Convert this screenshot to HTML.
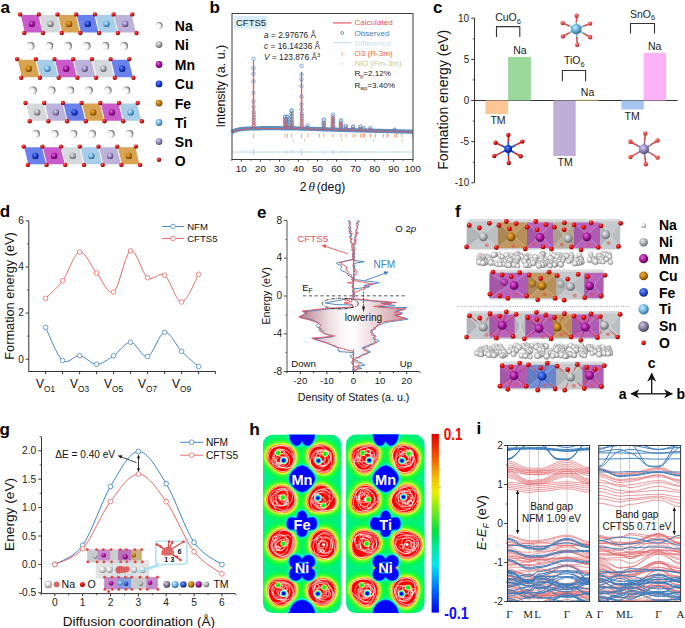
<!DOCTYPE html>
<html><head><meta charset="utf-8"><title>Figure</title>
<style>html,body{margin:0;padding:0;background:#fff;width:685px;height:628px;overflow:hidden}svg{display:block}</style>
</head><body>
<svg width="685" height="628" viewBox="0 0 685 628" font-family='"Liberation Sans", sans-serif'>
<defs>
<radialGradient id="gMn" cx="0.4" cy="0.38" r="0.62" fx="0.38" fy="0.33"><stop offset="0" stop-color="#e070e0"/><stop offset="0.55" stop-color="#a8109e"/><stop offset="1" stop-color="#5a0058"/></radialGradient>
<radialGradient id="gNi" cx="0.4" cy="0.38" r="0.62" fx="0.38" fy="0.33"><stop offset="0" stop-color="#f0f0f0"/><stop offset="0.55" stop-color="#a6a8aa"/><stop offset="1" stop-color="#606264"/></radialGradient>
<radialGradient id="gFe" cx="0.4" cy="0.38" r="0.62" fx="0.38" fy="0.33"><stop offset="0" stop-color="#f0b050"/><stop offset="0.55" stop-color="#c07a08"/><stop offset="1" stop-color="#6a3e00"/></radialGradient>
<radialGradient id="gCu" cx="0.4" cy="0.38" r="0.62" fx="0.38" fy="0.33"><stop offset="0" stop-color="#6a8af8"/><stop offset="0.55" stop-color="#1f3fd0"/><stop offset="1" stop-color="#0a1a70"/></radialGradient>
<radialGradient id="gTi" cx="0.4" cy="0.38" r="0.62" fx="0.38" fy="0.33"><stop offset="0" stop-color="#c8ecff"/><stop offset="0.55" stop-color="#6cb2e0"/><stop offset="1" stop-color="#30688e"/></radialGradient>
<radialGradient id="gSn" cx="0.4" cy="0.38" r="0.62" fx="0.38" fy="0.33"><stop offset="0" stop-color="#d8d0f0"/><stop offset="0.55" stop-color="#9688c0"/><stop offset="1" stop-color="#54486e"/></radialGradient>
<radialGradient id="gO" cx="0.4" cy="0.38" r="0.62" fx="0.38" fy="0.33"><stop offset="0" stop-color="#ff7070"/><stop offset="0.55" stop-color="#d81010"/><stop offset="1" stop-color="#800000"/></radialGradient>
<radialGradient id="gNa" cx="0.4" cy="0.38" r="0.62" fx="0.38" fy="0.33"><stop offset="0" stop-color="#ffffff"/><stop offset="0.55" stop-color="#f2f2f2"/><stop offset="1" stop-color="#8a8a8a"/></radialGradient>
<radialGradient id="gNa2" cx="0.36" cy="0.6" r="0.78" fx="0.34" fy="0.62"><stop offset="0" stop-color="#ffffff"/><stop offset="0.38" stop-color="#f8f8f8"/><stop offset="0.58" stop-color="#d0d0d0"/><stop offset="0.8" stop-color="#6a6a6a"/><stop offset="1" stop-color="#303030"/></radialGradient>
<radialGradient id="gOc" cx="0.42" cy="0.4" r="0.62" fx="0.36" fy="0.33"><stop offset="0" stop-color="#ff9a9a"/><stop offset="0.55" stop-color="#e44a46"/><stop offset="1" stop-color="#a82020"/></radialGradient>
<linearGradient id="dosL" gradientUnits="userSpaceOnUse" x1="298" y1="0" x2="354" y2="0"><stop offset="0" stop-color="#b27a8a"/><stop offset="0.25" stop-color="#cca6b1"/><stop offset="0.55" stop-color="#ecdde1"/><stop offset="0.78" stop-color="#faf5f6"/><stop offset="1" stop-color="#ffffff"/></linearGradient>
<linearGradient id="dosR" gradientUnits="userSpaceOnUse" x1="353" y1="0" x2="407" y2="0"><stop offset="0" stop-color="#ffffff"/><stop offset="0.4" stop-color="#ead5da"/><stop offset="0.78" stop-color="#d6a8b3"/><stop offset="1" stop-color="#c48e9b"/></linearGradient>
<radialGradient id="fNi" cx="0.42" cy="0.4" r="0.62" fx="0.36" fy="0.32"><stop offset="0" stop-color="#eceeef"/><stop offset="0.55" stop-color="#a9aeb2"/><stop offset="1" stop-color="#5f6366"/></radialGradient>
<radialGradient id="fMn" cx="0.42" cy="0.4" r="0.62" fx="0.36" fy="0.32"><stop offset="0" stop-color="#e468e0"/><stop offset="0.55" stop-color="#a8189e"/><stop offset="1" stop-color="#4e0048"/></radialGradient>
<radialGradient id="fCu" cx="0.42" cy="0.4" r="0.62" fx="0.36" fy="0.32"><stop offset="0" stop-color="#f0b040"/><stop offset="0.55" stop-color="#bd7d12"/><stop offset="1" stop-color="#5e3a00"/></radialGradient>
<radialGradient id="fFe" cx="0.42" cy="0.4" r="0.62" fx="0.36" fy="0.32"><stop offset="0" stop-color="#7090ff"/><stop offset="0.55" stop-color="#2d55d2"/><stop offset="1" stop-color="#0c1e70"/></radialGradient>
<radialGradient id="fTi" cx="0.42" cy="0.4" r="0.62" fx="0.36" fy="0.32"><stop offset="0" stop-color="#d0f0ff"/><stop offset="0.55" stop-color="#70b8e8"/><stop offset="1" stop-color="#2d6890"/></radialGradient>
<radialGradient id="fSn" cx="0.42" cy="0.4" r="0.62" fx="0.36" fy="0.32"><stop offset="0" stop-color="#d6d0e6"/><stop offset="0.55" stop-color="#8a80a2"/><stop offset="1" stop-color="#403850"/></radialGradient>
<radialGradient id="fO" cx="0.42" cy="0.4" r="0.62" fx="0.36" fy="0.3"><stop offset="0" stop-color="#ff7070"/><stop offset="0.5" stop-color="#e60a0a"/><stop offset="1" stop-color="#8a0000"/></radialGradient>
<radialGradient id="fNa" cx="0.42" cy="0.4" r="0.62" fx="0.36" fy="0.3"><stop offset="0" stop-color="#ffffff"/><stop offset="0.45" stop-color="#e6e6e6"/><stop offset="0.8" stop-color="#acacac"/><stop offset="1" stop-color="#707070"/></radialGradient>
<marker id="fah" viewBox="0 0 10 10" refX="9" refY="5" markerWidth="7" markerHeight="7" orient="auto-start-reverse"><path d="M0,0 L10,5 L0,10 L3,5 z" fill="#111"/></marker>
<filter id="hb0" x="-40%" y="-40%" width="180%" height="180%"><feGaussianBlur stdDeviation="2.0"/></filter>
<filter id="hb1" x="-30%" y="-30%" width="160%" height="160%"><feGaussianBlur stdDeviation="1.6"/></filter>
<filter id="hb2" x="-30%" y="-30%" width="160%" height="160%"><feGaussianBlur stdDeviation="0.8"/></filter>
<filter id="hb3" x="-30%" y="-30%" width="160%" height="160%"><feGaussianBlur stdDeviation="0.35"/></filter>
<clipPath id="hcL"><rect x="263" y="434.8" width="77.9" height="178.2" rx="9.5"/></clipPath>
<clipPath id="hcR"><rect x="346.1" y="434.6" width="78.4" height="178.4" rx="9.5"/></clipPath>
<linearGradient id="hcb" x1="0" y1="0" x2="0" y2="1"><stop offset="0" stop-color="#e00000"/><stop offset="0.12" stop-color="#f05000"/><stop offset="0.25" stop-color="#f6c000"/><stop offset="0.33" stop-color="#e8f000"/><stop offset="0.45" stop-color="#60e820"/><stop offset="0.55" stop-color="#00e040"/><stop offset="0.62" stop-color="#00e890"/><stop offset="0.73" stop-color="#00e8f0"/><stop offset="0.85" stop-color="#0080ff"/><stop offset="1" stop-color="#0000e8"/></linearGradient>
<path id="rb1" d="M13.5,0 C13.4,1.8 12.9,3.7 12.3,5.3 C11.7,7 10.8,8.7 9.6,10 C8.4,11.4 6.9,12.7 5.3,13.3 C3.7,14 1.7,14.2 0,14 C-1.7,13.8 -3.4,12.9 -4.8,12.1 C-6.2,11.3 -7.5,10.2 -8.6,9 C-9.8,7.9 -11,6.7 -12,5.2 C-12.9,3.7 -13.9,1.8 -14.1,0 C-14.4,-1.8 -14.2,-4.1 -13.5,-5.8 C-12.8,-7.6 -11.3,-9.2 -9.8,-10.3 C-8.4,-11.4 -6.5,-11.9 -4.9,-12.3 C-3.2,-12.7 -1.6,-12.8 0,-12.8 C1.6,-12.8 3.3,-12.8 4.9,-12.3 C6.5,-11.8 8.2,-11.1 9.5,-10 C10.8,-8.8 12,-7.2 12.7,-5.5 C13.3,-3.8 13.5,-1.8 13.5,0Z"/>
<path id="rb2" d="M13,0 C13,1.7 12.7,3.6 12.2,5.3 C11.6,7 10.8,8.7 9.7,10.2 C8.6,11.6 7,12.9 5.4,13.7 C3.8,14.4 1.7,14.7 0,14.5 C-1.7,14.3 -3.5,13.5 -5,12.6 C-6.4,11.7 -7.6,10.3 -8.7,9.1 C-9.8,7.8 -10.7,6.5 -11.4,5 C-12.2,3.4 -13,1.8 -13.2,0 C-13.5,-1.8 -13.5,-3.9 -13,-5.6 C-12.4,-7.4 -11.3,-9.2 -10,-10.5 C-8.7,-11.7 -6.9,-12.6 -5.2,-13.1 C-3.5,-13.7 -1.7,-13.8 0,-13.7 C1.7,-13.5 3.4,-13.2 5,-12.5 C6.5,-11.8 8,-10.9 9.2,-9.6 C10.4,-8.4 11.4,-6.8 12.1,-5.2 C12.7,-3.6 13,-1.7 13,0Z"/>
<path id="rb3" d="M14.1,0 C14.2,1.8 13.9,4 13.1,5.6 C12.4,7.3 11.1,9 9.8,10.1 C8.4,11.3 6.6,12 5,12.5 C3.4,13 1.6,13.1 0,13 C-1.6,13 -3.3,12.7 -4.9,12.2 C-6.5,11.7 -8.2,11 -9.6,10 C-11,8.9 -12.4,7.3 -13.2,5.7 C-13.9,4 -14.4,1.9 -14.3,0 C-14.2,-1.9 -13.6,-3.9 -12.7,-5.5 C-11.9,-7.1 -10.7,-8.6 -9.4,-9.7 C-8.1,-10.9 -6.6,-11.9 -5,-12.5 C-3.4,-13.2 -1.7,-13.6 0,-13.6 C1.7,-13.6 3.5,-13.3 5.1,-12.6 C6.6,-12 8.2,-11 9.4,-9.8 C10.7,-8.6 11.8,-7 12.6,-5.4 C13.4,-3.8 14,-1.8 14.1,0Z"/>
<path id="rb4" d="M14.4,0 C14.7,1.9 14.6,4.2 13.9,6 C13.1,7.7 11.5,9.3 10,10.3 C8.4,11.3 6.4,11.6 4.8,11.9 C3.1,12.3 1.6,12.2 0,12.3 C-1.6,12.3 -3.2,12.6 -4.9,12.3 C-6.6,12 -8.7,11.6 -10.1,10.5 C-11.6,9.4 -13,7.6 -13.6,5.9 C-14.3,4.1 -14.2,1.8 -13.9,0 C-13.7,-1.8 -12.8,-3.6 -12,-5.2 C-11.2,-6.8 -10.3,-8.2 -9.2,-9.6 C-8.1,-10.9 -6.8,-12.3 -5.2,-13.1 C-3.7,-13.9 -1.7,-14.4 0,-14.3 C1.7,-14.3 3.5,-13.4 5,-12.6 C6.5,-11.7 7.7,-10.4 8.9,-9.2 C10.1,-8 11.2,-6.7 12.1,-5.2 C13,-3.7 14.1,-1.9 14.4,0Z"/>
<path id="rb5" d="M13.2,0 C13.1,1.7 12.7,3.5 12,5.1 C11.4,6.7 10.6,8.3 9.5,9.6 C8.3,10.9 6.9,12.2 5.3,13.1 C3.8,13.9 1.8,14.4 0,14.5 C-1.8,14.6 -3.8,14.2 -5.5,13.5 C-7.2,12.7 -8.8,11.5 -10,10.2 C-11.2,8.8 -12.2,7.1 -12.8,5.4 C-13.4,3.7 -13.6,1.7 -13.5,0 C-13.4,-1.7 -12.9,-3.5 -12.2,-5.1 C-11.5,-6.7 -10.5,-8.2 -9.4,-9.5 C-8.2,-10.8 -6.8,-12 -5.2,-12.8 C-3.7,-13.6 -1.8,-14.3 0,-14.5 C1.8,-14.6 3.9,-14.4 5.6,-13.7 C7.3,-13 9,-11.7 10.2,-10.3 C11.4,-8.9 12.2,-7.1 12.7,-5.3 C13.2,-3.6 13.3,-1.7 13.2,0Z"/>
<path id="rb6" d="M13,0 C13.1,1.7 13.1,3.6 12.6,5.3 C12.1,7 11.2,8.8 10,10.2 C8.9,11.5 7.2,12.8 5.5,13.5 C3.8,14.2 1.8,14.6 0,14.5 C-1.8,14.4 -3.7,13.9 -5.4,13.1 C-7,12.3 -8.5,11.1 -9.7,9.8 C-10.8,8.5 -11.8,6.8 -12.4,5.2 C-13,3.6 -13.2,1.7 -13.2,0 C-13.2,-1.7 -12.9,-3.5 -12.3,-5.2 C-11.7,-6.8 -10.9,-8.5 -9.7,-9.9 C-8.6,-11.3 -7.1,-12.6 -5.5,-13.5 C-3.9,-14.3 -1.8,-14.9 0,-14.9 C1.8,-14.8 3.9,-14.3 5.5,-13.4 C7.1,-12.5 8.5,-11.1 9.6,-9.7 C10.7,-8.3 11.4,-6.7 12,-5 C12.6,-3.4 12.9,-1.7 13,0Z"/>
<path id="rb7" d="M14.2,0 C14,1.8 13,3.7 12.1,5.2 C11.2,6.8 10,8 8.8,9.1 C7.5,10.3 6.3,11.4 4.8,12.2 C3.4,12.9 1.7,13.7 0,13.9 C-1.7,14 -3.6,13.8 -5.2,13.1 C-6.8,12.5 -8.3,11.2 -9.5,9.9 C-10.7,8.6 -11.6,7 -12.3,5.3 C-13,3.7 -13.5,1.8 -13.6,0 C-13.7,-1.8 -13.5,-3.9 -12.9,-5.6 C-12.2,-7.2 -11,-8.9 -9.6,-10.1 C-8.3,-11.2 -6.5,-11.9 -4.9,-12.3 C-3.3,-12.7 -1.6,-12.7 0,-12.7 C1.6,-12.7 3.2,-12.6 4.8,-12.1 C6.4,-11.7 8.3,-11.2 9.7,-10.2 C11.2,-9.1 12.7,-7.5 13.5,-5.8 C14.2,-4.1 14.4,-1.8 14.2,0Z"/>
<path id="rb8" d="M13.9,0 C13.8,1.8 13.2,3.7 12.4,5.4 C11.6,7 10.5,8.5 9.3,9.7 C8.1,11 6.6,12 5,12.7 C3.5,13.3 1.7,13.7 0,13.6 C-1.7,13.6 -3.4,13.1 -4.9,12.4 C-6.4,11.7 -7.8,10.7 -9.1,9.5 C-10.3,8.3 -11.5,6.9 -12.3,5.3 C-13.2,3.8 -13.9,1.8 -14.1,0 C-14.2,-1.8 -13.9,-4 -13.2,-5.7 C-12.4,-7.4 -11,-9 -9.6,-10.1 C-8.2,-11.2 -6.4,-11.8 -4.8,-12.2 C-3.2,-12.7 -1.6,-12.8 0,-12.8 C1.6,-12.8 3.3,-12.7 4.9,-12.3 C6.5,-11.8 8.2,-11.1 9.6,-10 C10.9,-8.9 12.3,-7.3 13,-5.6 C13.7,-3.9 14,-1.8 13.9,0Z"/>
<path id="rb61" d="M13.2,0 C12.7,1.8 11.6,3.2 10.8,4.7 C10,6.1 9.4,7.4 8.4,8.8 C7.5,10.2 6.5,11.9 5.1,12.9 C3.7,14 1.8,15 0,15.1 C-1.8,15.2 -3.8,14.5 -5.4,13.6 C-6.9,12.7 -8.2,11 -9.2,9.6 C-10.3,8.2 -11.1,6.7 -11.8,5.1 C-12.5,3.5 -13.3,1.8 -13.5,0 C-13.7,-1.8 -13.6,-3.9 -12.9,-5.6 C-12.3,-7.2 -10.8,-8.8 -9.5,-9.9 C-8.1,-10.9 -6.3,-11.4 -4.7,-11.8 C-3.1,-12.3 -1.6,-12.5 0,-12.6 C1.6,-12.8 3.4,-13.2 5.1,-13 C6.9,-12.7 9.1,-12.2 10.5,-11 C12,-9.8 13.2,-7.8 13.7,-5.9 C14.1,-4.1 13.7,-1.8 13.2,0Z"/>
<path id="rb62" d="M13.4,0 C13.3,1.8 12.8,3.6 12.1,5.2 C11.4,6.9 10.5,8.4 9.3,9.8 C8.2,11.1 6.9,12.5 5.3,13.4 C3.7,14.2 1.8,14.9 0,14.8 C-1.8,14.8 -3.7,14.1 -5.2,13.2 C-6.7,12.2 -7.9,10.6 -8.9,9.3 C-9.8,7.9 -10.4,6.3 -11.1,4.8 C-11.7,3.2 -12.4,1.7 -12.7,0 C-13,-1.7 -13.3,-3.8 -12.9,-5.6 C-12.5,-7.4 -11.6,-9.4 -10.3,-10.8 C-9.1,-12.1 -7.1,-13.1 -5.4,-13.5 C-3.6,-14 -1.7,-13.8 0,-13.6 C1.7,-13.3 3.3,-12.8 4.8,-12.1 C6.3,-11.4 7.9,-10.6 9.1,-9.5 C10.4,-8.4 11.6,-6.9 12.4,-5.3 C13.1,-3.8 13.4,-1.8 13.4,0Z"/>
<path id="rb63" d="M14.1,0 C14.1,1.8 13.6,3.9 12.8,5.5 C12,7.1 10.5,8.5 9.2,9.5 C7.8,10.6 6.2,11.2 4.7,11.8 C3.2,12.4 1.7,12.9 0,13.2 C-1.7,13.4 -3.6,13.7 -5.3,13.3 C-7.1,13 -9.1,12.1 -10.5,10.9 C-11.8,9.6 -12.9,7.6 -13.4,5.7 C-13.9,3.9 -13.6,1.8 -13.3,0 C-13,-1.8 -12.3,-3.4 -11.6,-5 C-10.9,-6.5 -10.1,-8 -9,-9.3 C-7.9,-10.7 -6.7,-12.1 -5.2,-12.9 C-3.7,-13.7 -1.7,-14.3 0,-14.3 C1.7,-14.4 3.6,-13.8 5.2,-13.1 C6.8,-12.3 8.3,-11.1 9.5,-9.9 C10.8,-8.6 11.9,-7.1 12.7,-5.5 C13.5,-3.8 14.1,-1.8 14.1,0Z"/>
<path id="rb64" d="M13.3,0 C13.3,1.8 13,3.7 12.3,5.3 C11.7,6.9 10.6,8.6 9.4,9.8 C8.2,11 6.6,11.9 5,12.5 C3.4,13.1 1.7,13.4 0,13.5 C-1.7,13.5 -3.5,13.4 -5.2,12.9 C-6.8,12.4 -8.7,11.6 -10.1,10.4 C-11.4,9.3 -12.8,7.5 -13.4,5.8 C-14.1,4 -14.2,1.8 -13.9,0 C-13.6,-1.8 -12.7,-3.6 -11.9,-5.1 C-11,-6.6 -9.9,-7.9 -8.7,-9.1 C-7.6,-10.2 -6.4,-11.4 -4.9,-12.3 C-3.5,-13.2 -1.7,-14.1 0,-14.3 C1.7,-14.5 3.8,-14.4 5.5,-13.7 C7.1,-13.1 8.8,-11.7 10,-10.3 C11.1,-8.9 12,-7.1 12.5,-5.4 C13.1,-3.7 13.3,-1.8 13.3,0Z"/>
<path id="rb65" d="M14.8,0 C14.7,1.9 13.7,3.8 12.8,5.4 C11.8,6.9 10.3,8 9,9.1 C7.6,10.1 6.3,11 4.8,11.8 C3.3,12.5 1.7,13.4 0,13.7 C-1.7,14.1 -3.9,14.2 -5.6,13.7 C-7.3,13.2 -9.2,12 -10.5,10.6 C-11.7,9.2 -12.5,7.3 -13,5.5 C-13.5,3.7 -13.6,1.8 -13.5,0 C-13.4,-1.8 -13.1,-3.6 -12.4,-5.2 C-11.8,-6.9 -10.9,-8.6 -9.7,-9.9 C-8.5,-11.1 -6.9,-12.2 -5.3,-12.9 C-3.6,-13.5 -1.7,-13.6 0,-13.5 C1.7,-13.5 3.4,-13.1 5.1,-12.5 C6.7,-11.9 8.5,-11.1 9.9,-10 C11.3,-8.9 12.9,-7.4 13.7,-5.8 C14.5,-4.1 15,-1.9 14.8,0Z"/>
<path id="rb66" d="M14.5,0 C14.6,1.8 14,3.9 13.2,5.5 C12.4,7.2 11.1,8.7 9.8,9.9 C8.5,11.2 6.9,12.2 5.3,12.9 C3.6,13.6 1.8,14.1 0,14.1 C-1.8,14.1 -3.7,13.6 -5.2,12.8 C-6.8,12.1 -8.2,10.8 -9.3,9.5 C-10.5,8.2 -11.3,6.6 -12.1,5.1 C-12.8,3.5 -13.4,1.8 -13.7,0 C-13.9,-1.8 -14,-3.9 -13.5,-5.7 C-13,-7.5 -12,-9.5 -10.6,-10.8 C-9.3,-12 -7.2,-13 -5.5,-13.4 C-3.7,-13.8 -1.7,-13.6 0,-13.3 C1.7,-13 3.3,-12.5 4.8,-11.8 C6.4,-11.2 7.9,-10.5 9.3,-9.4 C10.7,-8.4 12.1,-7 13,-5.5 C13.9,-3.9 14.5,-1.8 14.5,0Z"/>
<path id="rb67" d="M13.2,0 C13.1,1.8 12.7,3.6 12.1,5.2 C11.5,6.9 10.8,8.7 9.6,10.1 C8.5,11.5 7,13 5.4,13.7 C3.8,14.4 1.7,14.6 0,14.4 C-1.7,14.1 -3.4,13.1 -4.8,12.2 C-6.2,11.2 -7.3,10 -8.4,8.8 C-9.5,7.6 -10.7,6.5 -11.6,5 C-12.5,3.6 -13.7,1.8 -14,0 C-14.3,-1.8 -14.3,-4.2 -13.7,-5.9 C-13,-7.7 -11.5,-9.4 -10,-10.5 C-8.5,-11.5 -6.6,-12 -4.9,-12.4 C-3.2,-12.8 -1.6,-12.8 0,-12.8 C1.6,-12.8 3.3,-12.8 4.9,-12.3 C6.5,-11.8 8.3,-11.1 9.6,-10 C10.9,-8.9 12,-7.1 12.6,-5.5 C13.2,-3.8 13.3,-1.8 13.2,0Z"/>
<path id="rb68" d="M12.5,0 C12.4,1.7 12,3.3 11.4,4.9 C10.9,6.6 10.2,8.2 9.2,9.7 C8.2,11.1 6.9,12.7 5.4,13.6 C3.8,14.5 1.8,15.1 0,15 C-1.8,15 -3.8,14.3 -5.3,13.3 C-6.8,12.4 -8.1,10.9 -9.1,9.6 C-10.2,8.2 -11,6.6 -11.6,5 C-12.2,3.4 -12.7,1.7 -12.8,0 C-12.9,-1.7 -12.8,-3.6 -12.2,-5.3 C-11.7,-7 -10.7,-8.7 -9.5,-9.9 C-8.3,-11.2 -6.7,-12.3 -5.1,-13 C-3.6,-13.7 -1.7,-14.1 0,-14.1 C1.7,-14.2 3.6,-14 5.3,-13.3 C6.9,-12.6 8.6,-11.5 9.7,-10.2 C10.9,-8.8 11.7,-7 12.2,-5.3 C12.7,-3.6 12.6,-1.7 12.5,0Z"/>
<linearGradient id="hbg" x1="0" y1="0" x2="1" y2="0"><stop offset="0" stop-color="#00f090"/><stop offset="0.1" stop-color="#00f080"/><stop offset="0.5" stop-color="#00f078"/><stop offset="0.9" stop-color="#00f080"/><stop offset="1" stop-color="#00f090"/></linearGradient>
<clipPath id="icL"><rect x="507.5" y="445.5" width="82" height="156"/></clipPath>
<clipPath id="icR"><rect x="598.7" y="445.5" width="81.9" height="156"/></clipPath>
</defs>
<rect width="685" height="628" fill="#fff"/>
<text x="0.5" y="12.9" font-size="17" font-weight="bold" fill="#000">a</text>
<polygon points="20.7,15 38.2,15 42.5,32.4 24.9,32.4" fill="#c95bcb" stroke="none" stroke-width="1"/>
<polygon points="39.3,15 57,15 61.2,32.4 43.5,32.4" fill="#d5d9dc" stroke="none" stroke-width="1"/>
<polygon points="58,15 75.7,15 79.9,32.4 62.2,32.4" fill="#d9a354" stroke="none" stroke-width="1"/>
<polygon points="76.7,15 94.3,15 98.5,32.4 80.9,32.4" fill="#6a80ea" stroke="none" stroke-width="1"/>
<polygon points="95.5,15 113.1,15 117.3,32.4 99.7,32.4" fill="#a8cde8" stroke="none" stroke-width="1"/>
<polygon points="114.1,15 131.7,15 135.9,32.4 118.3,32.4" fill="#bdb3da" stroke="none" stroke-width="1"/>
<circle cx="31.8" cy="23.9" r="3.2" fill="url(#gMn)"/>
<circle cx="50.5" cy="23.9" r="3.2" fill="url(#gNi)"/>
<circle cx="69.1" cy="23.9" r="3.2" fill="url(#gFe)"/>
<circle cx="87.8" cy="23.9" r="3.2" fill="url(#gCu)"/>
<circle cx="106.5" cy="23.9" r="3.2" fill="url(#gTi)"/>
<circle cx="125.2" cy="23.9" r="3.2" fill="url(#gSn)"/>
<circle cx="20.1" cy="14.4" r="2.2" fill="url(#gO)"/>
<circle cx="24.3" cy="33" r="2.2" fill="url(#gO)"/>
<circle cx="38.8" cy="14.4" r="2.2" fill="url(#gO)"/>
<circle cx="43" cy="33" r="2.2" fill="url(#gO)"/>
<circle cx="57.5" cy="14.4" r="2.2" fill="url(#gO)"/>
<circle cx="61.7" cy="33" r="2.2" fill="url(#gO)"/>
<circle cx="76.2" cy="14.4" r="2.2" fill="url(#gO)"/>
<circle cx="80.4" cy="33" r="2.2" fill="url(#gO)"/>
<circle cx="94.9" cy="14.4" r="2.2" fill="url(#gO)"/>
<circle cx="99.1" cy="33" r="2.2" fill="url(#gO)"/>
<circle cx="113.6" cy="14.4" r="2.2" fill="url(#gO)"/>
<circle cx="117.8" cy="33" r="2.2" fill="url(#gO)"/>
<circle cx="132.3" cy="14.4" r="2.2" fill="url(#gO)"/>
<circle cx="136.5" cy="33" r="2.2" fill="url(#gO)"/>
<polygon points="17.7,59.7 35.2,59.7 39.5,77.2 21.9,77.2" fill="#d9a354" stroke="none" stroke-width="1"/>
<polygon points="36.3,59.7 54,59.7 58.2,77.2 40.5,77.2" fill="#a8cde8" stroke="none" stroke-width="1"/>
<polygon points="55,59.7 72.7,59.7 76.9,77.2 59.2,77.2" fill="#c95bcb" stroke="none" stroke-width="1"/>
<polygon points="73.7,59.7 91.3,59.7 95.5,77.2 77.9,77.2" fill="#bdb3da" stroke="none" stroke-width="1"/>
<polygon points="92.5,59.7 110.1,59.7 114.3,77.2 96.7,77.2" fill="#d5d9dc" stroke="none" stroke-width="1"/>
<polygon points="111.1,59.7 128.7,59.7 132.9,77.2 115.3,77.2" fill="#6a80ea" stroke="none" stroke-width="1"/>
<circle cx="28.8" cy="68.7" r="3.2" fill="url(#gFe)"/>
<circle cx="47.5" cy="68.7" r="3.2" fill="url(#gTi)"/>
<circle cx="66.2" cy="68.7" r="3.2" fill="url(#gMn)"/>
<circle cx="84.8" cy="68.7" r="3.2" fill="url(#gSn)"/>
<circle cx="103.5" cy="68.7" r="3.2" fill="url(#gNi)"/>
<circle cx="122.2" cy="68.7" r="3.2" fill="url(#gCu)"/>
<circle cx="17.1" cy="59.1" r="2.2" fill="url(#gO)"/>
<circle cx="21.3" cy="77.8" r="2.2" fill="url(#gO)"/>
<circle cx="35.8" cy="59.1" r="2.2" fill="url(#gO)"/>
<circle cx="40" cy="77.8" r="2.2" fill="url(#gO)"/>
<circle cx="54.5" cy="59.1" r="2.2" fill="url(#gO)"/>
<circle cx="58.7" cy="77.8" r="2.2" fill="url(#gO)"/>
<circle cx="73.2" cy="59.1" r="2.2" fill="url(#gO)"/>
<circle cx="77.4" cy="77.8" r="2.2" fill="url(#gO)"/>
<circle cx="91.9" cy="59.1" r="2.2" fill="url(#gO)"/>
<circle cx="96.1" cy="77.8" r="2.2" fill="url(#gO)"/>
<circle cx="110.6" cy="59.1" r="2.2" fill="url(#gO)"/>
<circle cx="114.8" cy="77.8" r="2.2" fill="url(#gO)"/>
<circle cx="129.3" cy="59.1" r="2.2" fill="url(#gO)"/>
<circle cx="133.5" cy="77.8" r="2.2" fill="url(#gO)"/>
<polygon points="26.1,103.6 43.7,103.6 47.9,120.7 30.2,120.7" fill="#d5d9dc" stroke="none" stroke-width="1"/>
<polygon points="44.8,103.6 62.4,103.6 66.6,120.7 49,120.7" fill="#bdb3da" stroke="none" stroke-width="1"/>
<polygon points="63.4,103.6 81,103.6 85.2,120.7 67.6,120.7" fill="#6a80ea" stroke="none" stroke-width="1"/>
<polygon points="82.1,103.6 99.8,103.6 104,120.7 86.3,120.7" fill="#d9a354" stroke="none" stroke-width="1"/>
<polygon points="100.8,103.6 118.5,103.6 122.7,120.7 105,120.7" fill="#c95bcb" stroke="none" stroke-width="1"/>
<polygon points="119.5,103.6 137.1,103.6 141.3,120.7 123.8,120.7" fill="#a8cde8" stroke="none" stroke-width="1"/>
<circle cx="37.2" cy="112.4" r="3.2" fill="url(#gNi)"/>
<circle cx="55.9" cy="112.4" r="3.2" fill="url(#gSn)"/>
<circle cx="74.5" cy="112.4" r="3.2" fill="url(#gCu)"/>
<circle cx="93.2" cy="112.4" r="3.2" fill="url(#gFe)"/>
<circle cx="111.9" cy="112.4" r="3.2" fill="url(#gMn)"/>
<circle cx="130.6" cy="112.4" r="3.2" fill="url(#gTi)"/>
<circle cx="25.5" cy="103" r="2.2" fill="url(#gO)"/>
<circle cx="29.7" cy="121.3" r="2.2" fill="url(#gO)"/>
<circle cx="44.2" cy="103" r="2.2" fill="url(#gO)"/>
<circle cx="48.4" cy="121.3" r="2.2" fill="url(#gO)"/>
<circle cx="62.9" cy="103" r="2.2" fill="url(#gO)"/>
<circle cx="67.1" cy="121.3" r="2.2" fill="url(#gO)"/>
<circle cx="81.6" cy="103" r="2.2" fill="url(#gO)"/>
<circle cx="85.8" cy="121.3" r="2.2" fill="url(#gO)"/>
<circle cx="100.3" cy="103" r="2.2" fill="url(#gO)"/>
<circle cx="104.5" cy="121.3" r="2.2" fill="url(#gO)"/>
<circle cx="119" cy="103" r="2.2" fill="url(#gO)"/>
<circle cx="123.2" cy="121.3" r="2.2" fill="url(#gO)"/>
<circle cx="137.7" cy="103" r="2.2" fill="url(#gO)"/>
<circle cx="141.9" cy="121.3" r="2.2" fill="url(#gO)"/>
<polygon points="24.2,147.2 41.9,147.2 46.1,164.3 28.4,164.3" fill="#6a80ea" stroke="none" stroke-width="1"/>
<polygon points="42.9,147.2 60.5,147.2 64.8,164.3 47.1,164.3" fill="#c95bcb" stroke="none" stroke-width="1"/>
<polygon points="61.6,147.2 79.2,147.2 83.5,164.3 65.8,164.3" fill="#d5d9dc" stroke="none" stroke-width="1"/>
<polygon points="80.3,147.2 98,147.2 102.2,164.3 84.5,164.3" fill="#a8cde8" stroke="none" stroke-width="1"/>
<polygon points="99,147.2 116.7,147.2 120.9,164.3 103.2,164.3" fill="#bdb3da" stroke="none" stroke-width="1"/>
<polygon points="117.8,147.2 135.3,147.2 139.5,164.3 122,164.3" fill="#d9a354" stroke="none" stroke-width="1"/>
<circle cx="35.4" cy="155.9" r="3.2" fill="url(#gCu)"/>
<circle cx="54.1" cy="155.9" r="3.2" fill="url(#gMn)"/>
<circle cx="72.7" cy="155.9" r="3.2" fill="url(#gNi)"/>
<circle cx="91.4" cy="155.9" r="3.2" fill="url(#gTi)"/>
<circle cx="110.1" cy="155.9" r="3.2" fill="url(#gSn)"/>
<circle cx="128.8" cy="155.9" r="3.2" fill="url(#gFe)"/>
<circle cx="23.7" cy="146.6" r="2.2" fill="url(#gO)"/>
<circle cx="27.9" cy="164.9" r="2.2" fill="url(#gO)"/>
<circle cx="42.4" cy="146.6" r="2.2" fill="url(#gO)"/>
<circle cx="46.6" cy="164.9" r="2.2" fill="url(#gO)"/>
<circle cx="61.1" cy="146.6" r="2.2" fill="url(#gO)"/>
<circle cx="65.3" cy="164.9" r="2.2" fill="url(#gO)"/>
<circle cx="79.8" cy="146.6" r="2.2" fill="url(#gO)"/>
<circle cx="84" cy="164.9" r="2.2" fill="url(#gO)"/>
<circle cx="98.5" cy="146.6" r="2.2" fill="url(#gO)"/>
<circle cx="102.7" cy="164.9" r="2.2" fill="url(#gO)"/>
<circle cx="117.2" cy="146.6" r="2.2" fill="url(#gO)"/>
<circle cx="121.4" cy="164.9" r="2.2" fill="url(#gO)"/>
<circle cx="135.9" cy="146.6" r="2.2" fill="url(#gO)"/>
<circle cx="140.1" cy="164.9" r="2.2" fill="url(#gO)"/>
<circle cx="30.6" cy="45.9" r="3.9" fill="url(#gNa2)"/>
<circle cx="49.3" cy="45.9" r="3.9" fill="url(#gNa2)"/>
<circle cx="68" cy="45.9" r="3.9" fill="url(#gNa2)"/>
<circle cx="86.7" cy="45.9" r="3.9" fill="url(#gNa2)"/>
<circle cx="105.4" cy="45.9" r="3.9" fill="url(#gNa2)"/>
<circle cx="124.1" cy="45.9" r="3.9" fill="url(#gNa2)"/>
<circle cx="32.9" cy="90.3" r="3.9" fill="url(#gNa2)"/>
<circle cx="51.6" cy="90.3" r="3.9" fill="url(#gNa2)"/>
<circle cx="70.3" cy="90.3" r="3.9" fill="url(#gNa2)"/>
<circle cx="89" cy="90.3" r="3.9" fill="url(#gNa2)"/>
<circle cx="107.7" cy="90.3" r="3.9" fill="url(#gNa2)"/>
<circle cx="126.4" cy="90.3" r="3.9" fill="url(#gNa2)"/>
<circle cx="36" cy="133.8" r="3.9" fill="url(#gNa2)"/>
<circle cx="54.7" cy="133.8" r="3.9" fill="url(#gNa2)"/>
<circle cx="73.4" cy="133.8" r="3.9" fill="url(#gNa2)"/>
<circle cx="92.1" cy="133.8" r="3.9" fill="url(#gNa2)"/>
<circle cx="110.8" cy="133.8" r="3.9" fill="url(#gNa2)"/>
<circle cx="129.5" cy="133.8" r="3.9" fill="url(#gNa2)"/>
<circle cx="159" cy="25.5" r="3.6" fill="url(#gNa2)"/>
<text x="174.8" y="30.6" font-size="14" font-weight="bold" fill="#000">Na</text>
<circle cx="159" cy="44.6" r="3.4" fill="url(#gNi)"/>
<text x="174.8" y="50.2" font-size="14" font-weight="bold" fill="#000">Ni</text>
<circle cx="159" cy="64.5" r="3.4" fill="url(#gMn)"/>
<text x="174.8" y="69.7" font-size="14" font-weight="bold" fill="#000">Mn</text>
<circle cx="159" cy="83.9" r="3.4" fill="url(#gCu)"/>
<text x="174.8" y="89" font-size="14" font-weight="bold" fill="#000">Cu</text>
<circle cx="159" cy="103.1" r="3.4" fill="url(#gFe)"/>
<text x="174.8" y="108.6" font-size="14" font-weight="bold" fill="#000">Fe</text>
<circle cx="159" cy="122.5" r="3.4" fill="url(#gTi)"/>
<text x="174.8" y="128" font-size="14" font-weight="bold" fill="#000">Ti</text>
<circle cx="159" cy="141.6" r="3.4" fill="url(#gSn)"/>
<text x="174.8" y="147.3" font-size="14" font-weight="bold" fill="#000">Sn</text>
<circle cx="159" cy="159.8" r="2.2" fill="url(#gO)"/>
<text x="174.8" y="166" font-size="14" font-weight="bold" fill="#000">O</text>
<text x="209.6" y="12.8" font-size="17" font-weight="bold" fill="#000">b</text>
<text transform="translate(224.8,86.1) rotate(-90)" font-size="12.5" text-anchor="middle" fill="#111">Intensity (a. u.)</text>
<rect x="234.2" y="16" width="32.8" height="12.8" fill="#d9edf7"/>
<text x="236" y="25.8" font-size="9.5" fill="#1a1a1a">CFTS5</text>
<text x="264.1" y="38.4" font-size="8.3" fill="#222"><tspan font-style="italic">a</tspan> = 2.97676 Å</text>
<text x="264.1" y="48.6" font-size="8.3" fill="#222"><tspan font-style="italic">c</tspan> = 16.14236 Å</text>
<text x="264.1" y="59.9" font-size="8.3" fill="#222"><tspan font-style="italic">V</tspan> = 123.876 Å<tspan dy="-3" font-size="5.5">3</tspan></text>
<line x1="333" y1="22.9" x2="351.4" y2="22.9" stroke="#e8555d" stroke-width="1.2"/>
<text x="354.4" y="25.3" font-size="8.1" fill="#e8555d">Calculated</text>
<circle cx="342.2" cy="33" r="1.5" fill="none" stroke="#4d80b0" stroke-width="0.8"/>
<text x="354.4" y="35.5" font-size="8.1" fill="#4d80b0">Observed</text>
<line x1="333" y1="42.6" x2="351.4" y2="42.6" stroke="#c8dff0" stroke-width="1.2"/>
<text x="354.4" y="45.6" font-size="8.1" fill="#c8dff0">Difference</text>
<line x1="342.2" y1="52.2" x2="342.2" y2="55.2" stroke="#f07040" stroke-width="0.8"/>
<text x="354.4" y="55.8" font-size="8.1" fill="#ea6a30">O3 (R-3m)</text>
<line x1="342.2" y1="62" x2="342.2" y2="65" stroke="#cdd0a0" stroke-width="0.8"/>
<text x="354.4" y="65.6" font-size="8.1" fill="#c8c894">NiO (Fm-3m)</text>
<text x="354.4" y="76.1" font-size="8.1" fill="#222">R<tspan dy="2" font-size="5.5">p</tspan><tspan dy="-2">=2.12%</tspan></text>
<text x="354.4" y="87.5" font-size="8.1" fill="#222">R<tspan dy="2" font-size="5.5">wp</tspan><tspan dy="-2">=3.40%</tspan></text>
<path d="M231.8,152 L232.4,152 L232.9,152 L233.5,152 L234.1,152 L234.7,151.9 L235.2,151.9 L235.8,152.1 L236.4,152 L236.9,152 L237.5,152.1 L238.1,152 L238.7,152.1 L239.2,152 L239.8,152 L240.4,151.9 L240.9,152 L241.5,152.1 L242.1,152 L242.7,152 L243.2,152 L243.8,151.9 L244.4,152 L244.9,152 L245.5,152 L246.1,151.9 L246.7,152.1 L247.2,152 L247.8,152 L248.4,152.1 L248.9,152 L249.5,152.1 L250.1,152 L250.7,152 L251.2,152 L251.8,152.1 L252.4,152.1 L252.9,152.8 L253.1,152.3 L253.2,150.6 L253.3,148.9 L253.4,149.2 L253.5,152 L253.6,154.8 L253.7,155.2 L253.9,153.4 L254,151.6 L254.1,151.2 L254.2,151.5 L254.3,152 L254.4,152 L254.5,152.1 L255.1,152.1 L255.7,152.1 L256.3,152 L256.8,151.9 L257.4,152.1 L258,152.1 L258.5,152.1 L259.1,152 L259.7,152 L260.3,152 L260.8,152.1 L261.4,152 L262,152 L262.5,151.9 L263.1,152.1 L263.7,152.1 L264.3,151.9 L264.8,152 L265.4,152 L266,151.9 L266.5,152 L267.1,152 L267.7,152.1 L268.3,151.9 L268.8,152 L269.4,151.9 L270,152 L270.5,152 L271.1,152.1 L271.7,152.1 L272.3,152 L272.8,152.1 L273.4,152 L274,151.9 L274.5,152 L275.1,151.9 L275.7,152 L276.3,152 L276.8,152 L277.4,151.9 L278,151.9 L278.5,152.1 L279.1,152 L279.7,152.1 L280.3,152.1 L280.8,152 L281.4,152 L282,152 L282.5,152 L283.1,152 L283.7,152 L284.3,152 L284.4,152.1 L284.5,152.1 L284.6,152.1 L284.7,152 L284.8,151.5 L284.9,151.3 L285.1,151.7 L285.2,152.2 L285.3,152.7 L285.4,152.5 L285.5,152.1 L285.6,151.9 L285.7,151.8 L285.9,152 L286,152 L286.1,151.9 L286.7,152.1 L286.8,152.1 L286.9,152.2 L287,152 L287.1,151.6 L287.2,151.4 L287.3,151.5 L287.5,152.1 L287.6,152.7 L287.7,152.6 L287.8,152.1 L287.9,151.9 L288,151.9 L288.1,151.9 L288.3,152 L288.4,152 L289,152 L289.5,152 L290.1,152 L290.7,152 L290.8,152.1 L290.9,152.1 L291,152.3 L291.1,152.3 L291.2,151.7 L291.4,150.9 L291.5,150.7 L291.6,151.5 L291.7,152.8 L291.8,153.3 L291.9,152.9 L292,152 L292.2,151.7 L292.3,151.7 L292.4,152 L292.5,152 L292.6,152.1 L293.2,151.9 L293.8,152 L294.3,152 L294.9,152.1 L295.5,152 L296,152 L296.6,151.9 L297.2,152 L297.8,152 L298.3,152 L298.9,152.1 L299.5,151.9 L300,152 L300.6,152 L300.7,152.1 L300.8,152.5 L301,152.8 L301.1,152.3 L301.2,150.6 L301.3,148.9 L301.4,149.2 L301.5,152 L301.6,154.8 L301.8,155.1 L301.9,153.4 L302,151.7 L302.1,151.1 L302.2,151.4 L302.3,152 L302.4,152.1 L302.6,152.1 L303.1,152 L303.7,152.1 L304.3,152.1 L304.8,152 L305.4,152 L306,152.1 L306.6,152 L307.1,152 L307.2,152 L307.4,152 L307.5,152 L307.6,151.9 L307.7,152 L307.8,152 L307.9,152 L308,151.9 L308.2,152.1 L308.3,152 L308.4,152.1 L308.5,152.1 L308.6,152.1 L309.2,152 L309.8,151.9 L310.3,152 L310.9,151.9 L311.5,152 L312,152 L312.6,152 L313.2,152 L313.8,152.1 L314.3,152 L314.9,152 L315.5,152 L316,152.1 L316.6,152 L317.2,152 L317.8,152 L318.3,152 L318.9,152 L319.5,152.1 L320,151.9 L320.6,152 L321.2,152.1 L321.8,152 L322.3,152.1 L322.9,151.9 L323,152 L323.1,152.2 L323.2,152.1 L323.4,152 L323.5,151.7 L323.6,151.4 L323.7,151.4 L323.8,152 L323.9,152.6 L324,152.6 L324.2,152.2 L324.3,151.9 L324.4,151.8 L324.5,151.8 L324.6,152.1 L324.7,152.1 L324.8,151.9 L325.4,152 L326,152 L326.6,152 L327.1,152 L327.7,152 L328.3,152 L328.8,152 L329.4,152 L330,152 L330.6,151.9 L331.1,152 L331.7,152 L332.3,152.2 L332.4,152.3 L332.5,152.1 L332.6,151.4 L332.7,150.8 L332.8,150.9 L333,152 L333.1,153.2 L333.2,153.3 L333.3,152.5 L333.4,151.8 L333.5,151.7 L333.6,151.8 L333.8,151.9 L333.9,152 L334,152 L334.6,152 L335.1,152 L335.7,152 L336.3,151.9 L336.8,152 L337.4,152 L338,152.1 L338.6,152.1 L339.1,152 L339.7,152.1 L340.3,152.1 L340.4,152.1 L340.5,152.1 L340.6,151.7 L340.7,151.4 L340.8,151.5 L341,152.1 L341.1,152.6 L341.2,152.7 L341.3,152.3 L341.4,151.9 L341.5,151.8 L341.6,151.9 L341.8,151.9 L341.9,151.9 L342,152 L342.6,151.9 L343.1,151.9 L343.7,151.9 L344.3,152.1 L344.8,151.9 L345.4,151.9 L345.5,152.1 L345.6,151.9 L345.8,152.1 L345.9,152 L346,152.1 L346.1,152.1 L346.2,152 L346.3,152 L346.4,151.9 L346.6,152 L346.7,152 L346.8,152 L346.9,151.9 L347.5,152 L348,152.1 L348.6,151.9 L349.2,152 L349.8,152 L350.3,152.1 L350.9,152 L351.5,151.9 L352,152 L352.6,152 L352.7,152 L352.8,152 L353,152 L353.1,152 L353.2,152 L353.3,152 L353.4,151.9 L353.5,152 L353.6,152.1 L353.8,152 L353.9,152 L354,151.9 L354.1,152 L354.7,152 L355.2,152 L355.8,152 L356.4,152 L357,152 L357.5,152.1 L358.1,151.9 L358.7,151.9 L359.2,152 L359.8,152.1 L359.9,152 L360,152 L360.2,152 L360.3,151.9 L360.4,152 L360.5,152 L360.6,152 L360.7,152 L360.8,152 L361,152 L361.1,152.1 L361.2,152 L361.3,152 L361.4,152 L362,152.1 L362.6,152 L363.1,152 L363.2,152 L363.4,151.9 L363.5,152 L363.6,152 L363.7,151.9 L363.8,152 L363.9,152 L364,152 L364.2,151.9 L364.3,152.1 L364.4,152 L364.5,152 L364.6,152 L364.7,152.1 L364.8,152.1 L365.4,152 L366,152 L366.6,152 L367.1,152.1 L367.7,152 L368.3,152 L368.8,152.1 L369.4,152 L370,152 L370.1,152 L370.2,152 L370.3,152 L370.4,152.1 L370.6,152.1 L370.7,152 L370.8,152 L370.9,152 L371,151.9 L371.1,152 L371.2,152.1 L371.4,152.1 L371.5,152 L372,152.1 L372.6,152 L373.2,152 L373.8,152 L374.3,151.9 L374.9,151.9 L375.5,152.1 L376,152 L376.6,152 L377.2,152 L377.8,152 L378.3,151.9 L378.9,152 L379.5,152 L380,152 L380.6,152 L381.2,152 L381.8,152.1 L382.3,152 L382.9,152 L383.5,151.9 L383.6,152 L383.7,152 L383.8,151.9 L383.9,152.1 L384,152.1 L384.2,151.9 L384.3,152.1 L384.4,152 L384.5,152 L384.6,152 L384.7,152 L384.8,152 L385,152 L385.1,152 L385.2,152 L385.8,152 L386.3,152.1 L386.9,152 L387.5,152 L388,151.9 L388.6,152 L389.2,152 L389.8,152 L390.3,152 L390.9,152 L391.5,151.9 L392,152 L392.6,152 L393.2,151.9 L393.8,152.1 L393.9,152 L394,151.9 L394.1,152.1 L394.2,151.9 L394.3,152 L394.4,152 L394.6,152 L394.7,152 L394.8,152 L394.9,152 L395,152 L395.1,151.9 L395.2,151.9 L395.4,152 L395.5,152 L395.6,152 L395.7,152 L396.3,152 L396.8,152 L397.4,152 L398,152.1 L398.6,151.9 L399.1,152 L399.7,152 L400.3,152 L400.8,152 L401.4,152 L401.5,152 L401.6,152 L401.8,152 L401.9,152 L402,152.1 L402.1,151.9 L402.2,152 L402.3,151.9 L402.4,151.9 L402.6,152 L402.7,152 L402.8,151.9 L402.9,152 L403,152 L403.1,152 L403.3,152.1 L403.8,152 L404.4,152 L405,151.9 L405.5,152 L406.1,152 L406.7,152 L407.3,152 L407.8,152 L408.4,152 L409,152 L409.5,151.9 L410.1,152 L410.7,152.1 L411.3,152.1 L411.8,152 L412.4,152" fill="none" stroke="#c4dcef" stroke-width="1.2"/>
<line x1="253.5" y1="133.6" x2="253.5" y2="137.6" stroke="#f38a5c" stroke-width="0.8"/>
<line x1="285.1" y1="133.6" x2="285.1" y2="137.6" stroke="#f38a5c" stroke-width="0.8"/>
<line x1="287.4" y1="133.6" x2="287.4" y2="137.6" stroke="#f38a5c" stroke-width="0.8"/>
<line x1="291.6" y1="133.6" x2="291.6" y2="137.6" stroke="#f38a5c" stroke-width="0.8"/>
<line x1="301.5" y1="133.6" x2="301.5" y2="137.6" stroke="#f38a5c" stroke-width="0.8"/>
<line x1="308.2" y1="133.6" x2="308.2" y2="137.6" stroke="#f38a5c" stroke-width="0.8"/>
<line x1="319.6" y1="133.6" x2="319.6" y2="137.6" stroke="#f38a5c" stroke-width="0.8"/>
<line x1="323.8" y1="133.6" x2="323.8" y2="137.6" stroke="#f38a5c" stroke-width="0.8"/>
<line x1="333" y1="133.6" x2="333" y2="137.6" stroke="#f38a5c" stroke-width="0.8"/>
<line x1="341.1" y1="133.6" x2="341.1" y2="137.6" stroke="#f38a5c" stroke-width="0.8"/>
<line x1="345.9" y1="133.6" x2="345.9" y2="137.6" stroke="#f38a5c" stroke-width="0.8"/>
<line x1="353.1" y1="133.6" x2="353.1" y2="137.6" stroke="#f38a5c" stroke-width="0.8"/>
<line x1="355.2" y1="133.6" x2="355.2" y2="137.6" stroke="#f38a5c" stroke-width="0.8"/>
<line x1="360.4" y1="133.6" x2="360.4" y2="137.6" stroke="#f38a5c" stroke-width="0.8"/>
<line x1="362.1" y1="133.6" x2="362.1" y2="137.6" stroke="#f38a5c" stroke-width="0.8"/>
<line x1="363.8" y1="133.6" x2="363.8" y2="137.6" stroke="#f38a5c" stroke-width="0.8"/>
<line x1="364.6" y1="133.6" x2="364.6" y2="137.6" stroke="#f38a5c" stroke-width="0.8"/>
<line x1="370.5" y1="133.6" x2="370.5" y2="137.6" stroke="#f38a5c" stroke-width="0.8"/>
<line x1="375.4" y1="133.6" x2="375.4" y2="137.6" stroke="#f38a5c" stroke-width="0.8"/>
<line x1="383.4" y1="133.6" x2="383.4" y2="137.6" stroke="#f38a5c" stroke-width="0.8"/>
<line x1="387.1" y1="133.6" x2="387.1" y2="137.6" stroke="#f38a5c" stroke-width="0.8"/>
<line x1="387.8" y1="133.6" x2="387.8" y2="137.6" stroke="#f38a5c" stroke-width="0.8"/>
<line x1="394.3" y1="133.6" x2="394.3" y2="137.6" stroke="#f38a5c" stroke-width="0.8"/>
<line x1="396.4" y1="133.6" x2="396.4" y2="137.6" stroke="#f38a5c" stroke-width="0.8"/>
<line x1="401.9" y1="133.6" x2="401.9" y2="137.6" stroke="#f38a5c" stroke-width="0.8"/>
<line x1="412.4" y1="133.6" x2="412.4" y2="137.6" stroke="#f38a5c" stroke-width="0.8"/>
<line x1="293.3" y1="138.6" x2="293.3" y2="141.9" stroke="#cfd1a0" stroke-width="0.9"/>
<line x1="304.8" y1="138.6" x2="304.8" y2="141.9" stroke="#cfd1a0" stroke-width="0.9"/>
<line x1="341.9" y1="138.6" x2="341.9" y2="141.9" stroke="#cfd1a0" stroke-width="0.9"/>
<line x1="365.9" y1="138.6" x2="365.9" y2="141.9" stroke="#cfd1a0" stroke-width="0.9"/>
<line x1="373.7" y1="138.6" x2="373.7" y2="141.9" stroke="#cfd1a0" stroke-width="0.9"/>
<line x1="402.3" y1="138.6" x2="402.3" y2="141.9" stroke="#cfd1a0" stroke-width="0.9"/>
<path d="M231.8,132.1 L232.3,131.8 L232.8,131.5 L233.2,131.3 L233.7,131.1 L234.2,130.9 L234.7,130.7 L235.1,130.5 L235.6,130.4 L236.1,130.2 L236.6,130.1 L237,129.9 L237.5,129.8 L238,129.7 L238.5,129.6 L238.9,129.5 L239.4,129.4 L239.9,129.4 L240.4,129.3 L240.8,129.2 L241.3,129.1 L241.8,129.1 L242.3,129 L242.8,129 L243.2,128.9 L243.7,128.9 L244.2,128.8 L244.7,128.8 L245.1,128.8 L245.6,128.7 L246.1,128.7 L246.6,128.7 L247,128.6 L247.5,128.6 L248,128.6 L248.5,128.6 L248.9,128.5 L249.4,128.5 L249.9,128.5 L250.4,128.5 L250.9,128.5 L251.3,128.5 L251.8,128.4 L252.3,128.4 L252.8,128.4 L253.2,128.4 L253.7,128.4 L254.2,128.4 L254.7,128.4 L255.1,128.3 L255.6,128.3 L256.1,128.3 L256.6,128.3 L257,128.3 L257.5,128.3 L258,128.3 L258.5,128.3 L258.9,128.3 L259.4,128.3 L259.9,128.3 L260.4,128.3 L260.9,128.3 L261.3,128.3 L261.8,128.2 L262.3,128.2 L262.8,128.2 L263.2,128.2 L263.7,128.2 L264.2,128.2 L264.7,128.2 L265.1,128.2 L265.6,128.2 L266.1,128.2 L266.6,128.2 L267,128.2 L267.5,128.2 L268,128.2 L268.5,128.2 L268.9,128.2 L269.4,128.2 L269.9,128.2 L270.4,128.2 L270.9,128.2 L271.3,128.2 L271.8,128.2 L272.3,128.2 L272.8,128.2 L273.2,128.2 L273.7,128.2 L274.2,128.2 L274.7,128.2 L275.1,128.2 L275.6,128.2 L276.1,128.2 L276.6,128.2 L277,128.2 L277.5,128.2 L278,128.2 L278.5,128.2 L278.9,128.2 L279.4,128.2 L279.9,128.2 L280.4,128.2 L280.9,128.3 L281.3,128.3 L281.8,128.3 L282.3,128.3 L282.8,128.3 L283.2,128.3 L283.7,128.3 L284.2,128.3 L284.7,128.3 L285.1,128.3 L285.6,128.3 L286.1,128.3 L286.6,128.3 L287,128.3 L287.5,128.3 L288,128.3 L288.5,128.3 L288.9,128.3 L289.4,128.4 L289.9,128.4 L290.4,128.4 L290.9,128.4 L291.3,128.4 L291.8,128.4 L292.3,128.4 L292.8,128.4 L293.2,128.4 L293.7,128.4 L294.2,128.4 L294.7,128.4 L295.1,128.4 L295.6,128.5 L296.1,128.5 L296.6,128.5 L297,128.5 L297.5,128.5 L298,128.5 L298.5,128.5 L299,128.5 L299.4,128.5 L299.9,128.5 L300.4,128.5 L300.9,128.5 L301.3,128.6 L301.8,128.6 L302.3,128.6 L302.8,128.6 L303.2,128.6 L303.7,128.6 L304.2,128.6 L304.7,128.6 L305.1,128.6 L305.6,128.6 L306.1,128.6 L306.6,128.6 L307,128.7 L307.5,128.7 L308,128.7 L308.5,128.7 L309,128.7 L309.4,128.7 L309.9,128.8 L310.4,128.8 L310.9,128.8 L311.3,128.8 L311.8,128.8 L312.3,128.8 L312.8,128.9 L313.2,128.9 L313.7,128.9 L314.2,128.9 L314.7,128.9 L315.1,129 L315.6,129 L316.1,129 L316.6,129 L317,129 L317.5,129.1 L318,129.1 L318.5,129.1 L319,129.1 L319.4,129.1 L319.9,129.1 L320.4,129.2 L320.9,129.2 L321.3,129.2 L321.8,129.2 L322.3,129.2 L322.8,129.3 L323.2,129.3 L323.7,129.3 L324.2,129.3 L324.7,129.3 L325.1,129.3 L325.6,129.4 L326.1,129.4 L326.6,129.4 L327.1,129.4 L327.5,129.4 L328,129.4 L328.5,129.5 L329,129.5 L329.4,129.5 L329.9,129.5 L330.4,129.5 L330.9,129.5 L331.3,129.6 L331.8,129.6 L332.3,129.6 L332.8,129.6 L333.2,129.6 L333.7,129.6 L334.2,129.7 L334.7,129.7 L335.1,129.7 L335.6,129.7 L336.1,129.7 L336.6,129.7 L337.1,129.7 L337.5,129.8 L338,129.8 L338.5,129.8 L339,129.8 L339.4,129.8 L339.9,129.8 L340.4,129.9 L340.9,129.9 L341.3,129.9 L341.8,129.9 L342.3,129.9 L342.8,129.9 L343.2,129.9 L343.7,130 L344.2,130 L344.7,130 L345.1,130 L345.6,130 L346.1,130 L346.6,130 L347.1,130.1 L347.5,130.1 L348,130.1 L348.5,130.1 L349,130.1 L349.4,130.1 L349.9,130.1 L350.4,130.1 L350.9,130.2 L351.3,130.2 L351.8,130.2 L352.3,130.2 L352.8,130.2 L353.2,130.2 L353.7,130.2 L354.2,130.2 L354.7,130.3 L355.1,130.3 L355.6,130.3 L356.1,130.3 L356.6,130.3 L357.1,130.3 L357.5,130.3 L358,130.3 L358.5,130.4 L359,130.4 L359.4,130.4 L359.9,130.4 L360.4,130.4 L360.9,130.4 L361.3,130.4 L361.8,130.4 L362.3,130.5 L362.8,130.5 L363.2,130.5 L363.7,130.5 L364.2,130.5 L364.7,130.5 L365.1,130.5 L365.6,130.5 L366.1,130.6 L366.6,130.6 L367.1,130.6 L367.5,130.6 L368,130.6 L368.5,130.6 L369,130.6 L369.4,130.6 L369.9,130.7 L370.4,130.7 L370.9,130.7 L371.3,130.7 L371.8,130.7 L372.3,130.7 L372.8,130.7 L373.2,130.7 L373.7,130.7 L374.2,130.8 L374.7,130.8 L375.2,130.8 L375.6,130.8 L376.1,130.8 L376.6,130.8 L377.1,130.8 L377.5,130.8 L378,130.8 L378.5,130.9 L379,130.9 L379.4,130.9 L379.9,130.9 L380.4,130.9 L380.9,130.9 L381.3,130.9 L381.8,130.9 L382.3,131 L382.8,131 L383.2,131 L383.7,131 L384.2,131 L384.7,131 L385.2,131 L385.6,131 L386.1,131 L386.6,131.1 L387.1,131.1 L387.5,131.1 L388,131.1 L388.5,131.1 L389,131.1 L389.4,131.1 L389.9,131.1 L390.4,131.1 L390.9,131.2 L391.3,131.2 L391.8,131.2 L392.3,131.2 L392.8,131.2 L393.2,131.2 L393.7,131.2 L394.2,131.2 L394.7,131.2 L395.2,131.3 L395.6,131.3 L396.1,131.3 L396.6,131.3 L397.1,131.3 L397.5,131.3 L398,131.3 L398.5,131.3 L399,131.3 L399.4,131.4 L399.9,131.4 L400.4,131.4 L400.9,131.4 L401.3,131.4 L401.8,131.4 L402.3,131.4 L402.8,131.4 L403.2,131.4 L403.7,131.5 L404.2,131.5 L404.7,131.5 L405.2,131.5 L405.6,131.5 L406.1,131.5 L406.6,131.5 L407.1,131.5 L407.5,131.6 L408,131.6 L408.5,131.6 L409,131.6 L409.4,131.6 L409.9,131.6 L410.4,131.6 L410.9,131.6 L411.3,131.6 L411.8,131.7 L412.3,131.7 L412.8,131.7" fill="none" stroke="#5b8dbd" stroke-width="4.2" stroke-linejoin="round"/>
<g fill="none" stroke="#5b8dbd" stroke-width="0.7">
<circle cx="253.8" cy="125.4" r="1.75"/>
<circle cx="253.8" cy="122.9" r="1.75"/>
<circle cx="253.8" cy="120.1" r="1.75"/>
<circle cx="253.8" cy="117.5" r="1.75"/>
<circle cx="253.8" cy="114.7" r="1.75"/>
<circle cx="253.8" cy="112" r="1.75"/>
<circle cx="253.5" cy="107" r="1.75"/>
<circle cx="253.5" cy="101.5" r="1.75"/>
<circle cx="253.5" cy="92.8" r="1.75"/>
<circle cx="253.5" cy="81.3" r="1.75"/>
<circle cx="253.5" cy="73.7" r="1.75"/>
<circle cx="253.5" cy="68.3" r="1.75"/>
<circle cx="253.5" cy="58.8" r="1.75"/>
<circle cx="284.7" cy="127.1" r="1.75"/>
<circle cx="284.9" cy="124.5" r="1.75"/>
<circle cx="285" cy="121.8" r="1.75"/>
<circle cx="285" cy="119.5" r="1.75"/>
<circle cx="285.1" cy="117.1" r="1.75"/>
<circle cx="285.3" cy="119.5" r="1.75"/>
<circle cx="285.3" cy="121.8" r="1.75"/>
<circle cx="285.4" cy="124.5" r="1.75"/>
<circle cx="285.5" cy="126.8" r="1.75"/>
<circle cx="285.1" cy="116.7" r="1.75"/>
<circle cx="287" cy="127.1" r="1.75"/>
<circle cx="287.2" cy="124.5" r="1.75"/>
<circle cx="287.3" cy="121.8" r="1.75"/>
<circle cx="287.3" cy="119.5" r="1.75"/>
<circle cx="287.4" cy="117.1" r="1.75"/>
<circle cx="287.5" cy="119.5" r="1.75"/>
<circle cx="287.6" cy="121.9" r="1.75"/>
<circle cx="287.7" cy="124.5" r="1.75"/>
<circle cx="287.8" cy="126.8" r="1.75"/>
<circle cx="287.4" cy="116.7" r="1.75"/>
<circle cx="291" cy="127.2" r="1.75"/>
<circle cx="291.3" cy="124.7" r="1.75"/>
<circle cx="291.3" cy="122.4" r="1.75"/>
<circle cx="291.4" cy="119.8" r="1.75"/>
<circle cx="291.4" cy="116.8" r="1.75"/>
<circle cx="291.5" cy="113.7" r="1.75"/>
<circle cx="291.6" cy="111.3" r="1.75"/>
<circle cx="291.7" cy="113.7" r="1.75"/>
<circle cx="291.8" cy="116.8" r="1.75"/>
<circle cx="291.8" cy="119.8" r="1.75"/>
<circle cx="291.9" cy="122.4" r="1.75"/>
<circle cx="292" cy="124.7" r="1.75"/>
<circle cx="292.2" cy="126.9" r="1.75"/>
<circle cx="291.6" cy="110.3" r="1.75"/>
<circle cx="301.8" cy="125.9" r="1.75"/>
<circle cx="301.8" cy="123.6" r="1.75"/>
<circle cx="301.8" cy="121.1" r="1.75"/>
<circle cx="301.8" cy="118.7" r="1.75"/>
<circle cx="301.8" cy="116.2" r="1.75"/>
<circle cx="301.8" cy="113.8" r="1.75"/>
<circle cx="301.5" cy="109.3" r="1.75"/>
<circle cx="301.5" cy="104.4" r="1.75"/>
<circle cx="301.5" cy="96.6" r="1.75"/>
<circle cx="301.5" cy="86.2" r="1.75"/>
<circle cx="301.5" cy="79.4" r="1.75"/>
<circle cx="301.5" cy="74.5" r="1.75"/>
<circle cx="301.5" cy="66" r="1.75"/>
<circle cx="307.3" cy="127.4" r="1.75"/>
<circle cx="307.6" cy="125.4" r="1.75"/>
<circle cx="323.4" cy="128" r="1.75"/>
<circle cx="323.5" cy="125.6" r="1.75"/>
<circle cx="323.6" cy="123" r="1.75"/>
<circle cx="323.7" cy="120.3" r="1.75"/>
<circle cx="324" cy="123" r="1.75"/>
<circle cx="324.1" cy="125.6" r="1.75"/>
<circle cx="324.2" cy="127.9" r="1.75"/>
<circle cx="323.8" cy="119.5" r="1.75"/>
<circle cx="332.4" cy="128.3" r="1.75"/>
<circle cx="332.6" cy="126" r="1.75"/>
<circle cx="332.7" cy="123.3" r="1.75"/>
<circle cx="332.7" cy="121.1" r="1.75"/>
<circle cx="332.8" cy="118.6" r="1.75"/>
<circle cx="332.9" cy="116.4" r="1.75"/>
<circle cx="333.1" cy="118.6" r="1.75"/>
<circle cx="333.2" cy="121.1" r="1.75"/>
<circle cx="333.2" cy="123.3" r="1.75"/>
<circle cx="333.3" cy="125.6" r="1.75"/>
<circle cx="333.5" cy="127.9" r="1.75"/>
<circle cx="333" cy="114.6" r="1.75"/>
<circle cx="340.5" cy="128.6" r="1.75"/>
<circle cx="340.7" cy="126.3" r="1.75"/>
<circle cx="340.8" cy="123.9" r="1.75"/>
<circle cx="340.9" cy="121.5" r="1.75"/>
<circle cx="341.1" cy="123.9" r="1.75"/>
<circle cx="341.2" cy="126.3" r="1.75"/>
<circle cx="341.4" cy="128.6" r="1.75"/>
<circle cx="341" cy="120.3" r="1.75"/>
<circle cx="345.5" cy="128.7" r="1.75"/>
<circle cx="345.8" cy="126.5" r="1.75"/>
<circle cx="346.3" cy="128.7" r="1.75"/>
<circle cx="345.9" cy="126" r="1.75"/>
<circle cx="352.7" cy="128.9" r="1.75"/>
<circle cx="353.1" cy="126.7" r="1.75"/>
<circle cx="353.6" cy="129" r="1.75"/>
<circle cx="353.1" cy="126.7" r="1.75"/>
<circle cx="359.9" cy="129.1" r="1.75"/>
<circle cx="360.4" cy="126.9" r="1.75"/>
<circle cx="360.8" cy="129.1" r="1.75"/>
<circle cx="360.4" cy="126.9" r="1.75"/>
<circle cx="363.5" cy="129.2" r="1.75"/>
<circle cx="363.8" cy="128" r="1.75"/>
<circle cx="370.1" cy="129.4" r="1.75"/>
<circle cx="370.5" cy="127.9" r="1.75"/>
<circle cx="394.5" cy="130" r="1.75"/>
<circle cx="394.7" cy="129.7" r="1.75"/>
</g>
<path d="M231.8,132.4 L232.4,132 L232.9,131.7 L233.5,131.5 L234.1,131.2 L234.7,131 L235.2,130.8 L235.8,130.6 L236.4,130.4 L236.9,130.3 L237.5,130.1 L238.1,130 L238.7,129.9 L239.2,129.8 L239.8,129.7 L240.4,129.6 L240.9,129.5 L241.5,129.4 L242.1,129.3 L242.7,129.3 L243.2,129.2 L243.8,129.2 L244.4,129.1 L244.9,129 L245.5,129 L246.1,129 L246.7,128.9 L247.2,128.9 L247.8,128.8 L248.4,128.8 L248.9,128.7 L249.5,128.7 L250.1,128.6 L250.7,128.5 L251.2,128.3 L251.3,128.3 L251.4,128.3 L251.5,128.2 L251.5,128.2 L251.6,128.1 L251.7,128.1 L251.8,128 L251.8,128 L251.9,127.9 L252,127.8 L252.1,127.7 L252.1,127.6 L252.2,127.5 L252.3,127.3 L252.4,127.1 L252.5,126.9 L252.5,126.6 L252.6,126.3 L252.7,125.9 L252.8,125.3 L252.8,124.6 L252.9,123.6 L253,122 L253.1,119.3 L253.1,114.3 L253.2,105.8 L253.3,93.3 L253.4,78.4 L253.4,65.5 L253.5,60.2 L253.6,65.5 L253.7,78.4 L253.7,93.3 L253.8,105.8 L253.9,114.2 L254,119.2 L254.1,122 L254.1,123.6 L254.2,124.6 L254.3,125.3 L254.4,125.8 L254.4,126.2 L254.5,126.6 L254.6,126.8 L254.7,127 L254.7,127.2 L254.8,127.4 L254.9,127.5 L255,127.6 L255,127.7 L255.1,127.8 L255.2,127.9 L255.3,127.9 L255.3,128 L255.4,128 L255.5,128.1 L255.6,128.1 L255.7,128.2 L255.7,128.2 L255.8,128.2 L255.9,128.2 L256.5,128.4 L257,128.4 L257.6,128.5 L258.2,128.5 L258.7,128.5 L259.3,128.5 L259.9,128.5 L260.5,128.5 L261,128.5 L261.6,128.5 L262.2,128.5 L262.7,128.5 L263.3,128.5 L263.9,128.5 L264.5,128.5 L265,128.5 L265.6,128.5 L266.2,128.5 L266.7,128.5 L267.3,128.5 L267.9,128.5 L268.5,128.5 L269,128.5 L269.6,128.5 L270.2,128.5 L270.7,128.5 L271.3,128.5 L271.9,128.5 L272.5,128.5 L273,128.5 L273.6,128.5 L274.2,128.5 L274.7,128.5 L275.3,128.5 L275.9,128.5 L276.5,128.5 L277,128.5 L277.6,128.5 L278.2,128.5 L278.7,128.5 L279.3,128.5 L279.9,128.5 L280.5,128.5 L281,128.5 L281.6,128.5 L282.2,128.5 L282.7,128.5 L283.3,128.5 L283.4,128.5 L283.5,128.5 L283.5,128.5 L283.6,128.5 L283.7,128.4 L283.8,128.4 L283.8,128.4 L283.9,128.4 L284,128.4 L284.1,128.4 L284.1,128.3 L284.2,128.3 L284.3,128.3 L284.4,128.2 L284.5,128.1 L284.5,128 L284.6,127.9 L284.7,127.7 L284.8,127.2 L284.8,126.3 L284.9,124.6 L285,122 L285.1,119.3 L285.1,118 L285.2,119.3 L285.3,122 L285.4,124.6 L285.4,126.3 L285.5,127.2 L285.6,127.6 L285.7,127.9 L285.7,128 L285.8,128.1 L285.9,128.1 L286,128.2 L286.1,128.2 L286.1,128.2 L286.2,128.3 L286.3,128.3 L286.4,128.3 L286.4,128.2 L286.5,128.2 L286.6,128.2 L286.7,128.1 L286.7,128.1 L286.8,128 L286.9,127.9 L287,127.6 L287,127.2 L287.1,126.3 L287.2,124.6 L287.3,122 L287.3,119.3 L287.4,118 L287.5,119.3 L287.6,122 L287.7,124.6 L287.7,126.3 L287.8,127.2 L287.9,127.7 L288,127.9 L288,128 L288.1,128.1 L288.2,128.2 L288.3,128.3 L288.3,128.3 L288.4,128.3 L288.5,128.4 L288.6,128.4 L288.6,128.4 L288.7,128.4 L288.8,128.4 L288.9,128.5 L288.9,128.5 L289,128.5 L289.1,128.5 L289.2,128.5 L289.3,128.5 L289.3,128.5 L289.4,128.5 L289.5,128.5 L289.6,128.5 L289.6,128.5 L289.7,128.5 L289.8,128.5 L289.9,128.4 L289.9,128.4 L290,128.4 L290.1,128.4 L290.2,128.4 L290.2,128.4 L290.3,128.3 L290.4,128.3 L290.5,128.3 L290.6,128.2 L290.6,128.2 L290.7,128.1 L290.8,128 L290.9,127.9 L290.9,127.7 L291,127.5 L291.1,127.2 L291.2,126.6 L291.2,125.6 L291.3,123.7 L291.4,120.6 L291.5,116.7 L291.5,113.1 L291.6,111.6 L291.7,113.1 L291.8,116.7 L291.8,120.6 L291.9,123.7 L292,125.6 L292.1,126.7 L292.2,127.2 L292.2,127.6 L292.3,127.8 L292.4,127.9 L292.5,128 L292.5,128.1 L292.6,128.2 L292.7,128.3 L292.8,128.3 L292.8,128.4 L292.9,128.4 L293,128.4 L293.1,128.4 L293.1,128.5 L293.2,128.5 L293.3,128.5 L293.4,128.5 L293.4,128.5 L293.5,128.5 L293.6,128.6 L293.7,128.6 L293.8,128.6 L293.8,128.6 L293.9,128.6 L294,128.6 L294.6,128.6 L295.1,128.7 L295.7,128.7 L296.3,128.7 L296.8,128.7 L297.4,128.7 L298,128.6 L298.6,128.6 L299.1,128.5 L299.7,128.3 L299.8,128.2 L299.8,128.2 L299.9,128.1 L300,128 L300.1,128 L300.2,127.9 L300.2,127.8 L300.3,127.6 L300.4,127.5 L300.5,127.3 L300.5,127.1 L300.6,126.8 L300.7,126.5 L300.8,126 L300.8,125.4 L300.9,124.6 L301,123.3 L301.1,121 L301.1,116.8 L301.2,109.8 L301.3,99.4 L301.4,87 L301.4,76.2 L301.5,71.8 L301.6,76.2 L301.7,87 L301.8,99.4 L301.8,109.8 L301.9,116.8 L302,121 L302.1,123.3 L302.1,124.6 L302.2,125.5 L302.3,126 L302.4,126.5 L302.4,126.8 L302.5,127.1 L302.6,127.3 L302.7,127.5 L302.7,127.7 L302.8,127.8 L302.9,127.9 L303,128 L303,128.1 L303.1,128.2 L303.2,128.2 L303.3,128.3 L303.4,128.3 L303.4,128.4 L303.5,128.4 L303.6,128.4 L303.7,128.5 L303.7,128.5 L303.8,128.5 L303.9,128.6 L304.5,128.7 L305,128.7 L305.6,128.8 L305.7,128.8 L305.8,128.8 L305.8,128.8 L305.9,128.8 L306,128.8 L306.1,128.8 L306.1,128.8 L306.2,128.8 L306.3,128.8 L306.4,128.8 L306.4,128.8 L306.5,128.8 L306.6,128.8 L306.7,128.8 L306.7,128.7 L306.8,128.7 L306.9,128.7 L307,128.6 L307,128.6 L307.1,128.4 L307.2,128.2 L307.3,127.9 L307.4,127.5 L307.4,127 L307.5,126.5 L307.6,126.2 L307.7,126.3 L307.7,126.5 L307.8,127 L307.9,127.5 L308,128 L308,128.3 L308.1,128.5 L308.2,128.6 L308.3,128.7 L308.3,128.7 L308.4,128.8 L308.5,128.8 L308.6,128.8 L308.6,128.9 L308.7,128.9 L308.8,128.9 L308.9,128.9 L309,128.9 L309,128.9 L309.1,128.9 L309.2,128.9 L309.3,128.9 L309.3,129 L309.4,129 L309.5,129 L309.6,129 L309.6,129 L309.7,129 L309.8,129 L309.9,129 L309.9,129 L310.5,129 L311.1,129.1 L311.7,129.1 L312.2,129.1 L312.8,129.1 L313.4,129.2 L313.9,129.2 L314.5,129.2 L315.1,129.2 L315.7,129.3 L316.2,129.3 L316.8,129.3 L317.4,129.3 L317.9,129.4 L318.5,129.4 L319.1,129.4 L319.7,129.4 L320.2,129.4 L320.8,129.4 L321.4,129.5 L321.9,129.4 L322,129.4 L322.1,129.4 L322.2,129.4 L322.2,129.4 L322.3,129.4 L322.4,129.4 L322.5,129.4 L322.6,129.4 L322.6,129.4 L322.7,129.3 L322.8,129.3 L322.9,129.3 L322.9,129.3 L323,129.2 L323.1,129.1 L323.2,129 L323.2,128.9 L323.3,128.7 L323.4,128.3 L323.5,127.6 L323.5,126.3 L323.6,124.4 L323.7,122.4 L323.8,121 L323.8,121 L323.9,122.4 L324,124.4 L324.1,126.3 L324.2,127.6 L324.2,128.3 L324.3,128.7 L324.4,129 L324.5,129.1 L324.5,129.2 L324.6,129.3 L324.7,129.3 L324.8,129.4 L324.8,129.4 L324.9,129.4 L325,129.5 L325.1,129.5 L325.1,129.5 L325.2,129.5 L325.3,129.5 L325.4,129.5 L325.4,129.5 L325.5,129.6 L325.6,129.6 L325.7,129.6 L325.8,129.6 L325.8,129.6 L325.9,129.6 L326,129.6 L326.1,129.6 L326.1,129.6 L326.7,129.7 L327.3,129.7 L327.9,129.7 L328.4,129.7 L329,129.7 L329.6,129.7 L330.1,129.8 L330.7,129.7 L330.8,129.7 L330.9,129.7 L330.9,129.7 L331,129.7 L331.1,129.7 L331.2,129.7 L331.2,129.7 L331.3,129.7 L331.4,129.7 L331.5,129.7 L331.5,129.6 L331.6,129.6 L331.7,129.6 L331.8,129.6 L331.9,129.5 L331.9,129.5 L332,129.4 L332.1,129.3 L332.2,129.2 L332.2,129.1 L332.3,129 L332.4,128.7 L332.5,128.3 L332.5,127.5 L332.6,126.2 L332.7,124 L332.8,121.2 L332.8,118.2 L332.9,116.2 L333,116.2 L333.1,118.2 L333.1,121.2 L333.2,124.1 L333.3,126.2 L333.4,127.5 L333.5,128.3 L333.5,128.7 L333.6,129 L333.7,129.2 L333.8,129.3 L333.8,129.4 L333.9,129.5 L334,129.5 L334.1,129.6 L334.1,129.6 L334.2,129.7 L334.3,129.7 L334.4,129.7 L334.4,129.8 L334.5,129.8 L334.6,129.8 L334.7,129.8 L334.7,129.8 L334.8,129.8 L334.9,129.8 L335,129.9 L335.1,129.9 L335.1,129.9 L335.2,129.9 L335.3,129.9 L335.9,129.9 L336.4,130 L337,130 L337.6,130 L338.1,130 L338.7,130 L338.8,130 L338.9,130 L338.9,130 L339,130 L339.1,130 L339.2,130 L339.2,130 L339.3,130 L339.4,130 L339.5,130 L339.5,130 L339.6,130 L339.7,129.9 L339.8,129.9 L339.9,129.9 L339.9,129.9 L340,129.8 L340.1,129.8 L340.2,129.7 L340.2,129.7 L340.3,129.6 L340.4,129.4 L340.5,129.2 L340.5,128.7 L340.6,127.9 L340.7,126.6 L340.8,124.8 L340.8,123 L340.9,121.8 L341,121.8 L341.1,123 L341.1,124.9 L341.2,126.6 L341.3,127.9 L341.4,128.7 L341.5,129.2 L341.5,129.4 L341.6,129.6 L341.7,129.7 L341.8,129.8 L341.8,129.8 L341.9,129.9 L342,129.9 L342.1,130 L342.1,130 L342.2,130 L342.3,130 L342.4,130.1 L342.4,130.1 L342.5,130.1 L342.6,130.1 L342.7,130.1 L342.7,130.1 L342.8,130.1 L342.9,130.1 L343,130.1 L343.1,130.1 L343.1,130.1 L343.2,130.1 L343.3,130.2 L343.9,130.2 L343.9,130.2 L344,130.2 L344.1,130.2 L344.2,130.2 L344.2,130.2 L344.3,130.2 L344.4,130.2 L344.5,130.2 L344.5,130.1 L344.6,130.1 L344.7,130.1 L344.8,130.1 L344.8,130.1 L344.9,130.1 L345,130.1 L345.1,130 L345.1,130 L345.2,129.9 L345.3,129.8 L345.4,129.6 L345.5,129.4 L345.5,129 L345.6,128.5 L345.7,127.9 L345.8,127.4 L345.8,126.9 L345.9,126.8 L346,127 L346.1,127.4 L346.1,127.9 L346.2,128.5 L346.3,129 L346.4,129.4 L346.4,129.7 L346.5,129.8 L346.6,129.9 L346.7,130 L346.7,130.1 L346.8,130.1 L346.9,130.1 L347,130.2 L347.1,130.2 L347.1,130.2 L347.2,130.2 L347.3,130.2 L347.4,130.2 L347.4,130.3 L347.5,130.3 L347.6,130.3 L347.7,130.3 L347.7,130.3 L347.8,130.3 L347.9,130.3 L348,130.3 L348,130.3 L348.1,130.3 L348.2,130.3 L348.3,130.3 L348.8,130.4 L349.4,130.4 L350,130.4 L350.6,130.4 L351.1,130.4 L351.2,130.4 L351.3,130.4 L351.4,130.4 L351.4,130.4 L351.5,130.4 L351.6,130.4 L351.7,130.4 L351.7,130.4 L351.8,130.4 L351.9,130.3 L352,130.3 L352,130.3 L352.1,130.3 L352.2,130.3 L352.3,130.2 L352.3,130.2 L352.4,130.1 L352.5,130 L352.6,129.9 L352.7,129.6 L352.7,129.3 L352.8,128.9 L352.9,128.5 L353,128.1 L353,127.7 L353.1,127.5 L353.2,127.5 L353.3,127.7 L353.3,128.1 L353.4,128.5 L353.5,129 L353.6,129.3 L353.6,129.7 L353.7,129.9 L353.8,130 L353.9,130.2 L353.9,130.2 L354,130.3 L354.1,130.3 L354.2,130.4 L354.3,130.4 L354.3,130.4 L354.4,130.4 L354.5,130.4 L354.6,130.4 L354.6,130.5 L354.7,130.5 L354.8,130.5 L354.9,130.5 L354.9,130.5 L355,130.5 L355.1,130.5 L355.2,130.5 L355.2,130.5 L355.3,130.5 L355.4,130.5 L355.5,130.5 L356,130.6 L356.6,130.6 L357.2,130.6 L357.8,130.6 L358.3,130.6 L358.4,130.6 L358.5,130.6 L358.6,130.6 L358.6,130.6 L358.7,130.6 L358.8,130.6 L358.9,130.6 L358.9,130.6 L359,130.5 L359.1,130.5 L359.2,130.5 L359.2,130.5 L359.3,130.5 L359.4,130.5 L359.5,130.4 L359.5,130.4 L359.6,130.3 L359.7,130.3 L359.8,130.1 L359.9,129.9 L359.9,129.7 L360,129.3 L360.1,128.9 L360.2,128.5 L360.2,128.1 L360.3,127.8 L360.4,127.7 L360.5,127.8 L360.5,128.1 L360.6,128.5 L360.7,128.9 L360.8,129.3 L360.8,129.7 L360.9,130 L361,130.2 L361.1,130.3 L361.1,130.4 L361.2,130.4 L361.3,130.5 L361.4,130.5 L361.5,130.5 L361.5,130.6 L361.6,130.6 L361.7,130.6 L361.8,130.6 L361.8,130.6 L361.9,130.6 L362,130.6 L362.1,130.6 L362.1,130.6 L362.2,130.6 L362.3,130.6 L362.4,130.6 L362.4,130.6 L362.5,130.6 L362.6,130.6 L362.7,130.6 L362.7,130.6 L362.8,130.6 L362.9,130.6 L363,130.6 L363.1,130.5 L363.1,130.5 L363.2,130.4 L363.3,130.3 L363.4,130.1 L363.4,129.9 L363.5,129.6 L363.6,129.3 L363.7,129 L363.7,128.8 L363.8,128.8 L363.9,128.8 L364,129 L364,129.3 L364.1,129.6 L364.2,129.9 L364.3,130.1 L364.3,130.3 L364.4,130.4 L364.5,130.5 L364.6,130.6 L364.7,130.6 L364.7,130.7 L364.8,130.7 L364.9,130.7 L365,130.7 L365,130.7 L365.1,130.7 L365.2,130.7 L365.3,130.8 L365.3,130.8 L365.4,130.8 L365.5,130.8 L365.6,130.8 L365.6,130.8 L365.7,130.8 L365.8,130.8 L365.9,130.8 L366,130.8 L366,130.8 L366.1,130.8 L366.7,130.8 L367.2,130.8 L367.8,130.9 L368.4,130.9 L368.5,130.9 L368.5,130.9 L368.6,130.9 L368.7,130.9 L368.8,130.9 L368.8,130.9 L368.9,130.8 L369,130.8 L369.1,130.8 L369.2,130.8 L369.2,130.8 L369.3,130.8 L369.4,130.8 L369.5,130.8 L369.5,130.8 L369.6,130.7 L369.7,130.7 L369.8,130.6 L369.8,130.6 L369.9,130.4 L370,130.3 L370.1,130 L370.1,129.7 L370.2,129.4 L370.3,129 L370.4,128.7 L370.4,128.6 L370.5,128.6 L370.6,128.7 L370.7,129 L370.8,129.4 L370.8,129.7 L370.9,130 L371,130.3 L371.1,130.5 L371.1,130.6 L371.2,130.7 L371.3,130.7 L371.4,130.8 L371.4,130.8 L371.5,130.8 L371.6,130.9 L371.7,130.9 L371.7,130.9 L371.8,130.9 L371.9,130.9 L372,130.9 L372,130.9 L372.1,130.9 L372.2,130.9 L372.3,130.9 L372.4,131 L372.4,131 L372.5,131 L372.6,131 L372.7,131 L372.7,131 L372.8,131 L373.4,131 L374,131 L374.5,131 L375.1,131.1 L375.7,131.1 L376.2,131.1 L376.8,131.1 L377.4,131.1 L378,131.1 L378.5,131.2 L379.1,131.2 L379.7,131.2 L380.2,131.2 L380.8,131.2 L381.4,131.2 L382,131.2 L382,131.2 L382.1,131.2 L382.2,131.2 L382.3,131.2 L382.3,131.2 L382.4,131.2 L382.5,131.2 L382.6,131.2 L382.6,131.2 L382.7,131.2 L382.8,131.2 L382.9,131.2 L382.9,131.2 L383,131.2 L383.1,131.2 L383.2,131.2 L383.2,131.2 L383.3,131.2 L383.4,131.2 L383.5,131.1 L383.6,131.1 L383.6,131 L383.7,130.9 L383.8,130.8 L383.9,130.7 L383.9,130.6 L384,130.5 L384.1,130.4 L384.2,130.3 L384.2,130.3 L384.3,130.4 L384.4,130.5 L384.5,130.6 L384.5,130.7 L384.6,130.8 L384.7,131 L384.8,131 L384.8,131.1 L384.9,131.2 L385,131.2 L385.1,131.2 L385.2,131.2 L385.2,131.2 L385.3,131.3 L385.4,131.3 L385.5,131.3 L385.5,131.3 L385.6,131.3 L385.7,131.3 L385.8,131.3 L385.8,131.3 L385.9,131.3 L386,131.3 L386.1,131.3 L386.1,131.3 L386.2,131.3 L386.3,131.3 L386.4,131.3 L386.4,131.3 L386.5,131.3 L387.1,131.4 L387.7,131.4 L388.2,131.4 L388.8,131.4 L389.4,131.4 L390,131.4 L390.5,131.4 L391.1,131.4 L391.7,131.5 L392.2,131.5 L392.8,131.5 L392.9,131.5 L393,131.5 L393,131.5 L393.1,131.5 L393.2,131.5 L393.3,131.5 L393.3,131.5 L393.4,131.5 L393.5,131.4 L393.6,131.4 L393.6,131.4 L393.7,131.4 L393.8,131.4 L393.9,131.4 L394,131.3 L394,131.3 L394.1,131.2 L394.2,131.1 L394.3,131 L394.3,130.8 L394.4,130.7 L394.5,130.5 L394.6,130.4 L394.6,130.4 L394.7,130.4 L394.8,130.4 L394.9,130.5 L394.9,130.7 L395,130.9 L395.1,131 L395.2,131.1 L395.2,131.2 L395.3,131.3 L395.4,131.4 L395.5,131.4 L395.6,131.4 L395.6,131.5 L395.7,131.5 L395.8,131.5 L395.9,131.5 L395.9,131.5 L396,131.5 L396.1,131.5 L396.2,131.5 L396.2,131.5 L396.3,131.5 L396.4,131.5 L396.5,131.6 L396.5,131.6 L396.6,131.6 L396.7,131.6 L396.8,131.6 L396.8,131.6 L396.9,131.6 L397,131.6 L397.6,131.6 L398.1,131.6 L398.7,131.6 L399.3,131.6 L399.9,131.6 L400.4,131.7 L400.5,131.7 L400.6,131.7 L400.7,131.7 L400.7,131.7 L400.8,131.7 L400.9,131.6 L401,131.6 L401,131.6 L401.1,131.6 L401.2,131.6 L401.3,131.6 L401.3,131.6 L401.4,131.6 L401.5,131.6 L401.6,131.6 L401.6,131.5 L401.7,131.4 L401.8,131.4 L401.9,131.3 L402,131.1 L402,131 L402.1,130.9 L402.2,130.8 L402.3,130.7 L402.3,130.7 L402.4,130.8 L402.5,130.9 L402.6,131 L402.6,131.2 L402.7,131.3 L402.8,131.4 L402.9,131.5 L402.9,131.5 L403,131.6 L403.1,131.6 L403.2,131.6 L403.3,131.7 L403.3,131.7 L403.4,131.7 L403.5,131.7 L403.6,131.7 L403.6,131.7 L403.7,131.7 L403.8,131.7 L403.9,131.7 L403.9,131.7 L404,131.7 L404.1,131.7 L404.2,131.7 L404.2,131.7 L404.3,131.8 L404.4,131.8 L404.5,131.8 L404.5,131.8 L404.6,131.8 L405.2,131.8 L405.8,131.8 L406.3,131.8 L406.9,131.8 L407.5,131.8 L408.1,131.9 L408.6,131.9 L409.2,131.9 L409.8,131.9 L410.3,131.9 L410.9,131.9 L411.5,131.9 L412.1,132 L412.6,132" fill="none" stroke="#e8555d" stroke-width="1" stroke-linejoin="round"/>
<rect x="232" y="13.5" width="181" height="146" fill="none" stroke="#3a3a3a" stroke-width="1"/>
<line x1="231.8" y1="159.5" x2="231.8" y2="160.8" stroke="#3a3a3a" stroke-width="0.9"/>
<line x1="241.3" y1="159.5" x2="241.3" y2="161.8" stroke="#3a3a3a" stroke-width="0.9"/>
<line x1="250.9" y1="159.5" x2="250.9" y2="160.8" stroke="#3a3a3a" stroke-width="0.9"/>
<line x1="260.4" y1="159.5" x2="260.4" y2="161.8" stroke="#3a3a3a" stroke-width="0.9"/>
<line x1="269.9" y1="159.5" x2="269.9" y2="160.8" stroke="#3a3a3a" stroke-width="0.9"/>
<line x1="279.4" y1="159.5" x2="279.4" y2="161.8" stroke="#3a3a3a" stroke-width="0.9"/>
<line x1="288.9" y1="159.5" x2="288.9" y2="160.8" stroke="#3a3a3a" stroke-width="0.9"/>
<line x1="298.5" y1="159.5" x2="298.5" y2="161.8" stroke="#3a3a3a" stroke-width="0.9"/>
<line x1="308" y1="159.5" x2="308" y2="160.8" stroke="#3a3a3a" stroke-width="0.9"/>
<line x1="317.5" y1="159.5" x2="317.5" y2="161.8" stroke="#3a3a3a" stroke-width="0.9"/>
<line x1="327.1" y1="159.5" x2="327.1" y2="160.8" stroke="#3a3a3a" stroke-width="0.9"/>
<line x1="336.6" y1="159.5" x2="336.6" y2="161.8" stroke="#3a3a3a" stroke-width="0.9"/>
<line x1="346.1" y1="159.5" x2="346.1" y2="160.8" stroke="#3a3a3a" stroke-width="0.9"/>
<line x1="355.6" y1="159.5" x2="355.6" y2="161.8" stroke="#3a3a3a" stroke-width="0.9"/>
<line x1="365.1" y1="159.5" x2="365.1" y2="160.8" stroke="#3a3a3a" stroke-width="0.9"/>
<line x1="374.7" y1="159.5" x2="374.7" y2="161.8" stroke="#3a3a3a" stroke-width="0.9"/>
<line x1="384.2" y1="159.5" x2="384.2" y2="160.8" stroke="#3a3a3a" stroke-width="0.9"/>
<line x1="393.7" y1="159.5" x2="393.7" y2="161.8" stroke="#3a3a3a" stroke-width="0.9"/>
<line x1="403.2" y1="159.5" x2="403.2" y2="160.8" stroke="#3a3a3a" stroke-width="0.9"/>
<line x1="412.8" y1="159.5" x2="412.8" y2="161.8" stroke="#3a3a3a" stroke-width="0.9"/>
<text x="241.3" y="171.5" font-size="9.8" text-anchor="middle" fill="#222">10</text>
<text x="260.4" y="171.5" font-size="9.8" text-anchor="middle" fill="#222">20</text>
<text x="279.4" y="171.5" font-size="9.8" text-anchor="middle" fill="#222">30</text>
<text x="298.5" y="171.5" font-size="9.8" text-anchor="middle" fill="#222">40</text>
<text x="317.5" y="171.5" font-size="9.8" text-anchor="middle" fill="#222">50</text>
<text x="336.6" y="171.5" font-size="9.8" text-anchor="middle" fill="#222">60</text>
<text x="355.6" y="171.5" font-size="9.8" text-anchor="middle" fill="#222">70</text>
<text x="374.7" y="171.5" font-size="9.8" text-anchor="middle" fill="#222">80</text>
<text x="393.7" y="171.5" font-size="9.8" text-anchor="middle" fill="#222">90</text>
<text x="412.8" y="171.5" font-size="9.8" text-anchor="middle" fill="#222">100</text>
<text x="299.8" y="191" font-size="12.2" fill="#111">2<tspan dx="2" font-family="Liberation Serif" font-style="italic" font-size="13">θ</tspan><tspan dx="1.8">(deg)</tspan></text>
<text x="433" y="12.7" font-size="17" font-weight="bold" fill="#000">c</text>
<text transform="translate(448.2,99.8) rotate(-90)" font-size="14" text-anchor="middle" fill="#111">Formation energy (eV)</text>
<line x1="474.5" y1="100.5" x2="677.5" y2="100.5" stroke="#333" stroke-width="1"/>
<rect x="485.4" y="100.5" width="22.7" height="13.6" fill="#fcc795"/>
<rect x="508.1" y="56.9" width="22.8" height="43.6" fill="#9bd89c"/>
<rect x="553.3" y="100.5" width="22.4" height="55.5" fill="#bfaed6"/>
<rect x="575.7" y="99.5" width="22.6" height="1" fill="#ece48a"/>
<rect x="621.3" y="100.5" width="22.4" height="9" fill="#a8c5f2"/>
<rect x="643.7" y="52.8" width="22.4" height="47.7" fill="#fdb2f5"/>
<line x1="474.5" y1="18.2" x2="474.5" y2="182.8" stroke="#333" stroke-width="1"/>
<line x1="471.3" y1="18.2" x2="474.5" y2="18.2" stroke="#333" stroke-width="1"/>
<text x="469.2" y="21.8" font-size="10" text-anchor="end" fill="#222">10</text>
<line x1="471.3" y1="59.4" x2="474.5" y2="59.4" stroke="#333" stroke-width="1"/>
<text x="469.2" y="62.9" font-size="10" text-anchor="end" fill="#222">5</text>
<line x1="471.3" y1="100.5" x2="474.5" y2="100.5" stroke="#333" stroke-width="1"/>
<text x="469.2" y="104" font-size="10" text-anchor="end" fill="#222">0</text>
<line x1="471.3" y1="141.6" x2="474.5" y2="141.6" stroke="#333" stroke-width="1"/>
<text x="469.2" y="145.1" font-size="10" text-anchor="end" fill="#222">-5</text>
<line x1="471.3" y1="182.8" x2="474.5" y2="182.8" stroke="#333" stroke-width="1"/>
<text x="469.2" y="186.2" font-size="10" text-anchor="end" fill="#222">-10</text>
<line x1="472.7" y1="38.8" x2="474.5" y2="38.8" stroke="#333" stroke-width="0.8"/>
<line x1="472.7" y1="79.9" x2="474.5" y2="79.9" stroke="#333" stroke-width="0.8"/>
<line x1="472.7" y1="121.1" x2="474.5" y2="121.1" stroke="#333" stroke-width="0.8"/>
<line x1="472.7" y1="162.2" x2="474.5" y2="162.2" stroke="#333" stroke-width="0.8"/>
<text x="495.2" y="20.9" font-size="10.5" fill="#222">CuO<tspan dy="2.6" font-size="7.4">6</tspan></text>
<text x="564" y="64.1" font-size="10.5" fill="#222">TiO<tspan dy="2.6" font-size="7.4">6</tspan></text>
<text x="630" y="17.6" font-size="10.5" fill="#222">SnO<tspan dy="2.6" font-size="7.4">6</tspan></text>
<text x="513.2" y="53.8" font-size="10.5" fill="#222">Na</text>
<text x="580.8" y="96.2" font-size="10.5" fill="#222">Na</text>
<text x="647.9" y="49.7" font-size="10.5" fill="#222">Na</text>
<text x="490.4" y="123.7" font-size="10.5" fill="#222">TM</text>
<text x="557.5" y="166.2" font-size="10.5" fill="#222">TM</text>
<text x="624.6" y="120" font-size="10.5" fill="#222">TM</text>
<polyline points="496.5,36.9 496.5,26.6 519.8,26.6 519.8,36.9" fill="none" stroke="#333" stroke-width="1.1"/>
<polyline points="562.4,81.3 562.4,70.5 585.6,70.5 585.6,81.3" fill="none" stroke="#333" stroke-width="1.1"/>
<polyline points="630.5,33.6 630.5,23.5 654.5,23.5 654.5,33.6" fill="none" stroke="#333" stroke-width="1.1"/>
<line x1="576.2" y1="29" x2="576.4" y2="22.4" stroke="#6ab4e0" stroke-width="1.6"/>
<line x1="576.4" y1="22.4" x2="576.6" y2="15.8" stroke="#e04a4a" stroke-width="1.6"/>
<line x1="576.2" y1="29" x2="569.4" y2="26.1" stroke="#6ab4e0" stroke-width="1.6"/>
<line x1="569.4" y1="26.1" x2="562.6" y2="23.1" stroke="#e04a4a" stroke-width="1.6"/>
<line x1="576.2" y1="29" x2="583.2" y2="26.3" stroke="#6ab4e0" stroke-width="1.6"/>
<line x1="583.2" y1="26.3" x2="590.2" y2="23.6" stroke="#e04a4a" stroke-width="1.6"/>
<line x1="576.2" y1="29" x2="569.5" y2="32.7" stroke="#6ab4e0" stroke-width="1.6"/>
<line x1="569.5" y1="32.7" x2="562.9" y2="36.4" stroke="#e04a4a" stroke-width="1.6"/>
<line x1="576.2" y1="29" x2="583.2" y2="33.1" stroke="#6ab4e0" stroke-width="1.6"/>
<line x1="583.2" y1="33.1" x2="590.2" y2="37.3" stroke="#e04a4a" stroke-width="1.6"/>
<line x1="576.2" y1="29" x2="576.8" y2="37" stroke="#6ab4e0" stroke-width="1.6"/>
<line x1="576.8" y1="37" x2="577.3" y2="44.9" stroke="#e04a4a" stroke-width="1.6"/>
<circle cx="576.6" cy="15.8" r="2.2" fill="url(#gOc)"/>
<circle cx="562.6" cy="23.1" r="2.2" fill="url(#gOc)"/>
<circle cx="590.2" cy="23.6" r="2.2" fill="url(#gOc)"/>
<circle cx="562.9" cy="36.4" r="2.2" fill="url(#gOc)"/>
<circle cx="590.2" cy="37.3" r="2.2" fill="url(#gOc)"/>
<circle cx="577.3" cy="44.9" r="2.2" fill="url(#gOc)"/>
<circle cx="576.2" cy="29" r="5.3" fill="url(#gTi)"/>
<line x1="508.2" y1="149" x2="508.3" y2="141.9" stroke="#2040d0" stroke-width="1.6"/>
<line x1="508.3" y1="141.9" x2="508.4" y2="134.9" stroke="#d82424" stroke-width="1.6"/>
<line x1="508.2" y1="149" x2="501.9" y2="145.8" stroke="#2040d0" stroke-width="1.6"/>
<line x1="501.9" y1="145.8" x2="495.6" y2="142.7" stroke="#d82424" stroke-width="1.6"/>
<line x1="508.2" y1="149" x2="515.3" y2="145.3" stroke="#2040d0" stroke-width="1.6"/>
<line x1="515.3" y1="145.3" x2="522.4" y2="141.6" stroke="#d82424" stroke-width="1.6"/>
<line x1="508.2" y1="149" x2="501.2" y2="152.6" stroke="#2040d0" stroke-width="1.6"/>
<line x1="501.2" y1="152.6" x2="494.3" y2="156.1" stroke="#d82424" stroke-width="1.6"/>
<line x1="508.2" y1="149" x2="514.5" y2="152.7" stroke="#2040d0" stroke-width="1.6"/>
<line x1="514.5" y1="152.7" x2="520.7" y2="156.3" stroke="#d82424" stroke-width="1.6"/>
<line x1="508.2" y1="149" x2="508.5" y2="156" stroke="#2040d0" stroke-width="1.6"/>
<line x1="508.5" y1="156" x2="508.8" y2="163" stroke="#d82424" stroke-width="1.6"/>
<circle cx="508.4" cy="134.9" r="2.2" fill="url(#gO)"/>
<circle cx="495.6" cy="142.7" r="2.2" fill="url(#gO)"/>
<circle cx="522.4" cy="141.6" r="2.2" fill="url(#gO)"/>
<circle cx="494.3" cy="156.1" r="2.2" fill="url(#gO)"/>
<circle cx="520.7" cy="156.3" r="2.2" fill="url(#gO)"/>
<circle cx="508.8" cy="163" r="2.2" fill="url(#gO)"/>
<circle cx="508.2" cy="149" r="3.9" fill="url(#gCu)"/>
<line x1="644" y1="149.2" x2="644.6" y2="141.3" stroke="#7a70a0" stroke-width="1.6"/>
<line x1="644.6" y1="141.3" x2="645.3" y2="133.4" stroke="#e04a4a" stroke-width="1.6"/>
<line x1="644" y1="149.2" x2="637.2" y2="145.5" stroke="#7a70a0" stroke-width="1.6"/>
<line x1="637.2" y1="145.5" x2="630.5" y2="141.8" stroke="#e04a4a" stroke-width="1.6"/>
<line x1="644" y1="149.2" x2="650.8" y2="144.8" stroke="#7a70a0" stroke-width="1.6"/>
<line x1="650.8" y1="144.8" x2="657.6" y2="140.5" stroke="#e04a4a" stroke-width="1.6"/>
<line x1="644" y1="149.2" x2="637.2" y2="153.1" stroke="#7a70a0" stroke-width="1.6"/>
<line x1="637.2" y1="153.1" x2="630.5" y2="157.1" stroke="#e04a4a" stroke-width="1.6"/>
<line x1="644" y1="149.2" x2="650.8" y2="153.4" stroke="#7a70a0" stroke-width="1.6"/>
<line x1="650.8" y1="153.4" x2="657.6" y2="157.6" stroke="#e04a4a" stroke-width="1.6"/>
<line x1="644" y1="149.2" x2="644.9" y2="156.7" stroke="#7a70a0" stroke-width="1.6"/>
<line x1="644.9" y1="156.7" x2="645.8" y2="164.2" stroke="#e04a4a" stroke-width="1.6"/>
<circle cx="645.3" cy="133.4" r="2.2" fill="url(#gOc)"/>
<circle cx="630.5" cy="141.8" r="2.2" fill="url(#gOc)"/>
<circle cx="657.6" cy="140.5" r="2.2" fill="url(#gOc)"/>
<circle cx="630.5" cy="157.1" r="2.2" fill="url(#gOc)"/>
<circle cx="657.6" cy="157.6" r="2.2" fill="url(#gOc)"/>
<circle cx="645.8" cy="164.2" r="2.2" fill="url(#gOc)"/>
<circle cx="644" cy="149.2" r="5" fill="url(#gSn)"/>
<text x="-0.3" y="217.2" font-size="17" font-weight="bold" fill="#000">d</text>
<text transform="translate(14.2,295.9) rotate(-90)" font-size="12.75" text-anchor="middle" fill="#111">Formation energy (eV)</text>
<line x1="28.8" y1="220.7" x2="28.8" y2="371.5" stroke="#333" stroke-width="1"/>
<line x1="28.3" y1="371.5" x2="215.6" y2="371.5" stroke="#333" stroke-width="1"/>
<line x1="25.8" y1="220.9" x2="28.8" y2="220.9" stroke="#333" stroke-width="1"/>
<text x="23.9" y="224.2" font-size="10.1" text-anchor="end" fill="#222">6</text>
<line x1="25.8" y1="267" x2="28.8" y2="267" stroke="#333" stroke-width="1"/>
<text x="23.9" y="270.3" font-size="10.1" text-anchor="end" fill="#222">4</text>
<line x1="25.8" y1="313.1" x2="28.8" y2="313.1" stroke="#333" stroke-width="1"/>
<text x="23.9" y="316.4" font-size="10.1" text-anchor="end" fill="#222">2</text>
<line x1="25.8" y1="359.2" x2="28.8" y2="359.2" stroke="#333" stroke-width="1"/>
<text x="23.9" y="362.5" font-size="10.1" text-anchor="end" fill="#222">0</text>
<line x1="27" y1="243.9" x2="28.8" y2="243.9" stroke="#333" stroke-width="0.8"/>
<line x1="27" y1="290" x2="28.8" y2="290" stroke="#333" stroke-width="0.8"/>
<line x1="27" y1="336.1" x2="28.8" y2="336.1" stroke="#333" stroke-width="0.8"/>
<line x1="45.6" y1="371.5" x2="45.6" y2="374.2" stroke="#333" stroke-width="1"/>
<line x1="62.6" y1="371.5" x2="62.6" y2="374.2" stroke="#333" stroke-width="1"/>
<line x1="79.6" y1="371.5" x2="79.6" y2="374.2" stroke="#333" stroke-width="1"/>
<line x1="96.6" y1="371.5" x2="96.6" y2="374.2" stroke="#333" stroke-width="1"/>
<line x1="113.6" y1="371.5" x2="113.6" y2="374.2" stroke="#333" stroke-width="1"/>
<line x1="130.6" y1="371.5" x2="130.6" y2="374.2" stroke="#333" stroke-width="1"/>
<line x1="147.6" y1="371.5" x2="147.6" y2="374.2" stroke="#333" stroke-width="1"/>
<line x1="164.6" y1="371.5" x2="164.6" y2="374.2" stroke="#333" stroke-width="1"/>
<line x1="181.6" y1="371.5" x2="181.6" y2="374.2" stroke="#333" stroke-width="1"/>
<line x1="198.6" y1="371.5" x2="198.6" y2="374.2" stroke="#333" stroke-width="1"/>
<line x1="215.4" y1="371.5" x2="215.4" y2="374.2" stroke="#333" stroke-width="1"/>
<text x="45.6" y="388.0" font-size="12" text-anchor="middle" fill="#111">V<tspan dy="3.6" font-size="8.3">O1</tspan></text>
<text x="79.6" y="388.0" font-size="12" text-anchor="middle" fill="#111">V<tspan dy="3.6" font-size="8.3">O3</tspan></text>
<text x="113.6" y="388.0" font-size="12" text-anchor="middle" fill="#111">V<tspan dy="3.6" font-size="8.3">O5</tspan></text>
<text x="147.6" y="388.0" font-size="12" text-anchor="middle" fill="#111">V<tspan dy="3.6" font-size="8.3">O7</tspan></text>
<text x="181.6" y="388.0" font-size="12" text-anchor="middle" fill="#111">V<tspan dy="3.6" font-size="8.3">O9</tspan></text>
<path d="M45.6,327.4 C48.4,332.9 56.9,355.8 62.6,360.5 C68.3,365.2 73.9,355.1 79.6,355.7 C85.3,356.3 90.9,364.2 96.6,364.2 C102.3,364.2 107.9,359.5 113.6,355.8 C119.3,352.1 124.9,342.1 130.6,342.2 C136.3,342.3 141.9,358.1 147.6,356.5 C153.3,354.9 158.9,333.2 164.6,332.3 C170.3,331.4 175.9,345.6 181.6,351.3 C187.3,357 195.8,364.1 198.6,366.6" fill="none" stroke="#4a88c4" stroke-width="1"/>
<circle cx="45.6" cy="327.4" r="2.3" fill="#fff" stroke="#4a88c4" stroke-width="0.8"/>
<circle cx="62.6" cy="360.5" r="2.3" fill="#fff" stroke="#4a88c4" stroke-width="0.8"/>
<circle cx="79.6" cy="355.7" r="2.3" fill="#fff" stroke="#4a88c4" stroke-width="0.8"/>
<circle cx="96.6" cy="364.2" r="2.3" fill="#fff" stroke="#4a88c4" stroke-width="0.8"/>
<circle cx="113.6" cy="355.8" r="2.3" fill="#fff" stroke="#4a88c4" stroke-width="0.8"/>
<circle cx="130.6" cy="342.2" r="2.3" fill="#fff" stroke="#4a88c4" stroke-width="0.8"/>
<circle cx="147.6" cy="356.5" r="2.3" fill="#fff" stroke="#4a88c4" stroke-width="0.8"/>
<circle cx="164.6" cy="332.3" r="2.3" fill="#fff" stroke="#4a88c4" stroke-width="0.8"/>
<circle cx="181.6" cy="351.3" r="2.3" fill="#fff" stroke="#4a88c4" stroke-width="0.8"/>
<circle cx="198.6" cy="366.6" r="2.3" fill="#fff" stroke="#4a88c4" stroke-width="0.8"/>
<path d="M45.6,298.3 C48.4,295.4 56.9,288.5 62.6,280.8 C68.3,273.1 73.9,253.3 79.6,252 C85.3,250.7 90.9,266.4 96.6,273 C102.3,279.6 107.9,295.6 113.6,291.9 C119.3,288.2 124.9,253.2 130.6,250.8 C136.3,248.4 141.9,273.6 147.6,277.7 C153.3,281.8 158.9,271.1 164.6,275.1 C170.3,279.2 175.9,302.1 181.6,302 C187.3,301.9 195.8,278.9 198.6,274.3" fill="none" stroke="#e66a6a" stroke-width="1"/>
<circle cx="45.6" cy="298.3" r="2.3" fill="#fff" stroke="#e66a6a" stroke-width="0.8"/>
<circle cx="62.6" cy="280.8" r="2.3" fill="#fff" stroke="#e66a6a" stroke-width="0.8"/>
<circle cx="79.6" cy="252" r="2.3" fill="#fff" stroke="#e66a6a" stroke-width="0.8"/>
<circle cx="96.6" cy="273" r="2.3" fill="#fff" stroke="#e66a6a" stroke-width="0.8"/>
<circle cx="113.6" cy="291.9" r="2.3" fill="#fff" stroke="#e66a6a" stroke-width="0.8"/>
<circle cx="130.6" cy="250.8" r="2.3" fill="#fff" stroke="#e66a6a" stroke-width="0.8"/>
<circle cx="147.6" cy="277.7" r="2.3" fill="#fff" stroke="#e66a6a" stroke-width="0.8"/>
<circle cx="164.6" cy="275.1" r="2.3" fill="#fff" stroke="#e66a6a" stroke-width="0.8"/>
<circle cx="181.6" cy="302" r="2.3" fill="#fff" stroke="#e66a6a" stroke-width="0.8"/>
<circle cx="198.6" cy="274.3" r="2.3" fill="#fff" stroke="#e66a6a" stroke-width="0.8"/>
<line x1="162" y1="226.5" x2="183.9" y2="226.5" stroke="#4a88c4" stroke-width="1"/>
<circle cx="173" cy="226.5" r="2.3" fill="#fff" stroke="#4a88c4" stroke-width="0.8"/>
<text x="187.2" y="229.9" font-size="9.6" fill="#111">NFM</text>
<line x1="162" y1="238.5" x2="183.9" y2="238.5" stroke="#e66a6a" stroke-width="1"/>
<circle cx="173" cy="238.5" r="2.3" fill="#fff" stroke="#e66a6a" stroke-width="0.8"/>
<text x="187.2" y="242" font-size="9.6" fill="#111">CFTS5</text>
<text x="257" y="217.5" font-size="17" font-weight="bold" fill="#000">e</text>
<text transform="translate(269.8,295.9) rotate(-90)" font-size="10.8" text-anchor="middle" fill="#111">Energy (eV)</text>
<polygon points="353.5,307 327.9,308.3 315,309.6 302.2,311 307.6,313 303.5,314.4 301.2,315.8 298.8,317.1 306.2,319.1 312.7,320.8 317.8,322.5 319.1,324.2 320.5,325.9 320,327.2 319.7,328.6 319.1,329.9 320.6,331.6 323.2,333.3 329,334.6 334.7,336 311.7,338.1 316,339.5 319.8,340.8 325,342.1 329.3,343.5 331.4,344.8 334.4,346.2 337.4,347.5 342.1,348.9 348.6,350.2 353.5,351.6" fill="url(#dosL)" stroke="none" stroke-width="1"/>
<polygon points="353.5,298.8 367.9,300 382.6,301.3 396.7,302.5 381.1,303.5 390.6,304.2 373.7,306.5 394.7,308.3 405.5,309 400.4,310.6 394.7,312.3 401.4,314.1 394,315 399.2,316.7 405.5,318.4 398.7,319.8 383.8,321.8 380.6,323 378.7,324.3 376.4,325.5 375,326.8 374.8,328.1 373.6,329.3 372.3,330.6 370.3,332.6 372,334 373.5,335.3 375,336.7 375.1,338.1 374,339.4 374.4,340.8 376.4,342.1 373.1,343.7 369.5,345.3 366.9,346.9 366.2,348.2 364.2,349.6 365.5,351.3 368.3,353 365.1,354.6 360.8,356.3 357.1,358 354.7,359.7 353.5,360.5" fill="url(#dosR)" stroke="none" stroke-width="1"/>
<line x1="303" y1="295.7" x2="407" y2="295.7" stroke="#8c8c8c" stroke-width="1.5" stroke-dasharray="3.2,2.6"/>
<path d="M349,220.4 L348.1,221.2 L350.1,221.9 L350,222.7 L348.6,223.5 L349.4,224.2 L349.3,225 L350,225.8 L350.4,226.5 L348.6,227.3 L348.5,228.1 L350.8,228.9 L349.8,229.6 L350.8,230.4 L348.7,231.2 L350,231.9 L350.9,232.7 L349.6,233.5 L351.7,234.2 L350.5,235 L351.8,235.8 L349.4,236.5 L349.6,237.3 L351.1,238.1 L352.4,238.8 L351,239.6 L350.6,240.4 L351.3,241.2 L350.4,241.9 L351,242.7 L351.8,243.5 L352.1,244.2 L352.2,245 L351.5,245.8 L351.6,246.6 L351.7,247.3 L352.4,248.1 L352.1,248.9 L351.4,249.7 L353.8,250.4 L353.1,251.2 L353,252 L353.4,252.8 L352.2,253.6 L354.4,254.3 L354.1,255.1 L352,255.9 L352.7,256.7 L353.8,257.4 L353.8,258.2 L353.2,259 L351.1,259.8 L346.3,260.6 L344.1,261.5 L340.3,262.3 L336.5,263.1 L337.1,263.9 L339.1,264.8 L341.1,265.6 L341.2,266.4 L342,267.2 L340.9,268.1 L341,268.9 L340.6,269.8 L341.6,270.9 L345.3,271.9 L345.4,272.7 L347.8,273.6 L347.6,274.4 L347.8,275.2 L349.7,276.1 L351,276.9 L351.7,277.8 L352.1,278.6 L352,279.5 L352.4,280.4 L352.8,281.2 L353.8,282.1 L353.2,283 L353.3,283.8 L352.9,284.6 L353.2,285.3 L351.9,286.1 L352,286.9 L353.8,287.7 L354.6,288.4 L353.5,289.2 L353.3,290 L353,290.8 L352.4,291.6 L353.3,292.4 L354.7,293.2 L354.1,294 L353.5,294.8 L354.4,295.6 L352.6,296.4 L353.4,297.2 L353.4,298" fill="none" stroke="#3d7fc0" stroke-width="0.9" stroke-linejoin="round"/>
<path d="M358.2,220.4 L359.4,221.2 L359.3,221.9 L356.7,222.7 L356.7,223.5 L358.7,224.2 L358.3,225 L358,225.8 L356.9,226.5 L357.7,227.3 L357.6,228.1 L357.4,228.9 L356.2,229.6 L356.8,230.4 L356.6,231.2 L357.5,231.9 L358.2,232.7 L357.9,233.5 L356.7,234.2 L356.5,235 L356.2,235.8 L355.6,236.5 L354.8,237.3 L354.6,238.1 L355.7,238.8 L355.1,239.6 L355.1,240.4 L356.4,241.2 L355.3,241.9 L355.2,242.7 L354.2,243.5 L353.4,244.2 L354.6,245 L354,245.8 L353.4,246.6 L354.4,247.3 L355.6,248.1 L354.6,248.9 L353.2,249.7 L355.1,250.4 L354.7,251.2 L353.8,252 L354.4,252.8 L354.9,253.5 L354.5,254.3 L354.5,255.1 L353.3,255.9 L355,256.6 L355,257.4 L352.7,258.2 L354.3,259 L354.2,259.7 L353.6,260.5 L364.3,261.7 L358.9,262.6 L353.8,263.5 L353.9,264.3 L353.9,265 L355.2,265.8 L354.1,266.6 L355,267.4 L353.8,268.1 L355.3,268.9 L355.4,269.7 L354.3,270.5 L354.6,271.2 L354.5,272 L355.6,272.8 L354.9,273.5 L354.2,274.2 L353.4,275 L353.6,275.8 L354.5,276.5 L352.9,277.2 L354.9,278 L353,278.8 L353.6,279.5 L361.2,280.3 L365.9,281.1 L374.1,281.9 L379.2,282.7 L374.8,283.6 L369.3,284.5 L364.3,285.4 L369.7,286.8 L362.4,287.8 L355,288.8 L355.1,289.6 L354.5,290.4 L353.4,291.2 L353.6,292 L352.8,292.8 L353.6,293.6 L354.8,294.4 L353.9,295.1 L352.4,295.9 L354.5,296.7 L353.6,297.5" fill="none" stroke="#3d7fc0" stroke-width="0.9" stroke-linejoin="round"/>
<path d="M353.4,298 L346,299.1 L340,300.2 L335.2,301.1 L329.8,302 L325.2,302.9 L330.9,303.8 L336,304.6 L352.3,305 L353.2,306 L353.4,307" fill="none" stroke="#3d7fc0" stroke-width="0.9" stroke-linejoin="round"/>
<path d="M353.4,307.3 L341,308.1 L330,308.8 L322.3,309.6 L316.5,310.3 L309.2,311.1 L303.5,311.8 L306.5,313.2 L303.3,314.3 L302.5,315.4 L301.2,316.5 L300.5,317.6 L305.5,318.4 L309,319.2 L312,320 L314.4,320.8 L314.6,321.6 L317.2,322.4 L318.8,323.2 L317.7,324 L316.9,324.9 L316.3,325.7 L316.9,326.5 L317.1,327.4 L320.1,328.2 L320.9,329.1 L321,330 L322.7,330.8 L323.4,331.5 L322.5,332.3 L323.7,333 L325,333.8 L327.2,334.6 L329.4,335.3 L331.6,336.1 L332.5,336.8 L324.1,337.8 L313.5,338.7 L315.2,339.6 L319.5,340.6 L322,341.5 L324.7,342.2 L326.5,343 L327.8,343.8 L331,344.5 L332.5,345.3 L333.1,346.1 L337,347 L337.4,347.8 L338.7,348.6 L338.1,349.3 L337.7,350.1 L339.7,350.8 L338.8,351.6 L353.6,352.5" fill="none" stroke="#3d7fc0" stroke-width="0.9" stroke-linejoin="round"/>
<path d="M353.4,299.3 L363.4,300.2 L373.4,301.1 L383.2,302.1 L392,303 L384,304 L390.7,304.8 L395,305.5 L378,306.8 L406.9,307.6 L404.8,308.5 L402.6,309.4 L397.4,310.3 L396,311.2 L398.2,312 L401.9,312.8 L403,313.6 L399.9,314.6 L396,315.5 L400.2,316.4 L401,317.3 L405.1,318.2 L408.2,319.1 L399.5,320.5 L391.8,321.5 L385.5,322.5 L383.7,323.4 L382,324.2 L378.5,325.1 L378,326 L376,326.8 L375,327.7 L375.7,328.5 L374.1,329.3 L371.2,330.2 L371,331 L372.7,331.8 L371.7,332.7 L373.8,333.5 L373.3,334.3 L373.8,335.2 L376,336 L376,336.8 L373.2,337.7 L373,338.5 L374.2,339.4 L378.4,340.3 L379.1,341.2 L378.1,342 L374.5,342.7 L374.3,343.5 L371.1,344.2 L369,345 L367.7,345.8 L364.7,346.5 L365,347.2 L362,348 L364.2,348.8 L366.7,349.6 L368.2,350.4 L368.2,351.2 L370.5,352 L368.3,352.8 L365.9,353.5 L364,354.2 L361.9,355 L360.8,355.8 L359.5,356.5 L358.4,357.2 L355.3,358 L355.7,358.8 L353.8,359.5" fill="none" stroke="#3d7fc0" stroke-width="0.9" stroke-linejoin="round"/>
<path d="M353.6,352.5 L354,353.2 L353.6,354 L352.3,354.8 L351.2,355.5 L350,356.2 L351,357 L352.1,357.8 L352.1,358.5 L353.5,359.2 L353.4,360 L352.6,360.8 L353.3,361.6 L351.4,362.3 L351.6,363.1 L353,364.1 L353.4,365 L353.4,366 L352.9,366.8 L353.1,367.5 L353.2,368.2 L352.5,369 L352.1,370 L353.4,371" fill="none" stroke="#3d7fc0" stroke-width="0.9" stroke-linejoin="round"/>
<path d="M353.8,359.5 L355.4,360.2 L358,361 L358.4,361.8 L361.2,362.6 L360.9,363.5 L363.6,364.3 L364.9,365.1 L357,366.5 L359.1,367.5 L362,368.5 L357.3,369.2 L355,370 L353.6,371" fill="none" stroke="#3d7fc0" stroke-width="0.9" stroke-linejoin="round"/>
<line x1="353.5" y1="250" x2="353.5" y2="299.5" stroke="#e5545c" stroke-width="0.9"/>
<line x1="353.5" y1="349" x2="353.5" y2="371" stroke="#e5545c" stroke-width="0.9"/>
<path d="M349.6,220.4 L349.5,221.2 L349.9,221.9 L351,222.7 L349.8,223.5 L350,224.2 L350.3,225 L349.2,225.8 L350.2,226.5 L350.6,227.3 L351.2,228.1 L349.3,228.9 L349.9,229.6 L349.4,230.4 L351.5,231.2 L351.2,231.9 L349.5,232.7 L352.2,233.5 L352.2,234.2 L351,235 L351.5,235.8 L351.5,236.5 L350.4,237.3 L350.1,238.1 L351.6,238.8 L350.4,239.6 L350.9,240.4 L351.1,241.2 L350.7,241.9 L352,242.7 L352,243.5 L353.3,244.2 L352.4,245 L352.5,245.8 L352.9,246.6 L352.6,247.3 L353.2,248.1 L352.7,248.9 L352.2,249.7 L354.3,250.4 L354.4,251.2 L353.1,252 L354.1,252.8 L353.7,253.5 L352.6,254.3 L352.4,255.1 L352.6,255.8 L352,256.6 L353.9,257.4 L352.9,258.2 L354.2,258.9 L353.2,259.7 L348.2,260.6 L345.1,261.5 L339.2,262.4 L341.7,263.2 L340.9,264.1 L343,264.9 L345.3,265.8 L346.7,266.6 L345.8,267.3 L347.5,268.1 L346.2,268.9 L345.5,269.7 L347.4,270.4 L347.3,271.2 L348.7,272 L347.9,272.7 L348,273.5 L349.4,274.2 L351.8,275 L351.8,275.7 L350.7,276.5 L351.7,277.2 L353,278 L351.9,278.8 L351.8,279.6 L354,280.4 L352.3,281.2 L353.2,282 L347.3,282.7 L353.3,283.5 L353.5,284.3 L353.2,285 L352.4,285.8 L354,286.6 L352.3,287.3 L353.7,288.1 L352.3,288.8 L353.1,289.6 L352.5,290.4 L352.7,291.1 L354.7,291.9 L354.2,292.7 L352.8,293.4 L354.5,294.2 L352.6,294.9 L353.1,295.7 L354.4,296.5 L353.8,297.2 L353.4,298" fill="none" stroke="#e5545c" stroke-width="0.9" stroke-linejoin="round"/>
<path d="M357.6,220.4 L357.4,221.2 L357.9,221.9 L357.8,222.7 L356.3,223.5 L355.8,224.2 L356.7,225 L356.4,225.8 L357.8,226.5 L357.4,227.3 L357,228.1 L356.8,228.9 L357,229.6 L355.5,230.4 L356.3,231.2 L355.4,231.9 L357.4,232.7 L354.9,233.5 L357,234.2 L356,235 L354.7,235.8 L356.3,236.5 L355.2,237.3 L355.2,238.1 L356.3,238.8 L353.9,239.6 L353.9,240.4 L356.1,241.2 L354.8,241.9 L353.5,242.7 L355.9,243.5 L355.7,244.2 L354.3,245 L353.1,245.8 L354,246.6 L353.1,247.3 L353.5,248.1 L354.3,248.9 L353,249.7 L354.4,250.4 L352.5,251.2 L353.7,252 L352.8,252.8 L354.6,253.5 L353.4,254.3 L353.5,255 L353.9,255.8 L353.6,256.6 L353.3,257.3 L352.3,258.1 L354.3,258.9 L355,259.6 L355,260.4 L354.1,261.1 L353.2,261.9 L353.3,262.7 L354.2,263.4 L354.1,264.2 L352.5,265 L352.9,265.7 L353.2,266.5 L353.6,267.2 L353.6,268 L355.1,268.9 L354.9,269.7 L354.2,270.6 L357.1,271.5 L356.7,272.3 L357.5,273.2 L356.3,274.1 L354.1,275.1 L353.6,276 L353.4,276.8 L353.3,277.5 L354.4,278.2 L352.5,279 L353.7,279.8 L353.6,280.5 L357.7,281.4 L364.2,282.2 L367.4,283.1 L373.7,284 L370.4,284.9 L367.9,285.7 L366,286.5 L362.9,287.4 L365.6,288.8 L360.5,289.9 L358,291 L355.7,292 L353.6,293 L352.8,293.8 L353,294.7 L353.5,295.5 L354.9,296.3 L353.5,297.2 L353.6,298" fill="none" stroke="#e5545c" stroke-width="0.9" stroke-linejoin="round"/>
<path d="M353.4,298 L347.4,298.8 L342.8,299.5 L347.9,300.5 L352,301.5 L348.5,302.2 L344,303 L349.1,303.8 L352.3,304.5 L351.8,305.3 L352.3,306.2 L353.4,307" fill="none" stroke="#e5545c" stroke-width="0.9" stroke-linejoin="round"/>
<path d="M353.4,307 L327.9,308.3 L318.2,309.2 L311.3,310.1 L302.2,311 L305.3,312 L307.6,313 L303.5,314.4 L303.2,315.3 L299.7,316.2 L298.8,317.1 L301.8,318.1 L306.2,319.1 L309.8,320 L312.4,320.8 L314.3,321.6 L317.8,322.5 L319,323.4 L318.9,324.2 L320.6,325 L320.5,325.9 L319.2,326.7 L319.2,327.5 L320.8,328.3 L319,329.1 L319.1,329.9 L319.5,330.8 L322,331.6 L322.5,332.4 L323.2,333.3 L326.1,334.2 L331,335.1 L334.7,336 L323.7,337.1 L311.7,338.1 L313.5,339 L317.5,339.9 L319.8,340.8 L321.9,341.7 L325.7,342.6 L329.3,343.5 L329.8,344.3 L331.7,345.1 L335.5,345.9 L335.5,346.7 L337.4,347.5 L342,348.3 L343.7,349.1 L347.4,350 L351.4,350.8 L353.6,351.6" fill="none" stroke="#e5545c" stroke-width="0.9" stroke-linejoin="round"/>
<path d="M353.4,298.8 L365.5,299.7 L373.7,300.6 L386.5,301.6 L396.7,302.5 L381.1,303.5 L390.6,304.2 L384,305 L380.7,305.7 L373.7,306.5 L382.8,307.4 L394.7,308.3 L405.5,309 L403.9,309.8 L400.6,310.6 L398.4,311.5 L394.7,312.3 L399.4,313.2 L401.4,314.1 L394,315 L396.1,315.9 L399.3,316.7 L403.2,317.5 L405.5,318.4 L398.7,319.8 L390.6,320.8 L383.8,321.8 L381.3,322.7 L379.3,323.6 L379.3,324.6 L376.4,325.5 L376.8,326.4 L375.9,327.2 L373.6,328.1 L374.9,328.9 L373,329.8 L372.3,330.6 L370.5,331.6 L370.3,332.6 L371.1,333.4 L372,334.2 L371.9,335.1 L374.2,335.9 L375,336.7 L374.5,337.5 L375,338.3 L375.8,339.2 L374.9,340 L374.4,340.8 L376.4,342.1 L374.6,342.9 L374.3,343.7 L373,344.5 L370,345.3 L369.7,346.1 L366.9,346.9 L364.7,347.8 L364.1,348.7 L364.2,349.6 L364.3,350.5 L367.5,351.3 L367.8,352.1 L368.3,353 L367,353.8 L364,354.6 L362.7,355.5 L360.8,356.3 L360.4,357.1 L356.6,358 L355.2,358.9 L354.7,359.7 L353.4,360.5" fill="none" stroke="#e5545c" stroke-width="0.9" stroke-linejoin="round"/>
<path d="M353.6,351.6 L353.2,352.4 L353.5,353.1 L353.3,353.9 L353.4,354.7 L353.3,355.4 L353.9,356.2 L352.8,356.9 L353.8,357.7 L352.1,358.5 L352.9,359.2 L353.4,360 L352.7,360.9 L351.9,361.8 L353.3,362.6 L352.4,363.5 L352.2,364.3 L353.9,365.2 L353.4,366 L354.7,366.8 L352.7,367.7 L354.5,368.5 L354.3,369.3 L353.9,370.2 L353.4,371" fill="none" stroke="#e5545c" stroke-width="0.9" stroke-linejoin="round"/>
<path d="M353.4,360.5 L355,361.5 L356.5,362.5 L359.1,363.5 L360,364.5 L358.8,365.5 L355,366.5 L356.2,367.5 L358.5,368.5 L357.6,369.3 L355.8,370.2 L353.6,371" fill="none" stroke="#e5545c" stroke-width="0.9" stroke-linejoin="round"/>
<ellipse cx="340.3" cy="303.6" rx="18.1" ry="5.3" fill="none" stroke="#222" stroke-width="0.9" stroke-dasharray="3,1.2,0.9,1.2"/>
<line x1="363.5" y1="291.5" x2="363.5" y2="308.5" stroke="#222" stroke-width="0.8" stroke-dasharray="2,1.2"/>
<polygon points="361.9,306.5 365.1,306.5 363.5,312" fill="#222" stroke="none" stroke-width="1"/>
<text x="344.8" y="320.9" font-size="10" fill="#111">lowering</text>
<text x="297.2" y="242.2" font-size="9.8" fill="#e5545c">CFTS5</text>
<line x1="348" y1="253.8" x2="325" y2="246.3" stroke="#e5545c" stroke-width="0.9"/>
<polygon points="321,245 326.6,244.6 325.4,248.3" fill="#e5545c" stroke="none" stroke-width="1"/>
<text x="373.5" y="268.1" font-size="10" fill="#3d7fc0">NFM</text>
<line x1="365" y1="280.5" x2="385" y2="273.3" stroke="#3d7fc0" stroke-width="0.9"/>
<polygon points="389,271.8 383.6,271.2 385.1,274.9" fill="#3d7fc0" stroke="none" stroke-width="1"/>
<text x="395.3" y="231.7" font-size="9.6" fill="#111">O 2<tspan font-style="italic">p</tspan></text>
<text x="302.2" y="290.7" font-size="9.6" fill="#111">E<tspan dy="2.5" font-size="6.8">F</tspan></text>
<text x="291.3" y="366.9" font-size="9.6" fill="#111">Down</text>
<text x="399.8" y="366.6" font-size="9.6" fill="#111">Up</text>
<line x1="287" y1="220.4" x2="287" y2="371.5" stroke="#555" stroke-width="1"/>
<line x1="283.9" y1="371.5" x2="419.3" y2="371.5" stroke="#333" stroke-width="1"/>
<line x1="283.8" y1="220.4" x2="287" y2="220.4" stroke="#555" stroke-width="1"/>
<text x="282.2" y="223.6" font-size="10.1" text-anchor="end" fill="#222">8</text>
<line x1="283.8" y1="258.2" x2="287" y2="258.2" stroke="#555" stroke-width="1"/>
<text x="282.2" y="261.4" font-size="10.1" text-anchor="end" fill="#222">4</text>
<line x1="283.8" y1="296" x2="287" y2="296" stroke="#555" stroke-width="1"/>
<text x="282.2" y="299.2" font-size="10.1" text-anchor="end" fill="#222">0</text>
<line x1="283.8" y1="333.8" x2="287" y2="333.8" stroke="#555" stroke-width="1"/>
<text x="282.2" y="337" font-size="10.1" text-anchor="end" fill="#222">-4</text>
<line x1="283.8" y1="371.6" x2="287" y2="371.6" stroke="#555" stroke-width="1"/>
<text x="282.2" y="374.8" font-size="10.1" text-anchor="end" fill="#222">-8</text>
<line x1="285.3" y1="239.3" x2="287" y2="239.3" stroke="#555" stroke-width="0.8"/>
<line x1="285.3" y1="277.1" x2="287" y2="277.1" stroke="#555" stroke-width="0.8"/>
<line x1="285.3" y1="314.9" x2="287" y2="314.9" stroke="#555" stroke-width="0.8"/>
<line x1="285.3" y1="352.7" x2="287" y2="352.7" stroke="#555" stroke-width="0.8"/>
<line x1="287" y1="371.5" x2="287" y2="373.1" stroke="#333" stroke-width="1"/>
<line x1="300.3" y1="371.5" x2="300.3" y2="374.1" stroke="#333" stroke-width="1"/>
<line x1="313.6" y1="371.5" x2="313.6" y2="373.1" stroke="#333" stroke-width="1"/>
<line x1="326.9" y1="371.5" x2="326.9" y2="374.1" stroke="#333" stroke-width="1"/>
<line x1="340.2" y1="371.5" x2="340.2" y2="373.1" stroke="#333" stroke-width="1"/>
<line x1="353.5" y1="371.5" x2="353.5" y2="374.1" stroke="#333" stroke-width="1"/>
<line x1="366.8" y1="371.5" x2="366.8" y2="373.1" stroke="#333" stroke-width="1"/>
<line x1="380.1" y1="371.5" x2="380.1" y2="374.1" stroke="#333" stroke-width="1"/>
<line x1="393.4" y1="371.5" x2="393.4" y2="373.1" stroke="#333" stroke-width="1"/>
<line x1="406.7" y1="371.5" x2="406.7" y2="374.1" stroke="#333" stroke-width="1"/>
<line x1="420" y1="371.5" x2="420" y2="373.1" stroke="#333" stroke-width="1"/>
<text x="300.3" y="383.9" font-size="9.6" text-anchor="middle" fill="#222">-20</text>
<text x="326.9" y="383.9" font-size="9.6" text-anchor="middle" fill="#222">-10</text>
<text x="353.5" y="383.9" font-size="9.6" text-anchor="middle" fill="#222">0</text>
<text x="380.1" y="383.9" font-size="9.6" text-anchor="middle" fill="#222">10</text>
<text x="406.7" y="383.9" font-size="9.6" text-anchor="middle" fill="#222">20</text>
<text x="353.6" y="400.5" font-size="10.7" text-anchor="middle" fill="#111">Density of States (a. u.)</text>
<text x="455" y="217" font-size="17" font-weight="bold" fill="#000">f</text>
<polygon points="469.6,219 620.7,219 620.2,222.5 466.6,222.5" fill="#d4d6d8" stroke="none" stroke-width="1" opacity="0.9"/>
<polygon points="467.6,221.5 620.2,221.5 619.2,249.5 466.6,249.5" fill="#c2c5c8" stroke="none" stroke-width="1" opacity="0.92"/>
<polygon points="466.6,222.5 498,222.5 498,248 466.6,248" fill="#c6c9cc" stroke="none" stroke-width="1" opacity="0.82"/>
<polygon points="466.6,222.5 482.3,235.2 466.6,248" fill="#000" stroke="none" stroke-width="1" opacity="0.10"/>
<polygon points="498,222.5 482.3,235.2 498,248" fill="#000" stroke="none" stroke-width="1" opacity="0.05"/>
<polyline points="466.6,222.5 482.3,235.2 498,222.5" fill="none" stroke="#ffffff" stroke-width="0.5" opacity="0.5"/>
<polyline points="466.6,248 482.3,235.2 498,248" fill="none" stroke="#ffffff" stroke-width="0.5" opacity="0.5"/>
<polygon points="498,222.5 527,222.5 527,248 498,248" fill="#c08c48" stroke="none" stroke-width="1" opacity="0.82"/>
<polygon points="498,222.5 512.5,235.2 498,248" fill="#000" stroke="none" stroke-width="1" opacity="0.10"/>
<polygon points="527,222.5 512.5,235.2 527,248" fill="#000" stroke="none" stroke-width="1" opacity="0.05"/>
<polyline points="498,222.5 512.5,235.2 527,222.5" fill="none" stroke="#ffffff" stroke-width="0.5" opacity="0.5"/>
<polyline points="498,248 512.5,235.2 527,248" fill="none" stroke="#ffffff" stroke-width="0.5" opacity="0.5"/>
<polygon points="527,222.5 553,222.5 553,248 527,248" fill="#b54cb8" stroke="none" stroke-width="1" opacity="0.82"/>
<polygon points="527,222.5 540,235.2 527,248" fill="#000" stroke="none" stroke-width="1" opacity="0.10"/>
<polygon points="553,222.5 540,235.2 553,248" fill="#000" stroke="none" stroke-width="1" opacity="0.05"/>
<polyline points="527,222.5 540,235.2 553,222.5" fill="none" stroke="#ffffff" stroke-width="0.5" opacity="0.5"/>
<polyline points="527,248 540,235.2 553,248" fill="none" stroke="#ffffff" stroke-width="0.5" opacity="0.5"/>
<polygon points="553,222.5 574,222.5 574,248 553,248" fill="#b8aa90" stroke="none" stroke-width="1" opacity="0.82"/>
<polygon points="553,222.5 563.5,235.2 553,248" fill="#000" stroke="none" stroke-width="1" opacity="0.10"/>
<polygon points="574,222.5 563.5,235.2 574,248" fill="#000" stroke="none" stroke-width="1" opacity="0.05"/>
<polyline points="553,222.5 563.5,235.2 574,222.5" fill="none" stroke="#ffffff" stroke-width="0.5" opacity="0.5"/>
<polyline points="553,248 563.5,235.2 574,248" fill="none" stroke="#ffffff" stroke-width="0.5" opacity="0.5"/>
<polygon points="574,222.5 600,222.5 600,248 574,248" fill="#b54cb8" stroke="none" stroke-width="1" opacity="0.82"/>
<polygon points="574,222.5 587,235.2 574,248" fill="#000" stroke="none" stroke-width="1" opacity="0.10"/>
<polygon points="600,222.5 587,235.2 600,248" fill="#000" stroke="none" stroke-width="1" opacity="0.05"/>
<polyline points="574,222.5 587,235.2 600,222.5" fill="none" stroke="#ffffff" stroke-width="0.5" opacity="0.5"/>
<polyline points="574,248 587,235.2 600,248" fill="none" stroke="#ffffff" stroke-width="0.5" opacity="0.5"/>
<polygon points="600,222.5 620.2,222.5 620.2,248 600,248" fill="#c6c9cc" stroke="none" stroke-width="1" opacity="0.82"/>
<polygon points="600,222.5 610.1,235.2 600,248" fill="#000" stroke="none" stroke-width="1" opacity="0.10"/>
<polygon points="620.2,222.5 610.1,235.2 620.2,248" fill="#000" stroke="none" stroke-width="1" opacity="0.05"/>
<polyline points="600,222.5 610.1,235.2 620.2,222.5" fill="none" stroke="#ffffff" stroke-width="0.5" opacity="0.5"/>
<polyline points="600,248 610.1,235.2 620.2,248" fill="none" stroke="#ffffff" stroke-width="0.5" opacity="0.5"/>
<circle cx="486.8" cy="245.2" r="2" fill="#e05050" opacity="0.55"/>
<circle cx="513.1" cy="245.9" r="2" fill="#e05050" opacity="0.55"/>
<circle cx="533.7" cy="243.8" r="2" fill="#e05050" opacity="0.55"/>
<circle cx="561.9" cy="244.7" r="2" fill="#e05050" opacity="0.55"/>
<circle cx="588.7" cy="244.7" r="2" fill="#e05050" opacity="0.55"/>
<circle cx="608.5" cy="242.9" r="2" fill="#e05050" opacity="0.55"/>
<circle cx="483.3" cy="236.8" r="4.4" fill="url(#fNi)"/>
<circle cx="511" cy="236.8" r="4.4" fill="url(#fCu)"/>
<circle cx="540" cy="237.5" r="4.4" fill="url(#fMn)"/>
<circle cx="568.2" cy="238.5" r="4.4" fill="url(#fNi)"/>
<circle cx="586.9" cy="236.8" r="4.4" fill="url(#fMn)"/>
<circle cx="605.7" cy="234.7" r="4.4" fill="url(#fNi)"/>
<circle cx="469.3" cy="225.4" r="2.4" fill="url(#fO)"/>
<circle cx="479.4" cy="228" r="2.4" fill="url(#fO)"/>
<circle cx="489.4" cy="223.3" r="2.4" fill="url(#fO)"/>
<circle cx="499" cy="225.4" r="2.4" fill="url(#fO)"/>
<circle cx="506.4" cy="221.5" r="2.4" fill="url(#fO)"/>
<circle cx="509.6" cy="228.9" r="2.4" fill="url(#fO)"/>
<circle cx="516.2" cy="223.6" r="2.4" fill="url(#fO)"/>
<circle cx="527.1" cy="227.2" r="2.4" fill="url(#fO)"/>
<circle cx="535.8" cy="221.5" r="2.4" fill="url(#fO)"/>
<circle cx="537.2" cy="229.8" r="2.4" fill="url(#fO)"/>
<circle cx="546" cy="224.7" r="2.4" fill="url(#fO)"/>
<circle cx="554.4" cy="227.2" r="2.4" fill="url(#fO)"/>
<circle cx="564.5" cy="222.8" r="2.4" fill="url(#fO)"/>
<circle cx="564.2" cy="229.8" r="2.4" fill="url(#fO)"/>
<circle cx="574.1" cy="224.9" r="2.4" fill="url(#fO)"/>
<circle cx="583.8" cy="227.2" r="2.4" fill="url(#fO)"/>
<circle cx="591.3" cy="222.8" r="2.4" fill="url(#fO)"/>
<circle cx="601" cy="225.9" r="2.4" fill="url(#fO)"/>
<circle cx="620.7" cy="223.3" r="2.4" fill="url(#fO)"/>
<circle cx="466.6" cy="246.9" r="2.4" fill="url(#fO)"/>
<circle cx="496.4" cy="247.6" r="2.4" fill="url(#fO)"/>
<circle cx="525.3" cy="249" r="2.4" fill="url(#fO)"/>
<circle cx="543.1" cy="246.9" r="2.4" fill="url(#fO)"/>
<circle cx="551.5" cy="249" r="2.4" fill="url(#fO)"/>
<circle cx="571.5" cy="247" r="2.4" fill="url(#fO)"/>
<circle cx="581.1" cy="249.9" r="2.4" fill="url(#fO)"/>
<circle cx="598.3" cy="247.3" r="2.4" fill="url(#fO)"/>
<circle cx="618.5" cy="246.4" r="2.4" fill="url(#fO)"/>
<polygon points="492.4,269.5 604.1,269.5 603.6,273 489.4,273" fill="#d4d6d8" stroke="none" stroke-width="1" opacity="0.9"/>
<polygon points="490.4,272 603.6,272 602.6,299.5 489.4,299.5" fill="#c2c5c8" stroke="none" stroke-width="1" opacity="0.92"/>
<polygon points="489.4,273 528,273 528,298 489.4,298" fill="#b54cb8" stroke="none" stroke-width="1" opacity="0.82"/>
<polygon points="489.4,273 508.7,285.5 489.4,298" fill="#000" stroke="none" stroke-width="1" opacity="0.10"/>
<polygon points="528,273 508.7,285.5 528,298" fill="#000" stroke="none" stroke-width="1" opacity="0.05"/>
<polyline points="489.4,273 508.7,285.5 528,273" fill="none" stroke="#ffffff" stroke-width="0.5" opacity="0.5"/>
<polyline points="489.4,298 508.7,285.5 528,298" fill="none" stroke="#ffffff" stroke-width="0.5" opacity="0.5"/>
<polygon points="528,273 556.5,273 556.5,298 528,298" fill="#c08c48" stroke="none" stroke-width="1" opacity="0.82"/>
<polygon points="528,273 542.2,285.5 528,298" fill="#000" stroke="none" stroke-width="1" opacity="0.10"/>
<polygon points="556.5,273 542.2,285.5 556.5,298" fill="#000" stroke="none" stroke-width="1" opacity="0.05"/>
<polyline points="528,273 542.2,285.5 556.5,273" fill="none" stroke="#ffffff" stroke-width="0.5" opacity="0.5"/>
<polyline points="528,298 542.2,285.5 556.5,298" fill="none" stroke="#ffffff" stroke-width="0.5" opacity="0.5"/>
<polygon points="556.5,273 584.3,273 584.3,298 556.5,298" fill="#c6c9cc" stroke="none" stroke-width="1" opacity="0.82"/>
<polygon points="556.5,273 570.4,285.5 556.5,298" fill="#000" stroke="none" stroke-width="1" opacity="0.10"/>
<polygon points="584.3,273 570.4,285.5 584.3,298" fill="#000" stroke="none" stroke-width="1" opacity="0.05"/>
<polyline points="556.5,273 570.4,285.5 584.3,273" fill="none" stroke="#ffffff" stroke-width="0.5" opacity="0.5"/>
<polyline points="556.5,298 570.4,285.5 584.3,298" fill="none" stroke="#ffffff" stroke-width="0.5" opacity="0.5"/>
<polygon points="584.3,273 603.6,273 603.6,298 584.3,298" fill="#b54cb8" stroke="none" stroke-width="1" opacity="0.82"/>
<polygon points="584.3,273 594,285.5 584.3,298" fill="#000" stroke="none" stroke-width="1" opacity="0.10"/>
<polygon points="603.6,273 594,285.5 603.6,298" fill="#000" stroke="none" stroke-width="1" opacity="0.05"/>
<polyline points="584.3,273 594,285.5 603.6,273" fill="none" stroke="#ffffff" stroke-width="0.5" opacity="0.5"/>
<polyline points="584.3,298 594,285.5 603.6,298" fill="none" stroke="#ffffff" stroke-width="0.5" opacity="0.5"/>
<circle cx="516.2" cy="294.6" r="2" fill="#e05050" opacity="0.55"/>
<circle cx="544.6" cy="294.6" r="2" fill="#e05050" opacity="0.55"/>
<circle cx="574.7" cy="295.5" r="2" fill="#e05050" opacity="0.55"/>
<circle cx="592.2" cy="294.6" r="2" fill="#e05050" opacity="0.55"/>
<circle cx="504.3" cy="282.3" r="3.8" fill="url(#fMn)" opacity="0.6"/>
<circle cx="532.3" cy="283.7" r="3.8" fill="url(#fCu)" opacity="0.6"/>
<circle cx="560.7" cy="284.1" r="3.8" fill="url(#fNi)" opacity="0.6"/>
<circle cx="514" cy="285.5" r="4.4" fill="url(#fMn)"/>
<circle cx="542" cy="285.8" r="4.4" fill="url(#fCu)"/>
<circle cx="570.6" cy="286.7" r="4.4" fill="url(#fNi)"/>
<circle cx="589.6" cy="285.8" r="4.4" fill="url(#fMn)"/>
<circle cx="492.9" cy="272.2" r="2.4" fill="url(#fO)"/>
<circle cx="502.2" cy="275" r="2.4" fill="url(#fO)"/>
<circle cx="511.3" cy="276.7" r="2.4" fill="url(#fO)"/>
<circle cx="519.7" cy="272.7" r="2.4" fill="url(#fO)"/>
<circle cx="529.2" cy="275" r="2.4" fill="url(#fO)"/>
<circle cx="540.8" cy="278.5" r="2.4" fill="url(#fO)"/>
<circle cx="549" cy="272.2" r="2.4" fill="url(#fO)"/>
<circle cx="557.2" cy="275.7" r="2.4" fill="url(#fO)"/>
<circle cx="567.7" cy="279.2" r="2.4" fill="url(#fO)"/>
<circle cx="578.2" cy="274.4" r="2.4" fill="url(#fO)"/>
<circle cx="587.5" cy="276.7" r="2.4" fill="url(#fO)"/>
<circle cx="605" cy="275.3" r="2.4" fill="url(#fO)"/>
<circle cx="489.9" cy="294.2" r="2.4" fill="url(#fO)"/>
<circle cx="499.9" cy="296" r="2.4" fill="url(#fO)"/>
<circle cx="507.8" cy="298.4" r="2.4" fill="url(#fO)"/>
<circle cx="526.7" cy="296" r="2.4" fill="url(#fO)"/>
<circle cx="537.7" cy="299.8" r="2.4" fill="url(#fO)"/>
<circle cx="555.2" cy="298.4" r="2.4" fill="url(#fO)"/>
<circle cx="564.2" cy="300.2" r="2.4" fill="url(#fO)"/>
<circle cx="584.7" cy="297.7" r="2.4" fill="url(#fO)"/>
<circle cx="601" cy="296" r="2.4" fill="url(#fO)"/>
<polygon points="469.6,311 620.7,311 620.2,314.5 466.6,314.5" fill="#d4d6d8" stroke="none" stroke-width="1" opacity="0.9"/>
<polygon points="467.6,313.5 620.2,313.5 619.2,339 466.6,339" fill="#c2c5c8" stroke="none" stroke-width="1" opacity="0.92"/>
<polygon points="466.6,314.5 489.4,314.5 489.4,337.5 466.6,337.5" fill="#c6c9cc" stroke="none" stroke-width="1" opacity="0.82"/>
<polygon points="466.6,314.5 478,326 466.6,337.5" fill="#000" stroke="none" stroke-width="1" opacity="0.10"/>
<polygon points="489.4,314.5 478,326 489.4,337.5" fill="#000" stroke="none" stroke-width="1" opacity="0.05"/>
<polyline points="466.6,314.5 478,326 489.4,314.5" fill="none" stroke="#ffffff" stroke-width="0.5" opacity="0.5"/>
<polyline points="466.6,337.5 478,326 489.4,337.5" fill="none" stroke="#ffffff" stroke-width="0.5" opacity="0.5"/>
<polygon points="489.4,314.5 514.8,314.5 514.8,337.5 489.4,337.5" fill="#b54cb8" stroke="none" stroke-width="1" opacity="0.82"/>
<polygon points="489.4,314.5 502.1,326 489.4,337.5" fill="#000" stroke="none" stroke-width="1" opacity="0.10"/>
<polygon points="514.8,314.5 502.1,326 514.8,337.5" fill="#000" stroke="none" stroke-width="1" opacity="0.05"/>
<polyline points="489.4,314.5 502.1,326 514.8,314.5" fill="none" stroke="#ffffff" stroke-width="0.5" opacity="0.5"/>
<polyline points="489.4,337.5 502.1,326 514.8,337.5" fill="none" stroke="#ffffff" stroke-width="0.5" opacity="0.5"/>
<polygon points="514.8,314.5 525.3,314.5 525.3,337.5 514.8,337.5" fill="#c6c9cc" stroke="none" stroke-width="1" opacity="0.82"/>
<polygon points="514.8,314.5 520,326 514.8,337.5" fill="#000" stroke="none" stroke-width="1" opacity="0.10"/>
<polygon points="525.3,314.5 520,326 525.3,337.5" fill="#000" stroke="none" stroke-width="1" opacity="0.05"/>
<polyline points="514.8,314.5 520,326 525.3,314.5" fill="none" stroke="#ffffff" stroke-width="0.5" opacity="0.5"/>
<polyline points="514.8,337.5 520,326 525.3,337.5" fill="none" stroke="#ffffff" stroke-width="0.5" opacity="0.5"/>
<polygon points="525.3,314.5 553,314.5 553,337.5 525.3,337.5" fill="#b54cb8" stroke="none" stroke-width="1" opacity="0.82"/>
<polygon points="525.3,314.5 539.1,326 525.3,337.5" fill="#000" stroke="none" stroke-width="1" opacity="0.10"/>
<polygon points="553,314.5 539.1,326 553,337.5" fill="#000" stroke="none" stroke-width="1" opacity="0.05"/>
<polyline points="525.3,314.5 539.1,326 553,314.5" fill="none" stroke="#ffffff" stroke-width="0.5" opacity="0.5"/>
<polyline points="525.3,337.5 539.1,326 553,337.5" fill="none" stroke="#ffffff" stroke-width="0.5" opacity="0.5"/>
<polygon points="553,314.5 572,314.5 572,337.5 553,337.5" fill="#c08c48" stroke="none" stroke-width="1" opacity="0.82"/>
<polygon points="553,314.5 562.5,326 553,337.5" fill="#000" stroke="none" stroke-width="1" opacity="0.10"/>
<polygon points="572,314.5 562.5,326 572,337.5" fill="#000" stroke="none" stroke-width="1" opacity="0.05"/>
<polyline points="553,314.5 562.5,326 572,314.5" fill="none" stroke="#ffffff" stroke-width="0.5" opacity="0.5"/>
<polyline points="553,337.5 562.5,326 572,337.5" fill="none" stroke="#ffffff" stroke-width="0.5" opacity="0.5"/>
<polygon points="572,314.5 599.2,314.5 599.2,337.5 572,337.5" fill="#b54cb8" stroke="none" stroke-width="1" opacity="0.82"/>
<polygon points="572,314.5 585.6,326 572,337.5" fill="#000" stroke="none" stroke-width="1" opacity="0.10"/>
<polygon points="599.2,314.5 585.6,326 599.2,337.5" fill="#000" stroke="none" stroke-width="1" opacity="0.05"/>
<polyline points="572,314.5 585.6,326 599.2,314.5" fill="none" stroke="#ffffff" stroke-width="0.5" opacity="0.5"/>
<polyline points="572,337.5 585.6,326 599.2,337.5" fill="none" stroke="#ffffff" stroke-width="0.5" opacity="0.5"/>
<polygon points="599.2,314.5 620.2,314.5 620.2,337.5 599.2,337.5" fill="#c6c9cc" stroke="none" stroke-width="1" opacity="0.82"/>
<polygon points="599.2,314.5 609.7,326 599.2,337.5" fill="#000" stroke="none" stroke-width="1" opacity="0.10"/>
<polygon points="620.2,314.5 609.7,326 620.2,337.5" fill="#000" stroke="none" stroke-width="1" opacity="0.05"/>
<polyline points="599.2,314.5 609.7,326 620.2,314.5" fill="none" stroke="#ffffff" stroke-width="0.5" opacity="0.5"/>
<polyline points="599.2,337.5 609.7,326 620.2,337.5" fill="none" stroke="#ffffff" stroke-width="0.5" opacity="0.5"/>
<circle cx="486.4" cy="335" r="2" fill="#e05050" opacity="0.55"/>
<circle cx="542.8" cy="336.8" r="2" fill="#e05050" opacity="0.55"/>
<circle cx="561.5" cy="334.7" r="2" fill="#e05050" opacity="0.55"/>
<circle cx="607.9" cy="334.2" r="2" fill="#e05050" opacity="0.55"/>
<line x1="483.3" y1="327.2" x2="476.5" y2="321.5" stroke="#a9aeb2" stroke-width="1.1" opacity="0.75"/>
<line x1="476.5" y1="321.5" x2="469.6" y2="315.8" stroke="#e03a3a" stroke-width="1.1" opacity="0.75"/>
<line x1="483.3" y1="327.2" x2="481.6" y2="322.6" stroke="#a9aeb2" stroke-width="1.1" opacity="0.75"/>
<line x1="481.6" y1="322.6" x2="479.8" y2="318" stroke="#e03a3a" stroke-width="1.1" opacity="0.75"/>
<line x1="483.3" y1="327.2" x2="486.6" y2="320.4" stroke="#a9aeb2" stroke-width="1.1" opacity="0.75"/>
<line x1="486.6" y1="320.4" x2="490" y2="313.7" stroke="#e03a3a" stroke-width="1.1" opacity="0.75"/>
<line x1="483.3" y1="327.2" x2="489.9" y2="332.7" stroke="#a9aeb2" stroke-width="1.1" opacity="0.75"/>
<line x1="489.9" y1="332.7" x2="496.4" y2="338.2" stroke="#e03a3a" stroke-width="1.1" opacity="0.75"/>
<line x1="502.2" y1="325.4" x2="496.1" y2="319.5" stroke="#a8189e" stroke-width="1.1" opacity="0.75"/>
<line x1="496.1" y1="319.5" x2="490" y2="313.7" stroke="#e03a3a" stroke-width="1.1" opacity="0.75"/>
<line x1="502.2" y1="325.4" x2="500.9" y2="320.8" stroke="#a8189e" stroke-width="1.1" opacity="0.75"/>
<line x1="500.9" y1="320.8" x2="499.6" y2="316.1" stroke="#e03a3a" stroke-width="1.1" opacity="0.75"/>
<line x1="502.2" y1="325.4" x2="504.3" y2="318.6" stroke="#a8189e" stroke-width="1.1" opacity="0.75"/>
<line x1="504.3" y1="318.6" x2="506.4" y2="311.9" stroke="#e03a3a" stroke-width="1.1" opacity="0.75"/>
<line x1="502.2" y1="325.4" x2="509.2" y2="319.9" stroke="#a8189e" stroke-width="1.1" opacity="0.75"/>
<line x1="509.2" y1="319.9" x2="516.2" y2="314.4" stroke="#e03a3a" stroke-width="1.1" opacity="0.75"/>
<line x1="502.2" y1="325.4" x2="499.3" y2="331.8" stroke="#a8189e" stroke-width="1.1" opacity="0.75"/>
<line x1="499.3" y1="331.8" x2="496.4" y2="338.2" stroke="#e03a3a" stroke-width="1.1" opacity="0.75"/>
<line x1="502.2" y1="325.4" x2="507.6" y2="330.9" stroke="#a8189e" stroke-width="1.1" opacity="0.75"/>
<line x1="507.6" y1="330.9" x2="513.1" y2="336.4" stroke="#e03a3a" stroke-width="1.1" opacity="0.75"/>
<line x1="539" y1="328.5" x2="533.5" y2="323" stroke="#a8189e" stroke-width="1.1" opacity="0.75"/>
<line x1="533.5" y1="323" x2="527.9" y2="317.5" stroke="#e03a3a" stroke-width="1.1" opacity="0.75"/>
<line x1="539" y1="328.5" x2="538" y2="324.1" stroke="#a8189e" stroke-width="1.1" opacity="0.75"/>
<line x1="538" y1="324.1" x2="537.1" y2="319.6" stroke="#e03a3a" stroke-width="1.1" opacity="0.75"/>
<line x1="539" y1="328.5" x2="542.4" y2="321.7" stroke="#a8189e" stroke-width="1.1" opacity="0.75"/>
<line x1="542.4" y1="321.7" x2="545.8" y2="314.9" stroke="#e03a3a" stroke-width="1.1" opacity="0.75"/>
<line x1="539" y1="328.5" x2="531.7" y2="333.7" stroke="#a8189e" stroke-width="1.1" opacity="0.75"/>
<line x1="531.7" y1="333.7" x2="524.4" y2="338.9" stroke="#e03a3a" stroke-width="1.1" opacity="0.75"/>
<line x1="539" y1="328.5" x2="545" y2="333.7" stroke="#a8189e" stroke-width="1.1" opacity="0.75"/>
<line x1="545" y1="333.7" x2="551.1" y2="338.9" stroke="#e03a3a" stroke-width="1.1" opacity="0.75"/>
<line x1="557.2" y1="327.2" x2="551.5" y2="321" stroke="#bd7d12" stroke-width="1.1" opacity="0.75"/>
<line x1="551.5" y1="321" x2="545.8" y2="314.9" stroke="#e03a3a" stroke-width="1.1" opacity="0.75"/>
<line x1="557.2" y1="327.2" x2="555.9" y2="322.4" stroke="#bd7d12" stroke-width="1.1" opacity="0.75"/>
<line x1="555.9" y1="322.4" x2="554.6" y2="317.5" stroke="#e03a3a" stroke-width="1.1" opacity="0.75"/>
<line x1="557.2" y1="327.2" x2="560.9" y2="320.4" stroke="#bd7d12" stroke-width="1.1" opacity="0.75"/>
<line x1="560.9" y1="320.4" x2="564.5" y2="313.7" stroke="#e03a3a" stroke-width="1.1" opacity="0.75"/>
<line x1="557.2" y1="327.2" x2="554.2" y2="333" stroke="#bd7d12" stroke-width="1.1" opacity="0.75"/>
<line x1="554.2" y1="333" x2="551.1" y2="338.9" stroke="#e03a3a" stroke-width="1.1" opacity="0.75"/>
<line x1="557.2" y1="327.2" x2="564.2" y2="332.1" stroke="#bd7d12" stroke-width="1.1" opacity="0.75"/>
<line x1="564.2" y1="332.1" x2="571.2" y2="337.1" stroke="#e03a3a" stroke-width="1.1" opacity="0.75"/>
<line x1="585.2" y1="327.2" x2="579.7" y2="321.6" stroke="#a8189e" stroke-width="1.1" opacity="0.75"/>
<line x1="579.7" y1="321.6" x2="574.1" y2="316.1" stroke="#e03a3a" stroke-width="1.1" opacity="0.75"/>
<line x1="585.2" y1="327.2" x2="584.5" y2="322.4" stroke="#a8189e" stroke-width="1.1" opacity="0.75"/>
<line x1="584.5" y1="322.4" x2="583.8" y2="317.5" stroke="#e03a3a" stroke-width="1.1" opacity="0.75"/>
<line x1="585.2" y1="327.2" x2="588.1" y2="320.6" stroke="#a8189e" stroke-width="1.1" opacity="0.75"/>
<line x1="588.1" y1="320.6" x2="591" y2="314" stroke="#e03a3a" stroke-width="1.1" opacity="0.75"/>
<line x1="585.2" y1="327.2" x2="578.2" y2="332.1" stroke="#a8189e" stroke-width="1.1" opacity="0.75"/>
<line x1="578.2" y1="332.1" x2="571.2" y2="337.1" stroke="#e03a3a" stroke-width="1.1" opacity="0.75"/>
<line x1="585.2" y1="327.2" x2="583" y2="333.8" stroke="#a8189e" stroke-width="1.1" opacity="0.75"/>
<line x1="583" y1="333.8" x2="580.8" y2="340.3" stroke="#e03a3a" stroke-width="1.1" opacity="0.75"/>
<line x1="585.2" y1="327.2" x2="591.3" y2="332.4" stroke="#a8189e" stroke-width="1.1" opacity="0.75"/>
<line x1="591.3" y1="332.4" x2="597.4" y2="337.7" stroke="#e03a3a" stroke-width="1.1" opacity="0.75"/>
<line x1="604.4" y1="325.4" x2="597.7" y2="319.7" stroke="#a9aeb2" stroke-width="1.1" opacity="0.75"/>
<line x1="597.7" y1="319.7" x2="591" y2="314" stroke="#e03a3a" stroke-width="1.1" opacity="0.75"/>
<line x1="604.4" y1="325.4" x2="602.4" y2="321" stroke="#a9aeb2" stroke-width="1.1" opacity="0.75"/>
<line x1="602.4" y1="321" x2="600.4" y2="316.6" stroke="#e03a3a" stroke-width="1.1" opacity="0.75"/>
<line x1="604.4" y1="325.4" x2="600.9" y2="331.5" stroke="#a9aeb2" stroke-width="1.1" opacity="0.75"/>
<line x1="600.9" y1="331.5" x2="597.4" y2="337.7" stroke="#e03a3a" stroke-width="1.1" opacity="0.75"/>
<line x1="604.4" y1="325.4" x2="611" y2="331.2" stroke="#a9aeb2" stroke-width="1.1" opacity="0.75"/>
<line x1="611" y1="331.2" x2="617.6" y2="337.1" stroke="#e03a3a" stroke-width="1.1" opacity="0.75"/>
<circle cx="483.3" cy="327.2" r="4.4" fill="url(#fNi)"/>
<circle cx="502.2" cy="325.4" r="4.4" fill="url(#fMn)"/>
<circle cx="539" cy="328.5" r="4.4" fill="url(#fMn)"/>
<circle cx="557.2" cy="327.2" r="4.4" fill="url(#fCu)"/>
<circle cx="585.2" cy="327.2" r="4.4" fill="url(#fMn)"/>
<circle cx="604.4" cy="325.4" r="4.4" fill="url(#fNi)"/>
<circle cx="469.6" cy="315.8" r="2.4" fill="url(#fO)"/>
<circle cx="479.8" cy="318" r="2.4" fill="url(#fO)"/>
<circle cx="490" cy="313.7" r="2.4" fill="url(#fO)"/>
<circle cx="499.6" cy="316.1" r="2.4" fill="url(#fO)"/>
<circle cx="506.4" cy="311.9" r="2.4" fill="url(#fO)"/>
<circle cx="516.2" cy="314.4" r="2.4" fill="url(#fO)"/>
<circle cx="527.9" cy="317.5" r="2.4" fill="url(#fO)"/>
<circle cx="536.5" cy="312.4" r="2.4" fill="url(#fO)"/>
<circle cx="537.1" cy="319.6" r="2.4" fill="url(#fO)"/>
<circle cx="545.8" cy="314.9" r="2.4" fill="url(#fO)"/>
<circle cx="554.6" cy="317.5" r="2.4" fill="url(#fO)"/>
<circle cx="564.5" cy="313.7" r="2.4" fill="url(#fO)"/>
<circle cx="574.1" cy="316.1" r="2.4" fill="url(#fO)"/>
<circle cx="583.8" cy="317.5" r="2.4" fill="url(#fO)"/>
<circle cx="591" cy="314" r="2.4" fill="url(#fO)"/>
<circle cx="600.4" cy="316.6" r="2.4" fill="url(#fO)"/>
<circle cx="620.2" cy="314.4" r="2.4" fill="url(#fO)"/>
<circle cx="466.6" cy="337.1" r="2.4" fill="url(#fO)"/>
<circle cx="496.4" cy="338.2" r="2.4" fill="url(#fO)"/>
<circle cx="513.1" cy="336.4" r="2.4" fill="url(#fO)"/>
<circle cx="524.4" cy="338.9" r="2.4" fill="url(#fO)"/>
<circle cx="551.1" cy="338.9" r="2.4" fill="url(#fO)"/>
<circle cx="571.2" cy="337.1" r="2.4" fill="url(#fO)"/>
<circle cx="580.8" cy="340.3" r="2.4" fill="url(#fO)"/>
<circle cx="597.4" cy="337.7" r="2.4" fill="url(#fO)"/>
<circle cx="617.6" cy="337.1" r="2.4" fill="url(#fO)"/>
<polygon points="502.9,361.5 604.1,361.5 603.6,365 499.9,365" fill="#d4d6d8" stroke="none" stroke-width="1" opacity="0.9"/>
<polygon points="500.9,364 603.6,364 602.6,389.5 499.9,389.5" fill="#c2c5c8" stroke="none" stroke-width="1" opacity="0.92"/>
<polygon points="499.9,365 527,365 527,388 499.9,388" fill="#b54cb8" stroke="none" stroke-width="1" opacity="0.82"/>
<polygon points="499.9,365 513.5,376.5 499.9,388" fill="#000" stroke="none" stroke-width="1" opacity="0.10"/>
<polygon points="527,365 513.5,376.5 527,388" fill="#000" stroke="none" stroke-width="1" opacity="0.05"/>
<polyline points="499.9,365 513.5,376.5 527,365" fill="none" stroke="#ffffff" stroke-width="0.5" opacity="0.5"/>
<polyline points="499.9,388 513.5,376.5 527,388" fill="none" stroke="#ffffff" stroke-width="0.5" opacity="0.5"/>
<polygon points="527,365 556.3,365 556.3,388 527,388" fill="#5d7fd9" stroke="none" stroke-width="1" opacity="0.82"/>
<polygon points="527,365 541.6,376.5 527,388" fill="#000" stroke="none" stroke-width="1" opacity="0.10"/>
<polygon points="556.3,365 541.6,376.5 556.3,388" fill="#000" stroke="none" stroke-width="1" opacity="0.05"/>
<polyline points="527,365 541.6,376.5 556.3,365" fill="none" stroke="#ffffff" stroke-width="0.5" opacity="0.5"/>
<polyline points="527,388 541.6,376.5 556.3,388" fill="none" stroke="#ffffff" stroke-width="0.5" opacity="0.5"/>
<polygon points="556.3,365 582.5,365 582.5,388 556.3,388" fill="#c6c9cc" stroke="none" stroke-width="1" opacity="0.82"/>
<polygon points="556.3,365 569.4,376.5 556.3,388" fill="#000" stroke="none" stroke-width="1" opacity="0.10"/>
<polygon points="582.5,365 569.4,376.5 582.5,388" fill="#000" stroke="none" stroke-width="1" opacity="0.05"/>
<polyline points="556.3,365 569.4,376.5 582.5,365" fill="none" stroke="#ffffff" stroke-width="0.5" opacity="0.5"/>
<polyline points="556.3,388 569.4,376.5 582.5,388" fill="none" stroke="#ffffff" stroke-width="0.5" opacity="0.5"/>
<polygon points="582.5,365 603.6,365 603.6,388 582.5,388" fill="#b54cb8" stroke="none" stroke-width="1" opacity="0.82"/>
<polygon points="582.5,365 593,376.5 582.5,388" fill="#000" stroke="none" stroke-width="1" opacity="0.10"/>
<polygon points="603.6,365 593,376.5 603.6,388" fill="#000" stroke="none" stroke-width="1" opacity="0.05"/>
<polyline points="582.5,365 593,376.5 603.6,365" fill="none" stroke="#ffffff" stroke-width="0.5" opacity="0.5"/>
<polyline points="582.5,388 593,376.5 603.6,388" fill="none" stroke="#ffffff" stroke-width="0.5" opacity="0.5"/>
<circle cx="516.2" cy="384.4" r="2" fill="#e05050" opacity="0.55"/>
<circle cx="545" cy="385.5" r="2" fill="#e05050" opacity="0.55"/>
<circle cx="573.8" cy="385.8" r="2" fill="#e05050" opacity="0.55"/>
<circle cx="592.2" cy="385.5" r="2" fill="#e05050" opacity="0.55"/>
<line x1="514" y1="375.7" x2="508.1" y2="370.7" stroke="#a8189e" stroke-width="1.1" opacity="0.75"/>
<line x1="508.1" y1="370.7" x2="502.2" y2="365.7" stroke="#e03a3a" stroke-width="1.1" opacity="0.75"/>
<line x1="514" y1="375.7" x2="512.5" y2="371.3" stroke="#a8189e" stroke-width="1.1" opacity="0.75"/>
<line x1="512.5" y1="371.3" x2="511" y2="366.9" stroke="#e03a3a" stroke-width="1.1" opacity="0.75"/>
<line x1="514" y1="375.7" x2="516.9" y2="369.4" stroke="#a8189e" stroke-width="1.1" opacity="0.75"/>
<line x1="516.9" y1="369.4" x2="519.7" y2="363.1" stroke="#e03a3a" stroke-width="1.1" opacity="0.75"/>
<line x1="514" y1="375.7" x2="521.2" y2="370.2" stroke="#a8189e" stroke-width="1.1" opacity="0.75"/>
<line x1="521.2" y1="370.2" x2="528.5" y2="364.8" stroke="#e03a3a" stroke-width="1.1" opacity="0.75"/>
<line x1="514" y1="375.7" x2="506.9" y2="380.9" stroke="#a8189e" stroke-width="1.1" opacity="0.75"/>
<line x1="506.9" y1="380.9" x2="499.9" y2="386.2" stroke="#e03a3a" stroke-width="1.1" opacity="0.75"/>
<line x1="514" y1="375.7" x2="510.9" y2="382.5" stroke="#a8189e" stroke-width="1.1" opacity="0.75"/>
<line x1="510.9" y1="382.5" x2="507.8" y2="389.3" stroke="#e03a3a" stroke-width="1.1" opacity="0.75"/>
<line x1="514" y1="375.7" x2="520.1" y2="380.9" stroke="#a8189e" stroke-width="1.1" opacity="0.75"/>
<line x1="520.1" y1="380.9" x2="526.2" y2="386.2" stroke="#e03a3a" stroke-width="1.1" opacity="0.75"/>
<line x1="542" y1="376.2" x2="535.2" y2="370.5" stroke="#2d55d2" stroke-width="1.1" opacity="0.75"/>
<line x1="535.2" y1="370.5" x2="528.5" y2="364.8" stroke="#e03a3a" stroke-width="1.1" opacity="0.75"/>
<line x1="542" y1="376.2" x2="541.4" y2="372.2" stroke="#2d55d2" stroke-width="1.1" opacity="0.75"/>
<line x1="541.4" y1="372.2" x2="540.8" y2="368.2" stroke="#e03a3a" stroke-width="1.1" opacity="0.75"/>
<line x1="542" y1="376.2" x2="544.6" y2="369.7" stroke="#2d55d2" stroke-width="1.1" opacity="0.75"/>
<line x1="544.6" y1="369.7" x2="547.3" y2="363.2" stroke="#e03a3a" stroke-width="1.1" opacity="0.75"/>
<line x1="542" y1="376.2" x2="539.9" y2="383.2" stroke="#2d55d2" stroke-width="1.1" opacity="0.75"/>
<line x1="539.9" y1="383.2" x2="537.7" y2="390.2" stroke="#e03a3a" stroke-width="1.1" opacity="0.75"/>
<line x1="542" y1="376.2" x2="548.6" y2="382.6" stroke="#2d55d2" stroke-width="1.1" opacity="0.75"/>
<line x1="548.6" y1="382.6" x2="555.2" y2="389" stroke="#e03a3a" stroke-width="1.1" opacity="0.75"/>
<line x1="570.6" y1="377.1" x2="563.8" y2="371.6" stroke="#a9aeb2" stroke-width="1.1" opacity="0.75"/>
<line x1="563.8" y1="371.6" x2="557" y2="366.2" stroke="#e03a3a" stroke-width="1.1" opacity="0.75"/>
<line x1="570.6" y1="377.1" x2="569.2" y2="373.4" stroke="#a9aeb2" stroke-width="1.1" opacity="0.75"/>
<line x1="569.2" y1="373.4" x2="567.7" y2="369.7" stroke="#e03a3a" stroke-width="1.1" opacity="0.75"/>
<line x1="570.6" y1="377.1" x2="574" y2="370.8" stroke="#a9aeb2" stroke-width="1.1" opacity="0.75"/>
<line x1="574" y1="370.8" x2="577.3" y2="364.5" stroke="#e03a3a" stroke-width="1.1" opacity="0.75"/>
<line x1="570.6" y1="377.1" x2="567.7" y2="383.6" stroke="#a9aeb2" stroke-width="1.1" opacity="0.75"/>
<line x1="567.7" y1="383.6" x2="564.7" y2="390.2" stroke="#e03a3a" stroke-width="1.1" opacity="0.75"/>
<line x1="570.6" y1="377.1" x2="577.5" y2="382.8" stroke="#a9aeb2" stroke-width="1.1" opacity="0.75"/>
<line x1="577.5" y1="382.8" x2="584.3" y2="388.5" stroke="#e03a3a" stroke-width="1.1" opacity="0.75"/>
<line x1="589.6" y1="375.3" x2="583.5" y2="369.9" stroke="#a8189e" stroke-width="1.1" opacity="0.75"/>
<line x1="583.5" y1="369.9" x2="577.3" y2="364.5" stroke="#e03a3a" stroke-width="1.1" opacity="0.75"/>
<line x1="589.6" y1="375.3" x2="588.2" y2="371.4" stroke="#a8189e" stroke-width="1.1" opacity="0.75"/>
<line x1="588.2" y1="371.4" x2="586.9" y2="367.4" stroke="#e03a3a" stroke-width="1.1" opacity="0.75"/>
<line x1="589.6" y1="375.3" x2="592.4" y2="372.2" stroke="#a8189e" stroke-width="1.1" opacity="0.75"/>
<line x1="592.4" y1="372.2" x2="595.2" y2="369.2" stroke="#e03a3a" stroke-width="1.1" opacity="0.75"/>
<line x1="589.6" y1="375.3" x2="597" y2="370.5" stroke="#a8189e" stroke-width="1.1" opacity="0.75"/>
<line x1="597" y1="370.5" x2="604.4" y2="365.7" stroke="#e03a3a" stroke-width="1.1" opacity="0.75"/>
<line x1="589.6" y1="375.3" x2="587" y2="381.9" stroke="#a8189e" stroke-width="1.1" opacity="0.75"/>
<line x1="587" y1="381.9" x2="584.3" y2="388.5" stroke="#e03a3a" stroke-width="1.1" opacity="0.75"/>
<line x1="589.6" y1="375.3" x2="595.5" y2="381" stroke="#a8189e" stroke-width="1.1" opacity="0.75"/>
<line x1="595.5" y1="381" x2="601.5" y2="386.7" stroke="#e03a3a" stroke-width="1.1" opacity="0.75"/>
<circle cx="514" cy="375.7" r="4.4" fill="url(#fMn)"/>
<circle cx="542" cy="376.2" r="4.4" fill="url(#fFe)"/>
<circle cx="570.6" cy="377.1" r="4.4" fill="url(#fNi)"/>
<circle cx="589.6" cy="375.3" r="4.4" fill="url(#fMn)"/>
<circle cx="502.2" cy="365.7" r="2.4" fill="url(#fO)"/>
<circle cx="511" cy="366.9" r="2.4" fill="url(#fO)"/>
<circle cx="519.7" cy="363.1" r="2.4" fill="url(#fO)"/>
<circle cx="528.5" cy="364.8" r="2.4" fill="url(#fO)"/>
<circle cx="540.8" cy="368.2" r="2.4" fill="url(#fO)"/>
<circle cx="547.3" cy="363.2" r="2.4" fill="url(#fO)"/>
<circle cx="557" cy="366.2" r="2.4" fill="url(#fO)"/>
<circle cx="567.7" cy="369.7" r="2.4" fill="url(#fO)"/>
<circle cx="577.3" cy="364.5" r="2.4" fill="url(#fO)"/>
<circle cx="586.9" cy="367.4" r="2.4" fill="url(#fO)"/>
<circle cx="595.2" cy="369.2" r="2.4" fill="url(#fO)"/>
<circle cx="604.4" cy="365.7" r="2.4" fill="url(#fO)"/>
<circle cx="499.9" cy="386.2" r="2.4" fill="url(#fO)"/>
<circle cx="507.8" cy="389.3" r="2.4" fill="url(#fO)"/>
<circle cx="526.2" cy="386.2" r="2.4" fill="url(#fO)"/>
<circle cx="537.7" cy="390.2" r="2.4" fill="url(#fO)"/>
<circle cx="555.2" cy="389" r="2.4" fill="url(#fO)"/>
<circle cx="564.7" cy="390.2" r="2.4" fill="url(#fO)"/>
<circle cx="584.3" cy="388.5" r="2.4" fill="url(#fO)"/>
<circle cx="601.5" cy="386.7" r="2.4" fill="url(#fO)"/>
<circle cx="517.5" cy="253.4" r="2.6" fill="url(#fNa)" stroke="#909090" stroke-width="0.3"/>
<circle cx="544" cy="253.5" r="2.3" fill="url(#fNa)" stroke="#909090" stroke-width="0.3"/>
<circle cx="551.6" cy="253.9" r="2.4" fill="url(#fNa)" stroke="#909090" stroke-width="0.3"/>
<circle cx="602.7" cy="254" r="2.5" fill="url(#fNa)" stroke="#909090" stroke-width="0.3"/>
<circle cx="604.4" cy="254" r="2.8" fill="url(#fNa)" stroke="#909090" stroke-width="0.3"/>
<circle cx="590.6" cy="254.1" r="2.3" fill="url(#fNa)" stroke="#909090" stroke-width="0.3"/>
<circle cx="542.2" cy="254.1" r="2.8" fill="url(#fNa)" stroke="#909090" stroke-width="0.3"/>
<circle cx="606.9" cy="254.2" r="2.7" fill="url(#fNa)" stroke="#909090" stroke-width="0.3"/>
<circle cx="498.9" cy="254.3" r="2.3" fill="url(#fNa)" stroke="#909090" stroke-width="0.3"/>
<circle cx="542.6" cy="254.5" r="2.7" fill="url(#fNa)" stroke="#909090" stroke-width="0.3"/>
<circle cx="571" cy="254.6" r="2.3" fill="url(#fNa)" stroke="#909090" stroke-width="0.3"/>
<circle cx="495.6" cy="254.6" r="2.3" fill="url(#fNa)" stroke="#909090" stroke-width="0.3"/>
<circle cx="542.4" cy="254.7" r="2.7" fill="url(#fNa)" stroke="#909090" stroke-width="0.3"/>
<circle cx="520.6" cy="254.8" r="2.4" fill="url(#fNa)" stroke="#909090" stroke-width="0.3"/>
<circle cx="517.1" cy="254.8" r="2.9" fill="url(#fNa)" stroke="#909090" stroke-width="0.3"/>
<circle cx="608.3" cy="254.8" r="2.6" fill="url(#fNa)" stroke="#909090" stroke-width="0.3"/>
<circle cx="604.7" cy="254.8" r="2.5" fill="url(#fNa)" stroke="#909090" stroke-width="0.3"/>
<circle cx="609" cy="254.9" r="2.8" fill="url(#fNa)" stroke="#909090" stroke-width="0.3"/>
<circle cx="555.6" cy="254.9" r="2.2" fill="url(#fNa)" stroke="#909090" stroke-width="0.3"/>
<circle cx="494" cy="254.9" r="2.8" fill="url(#fNa)" stroke="#909090" stroke-width="0.3"/>
<circle cx="598.1" cy="255" r="2.2" fill="url(#fNa)" stroke="#909090" stroke-width="0.3"/>
<circle cx="516.2" cy="255.1" r="2.3" fill="url(#fNa)" stroke="#909090" stroke-width="0.3"/>
<circle cx="506.6" cy="255.3" r="3" fill="url(#fNa)" stroke="#909090" stroke-width="0.3"/>
<circle cx="561.1" cy="255.4" r="2.7" fill="url(#fNa)" stroke="#909090" stroke-width="0.3"/>
<circle cx="511.6" cy="255.4" r="2.4" fill="url(#fNa)" stroke="#909090" stroke-width="0.3"/>
<circle cx="511.7" cy="255.4" r="2.3" fill="url(#fNa)" stroke="#909090" stroke-width="0.3"/>
<circle cx="557.9" cy="255.5" r="3" fill="url(#fNa)" stroke="#909090" stroke-width="0.3"/>
<circle cx="554.2" cy="255.5" r="2.7" fill="url(#fNa)" stroke="#909090" stroke-width="0.3"/>
<circle cx="565.4" cy="255.5" r="2.9" fill="url(#fNa)" stroke="#909090" stroke-width="0.3"/>
<circle cx="607.5" cy="255.5" r="2.3" fill="url(#fNa)" stroke="#909090" stroke-width="0.3"/>
<circle cx="579.4" cy="255.6" r="2.7" fill="url(#fNa)" stroke="#909090" stroke-width="0.3"/>
<circle cx="571.8" cy="255.8" r="2.5" fill="url(#fNa)" stroke="#909090" stroke-width="0.3"/>
<circle cx="527.6" cy="255.8" r="2.4" fill="url(#fNa)" stroke="#909090" stroke-width="0.3"/>
<circle cx="520.8" cy="256" r="2.5" fill="url(#fNa)" stroke="#909090" stroke-width="0.3"/>
<circle cx="479.9" cy="256" r="2.7" fill="url(#fNa)" stroke="#909090" stroke-width="0.3"/>
<circle cx="527.3" cy="256.1" r="2.5" fill="url(#fNa)" stroke="#909090" stroke-width="0.3"/>
<circle cx="500.6" cy="256.2" r="2.5" fill="url(#fNa)" stroke="#909090" stroke-width="0.3"/>
<circle cx="487.1" cy="256.3" r="2.3" fill="url(#fNa)" stroke="#909090" stroke-width="0.3"/>
<circle cx="540.4" cy="256.3" r="2.9" fill="url(#fNa)" stroke="#909090" stroke-width="0.3"/>
<circle cx="566.7" cy="256.3" r="2.7" fill="url(#fNa)" stroke="#909090" stroke-width="0.3"/>
<circle cx="484.6" cy="256.3" r="2.8" fill="url(#fNa)" stroke="#909090" stroke-width="0.3"/>
<circle cx="598.5" cy="256.4" r="2.5" fill="url(#fNa)" stroke="#909090" stroke-width="0.3"/>
<circle cx="599.9" cy="256.5" r="2.9" fill="url(#fNa)" stroke="#909090" stroke-width="0.3"/>
<circle cx="559.5" cy="256.5" r="2.6" fill="url(#fNa)" stroke="#909090" stroke-width="0.3"/>
<circle cx="528.3" cy="256.7" r="2.7" fill="url(#fNa)" stroke="#909090" stroke-width="0.3"/>
<circle cx="524.7" cy="256.7" r="2.7" fill="url(#fNa)" stroke="#909090" stroke-width="0.3"/>
<circle cx="481.8" cy="256.7" r="2.8" fill="url(#fNa)" stroke="#909090" stroke-width="0.3"/>
<circle cx="609.6" cy="256.9" r="2.5" fill="url(#fNa)" stroke="#909090" stroke-width="0.3"/>
<circle cx="591.4" cy="256.9" r="2.3" fill="url(#fNa)" stroke="#909090" stroke-width="0.3"/>
<circle cx="535.1" cy="257" r="2.2" fill="url(#fNa)" stroke="#909090" stroke-width="0.3"/>
<circle cx="513.8" cy="257" r="2.4" fill="url(#fNa)" stroke="#909090" stroke-width="0.3"/>
<circle cx="502.3" cy="257" r="2.2" fill="url(#fNa)" stroke="#909090" stroke-width="0.3"/>
<circle cx="521.8" cy="257.1" r="2.9" fill="url(#fNa)" stroke="#909090" stroke-width="0.3"/>
<circle cx="557.3" cy="257.1" r="2.6" fill="url(#fNa)" stroke="#909090" stroke-width="0.3"/>
<circle cx="534" cy="257.3" r="2.8" fill="url(#fNa)" stroke="#909090" stroke-width="0.3"/>
<circle cx="480.4" cy="257.3" r="2.2" fill="url(#fNa)" stroke="#909090" stroke-width="0.3"/>
<circle cx="530.4" cy="257.3" r="2.6" fill="url(#fNa)" stroke="#909090" stroke-width="0.3"/>
<circle cx="535.2" cy="257.3" r="2.9" fill="url(#fNa)" stroke="#909090" stroke-width="0.3"/>
<circle cx="488.2" cy="257.3" r="2.7" fill="url(#fNa)" stroke="#909090" stroke-width="0.3"/>
<circle cx="482.8" cy="257.4" r="2.5" fill="url(#fNa)" stroke="#909090" stroke-width="0.3"/>
<circle cx="541.7" cy="257.5" r="2.6" fill="url(#fNa)" stroke="#909090" stroke-width="0.3"/>
<circle cx="571.1" cy="257.5" r="2.3" fill="url(#fNa)" stroke="#909090" stroke-width="0.3"/>
<circle cx="514.5" cy="257.6" r="2.3" fill="url(#fNa)" stroke="#909090" stroke-width="0.3"/>
<circle cx="526.8" cy="257.6" r="2.3" fill="url(#fNa)" stroke="#909090" stroke-width="0.3"/>
<circle cx="526.9" cy="257.9" r="2.5" fill="url(#fNa)" stroke="#909090" stroke-width="0.3"/>
<circle cx="580.8" cy="257.9" r="2.5" fill="url(#fNa)" stroke="#909090" stroke-width="0.3"/>
<circle cx="602.2" cy="257.9" r="2.9" fill="url(#fNa)" stroke="#909090" stroke-width="0.3"/>
<circle cx="488.4" cy="258" r="2.3" fill="url(#fNa)" stroke="#909090" stroke-width="0.3"/>
<circle cx="518.7" cy="258.1" r="2.4" fill="url(#fNa)" stroke="#909090" stroke-width="0.3"/>
<circle cx="507.7" cy="258.4" r="2.4" fill="url(#fNa)" stroke="#909090" stroke-width="0.3"/>
<circle cx="599.5" cy="258.4" r="2.3" fill="url(#fNa)" stroke="#909090" stroke-width="0.3"/>
<circle cx="525.9" cy="258.4" r="2.4" fill="url(#fNa)" stroke="#909090" stroke-width="0.3"/>
<circle cx="594.8" cy="258.5" r="2.4" fill="url(#fNa)" stroke="#909090" stroke-width="0.3"/>
<circle cx="547.6" cy="258.5" r="2.6" fill="url(#fNa)" stroke="#909090" stroke-width="0.3"/>
<circle cx="579.2" cy="258.5" r="2.2" fill="url(#fNa)" stroke="#909090" stroke-width="0.3"/>
<circle cx="517.7" cy="258.6" r="2.9" fill="url(#fNa)" stroke="#909090" stroke-width="0.3"/>
<circle cx="563.3" cy="258.6" r="2.5" fill="url(#fNa)" stroke="#909090" stroke-width="0.3"/>
<circle cx="550.5" cy="258.6" r="3" fill="url(#fNa)" stroke="#909090" stroke-width="0.3"/>
<circle cx="592.4" cy="258.8" r="2.8" fill="url(#fNa)" stroke="#909090" stroke-width="0.3"/>
<circle cx="479.1" cy="258.8" r="2.7" fill="url(#fNa)" stroke="#909090" stroke-width="0.3"/>
<circle cx="490" cy="258.9" r="2.6" fill="url(#fNa)" stroke="#909090" stroke-width="0.3"/>
<circle cx="509.4" cy="258.9" r="3" fill="url(#fNa)" stroke="#909090" stroke-width="0.3"/>
<circle cx="592.3" cy="259" r="2.3" fill="url(#fNa)" stroke="#909090" stroke-width="0.3"/>
<circle cx="601.2" cy="259.1" r="2.7" fill="url(#fNa)" stroke="#909090" stroke-width="0.3"/>
<circle cx="579.5" cy="259.1" r="2.4" fill="url(#fNa)" stroke="#909090" stroke-width="0.3"/>
<circle cx="592.3" cy="259.2" r="2.7" fill="url(#fNa)" stroke="#909090" stroke-width="0.3"/>
<circle cx="541.6" cy="259.2" r="2.8" fill="url(#fNa)" stroke="#909090" stroke-width="0.3"/>
<circle cx="508.5" cy="259.2" r="2.3" fill="url(#fNa)" stroke="#909090" stroke-width="0.3"/>
<circle cx="482" cy="259.2" r="2.4" fill="url(#fNa)" stroke="#909090" stroke-width="0.3"/>
<circle cx="511.5" cy="259.3" r="2.2" fill="url(#fNa)" stroke="#909090" stroke-width="0.3"/>
<circle cx="563.3" cy="259.3" r="2.4" fill="url(#fNa)" stroke="#909090" stroke-width="0.3"/>
<circle cx="575.6" cy="259.3" r="2.3" fill="url(#fNa)" stroke="#909090" stroke-width="0.3"/>
<circle cx="507.9" cy="259.3" r="2.5" fill="url(#fNa)" stroke="#909090" stroke-width="0.3"/>
<circle cx="580.4" cy="259.4" r="3" fill="url(#fNa)" stroke="#909090" stroke-width="0.3"/>
<circle cx="606.4" cy="259.4" r="2.5" fill="url(#fNa)" stroke="#909090" stroke-width="0.3"/>
<circle cx="482.4" cy="259.4" r="2.4" fill="url(#fNa)" stroke="#909090" stroke-width="0.3"/>
<circle cx="580" cy="259.5" r="2.6" fill="url(#fNa)" stroke="#909090" stroke-width="0.3"/>
<circle cx="590.2" cy="259.7" r="2.4" fill="url(#fNa)" stroke="#909090" stroke-width="0.3"/>
<circle cx="480.4" cy="259.8" r="2.8" fill="url(#fNa)" stroke="#909090" stroke-width="0.3"/>
<circle cx="580.6" cy="259.8" r="2.8" fill="url(#fNa)" stroke="#909090" stroke-width="0.3"/>
<circle cx="480.2" cy="259.9" r="2.3" fill="url(#fNa)" stroke="#909090" stroke-width="0.3"/>
<circle cx="509.6" cy="259.9" r="2.4" fill="url(#fNa)" stroke="#909090" stroke-width="0.3"/>
<circle cx="532.4" cy="259.9" r="2.7" fill="url(#fNa)" stroke="#909090" stroke-width="0.3"/>
<circle cx="570.5" cy="260" r="3" fill="url(#fNa)" stroke="#909090" stroke-width="0.3"/>
<circle cx="589.6" cy="260" r="2.7" fill="url(#fNa)" stroke="#909090" stroke-width="0.3"/>
<circle cx="601.7" cy="260.1" r="2.5" fill="url(#fNa)" stroke="#909090" stroke-width="0.3"/>
<circle cx="490.1" cy="260.1" r="3" fill="url(#fNa)" stroke="#909090" stroke-width="0.3"/>
<circle cx="594.6" cy="260.2" r="2.2" fill="url(#fNa)" stroke="#909090" stroke-width="0.3"/>
<circle cx="540.4" cy="260.4" r="2.2" fill="url(#fNa)" stroke="#909090" stroke-width="0.3"/>
<circle cx="559.4" cy="260.4" r="2.8" fill="url(#fNa)" stroke="#909090" stroke-width="0.3"/>
<circle cx="535" cy="260.5" r="2.5" fill="url(#fNa)" stroke="#909090" stroke-width="0.3"/>
<circle cx="523.1" cy="260.5" r="2.2" fill="url(#fNa)" stroke="#909090" stroke-width="0.3"/>
<circle cx="516.7" cy="260.5" r="2.6" fill="url(#fNa)" stroke="#909090" stroke-width="0.3"/>
<circle cx="545.9" cy="260.6" r="3" fill="url(#fNa)" stroke="#909090" stroke-width="0.3"/>
<circle cx="577.9" cy="260.6" r="2.6" fill="url(#fNa)" stroke="#909090" stroke-width="0.3"/>
<circle cx="555.7" cy="260.6" r="2.5" fill="url(#fNa)" stroke="#909090" stroke-width="0.3"/>
<circle cx="542" cy="260.7" r="2.3" fill="url(#fNa)" stroke="#909090" stroke-width="0.3"/>
<circle cx="491.6" cy="260.7" r="2.3" fill="url(#fNa)" stroke="#909090" stroke-width="0.3"/>
<circle cx="510" cy="260.8" r="2.9" fill="url(#fNa)" stroke="#909090" stroke-width="0.3"/>
<circle cx="576.2" cy="260.8" r="2.6" fill="url(#fNa)" stroke="#909090" stroke-width="0.3"/>
<circle cx="594.1" cy="260.8" r="2.9" fill="url(#fNa)" stroke="#909090" stroke-width="0.3"/>
<circle cx="479.3" cy="260.8" r="2.2" fill="url(#fNa)" stroke="#909090" stroke-width="0.3"/>
<circle cx="545.4" cy="260.9" r="2.4" fill="url(#fNa)" stroke="#909090" stroke-width="0.3"/>
<circle cx="562.7" cy="261.1" r="2.2" fill="url(#fNa)" stroke="#909090" stroke-width="0.3"/>
<circle cx="551.9" cy="261.2" r="2.5" fill="url(#fNa)" stroke="#909090" stroke-width="0.3"/>
<circle cx="514.8" cy="261.4" r="2.2" fill="url(#fNa)" stroke="#909090" stroke-width="0.3"/>
<circle cx="568.6" cy="261.4" r="2.4" fill="url(#fNa)" stroke="#909090" stroke-width="0.3"/>
<circle cx="524.4" cy="261.5" r="2.5" fill="url(#fNa)" stroke="#909090" stroke-width="0.3"/>
<circle cx="504.8" cy="261.6" r="2.4" fill="url(#fNa)" stroke="#909090" stroke-width="0.3"/>
<circle cx="600.1" cy="261.6" r="2.2" fill="url(#fNa)" stroke="#909090" stroke-width="0.3"/>
<circle cx="501.6" cy="261.7" r="2.2" fill="url(#fNa)" stroke="#909090" stroke-width="0.3"/>
<circle cx="595.4" cy="261.7" r="3" fill="url(#fNa)" stroke="#909090" stroke-width="0.3"/>
<circle cx="480.5" cy="261.7" r="2.3" fill="url(#fNa)" stroke="#909090" stroke-width="0.3"/>
<circle cx="558.3" cy="261.8" r="2.6" fill="url(#fNa)" stroke="#909090" stroke-width="0.3"/>
<circle cx="480.9" cy="261.8" r="2.5" fill="url(#fNa)" stroke="#909090" stroke-width="0.3"/>
<circle cx="558.8" cy="261.8" r="2.6" fill="url(#fNa)" stroke="#909090" stroke-width="0.3"/>
<circle cx="534.5" cy="261.9" r="2.3" fill="url(#fNa)" stroke="#909090" stroke-width="0.3"/>
<circle cx="490.1" cy="261.9" r="2.5" fill="url(#fNa)" stroke="#909090" stroke-width="0.3"/>
<circle cx="603.2" cy="262" r="2.3" fill="url(#fNa)" stroke="#909090" stroke-width="0.3"/>
<circle cx="581.9" cy="262.1" r="2.6" fill="url(#fNa)" stroke="#909090" stroke-width="0.3"/>
<circle cx="516.4" cy="262.2" r="2.9" fill="url(#fNa)" stroke="#909090" stroke-width="0.3"/>
<circle cx="550.2" cy="262.3" r="2.7" fill="url(#fNa)" stroke="#909090" stroke-width="0.3"/>
<circle cx="479.2" cy="262.3" r="2.9" fill="url(#fNa)" stroke="#909090" stroke-width="0.3"/>
<circle cx="610.5" cy="262.4" r="2.4" fill="url(#fNa)" stroke="#909090" stroke-width="0.3"/>
<circle cx="544.6" cy="262.4" r="2.2" fill="url(#fNa)" stroke="#909090" stroke-width="0.3"/>
<circle cx="499.2" cy="262.4" r="2.6" fill="url(#fNa)" stroke="#909090" stroke-width="0.3"/>
<circle cx="580.2" cy="262.4" r="2.6" fill="url(#fNa)" stroke="#909090" stroke-width="0.3"/>
<circle cx="485.8" cy="262.5" r="2.7" fill="url(#fNa)" stroke="#909090" stroke-width="0.3"/>
<circle cx="529.3" cy="262.6" r="2.5" fill="url(#fNa)" stroke="#909090" stroke-width="0.3"/>
<circle cx="543.2" cy="262.7" r="2.7" fill="url(#fNa)" stroke="#909090" stroke-width="0.3"/>
<circle cx="490.9" cy="262.8" r="2.8" fill="url(#fNa)" stroke="#909090" stroke-width="0.3"/>
<circle cx="547.4" cy="262.9" r="2.9" fill="url(#fNa)" stroke="#909090" stroke-width="0.3"/>
<circle cx="578" cy="263" r="2.4" fill="url(#fNa)" stroke="#909090" stroke-width="0.3"/>
<circle cx="508.5" cy="263" r="2.6" fill="url(#fNa)" stroke="#909090" stroke-width="0.3"/>
<circle cx="543.2" cy="263.1" r="2.9" fill="url(#fNa)" stroke="#909090" stroke-width="0.3"/>
<circle cx="484.7" cy="263.1" r="2.4" fill="url(#fNa)" stroke="#909090" stroke-width="0.3"/>
<circle cx="494.4" cy="263.2" r="2.3" fill="url(#fNa)" stroke="#909090" stroke-width="0.3"/>
<circle cx="496.1" cy="263.2" r="2.4" fill="url(#fNa)" stroke="#909090" stroke-width="0.3"/>
<circle cx="579.5" cy="263.2" r="2.3" fill="url(#fNa)" stroke="#909090" stroke-width="0.3"/>
<circle cx="482.8" cy="263.2" r="2.8" fill="url(#fNa)" stroke="#909090" stroke-width="0.3"/>
<circle cx="533" cy="263.2" r="2.9" fill="url(#fNa)" stroke="#909090" stroke-width="0.3"/>
<circle cx="516.2" cy="263.3" r="2.5" fill="url(#fNa)" stroke="#909090" stroke-width="0.3"/>
<circle cx="543.9" cy="263.3" r="2.3" fill="url(#fNa)" stroke="#909090" stroke-width="0.3"/>
<circle cx="559.5" cy="263.3" r="2.3" fill="url(#fNa)" stroke="#909090" stroke-width="0.3"/>
<circle cx="545.7" cy="263.4" r="2.4" fill="url(#fNa)" stroke="#909090" stroke-width="0.3"/>
<circle cx="577.6" cy="263.5" r="2.3" fill="url(#fNa)" stroke="#909090" stroke-width="0.3"/>
<circle cx="555" cy="263.5" r="2.5" fill="url(#fNa)" stroke="#909090" stroke-width="0.3"/>
<circle cx="574.8" cy="263.5" r="2.7" fill="url(#fNa)" stroke="#909090" stroke-width="0.3"/>
<circle cx="561.1" cy="263.6" r="2.4" fill="url(#fNa)" stroke="#909090" stroke-width="0.3"/>
<circle cx="509.5" cy="263.7" r="2.2" fill="url(#fNa)" stroke="#909090" stroke-width="0.3"/>
<circle cx="556.2" cy="263.7" r="2.8" fill="url(#fNa)" stroke="#909090" stroke-width="0.3"/>
<circle cx="559.5" cy="263.8" r="2.2" fill="url(#fNa)" stroke="#909090" stroke-width="0.3"/>
<circle cx="526.7" cy="263.8" r="2.4" fill="url(#fNa)" stroke="#909090" stroke-width="0.3"/>
<circle cx="540.2" cy="263.9" r="2.4" fill="url(#fNa)" stroke="#909090" stroke-width="0.3"/>
<circle cx="515.1" cy="264" r="2.5" fill="url(#fNa)" stroke="#909090" stroke-width="0.3"/>
<circle cx="503.5" cy="264.3" r="2.3" fill="url(#fNa)" stroke="#909090" stroke-width="0.3"/>
<circle cx="497.6" cy="264.6" r="2.5" fill="url(#fNa)" stroke="#909090" stroke-width="0.3"/>
<circle cx="500.1" cy="264.6" r="2.5" fill="url(#fNa)" stroke="#909090" stroke-width="0.3"/>
<circle cx="560.9" cy="264.6" r="2.8" fill="url(#fNa)" stroke="#909090" stroke-width="0.3"/>
<circle cx="555.2" cy="264.6" r="2.6" fill="url(#fNa)" stroke="#909090" stroke-width="0.3"/>
<circle cx="543.8" cy="264.7" r="2.9" fill="url(#fNa)" stroke="#909090" stroke-width="0.3"/>
<circle cx="507.8" cy="264.7" r="2.7" fill="url(#fNa)" stroke="#909090" stroke-width="0.3"/>
<circle cx="507.2" cy="264.9" r="2.8" fill="url(#fNa)" stroke="#909090" stroke-width="0.3"/>
<circle cx="514" cy="265" r="2.7" fill="url(#fNa)" stroke="#909090" stroke-width="0.3"/>
<circle cx="554.4" cy="265" r="2.6" fill="url(#fNa)" stroke="#909090" stroke-width="0.3"/>
<circle cx="541.9" cy="265.1" r="2.9" fill="url(#fNa)" stroke="#909090" stroke-width="0.3"/>
<circle cx="509.3" cy="265.1" r="2.7" fill="url(#fNa)" stroke="#909090" stroke-width="0.3"/>
<circle cx="528.6" cy="265.1" r="3" fill="url(#fNa)" stroke="#909090" stroke-width="0.3"/>
<circle cx="525.9" cy="265.1" r="2.8" fill="url(#fNa)" stroke="#909090" stroke-width="0.3"/>
<circle cx="508.8" cy="265.3" r="2.8" fill="url(#fNa)" stroke="#909090" stroke-width="0.3"/>
<circle cx="550.1" cy="265.4" r="2.4" fill="url(#fNa)" stroke="#909090" stroke-width="0.3"/>
<circle cx="538.8" cy="265.7" r="2.8" fill="url(#fNa)" stroke="#909090" stroke-width="0.3"/>
<circle cx="550" cy="265.8" r="2.5" fill="url(#fNa)" stroke="#909090" stroke-width="0.3"/>
<circle cx="517.8" cy="266" r="2.3" fill="url(#fNa)" stroke="#909090" stroke-width="0.3"/>
<circle cx="536.7" cy="345.2" r="3" fill="url(#fNa)" stroke="#909090" stroke-width="0.3"/>
<circle cx="525.6" cy="345.3" r="3" fill="url(#fNa)" stroke="#909090" stroke-width="0.3"/>
<circle cx="516" cy="345.5" r="2.7" fill="url(#fNa)" stroke="#909090" stroke-width="0.3"/>
<circle cx="570.6" cy="345.6" r="2.6" fill="url(#fNa)" stroke="#909090" stroke-width="0.3"/>
<circle cx="537.2" cy="345.7" r="2.3" fill="url(#fNa)" stroke="#909090" stroke-width="0.3"/>
<circle cx="538.1" cy="345.8" r="2.3" fill="url(#fNa)" stroke="#909090" stroke-width="0.3"/>
<circle cx="526.6" cy="345.8" r="2.8" fill="url(#fNa)" stroke="#909090" stroke-width="0.3"/>
<circle cx="528.5" cy="345.9" r="2.8" fill="url(#fNa)" stroke="#909090" stroke-width="0.3"/>
<circle cx="543.3" cy="345.9" r="3" fill="url(#fNa)" stroke="#909090" stroke-width="0.3"/>
<circle cx="581.3" cy="346" r="2.9" fill="url(#fNa)" stroke="#909090" stroke-width="0.3"/>
<circle cx="531.8" cy="346.1" r="2.6" fill="url(#fNa)" stroke="#909090" stroke-width="0.3"/>
<circle cx="555.9" cy="346.1" r="2.4" fill="url(#fNa)" stroke="#909090" stroke-width="0.3"/>
<circle cx="523" cy="346.2" r="2.6" fill="url(#fNa)" stroke="#909090" stroke-width="0.3"/>
<circle cx="561.2" cy="346.3" r="2.5" fill="url(#fNa)" stroke="#909090" stroke-width="0.3"/>
<circle cx="517.9" cy="346.3" r="2.6" fill="url(#fNa)" stroke="#909090" stroke-width="0.3"/>
<circle cx="544.7" cy="346.4" r="2.9" fill="url(#fNa)" stroke="#909090" stroke-width="0.3"/>
<circle cx="500.1" cy="346.4" r="2.6" fill="url(#fNa)" stroke="#909090" stroke-width="0.3"/>
<circle cx="545.8" cy="346.4" r="3" fill="url(#fNa)" stroke="#909090" stroke-width="0.3"/>
<circle cx="495.7" cy="346.5" r="2.8" fill="url(#fNa)" stroke="#909090" stroke-width="0.3"/>
<circle cx="528" cy="346.6" r="2.2" fill="url(#fNa)" stroke="#909090" stroke-width="0.3"/>
<circle cx="541.8" cy="346.7" r="2.8" fill="url(#fNa)" stroke="#909090" stroke-width="0.3"/>
<circle cx="588.6" cy="346.7" r="2.7" fill="url(#fNa)" stroke="#909090" stroke-width="0.3"/>
<circle cx="541.1" cy="346.7" r="2.7" fill="url(#fNa)" stroke="#909090" stroke-width="0.3"/>
<circle cx="566.1" cy="346.7" r="2.2" fill="url(#fNa)" stroke="#909090" stroke-width="0.3"/>
<circle cx="575" cy="346.8" r="2.9" fill="url(#fNa)" stroke="#909090" stroke-width="0.3"/>
<circle cx="558.3" cy="346.8" r="2.6" fill="url(#fNa)" stroke="#909090" stroke-width="0.3"/>
<circle cx="591.4" cy="346.9" r="2.6" fill="url(#fNa)" stroke="#909090" stroke-width="0.3"/>
<circle cx="588" cy="347" r="2.3" fill="url(#fNa)" stroke="#909090" stroke-width="0.3"/>
<circle cx="486.1" cy="347" r="2.2" fill="url(#fNa)" stroke="#909090" stroke-width="0.3"/>
<circle cx="524" cy="347.1" r="2.2" fill="url(#fNa)" stroke="#909090" stroke-width="0.3"/>
<circle cx="510.7" cy="347.1" r="2.4" fill="url(#fNa)" stroke="#909090" stroke-width="0.3"/>
<circle cx="600.6" cy="347.2" r="2.4" fill="url(#fNa)" stroke="#909090" stroke-width="0.3"/>
<circle cx="573.4" cy="347.2" r="2.3" fill="url(#fNa)" stroke="#909090" stroke-width="0.3"/>
<circle cx="589.3" cy="347.2" r="2.2" fill="url(#fNa)" stroke="#909090" stroke-width="0.3"/>
<circle cx="536.4" cy="347.4" r="2.8" fill="url(#fNa)" stroke="#909090" stroke-width="0.3"/>
<circle cx="493.1" cy="347.6" r="2.8" fill="url(#fNa)" stroke="#909090" stroke-width="0.3"/>
<circle cx="518.8" cy="347.6" r="2.9" fill="url(#fNa)" stroke="#909090" stroke-width="0.3"/>
<circle cx="601.2" cy="347.7" r="2.4" fill="url(#fNa)" stroke="#909090" stroke-width="0.3"/>
<circle cx="602.9" cy="347.7" r="2.8" fill="url(#fNa)" stroke="#909090" stroke-width="0.3"/>
<circle cx="529" cy="347.8" r="2.7" fill="url(#fNa)" stroke="#909090" stroke-width="0.3"/>
<circle cx="608.8" cy="347.9" r="2.3" fill="url(#fNa)" stroke="#909090" stroke-width="0.3"/>
<circle cx="500.5" cy="347.9" r="2.9" fill="url(#fNa)" stroke="#909090" stroke-width="0.3"/>
<circle cx="597.5" cy="348" r="2.5" fill="url(#fNa)" stroke="#909090" stroke-width="0.3"/>
<circle cx="485.9" cy="348.1" r="2.3" fill="url(#fNa)" stroke="#909090" stroke-width="0.3"/>
<circle cx="582.5" cy="348.1" r="2.3" fill="url(#fNa)" stroke="#909090" stroke-width="0.3"/>
<circle cx="556.4" cy="348.1" r="2.9" fill="url(#fNa)" stroke="#909090" stroke-width="0.3"/>
<circle cx="542" cy="348.1" r="2.4" fill="url(#fNa)" stroke="#909090" stroke-width="0.3"/>
<circle cx="525.4" cy="348.2" r="2.5" fill="url(#fNa)" stroke="#909090" stroke-width="0.3"/>
<circle cx="582.4" cy="348.2" r="2.6" fill="url(#fNa)" stroke="#909090" stroke-width="0.3"/>
<circle cx="541.4" cy="348.2" r="2.5" fill="url(#fNa)" stroke="#909090" stroke-width="0.3"/>
<circle cx="556.2" cy="348.3" r="2.7" fill="url(#fNa)" stroke="#909090" stroke-width="0.3"/>
<circle cx="489.6" cy="348.4" r="2.3" fill="url(#fNa)" stroke="#909090" stroke-width="0.3"/>
<circle cx="577" cy="348.5" r="2.5" fill="url(#fNa)" stroke="#909090" stroke-width="0.3"/>
<circle cx="564.2" cy="348.5" r="2.7" fill="url(#fNa)" stroke="#909090" stroke-width="0.3"/>
<circle cx="562.1" cy="348.6" r="2.7" fill="url(#fNa)" stroke="#909090" stroke-width="0.3"/>
<circle cx="481.4" cy="348.6" r="2.7" fill="url(#fNa)" stroke="#909090" stroke-width="0.3"/>
<circle cx="584.9" cy="348.7" r="2.4" fill="url(#fNa)" stroke="#909090" stroke-width="0.3"/>
<circle cx="557.6" cy="348.7" r="2.7" fill="url(#fNa)" stroke="#909090" stroke-width="0.3"/>
<circle cx="527.6" cy="348.7" r="3" fill="url(#fNa)" stroke="#909090" stroke-width="0.3"/>
<circle cx="560.1" cy="348.7" r="2.6" fill="url(#fNa)" stroke="#909090" stroke-width="0.3"/>
<circle cx="557.8" cy="348.9" r="2.7" fill="url(#fNa)" stroke="#909090" stroke-width="0.3"/>
<circle cx="497.1" cy="349" r="2.9" fill="url(#fNa)" stroke="#909090" stroke-width="0.3"/>
<circle cx="592" cy="349" r="2.4" fill="url(#fNa)" stroke="#909090" stroke-width="0.3"/>
<circle cx="599.2" cy="349.1" r="2.4" fill="url(#fNa)" stroke="#909090" stroke-width="0.3"/>
<circle cx="608.5" cy="349.2" r="3" fill="url(#fNa)" stroke="#909090" stroke-width="0.3"/>
<circle cx="584.8" cy="349.2" r="2.4" fill="url(#fNa)" stroke="#909090" stroke-width="0.3"/>
<circle cx="498.9" cy="349.2" r="2.5" fill="url(#fNa)" stroke="#909090" stroke-width="0.3"/>
<circle cx="502.2" cy="349.3" r="2.5" fill="url(#fNa)" stroke="#909090" stroke-width="0.3"/>
<circle cx="542.4" cy="349.4" r="3" fill="url(#fNa)" stroke="#909090" stroke-width="0.3"/>
<circle cx="590.1" cy="349.4" r="2.6" fill="url(#fNa)" stroke="#909090" stroke-width="0.3"/>
<circle cx="608.1" cy="349.5" r="2.9" fill="url(#fNa)" stroke="#909090" stroke-width="0.3"/>
<circle cx="591.6" cy="349.5" r="2.3" fill="url(#fNa)" stroke="#909090" stroke-width="0.3"/>
<circle cx="527.6" cy="349.7" r="2.4" fill="url(#fNa)" stroke="#909090" stroke-width="0.3"/>
<circle cx="584.9" cy="349.7" r="2.7" fill="url(#fNa)" stroke="#909090" stroke-width="0.3"/>
<circle cx="490.4" cy="349.8" r="2.5" fill="url(#fNa)" stroke="#909090" stroke-width="0.3"/>
<circle cx="539.8" cy="349.9" r="2.7" fill="url(#fNa)" stroke="#909090" stroke-width="0.3"/>
<circle cx="490.4" cy="349.9" r="2.6" fill="url(#fNa)" stroke="#909090" stroke-width="0.3"/>
<circle cx="577" cy="349.9" r="2.3" fill="url(#fNa)" stroke="#909090" stroke-width="0.3"/>
<circle cx="600.7" cy="350" r="2.3" fill="url(#fNa)" stroke="#909090" stroke-width="0.3"/>
<circle cx="480.8" cy="350" r="2.6" fill="url(#fNa)" stroke="#909090" stroke-width="0.3"/>
<circle cx="481.4" cy="350" r="2.6" fill="url(#fNa)" stroke="#909090" stroke-width="0.3"/>
<circle cx="511.1" cy="350" r="2.3" fill="url(#fNa)" stroke="#909090" stroke-width="0.3"/>
<circle cx="574.8" cy="350.1" r="2.4" fill="url(#fNa)" stroke="#909090" stroke-width="0.3"/>
<circle cx="559.2" cy="350.1" r="2.2" fill="url(#fNa)" stroke="#909090" stroke-width="0.3"/>
<circle cx="494.7" cy="350.3" r="2.4" fill="url(#fNa)" stroke="#909090" stroke-width="0.3"/>
<circle cx="528.1" cy="350.3" r="2.4" fill="url(#fNa)" stroke="#909090" stroke-width="0.3"/>
<circle cx="599" cy="350.3" r="2.5" fill="url(#fNa)" stroke="#909090" stroke-width="0.3"/>
<circle cx="484.2" cy="350.4" r="2.7" fill="url(#fNa)" stroke="#909090" stroke-width="0.3"/>
<circle cx="584.8" cy="350.5" r="2.9" fill="url(#fNa)" stroke="#909090" stroke-width="0.3"/>
<circle cx="581.3" cy="350.5" r="2.8" fill="url(#fNa)" stroke="#909090" stroke-width="0.3"/>
<circle cx="502.8" cy="350.5" r="2.8" fill="url(#fNa)" stroke="#909090" stroke-width="0.3"/>
<circle cx="606.5" cy="350.5" r="2.4" fill="url(#fNa)" stroke="#909090" stroke-width="0.3"/>
<circle cx="598.8" cy="350.5" r="2.6" fill="url(#fNa)" stroke="#909090" stroke-width="0.3"/>
<circle cx="604" cy="350.5" r="2.8" fill="url(#fNa)" stroke="#909090" stroke-width="0.3"/>
<circle cx="576" cy="350.5" r="2.9" fill="url(#fNa)" stroke="#909090" stroke-width="0.3"/>
<circle cx="550.3" cy="350.6" r="2.4" fill="url(#fNa)" stroke="#909090" stroke-width="0.3"/>
<circle cx="596.7" cy="350.6" r="2.2" fill="url(#fNa)" stroke="#909090" stroke-width="0.3"/>
<circle cx="542.9" cy="350.6" r="2.2" fill="url(#fNa)" stroke="#909090" stroke-width="0.3"/>
<circle cx="516.3" cy="350.7" r="2.6" fill="url(#fNa)" stroke="#909090" stroke-width="0.3"/>
<circle cx="556.4" cy="350.7" r="2.9" fill="url(#fNa)" stroke="#909090" stroke-width="0.3"/>
<circle cx="512.9" cy="350.7" r="2.3" fill="url(#fNa)" stroke="#909090" stroke-width="0.3"/>
<circle cx="530.4" cy="350.9" r="2.8" fill="url(#fNa)" stroke="#909090" stroke-width="0.3"/>
<circle cx="598.9" cy="351.1" r="2.7" fill="url(#fNa)" stroke="#909090" stroke-width="0.3"/>
<circle cx="486.9" cy="351.2" r="2.9" fill="url(#fNa)" stroke="#909090" stroke-width="0.3"/>
<circle cx="583.7" cy="351.2" r="2.9" fill="url(#fNa)" stroke="#909090" stroke-width="0.3"/>
<circle cx="481.1" cy="351.2" r="2.3" fill="url(#fNa)" stroke="#909090" stroke-width="0.3"/>
<circle cx="479.6" cy="351.2" r="2.8" fill="url(#fNa)" stroke="#909090" stroke-width="0.3"/>
<circle cx="594.9" cy="351.2" r="2.3" fill="url(#fNa)" stroke="#909090" stroke-width="0.3"/>
<circle cx="592.5" cy="351.3" r="2.3" fill="url(#fNa)" stroke="#909090" stroke-width="0.3"/>
<circle cx="481.3" cy="351.3" r="2.5" fill="url(#fNa)" stroke="#909090" stroke-width="0.3"/>
<circle cx="562.6" cy="351.4" r="2.6" fill="url(#fNa)" stroke="#909090" stroke-width="0.3"/>
<circle cx="502.9" cy="351.5" r="2.3" fill="url(#fNa)" stroke="#909090" stroke-width="0.3"/>
<circle cx="497.2" cy="351.6" r="2.4" fill="url(#fNa)" stroke="#909090" stroke-width="0.3"/>
<circle cx="506.7" cy="351.7" r="2.3" fill="url(#fNa)" stroke="#909090" stroke-width="0.3"/>
<circle cx="604.5" cy="351.7" r="2.3" fill="url(#fNa)" stroke="#909090" stroke-width="0.3"/>
<circle cx="582.4" cy="351.7" r="2.3" fill="url(#fNa)" stroke="#909090" stroke-width="0.3"/>
<circle cx="585.3" cy="351.8" r="2.2" fill="url(#fNa)" stroke="#909090" stroke-width="0.3"/>
<circle cx="509.2" cy="351.8" r="2.4" fill="url(#fNa)" stroke="#909090" stroke-width="0.3"/>
<circle cx="493.5" cy="351.8" r="2.5" fill="url(#fNa)" stroke="#909090" stroke-width="0.3"/>
<circle cx="489.6" cy="351.8" r="2.5" fill="url(#fNa)" stroke="#909090" stroke-width="0.3"/>
<circle cx="491.7" cy="351.9" r="2.8" fill="url(#fNa)" stroke="#909090" stroke-width="0.3"/>
<circle cx="607.1" cy="351.9" r="2.7" fill="url(#fNa)" stroke="#909090" stroke-width="0.3"/>
<circle cx="488.2" cy="352" r="2.6" fill="url(#fNa)" stroke="#909090" stroke-width="0.3"/>
<circle cx="491.8" cy="352" r="2.5" fill="url(#fNa)" stroke="#909090" stroke-width="0.3"/>
<circle cx="594.8" cy="352" r="2.7" fill="url(#fNa)" stroke="#909090" stroke-width="0.3"/>
<circle cx="477.1" cy="352.1" r="2.4" fill="url(#fNa)" stroke="#909090" stroke-width="0.3"/>
<circle cx="528.4" cy="352.1" r="2.3" fill="url(#fNa)" stroke="#909090" stroke-width="0.3"/>
<circle cx="496.4" cy="352.2" r="2.3" fill="url(#fNa)" stroke="#909090" stroke-width="0.3"/>
<circle cx="499" cy="352.2" r="2.7" fill="url(#fNa)" stroke="#909090" stroke-width="0.3"/>
<circle cx="491.1" cy="352.3" r="2.3" fill="url(#fNa)" stroke="#909090" stroke-width="0.3"/>
<circle cx="610.3" cy="352.4" r="2.4" fill="url(#fNa)" stroke="#909090" stroke-width="0.3"/>
<circle cx="492.7" cy="352.4" r="2.5" fill="url(#fNa)" stroke="#909090" stroke-width="0.3"/>
<circle cx="528.5" cy="352.5" r="2.7" fill="url(#fNa)" stroke="#909090" stroke-width="0.3"/>
<circle cx="552.5" cy="352.5" r="2.7" fill="url(#fNa)" stroke="#909090" stroke-width="0.3"/>
<circle cx="604.3" cy="352.5" r="2.7" fill="url(#fNa)" stroke="#909090" stroke-width="0.3"/>
<circle cx="499.6" cy="352.6" r="2.7" fill="url(#fNa)" stroke="#909090" stroke-width="0.3"/>
<circle cx="496.7" cy="352.6" r="2.4" fill="url(#fNa)" stroke="#909090" stroke-width="0.3"/>
<circle cx="503.9" cy="352.6" r="2.9" fill="url(#fNa)" stroke="#909090" stroke-width="0.3"/>
<circle cx="573" cy="352.6" r="2.8" fill="url(#fNa)" stroke="#909090" stroke-width="0.3"/>
<circle cx="610.1" cy="352.8" r="2.5" fill="url(#fNa)" stroke="#909090" stroke-width="0.3"/>
<circle cx="492.4" cy="352.9" r="2.5" fill="url(#fNa)" stroke="#909090" stroke-width="0.3"/>
<circle cx="584.7" cy="352.9" r="2.7" fill="url(#fNa)" stroke="#909090" stroke-width="0.3"/>
<circle cx="492" cy="352.9" r="2.3" fill="url(#fNa)" stroke="#909090" stroke-width="0.3"/>
<circle cx="482.3" cy="352.9" r="2.7" fill="url(#fNa)" stroke="#909090" stroke-width="0.3"/>
<circle cx="550.8" cy="352.9" r="2.9" fill="url(#fNa)" stroke="#909090" stroke-width="0.3"/>
<circle cx="481" cy="353" r="2.5" fill="url(#fNa)" stroke="#909090" stroke-width="0.3"/>
<circle cx="600.3" cy="353" r="2.6" fill="url(#fNa)" stroke="#909090" stroke-width="0.3"/>
<circle cx="549.1" cy="353.2" r="2.4" fill="url(#fNa)" stroke="#909090" stroke-width="0.3"/>
<circle cx="563.4" cy="353.3" r="2.9" fill="url(#fNa)" stroke="#909090" stroke-width="0.3"/>
<circle cx="610.3" cy="353.3" r="2.5" fill="url(#fNa)" stroke="#909090" stroke-width="0.3"/>
<circle cx="514" cy="353.3" r="2.5" fill="url(#fNa)" stroke="#909090" stroke-width="0.3"/>
<circle cx="561.3" cy="353.3" r="2.8" fill="url(#fNa)" stroke="#909090" stroke-width="0.3"/>
<circle cx="485.5" cy="353.4" r="2.5" fill="url(#fNa)" stroke="#909090" stroke-width="0.3"/>
<circle cx="604" cy="353.4" r="2.9" fill="url(#fNa)" stroke="#909090" stroke-width="0.3"/>
<circle cx="513.8" cy="353.4" r="2.5" fill="url(#fNa)" stroke="#909090" stroke-width="0.3"/>
<circle cx="540.1" cy="353.5" r="2.7" fill="url(#fNa)" stroke="#909090" stroke-width="0.3"/>
<circle cx="582.9" cy="353.5" r="2.4" fill="url(#fNa)" stroke="#909090" stroke-width="0.3"/>
<circle cx="489.5" cy="353.5" r="2.7" fill="url(#fNa)" stroke="#909090" stroke-width="0.3"/>
<circle cx="477.2" cy="353.5" r="2.6" fill="url(#fNa)" stroke="#909090" stroke-width="0.3"/>
<circle cx="592.1" cy="353.6" r="2.3" fill="url(#fNa)" stroke="#909090" stroke-width="0.3"/>
<circle cx="567.6" cy="353.6" r="2.9" fill="url(#fNa)" stroke="#909090" stroke-width="0.3"/>
<circle cx="488.5" cy="353.6" r="2.3" fill="url(#fNa)" stroke="#909090" stroke-width="0.3"/>
<circle cx="608.2" cy="353.8" r="2.7" fill="url(#fNa)" stroke="#909090" stroke-width="0.3"/>
<circle cx="553.6" cy="353.8" r="2.7" fill="url(#fNa)" stroke="#909090" stroke-width="0.3"/>
<circle cx="599" cy="353.8" r="2.6" fill="url(#fNa)" stroke="#909090" stroke-width="0.3"/>
<circle cx="490.7" cy="353.9" r="2.5" fill="url(#fNa)" stroke="#909090" stroke-width="0.3"/>
<circle cx="494" cy="354" r="2.6" fill="url(#fNa)" stroke="#909090" stroke-width="0.3"/>
<circle cx="480.8" cy="354" r="3" fill="url(#fNa)" stroke="#909090" stroke-width="0.3"/>
<circle cx="600.2" cy="354" r="2.2" fill="url(#fNa)" stroke="#909090" stroke-width="0.3"/>
<circle cx="540" cy="354.1" r="2.9" fill="url(#fNa)" stroke="#909090" stroke-width="0.3"/>
<circle cx="568.6" cy="354.1" r="2.7" fill="url(#fNa)" stroke="#909090" stroke-width="0.3"/>
<circle cx="560.4" cy="354.1" r="2.6" fill="url(#fNa)" stroke="#909090" stroke-width="0.3"/>
<circle cx="569.1" cy="354.1" r="2.7" fill="url(#fNa)" stroke="#909090" stroke-width="0.3"/>
<circle cx="527" cy="354.1" r="2.7" fill="url(#fNa)" stroke="#909090" stroke-width="0.3"/>
<circle cx="581.8" cy="354.2" r="2.9" fill="url(#fNa)" stroke="#909090" stroke-width="0.3"/>
<circle cx="570" cy="354.3" r="3" fill="url(#fNa)" stroke="#909090" stroke-width="0.3"/>
<circle cx="583.3" cy="354.3" r="2.6" fill="url(#fNa)" stroke="#909090" stroke-width="0.3"/>
<circle cx="513.5" cy="354.3" r="2.5" fill="url(#fNa)" stroke="#909090" stroke-width="0.3"/>
<circle cx="546.7" cy="354.3" r="2.5" fill="url(#fNa)" stroke="#909090" stroke-width="0.3"/>
<circle cx="599.1" cy="354.4" r="2.9" fill="url(#fNa)" stroke="#909090" stroke-width="0.3"/>
<circle cx="542.3" cy="354.4" r="2.6" fill="url(#fNa)" stroke="#909090" stroke-width="0.3"/>
<circle cx="564" cy="354.4" r="2.3" fill="url(#fNa)" stroke="#909090" stroke-width="0.3"/>
<circle cx="570" cy="354.5" r="2.7" fill="url(#fNa)" stroke="#909090" stroke-width="0.3"/>
<circle cx="495.3" cy="354.6" r="2.3" fill="url(#fNa)" stroke="#909090" stroke-width="0.3"/>
<circle cx="481" cy="354.6" r="2.5" fill="url(#fNa)" stroke="#909090" stroke-width="0.3"/>
<circle cx="538" cy="354.6" r="2.7" fill="url(#fNa)" stroke="#909090" stroke-width="0.3"/>
<circle cx="505.1" cy="354.7" r="2.7" fill="url(#fNa)" stroke="#909090" stroke-width="0.3"/>
<circle cx="527" cy="354.9" r="2.6" fill="url(#fNa)" stroke="#909090" stroke-width="0.3"/>
<circle cx="536.9" cy="355" r="2.9" fill="url(#fNa)" stroke="#909090" stroke-width="0.3"/>
<circle cx="492.7" cy="355" r="2.7" fill="url(#fNa)" stroke="#909090" stroke-width="0.3"/>
<circle cx="574" cy="355" r="3" fill="url(#fNa)" stroke="#909090" stroke-width="0.3"/>
<circle cx="488.6" cy="355" r="2.8" fill="url(#fNa)" stroke="#909090" stroke-width="0.3"/>
<circle cx="495.4" cy="355.1" r="2.4" fill="url(#fNa)" stroke="#909090" stroke-width="0.3"/>
<circle cx="540" cy="355.1" r="2.8" fill="url(#fNa)" stroke="#909090" stroke-width="0.3"/>
<circle cx="526.7" cy="355.1" r="2.5" fill="url(#fNa)" stroke="#909090" stroke-width="0.3"/>
<circle cx="561.3" cy="355.2" r="3" fill="url(#fNa)" stroke="#909090" stroke-width="0.3"/>
<circle cx="556.3" cy="355.3" r="2.7" fill="url(#fNa)" stroke="#909090" stroke-width="0.3"/>
<circle cx="583.3" cy="355.4" r="2.5" fill="url(#fNa)" stroke="#909090" stroke-width="0.3"/>
<circle cx="566.8" cy="355.4" r="2.3" fill="url(#fNa)" stroke="#909090" stroke-width="0.3"/>
<circle cx="502.8" cy="355.5" r="2.9" fill="url(#fNa)" stroke="#909090" stroke-width="0.3"/>
<circle cx="494" cy="355.5" r="2.5" fill="url(#fNa)" stroke="#909090" stroke-width="0.3"/>
<circle cx="574.5" cy="355.5" r="2.2" fill="url(#fNa)" stroke="#909090" stroke-width="0.3"/>
<circle cx="521.6" cy="355.6" r="2.8" fill="url(#fNa)" stroke="#909090" stroke-width="0.3"/>
<circle cx="501.4" cy="355.7" r="2.2" fill="url(#fNa)" stroke="#909090" stroke-width="0.3"/>
<circle cx="584.9" cy="355.8" r="2.2" fill="url(#fNa)" stroke="#909090" stroke-width="0.3"/>
<circle cx="539" cy="355.8" r="2.2" fill="url(#fNa)" stroke="#909090" stroke-width="0.3"/>
<circle cx="525.3" cy="356" r="2.7" fill="url(#fNa)" stroke="#909090" stroke-width="0.3"/>
<circle cx="552.8" cy="356" r="2.6" fill="url(#fNa)" stroke="#909090" stroke-width="0.3"/>
<circle cx="525.5" cy="356.1" r="2.6" fill="url(#fNa)" stroke="#909090" stroke-width="0.3"/>
<circle cx="537.5" cy="356.1" r="2.9" fill="url(#fNa)" stroke="#909090" stroke-width="0.3"/>
<circle cx="566.3" cy="356.4" r="2.6" fill="url(#fNa)" stroke="#909090" stroke-width="0.3"/>
<circle cx="565.3" cy="356.4" r="2.4" fill="url(#fNa)" stroke="#909090" stroke-width="0.3"/>
<circle cx="546.7" cy="356.4" r="3" fill="url(#fNa)" stroke="#909090" stroke-width="0.3"/>
<circle cx="530.3" cy="356.9" r="2.3" fill="url(#fNa)" stroke="#909090" stroke-width="0.3"/>
<line x1="457.3" y1="306.4" x2="629" y2="306.4" stroke="#8a8a8a" stroke-width="0.8" stroke-dasharray="1,1.3"/>
<circle cx="643.6" cy="225.5" r="2.5" fill="url(#fNa)"/>
<text x="658.9" y="230.3" font-size="14" font-weight="bold" fill="#000">Na</text>
<circle cx="643.6" cy="242.2" r="4.3" fill="url(#fNi)"/>
<text x="658.9" y="247.2" font-size="14" font-weight="bold" fill="#000">Ni</text>
<circle cx="643.6" cy="258.7" r="4.6" fill="url(#fMn)"/>
<text x="658.9" y="264.1" font-size="14" font-weight="bold" fill="#000">Mn</text>
<circle cx="643.6" cy="275.9" r="4.4" fill="url(#fCu)"/>
<text x="658.9" y="280.9" font-size="14" font-weight="bold" fill="#000">Cu</text>
<circle cx="643.6" cy="292.3" r="4.4" fill="url(#fFe)"/>
<text x="658.9" y="297.6" font-size="14" font-weight="bold" fill="#000">Fe</text>
<circle cx="643.6" cy="309.3" r="5.2" fill="url(#fTi)"/>
<text x="658.9" y="314.2" font-size="14" font-weight="bold" fill="#000">Ti</text>
<circle cx="643.6" cy="326.5" r="5.4" fill="url(#fSn)"/>
<text x="658.9" y="330.8" font-size="14" font-weight="bold" fill="#000">Sn</text>
<circle cx="643.6" cy="342.9" r="2.3" fill="url(#fO)"/>
<text x="658.9" y="348" font-size="14" font-weight="bold" fill="#000">O</text>
<line x1="651.7" y1="393.8" x2="651.7" y2="373.5" stroke="#111" stroke-width="1.3" marker-end="url(#fah)"/>
<line x1="651.7" y1="393.8" x2="631.2" y2="393.8" stroke="#111" stroke-width="1.3" marker-end="url(#fah)"/>
<line x1="651.7" y1="393.8" x2="672.2" y2="393.8" stroke="#111" stroke-width="1.3" marker-end="url(#fah)"/>
<text x="651.7" y="368.3" font-size="14" font-weight="bold" text-anchor="middle" fill="#000">c</text>
<text x="626.6" y="399.4" font-size="14" font-weight="bold" text-anchor="end" fill="#000">a</text>
<text x="676.4" y="399.4" font-size="14" font-weight="bold" fill="#000">b</text>
<text x="-0.4" y="434.8" font-size="17" font-weight="bold" fill="#000">g</text>
<text transform="translate(14.2,514.4) rotate(-90)" font-size="13.7" text-anchor="middle" fill="#111">Energy (eV)</text>
<line x1="41.5" y1="436.9" x2="41.5" y2="593.6" stroke="#333" stroke-width="1"/>
<line x1="41" y1="593.6" x2="235.4" y2="593.6" stroke="#333" stroke-width="1"/>
<line x1="38.3" y1="450.8" x2="41.5" y2="450.8" stroke="#333" stroke-width="1"/>
<text x="36.2" y="454.4" font-size="10.2" text-anchor="end" fill="#222">2.0</text>
<line x1="38.3" y1="479.2" x2="41.5" y2="479.2" stroke="#333" stroke-width="1"/>
<text x="36.2" y="482.8" font-size="10.2" text-anchor="end" fill="#222">1.5</text>
<line x1="38.3" y1="507.6" x2="41.5" y2="507.6" stroke="#333" stroke-width="1"/>
<text x="36.2" y="511.2" font-size="10.2" text-anchor="end" fill="#222">1.0</text>
<line x1="38.3" y1="536" x2="41.5" y2="536" stroke="#333" stroke-width="1"/>
<text x="36.2" y="539.6" font-size="10.2" text-anchor="end" fill="#222">0.5</text>
<line x1="38.3" y1="564.4" x2="41.5" y2="564.4" stroke="#333" stroke-width="1"/>
<text x="36.2" y="568" font-size="10.2" text-anchor="end" fill="#222">0.0</text>
<line x1="38.3" y1="592.8" x2="41.5" y2="592.8" stroke="#333" stroke-width="1"/>
<text x="36.2" y="596.4" font-size="10.2" text-anchor="end" fill="#222">-0.5</text>
<line x1="39.6" y1="436.6" x2="41.5" y2="436.6" stroke="#333" stroke-width="0.8"/>
<line x1="39.6" y1="465" x2="41.5" y2="465" stroke="#333" stroke-width="0.8"/>
<line x1="39.6" y1="493.4" x2="41.5" y2="493.4" stroke="#333" stroke-width="0.8"/>
<line x1="39.6" y1="521.8" x2="41.5" y2="521.8" stroke="#333" stroke-width="0.8"/>
<line x1="39.6" y1="550.2" x2="41.5" y2="550.2" stroke="#333" stroke-width="0.8"/>
<line x1="39.6" y1="578.6" x2="41.5" y2="578.6" stroke="#333" stroke-width="0.8"/>
<line x1="54.8" y1="593.6" x2="54.8" y2="596.4" stroke="#333" stroke-width="1"/>
<text x="54.8" y="606.2" font-size="10.2" text-anchor="middle" fill="#222">0</text>
<line x1="82.7" y1="593.6" x2="82.7" y2="596.4" stroke="#333" stroke-width="1"/>
<text x="82.7" y="606.2" font-size="10.2" text-anchor="middle" fill="#222">1</text>
<line x1="110.5" y1="593.6" x2="110.5" y2="596.4" stroke="#333" stroke-width="1"/>
<text x="110.5" y="606.2" font-size="10.2" text-anchor="middle" fill="#222">2</text>
<line x1="138.4" y1="593.6" x2="138.4" y2="596.4" stroke="#333" stroke-width="1"/>
<text x="138.4" y="606.2" font-size="10.2" text-anchor="middle" fill="#222">3</text>
<line x1="166.2" y1="593.6" x2="166.2" y2="596.4" stroke="#333" stroke-width="1"/>
<text x="166.2" y="606.2" font-size="10.2" text-anchor="middle" fill="#222">4</text>
<line x1="194.1" y1="593.6" x2="194.1" y2="596.4" stroke="#333" stroke-width="1"/>
<text x="194.1" y="606.2" font-size="10.2" text-anchor="middle" fill="#222">5</text>
<line x1="221.9" y1="593.6" x2="221.9" y2="596.4" stroke="#333" stroke-width="1"/>
<text x="221.9" y="606.2" font-size="10.2" text-anchor="middle" fill="#222">6</text>
<line x1="68.7" y1="593.6" x2="68.7" y2="595.3" stroke="#333" stroke-width="0.8"/>
<line x1="96.6" y1="593.6" x2="96.6" y2="595.3" stroke="#333" stroke-width="0.8"/>
<line x1="124.4" y1="593.6" x2="124.4" y2="595.3" stroke="#333" stroke-width="0.8"/>
<line x1="152.3" y1="593.6" x2="152.3" y2="595.3" stroke="#333" stroke-width="0.8"/>
<line x1="180.1" y1="593.6" x2="180.1" y2="595.3" stroke="#333" stroke-width="0.8"/>
<line x1="208" y1="593.6" x2="208" y2="595.3" stroke="#333" stroke-width="0.8"/>
<line x1="235.8" y1="593.6" x2="235.8" y2="595.3" stroke="#333" stroke-width="0.8"/>
<line x1="40.9" y1="593.6" x2="40.9" y2="595.3" stroke="#333" stroke-width="0.8"/>
<text x="138.9" y="625.7" font-size="13.6" text-anchor="middle" fill="#111">Diffusion coordination (Å)</text>
<rect x="87.3" y="549.5" width="54.4" height="12.8" fill="#c8cacc" opacity="0.8"/>
<rect x="87.3" y="549.5" width="10.2" height="12.8" fill="#c4c6c8" opacity="0.75"/>
<rect x="97.5" y="549.5" width="12.8" height="12.8" fill="#c070c8" opacity="0.75"/>
<rect x="110.3" y="549.5" width="7.7" height="12.8" fill="#c8c8c8" opacity="0.75"/>
<rect x="118" y="549.5" width="13" height="12.8" fill="#b050b0" opacity="0.75"/>
<rect x="131" y="549.5" width="10.7" height="12.8" fill="#c8a060" opacity="0.75"/>
<rect x="95.7" y="560.2" width="53.7" height="18.4" fill="#dcdcdc" opacity="0.8"/>
<rect x="104.2" y="577.1" width="53.6" height="12.2" fill="#c8cacc" opacity="0.8"/>
<rect x="104.2" y="577.1" width="13.8" height="12.2" fill="#c070c8" opacity="0.75"/>
<rect x="118" y="577.1" width="13" height="12.2" fill="#6a8ae0" opacity="0.75"/>
<rect x="131" y="577.1" width="15.3" height="12.2" fill="#c4c6c8" opacity="0.75"/>
<rect x="146.3" y="577.1" width="11.5" height="12.2" fill="#c070c8" opacity="0.75"/>
<circle cx="95.4" cy="556.7" r="2" fill="url(#fNi)"/>
<circle cx="103.7" cy="555.2" r="2.3" fill="url(#fMn)"/>
<circle cx="125.2" cy="556.6" r="2.6" fill="url(#fMn)"/>
<circle cx="133.7" cy="555.2" r="2.2" fill="url(#fCu)"/>
<circle cx="111.1" cy="583.2" r="2.3" fill="url(#fMn)"/>
<circle cx="120.3" cy="583" r="2.4" fill="url(#fTi)"/>
<circle cx="126.1" cy="583.7" r="2.3" fill="url(#fFe)"/>
<circle cx="141" cy="583.7" r="2.2" fill="url(#fNi)"/>
<circle cx="150.1" cy="582.8" r="2.3" fill="url(#fMn)"/>
<circle cx="102.6" cy="569.7" r="3.2" fill="url(#fNa)" opacity="0.9"/>
<circle cx="109.5" cy="569.7" r="3.2" fill="url(#fNa)" opacity="0.9"/>
<circle cx="134" cy="569.7" r="3.2" fill="url(#fNa)" opacity="0.9"/>
<circle cx="142.5" cy="569.7" r="3.2" fill="url(#fNa)" opacity="0.9"/>
<circle cx="87.3" cy="549.6" r="1.4" fill="#e8403a"/>
<circle cx="87.8" cy="561.9" r="1.4" fill="#e8403a"/>
<circle cx="96.5" cy="549.6" r="1.4" fill="#e8403a"/>
<circle cx="97" cy="561.9" r="1.4" fill="#e8403a"/>
<circle cx="103.4" cy="549.6" r="1.4" fill="#e8403a"/>
<circle cx="103.9" cy="561.9" r="1.4" fill="#e8403a"/>
<circle cx="111.1" cy="549.6" r="1.4" fill="#e8403a"/>
<circle cx="111.6" cy="561.9" r="1.4" fill="#e8403a"/>
<circle cx="120.3" cy="549.6" r="1.4" fill="#e8403a"/>
<circle cx="120.8" cy="561.9" r="1.4" fill="#e8403a"/>
<circle cx="126.4" cy="549.6" r="1.4" fill="#e8403a"/>
<circle cx="126.9" cy="561.9" r="1.4" fill="#e8403a"/>
<circle cx="134.8" cy="549.6" r="1.4" fill="#e8403a"/>
<circle cx="135.3" cy="561.9" r="1.4" fill="#e8403a"/>
<circle cx="141.7" cy="549.6" r="1.4" fill="#e8403a"/>
<circle cx="142.2" cy="561.9" r="1.4" fill="#e8403a"/>
<circle cx="104.5" cy="577.2" r="1.4" fill="#e8403a"/>
<circle cx="104.8" cy="589.4" r="1.4" fill="#e8403a"/>
<circle cx="112" cy="577.2" r="1.4" fill="#e8403a"/>
<circle cx="112.3" cy="589.4" r="1.4" fill="#e8403a"/>
<circle cx="118.5" cy="577.2" r="1.4" fill="#e8403a"/>
<circle cx="118.8" cy="589.4" r="1.4" fill="#e8403a"/>
<circle cx="125.5" cy="577.2" r="1.4" fill="#e8403a"/>
<circle cx="125.8" cy="589.4" r="1.4" fill="#e8403a"/>
<circle cx="131.6" cy="577.2" r="1.4" fill="#e8403a"/>
<circle cx="131.9" cy="589.4" r="1.4" fill="#e8403a"/>
<circle cx="140" cy="577.2" r="1.4" fill="#e8403a"/>
<circle cx="140.3" cy="589.4" r="1.4" fill="#e8403a"/>
<circle cx="147" cy="577.2" r="1.4" fill="#e8403a"/>
<circle cx="147.3" cy="589.4" r="1.4" fill="#e8403a"/>
<circle cx="157.5" cy="577.2" r="1.4" fill="#e8403a"/>
<circle cx="157.8" cy="589.4" r="1.4" fill="#e8403a"/>
<circle cx="108.6" cy="591.5" r="1.4" fill="#e8403a"/>
<rect x="112.3" y="562.5" width="20.5" height="12.3" fill="none" stroke="#8ecbea" stroke-width="0.6" stroke-dasharray="1.5,1"/>
<path d="M115.5,570.5 C115.5,566 120,565.5 123,566.5 C126,567.5 129,565 129.6,568.5 C130,572 126,573 123,572.8 C120,572.6 116.5,575.8 115.5,570.5 Z" fill="#d45555"/>
<line x1="118" y1="566.5" x2="118" y2="573.5" stroke="#f09a9a" stroke-width="0.5" opacity="0.7"/>
<line x1="120.5" y1="566.5" x2="120.5" y2="573.5" stroke="#f09a9a" stroke-width="0.5" opacity="0.7"/>
<line x1="123" y1="566.5" x2="123" y2="573.5" stroke="#f09a9a" stroke-width="0.5" opacity="0.7"/>
<line x1="125.5" y1="566.5" x2="125.5" y2="573.5" stroke="#f09a9a" stroke-width="0.5" opacity="0.7"/>
<line x1="128" y1="566.5" x2="128" y2="573.5" stroke="#f09a9a" stroke-width="0.5" opacity="0.7"/>
<path d="M158.3,541.1 H184.4 Q186.9,541.1 186.9,543.6 V561.6 Q186.9,564.1 184.4,564.1 H165 L136,572.5 L158.8,564.1 Q155.8,564.1 155.8,561.6 V543.6 Q155.8,541.1 158.3,541.1 Z" fill="none" stroke="#a9dff0" stroke-width="1.4"/>
<line x1="167.5" y1="551.5" x2="157.1" y2="544.6" stroke="#d84a4a" stroke-width="1.2"/>
<circle cx="157.1" cy="544.6" r="1.3" fill="#e04040"/>
<line x1="167.5" y1="551.5" x2="160.3" y2="546.2" stroke="#d84a4a" stroke-width="1.2"/>
<circle cx="160.3" cy="546.2" r="1.3" fill="#e04040"/>
<line x1="167.5" y1="551.5" x2="169.1" y2="541.6" stroke="#d84a4a" stroke-width="1.2"/>
<circle cx="169.1" cy="541.6" r="1.3" fill="#e04040"/>
<line x1="167.5" y1="551.5" x2="172.3" y2="542.4" stroke="#d84a4a" stroke-width="1.2"/>
<circle cx="172.3" cy="542.4" r="1.3" fill="#e04040"/>
<line x1="167.5" y1="551.5" x2="183.6" y2="541.8" stroke="#d84a4a" stroke-width="1.2"/>
<circle cx="183.6" cy="541.8" r="1.3" fill="#e04040"/>
<line x1="167.5" y1="551.5" x2="180.4" y2="559.9" stroke="#d84a4a" stroke-width="1.2"/>
<circle cx="180.4" cy="559.9" r="1.3" fill="#e04040"/>
<line x1="167.5" y1="551.5" x2="177.2" y2="556.9" stroke="#d84a4a" stroke-width="1.2"/>
<circle cx="177.2" cy="556.9" r="1.3" fill="#e04040"/>
<path d="M161.5,553.5 C161.5,548.5 165,547 168,547 C171.5,547 174,548.5 174,553 C174,555 171,555.5 167.5,555.5 C164,555.5 161.5,555.5 161.5,553.5 Z" fill="#d85a5a"/>
<line x1="163.5" y1="548.5" x2="163.5" y2="555.2" stroke="#f0a0a0" stroke-width="0.5"/>
<line x1="165.8" y1="548.5" x2="165.8" y2="555.2" stroke="#f0a0a0" stroke-width="0.5"/>
<line x1="168.1" y1="548.5" x2="168.1" y2="555.2" stroke="#f0a0a0" stroke-width="0.5"/>
<line x1="170.4" y1="548.5" x2="170.4" y2="555.2" stroke="#f0a0a0" stroke-width="0.5"/>
<line x1="172.5" y1="548.5" x2="172.5" y2="555.2" stroke="#f0a0a0" stroke-width="0.5"/>
<text x="177.6" y="554.2" font-size="7" font-weight="bold" fill="#111">6</text>
<text x="170.4" y="561.9" font-size="7" font-weight="bold" fill="#111">3</text>
<text x="164.3" y="561.5" font-size="7" font-weight="bold" fill="#111">1</text>
<circle cx="48.3" cy="584.4" r="3.6" fill="url(#fNa)" stroke="#b0b0b0" stroke-width="0.4"/>
<circle cx="56.6" cy="584.4" r="2.7" fill="#d46a6a" stroke="#b04848" stroke-width="0.4"/>
<text x="61.6" y="588.2" font-size="10.6" fill="#111">Na</text>
<circle cx="82.4" cy="584.4" r="2.5" fill="url(#fO)"/>
<text x="87.5" y="588.2" font-size="10.6" fill="#111">O</text>
<circle cx="166.8" cy="584.4" r="3.4" fill="url(#fSn)"/>
<circle cx="175.1" cy="584.4" r="3.5" fill="url(#fTi)"/>
<circle cx="183.4" cy="584.4" r="3.2" fill="url(#fFe)"/>
<circle cx="191.2" cy="584.4" r="3.2" fill="url(#fCu)"/>
<circle cx="198.7" cy="584.4" r="3.2" fill="url(#fMn)"/>
<circle cx="206.4" cy="584.4" r="2.8" fill="url(#fNi)"/>
<text x="213.4" y="588.2" font-size="10.6" fill="#111">TM</text>
<path d="M54.8,564.4 C59.4,561.2 73.4,558.3 82.7,545.3 C91.9,532.3 101.2,502.1 110.5,486.5 C119.8,470.9 129.1,452 138.4,451.5 C147.6,451 156.9,468.6 166.2,483.7 C175.5,498.8 184.8,528.9 194.1,542.4 C203.3,555.9 217.3,560.9 221.9,564.6" fill="none" stroke="#3f83c4" stroke-width="1"/>
<circle cx="54.8" cy="564.4" r="2.4" fill="#fff" stroke="#3f83c4" stroke-width="0.8"/>
<circle cx="82.7" cy="545.3" r="2.4" fill="#fff" stroke="#3f83c4" stroke-width="0.8"/>
<circle cx="110.5" cy="486.5" r="2.4" fill="#fff" stroke="#3f83c4" stroke-width="0.8"/>
<circle cx="138.4" cy="451.5" r="2.4" fill="#fff" stroke="#3f83c4" stroke-width="0.8"/>
<circle cx="166.2" cy="483.7" r="2.4" fill="#fff" stroke="#3f83c4" stroke-width="0.8"/>
<circle cx="194.1" cy="542.4" r="2.4" fill="#fff" stroke="#3f83c4" stroke-width="0.8"/>
<circle cx="221.9" cy="564.6" r="2.4" fill="#fff" stroke="#3f83c4" stroke-width="0.8"/>
<path d="M54.8,564.4 C59.4,561.8 73.4,559.2 82.7,548.7 C91.9,538.2 101.2,513.9 110.5,501.5 C119.8,489.1 129.1,474.1 138.4,474.1 C147.6,474.1 156.9,488.7 166.2,501.6 C175.5,514.5 184.8,539.7 194.1,551.7 C203.3,563.7 217.3,570.1 221.9,573.8" fill="none" stroke="#e66a6a" stroke-width="1"/>
<circle cx="54.8" cy="564.4" r="2.4" fill="#fff" stroke="#e66a6a" stroke-width="0.8"/>
<circle cx="82.7" cy="548.7" r="2.4" fill="#fff" stroke="#e66a6a" stroke-width="0.8"/>
<circle cx="110.5" cy="501.5" r="2.4" fill="#fff" stroke="#e66a6a" stroke-width="0.8"/>
<circle cx="138.4" cy="474.1" r="2.4" fill="#fff" stroke="#e66a6a" stroke-width="0.8"/>
<circle cx="166.2" cy="501.6" r="2.4" fill="#fff" stroke="#e66a6a" stroke-width="0.8"/>
<circle cx="194.1" cy="551.7" r="2.4" fill="#fff" stroke="#e66a6a" stroke-width="0.8"/>
<circle cx="221.9" cy="573.8" r="2.4" fill="#fff" stroke="#e66a6a" stroke-width="0.8"/>
<text x="55.3" y="458.4" font-size="10.1" fill="#111">ΔE = 0.40 eV</text>
<line x1="136.5" y1="462.6" x2="120.5" y2="456.6" stroke="#111" stroke-width="0.8"/>
<polygon points="117.6,455.5 122.4,455.2 121,458.6" fill="#111" stroke="none" stroke-width="1"/>
<line x1="138.5" y1="457.5" x2="138.5" y2="469" stroke="#111" stroke-width="0.8"/>
<polygon points="137,458.3 140,458.3 138.5,454.6" fill="#111" stroke="none" stroke-width="1"/>
<polygon points="137,468.2 140,468.2 138.5,471.9" fill="#111" stroke="none" stroke-width="1"/>
<line x1="180.1" y1="442.3" x2="203" y2="442.3" stroke="#3f83c4" stroke-width="1"/>
<circle cx="191.6" cy="442.3" r="2.4" fill="#fff" stroke="#3f83c4" stroke-width="0.8"/>
<text x="205.9" y="445.9" font-size="10.2" fill="#111">NFM</text>
<line x1="180.1" y1="455.2" x2="203" y2="455.2" stroke="#e66a6a" stroke-width="1"/>
<circle cx="191.6" cy="455.2" r="2.4" fill="#fff" stroke="#e66a6a" stroke-width="0.8"/>
<text x="205.9" y="458.8" font-size="10.2" fill="#111">CFTS5</text>
<text x="249.3" y="435.1" font-size="17.3" font-weight="bold" fill="#000">h</text>
<g clip-path="url(#hcL)">
<rect x="262" y="430" width="80" height="186" fill="url(#hbg)"/>
<use href="#rb1" transform="translate(281.3,457.9) scale(1.38)" fill="#00ff30" stroke="#00ff30" stroke-width="1.5" filter="url(#hb0)"/>
<use href="#rb1" transform="translate(281.3,457.9) scale(1.22)" fill="#b0ff00" filter="url(#hb1)"/>
<use href="#rb1" transform="translate(281.3,457.9) scale(1.13)" fill="#ffff80" filter="url(#hb2)"/>
<use href="#rb1" transform="translate(281.3,457.9) scale(1.075)" fill="#ffc000" filter="url(#hb3)"/>
<use href="#rb1" transform="translate(281.3,457.9) scale(1.035)" fill="#ff7000" filter="url(#hb3)"/>
<use href="#rb1" transform="translate(281.3,457.9) scale(0.995)" fill="#ff0000"/>
<use href="#rb1" transform="translate(281.3,457.9) scale(0.975)" fill="none" stroke="#fff0f0" stroke-width="0.77"/>
<path d="M293.4,456.7 C293.7,458.8 293.7,461.5 292.8,463.4 C291.8,465.3 289.7,467.2 287.8,467.9 C286,468.6 283.4,467.9 281.6,467.4 C279.8,467 278.5,466 276.9,465.2 C275.3,464.4 273.2,464 271.8,462.6 C270.4,461.2 268.7,458.8 268.5,456.7 C268.3,454.6 269.4,451.8 270.7,450.1 C272,448.4 274.3,447.4 276.1,446.7 C277.9,445.9 279.8,445.6 281.6,445.7 C283.4,445.7 285.4,446 287,446.9 C288.6,447.8 290.1,449.3 291.2,450.9 C292.2,452.5 293.1,454.6 293.4,456.7Z" fill="none" stroke="#ffffff" stroke-width="0.65"/>
<path d="M294,459.6 C294.4,461.4 294.2,464.2 293.2,465.6 C292.1,467.1 289.6,467.9 287.9,468.2 C286.3,468.6 284.7,467.7 283.2,467.6 C281.6,467.6 280.3,468.1 278.7,467.7 C277,467.4 274.5,466.8 273.4,465.5 C272.3,464.1 271.8,461.4 272,459.6 C272.3,457.8 273.8,456 274.9,454.6 C275.9,453.2 277.1,452 278.5,451.2 C279.9,450.3 281.6,449.5 283.2,449.5 C284.7,449.5 286.4,450.4 287.8,451.2 C289.1,452.1 290.2,453.3 291.2,454.7 C292.3,456.1 293.7,457.8 294,459.6Z" fill="none" stroke="#ffffff" stroke-width="0.65"/>
<path d="M289.2,458.6 C289.5,460 289.8,462 289.2,463.4 C288.7,464.8 287.1,466.3 285.8,466.9 C284.4,467.5 282.6,467.3 281.2,467 C279.8,466.8 278.5,466.1 277.4,465.3 C276.3,464.6 275.3,463.7 274.5,462.6 C273.8,461.4 273.3,460 273.1,458.6 C273,457.1 273.1,455.4 273.7,454.1 C274.3,452.7 275.3,451 276.6,450.3 C277.8,449.5 279.8,449.1 281.2,449.3 C282.6,449.6 283.9,450.8 284.9,451.7 C285.9,452.7 286.5,453.8 287.2,454.9 C287.9,456.1 288.8,457.1 289.2,458.6Z" fill="none" stroke="#ffffff" stroke-width="0.65"/>
<path d="M287.1,456.8 C287.4,457.9 287.4,459.8 286.8,460.8 C286.3,461.9 284.8,462.7 283.6,463.1 C282.5,463.5 281.3,463.5 280.2,463.4 C279,463.4 277.8,463.3 276.9,462.7 C276,462.2 275.1,461.1 274.6,460.1 C274.2,459.1 274.2,457.9 274.2,456.8 C274.1,455.6 274,454.5 274.3,453.3 C274.7,452.1 275.3,450.4 276.2,449.7 C277.2,449 279,448.8 280.2,449.1 C281.3,449.4 282.2,450.9 283,451.7 C283.8,452.5 284.1,453.1 284.8,454 C285.5,454.8 286.7,455.6 287.1,456.8Z" fill="none" stroke="#ffffff" stroke-width="0.65"/>
<path d="M285.5,458.7 C285.3,459.5 284.5,460.2 284,460.8 C283.5,461.5 283.3,462.1 282.7,462.7 C282.1,463.3 281.3,464.3 280.5,464.5 C279.6,464.7 278.3,464.5 277.5,464 C276.8,463.5 276.3,462.2 276,461.4 C275.7,460.5 275.7,459.5 275.8,458.7 C275.8,457.8 275.9,456.9 276.3,456.2 C276.7,455.4 277.3,454.7 278,454.3 C278.7,453.8 279.6,453.6 280.5,453.5 C281.3,453.5 282.3,453.4 283.2,453.8 C284,454.1 285.1,454.8 285.5,455.6 C285.9,456.5 285.8,457.8 285.5,458.7Z" fill="none" stroke="#ffffff" stroke-width="0.65"/>
<path d="M284,459.8 C284.1,460.4 283.8,461.3 283.4,461.8 C283,462.2 282.2,462.4 281.7,462.6 C281.1,462.7 280.7,462.6 280.1,462.7 C279.6,462.7 279,463.1 278.4,462.9 C277.8,462.8 276.9,462.5 276.6,461.9 C276.2,461.4 276.2,460.4 276.4,459.8 C276.5,459.2 277.1,458.6 277.4,458.1 C277.8,457.7 278.1,457.3 278.6,456.9 C279,456.6 279.6,456.3 280.1,456.2 C280.7,456.2 281.3,456.4 281.9,456.7 C282.4,457 282.8,457.4 283.2,458 C283.5,458.5 284,459.2 284,459.8Z" fill="none" stroke="#ffffff" stroke-width="0.65"/>
<circle cx="286.1" cy="460.3" r="1.6" fill="none" stroke="#ffffff" stroke-width="0.6"/>
<circle cx="282" cy="451.8" r="2.1" fill="none" stroke="#ffffff" stroke-width="0.6"/>
<circle cx="278.2" cy="464.2" r="2" fill="none" stroke="#ffffff" stroke-width="0.6"/>
<circle cx="282.9" cy="464" r="1.9" fill="none" stroke="#ffffff" stroke-width="0.6"/>
<circle cx="283.7" cy="460.4" r="3.8" fill="#ffffff" filter="url(#hb3)"/>
<circle cx="283.7" cy="460.4" r="3" fill="#30f060" filter="url(#hb3)"/>
<circle cx="283.7" cy="460.4" r="2.4" fill="#00d0ff" filter="url(#hb3)"/>
<circle cx="283.7" cy="460.4" r="1.8" fill="#0000ff"/>
<circle cx="278.1" cy="452.9" r="3" fill="#ffff60" filter="url(#hb3)"/>
<circle cx="278.1" cy="452.9" r="2.2" fill="#10f030" filter="url(#hb3)"/>
<use href="#rb2" transform="translate(321.6,458.5) scale(1.38)" fill="#00ff30" stroke="#00ff30" stroke-width="1.5" filter="url(#hb0)"/>
<use href="#rb2" transform="translate(321.6,458.5) scale(1.22)" fill="#b0ff00" filter="url(#hb1)"/>
<use href="#rb2" transform="translate(321.6,458.5) scale(1.13)" fill="#ffff80" filter="url(#hb2)"/>
<use href="#rb2" transform="translate(321.6,458.5) scale(1.075)" fill="#ffc000" filter="url(#hb3)"/>
<use href="#rb2" transform="translate(321.6,458.5) scale(1.035)" fill="#ff7000" filter="url(#hb3)"/>
<use href="#rb2" transform="translate(321.6,458.5) scale(0.995)" fill="#ff0000"/>
<use href="#rb2" transform="translate(321.6,458.5) scale(0.975)" fill="none" stroke="#fff0f0" stroke-width="0.77"/>
<path d="M331,459 C331.4,460.9 332,463.7 331.3,465.7 C330.6,467.6 328.6,469.9 326.7,470.8 C324.9,471.6 322.1,471.3 320.2,470.9 C318.3,470.4 316.6,469.3 315.1,468.2 C313.6,467.1 312.1,466 311.1,464.5 C310,462.9 309.1,460.9 308.9,459 C308.7,457 309,454.6 309.8,452.7 C310.7,450.8 312.2,448.7 313.9,447.6 C315.7,446.6 318.3,445.9 320.2,446.2 C322.1,446.4 324.2,447.9 325.6,449.2 C327,450.5 327.7,452.3 328.6,453.9 C329.5,455.5 330.5,457 331,459Z" fill="none" stroke="#ffffff" stroke-width="0.65"/>
<path d="M330.9,459.4 C330.6,461.1 329,462.7 327.9,463.9 C326.8,465.2 325.6,465.8 324.4,466.7 C323.1,467.7 321.9,469.1 320.3,469.6 C318.7,470 316.2,470.3 314.7,469.5 C313.1,468.8 311.6,466.7 311,465 C310.3,463.3 310.5,461.1 310.7,459.4 C310.9,457.6 311.5,455.9 312.3,454.5 C313.1,453.2 314.3,451.8 315.6,451 C317,450.1 318.7,449.7 320.3,449.6 C321.9,449.4 323.7,449.5 325.4,450.2 C327,450.8 329,452 330,453.5 C330.9,455 331.3,457.6 330.9,459.4Z" fill="none" stroke="#ffffff" stroke-width="0.65"/>
<path d="M331,458 C330.6,459.5 329.2,460.7 328.3,461.8 C327.4,462.9 326.7,463.8 325.7,464.7 C324.6,465.5 323.3,466.6 322,466.7 C320.7,466.9 319,466.4 317.8,465.7 C316.6,464.9 315.6,463.7 314.8,462.4 C314,461.1 313.1,459.5 313,458 C313,456.5 313.4,454.5 314.3,453.4 C315.2,452.3 317.1,451.8 318.4,451.4 C319.7,451 320.7,451.2 322,451.1 C323.3,450.9 324.8,450.1 326.2,450.4 C327.7,450.7 329.9,451.5 330.7,452.8 C331.5,454.1 331.4,456.5 331,458Z" fill="none" stroke="#ffffff" stroke-width="0.65"/>
<path d="M328.3,458.8 C328.6,459.9 329.2,461.7 328.8,462.8 C328.3,463.9 326.9,465.1 325.8,465.6 C324.7,466 323.2,465.6 322.1,465.4 C320.9,465.2 319.9,464.9 319,464.3 C318.1,463.8 317,463.1 316.5,462.2 C315.9,461.2 315.7,459.9 315.7,458.8 C315.7,457.6 316,456.5 316.5,455.4 C316.9,454.3 317.5,452.9 318.4,452.1 C319.3,451.3 320.9,450.6 322.1,450.8 C323.2,450.9 324.5,452.2 325.2,453.1 C326,454 326.1,455.1 326.6,456 C327.1,457 327.9,457.6 328.3,458.8Z" fill="none" stroke="#ffffff" stroke-width="0.65"/>
<path d="M325,458.6 C324.7,459.5 324,460.2 323.5,460.8 C323,461.5 322.6,462 321.9,462.6 C321.3,463.1 320.6,464 319.8,464.3 C318.9,464.5 317.6,464.5 316.8,464 C316.1,463.5 315.5,462.3 315.2,461.4 C314.9,460.5 315.1,459.5 315.1,458.6 C315.2,457.8 315.3,456.9 315.7,456.2 C316.1,455.4 316.7,454.7 317.3,454.2 C318,453.7 318.9,453.5 319.8,453.4 C320.6,453.3 321.6,453.4 322.5,453.8 C323.3,454.1 324.3,454.8 324.7,455.6 C325.1,456.4 325.2,457.8 325,458.6Z" fill="none" stroke="#ffffff" stroke-width="0.65"/>
<path d="M325.4,458.6 C325.4,459.1 325.3,459.9 325,460.4 C324.8,460.9 324.2,461.2 323.7,461.6 C323.2,461.9 322.7,462.2 322.1,462.3 C321.5,462.4 320.6,462.5 320.1,462.2 C319.5,461.9 319,461.1 318.9,460.5 C318.7,459.9 319.1,459.1 319.2,458.6 C319.3,458 319.5,457.7 319.6,457.1 C319.8,456.5 319.8,455.7 320.2,455.2 C320.6,454.8 321.5,454.3 322.1,454.3 C322.7,454.3 323.4,454.9 323.9,455.3 C324.3,455.8 324.5,456.4 324.8,456.9 C325,457.5 325.3,458 325.4,458.6Z" fill="none" stroke="#ffffff" stroke-width="0.65"/>
<circle cx="326.7" cy="453.4" r="2" fill="none" stroke="#ffffff" stroke-width="0.6"/>
<circle cx="322.3" cy="463.8" r="2.6" fill="none" stroke="#ffffff" stroke-width="0.6"/>
<circle cx="319.1" cy="452" r="2.1" fill="none" stroke="#ffffff" stroke-width="0.6"/>
<circle cx="316.2" cy="458.5" r="2.2" fill="none" stroke="#ffffff" stroke-width="0.6"/>
<circle cx="318.4" cy="460.8" r="3.8" fill="#ffffff" filter="url(#hb3)"/>
<circle cx="318.4" cy="460.8" r="3" fill="#30f060" filter="url(#hb3)"/>
<circle cx="318.4" cy="460.8" r="2.4" fill="#00d0ff" filter="url(#hb3)"/>
<circle cx="318.4" cy="460.8" r="1.8" fill="#0000ff"/>
<circle cx="325.1" cy="453.7" r="3" fill="#ffff60" filter="url(#hb3)"/>
<circle cx="325.1" cy="453.7" r="2.2" fill="#10f030" filter="url(#hb3)"/>
<use href="#rb3" transform="translate(281.3,499.3) scale(1.38)" fill="#00ff30" stroke="#00ff30" stroke-width="1.5" filter="url(#hb0)"/>
<use href="#rb3" transform="translate(281.3,499.3) scale(1.22)" fill="#b0ff00" filter="url(#hb1)"/>
<use href="#rb3" transform="translate(281.3,499.3) scale(1.13)" fill="#ffff80" filter="url(#hb2)"/>
<use href="#rb3" transform="translate(281.3,499.3) scale(1.075)" fill="#ffc000" filter="url(#hb3)"/>
<use href="#rb3" transform="translate(281.3,499.3) scale(1.035)" fill="#ff7000" filter="url(#hb3)"/>
<use href="#rb3" transform="translate(281.3,499.3) scale(0.995)" fill="#ff0000"/>
<use href="#rb3" transform="translate(281.3,499.3) scale(0.975)" fill="none" stroke="#fff0f0" stroke-width="0.77"/>
<path d="M296,499.1 C295.9,501.3 294.7,503.6 293.5,505.3 C292.3,507 290.5,508.4 288.8,509.2 C287.1,510 285,510.4 283.2,510.3 C281.4,510.2 279.6,509.5 277.9,508.6 C276.2,507.8 274.4,506.8 273.1,505.2 C271.8,503.6 270.2,501.3 270,499.1 C269.8,497 270.7,494 272,492.4 C273.3,490.8 276,490 277.8,489.4 C279.7,488.9 281.4,489.1 283.2,489.1 C285,489 286.9,488.6 288.7,489.2 C290.6,489.8 293,490.9 294.2,492.5 C295.4,494.2 296.1,497 296,499.1Z" fill="none" stroke="#ffffff" stroke-width="0.65"/>
<path d="M291.9,500.2 C291.4,501.9 289.9,503 289,504.3 C288.1,505.7 287.8,507.1 286.7,508.4 C285.6,509.6 283.9,511.7 282.2,512.1 C280.5,512.4 277.9,511.7 276.4,510.5 C275,509.4 274.3,507 273.7,505.3 C273.1,503.6 273,501.9 273,500.2 C273,498.6 273,496.7 273.8,495.2 C274.5,493.8 276,492.5 277.4,491.6 C278.8,490.8 280.5,490.5 282.2,490.3 C283.9,490.1 286,489.8 287.6,490.4 C289.3,491.1 291.5,492.6 292.2,494.2 C292.9,495.9 292.5,498.6 291.9,500.2Z" fill="none" stroke="#ffffff" stroke-width="0.65"/>
<path d="M287.9,497.6 C287.8,499 287.6,500.5 287,501.7 C286.3,502.9 285.3,504.2 284.2,504.9 C283.1,505.6 281.6,505.9 280.2,506 C278.8,506.1 277.1,506.1 275.8,505.5 C274.4,504.9 272.6,503.9 271.9,502.6 C271.1,501.3 271.1,499 271.4,497.6 C271.8,496.2 273.2,495 274.1,494 C274.9,492.9 275.6,492.2 276.6,491.3 C277.6,490.3 278.8,488.8 280.2,488.4 C281.6,488 283.8,488 285.1,488.8 C286.3,489.6 287.3,491.6 287.7,493.1 C288.2,494.5 288,496.2 287.9,497.6Z" fill="none" stroke="#ffffff" stroke-width="0.65"/>
<path d="M287.2,497.8 C287.2,498.9 287.5,499.9 287.2,501.1 C286.9,502.2 286.3,503.7 285.4,504.5 C284.5,505.2 282.9,505.6 281.7,505.5 C280.5,505.4 279.3,504.6 278.3,503.9 C277.3,503.2 276.5,502.2 276,501.2 C275.5,500.2 275.2,498.9 275.3,497.8 C275.3,496.7 275.9,495.6 276.4,494.6 C277,493.7 277.6,492.7 278.5,492 C279.3,491.2 280.5,490.1 281.7,489.9 C282.9,489.7 284.7,490 285.6,490.8 C286.5,491.6 287,493.3 287.3,494.5 C287.5,495.6 287.2,496.7 287.2,497.8Z" fill="none" stroke="#ffffff" stroke-width="0.65"/>
<path d="M286.3,500.9 C286.6,501.7 286.6,503.2 286.1,504 C285.6,504.8 284.4,505.4 283.5,505.6 C282.6,505.9 281.7,505.8 280.8,505.7 C280,505.7 279.1,505.6 278.4,505.2 C277.7,504.9 276.9,504.2 276.5,503.5 C276.1,502.7 276,501.7 276,500.9 C275.9,500 275.9,499 276.2,498.1 C276.6,497.2 277.1,496 277.9,495.5 C278.6,495 280,494.9 280.8,495.2 C281.7,495.4 282.4,496.4 283,497 C283.6,497.6 283.9,498 284.5,498.7 C285.1,499.3 286,500 286.3,500.9Z" fill="none" stroke="#ffffff" stroke-width="0.65"/>
<path d="M286,497.8 C285.9,498.4 285.5,498.7 285.2,499.2 C285,499.7 284.9,500.3 284.5,500.8 C284.1,501.3 283.4,502 282.8,502.1 C282.2,502.1 281.3,501.8 280.8,501.3 C280.3,500.9 280.1,500.1 279.9,499.5 C279.7,498.9 279.7,498.4 279.7,497.8 C279.6,497.2 279.6,496.5 279.8,496 C280.1,495.5 280.6,495 281,494.6 C281.5,494.3 282.2,494.2 282.8,494.1 C283.4,494.1 284.2,494 284.7,494.3 C285.3,494.6 285.9,495.2 286.1,495.8 C286.4,496.3 286.2,497.2 286,497.8Z" fill="none" stroke="#ffffff" stroke-width="0.65"/>
<circle cx="286.1" cy="502.1" r="2.6" fill="none" stroke="#ffffff" stroke-width="0.6"/>
<circle cx="286.7" cy="500.2" r="1.6" fill="none" stroke="#ffffff" stroke-width="0.6"/>
<circle cx="285.8" cy="504.1" r="1.7" fill="none" stroke="#ffffff" stroke-width="0.6"/>
<circle cx="275.2" cy="503.3" r="2.4" fill="none" stroke="#ffffff" stroke-width="0.6"/>
<circle cx="281" cy="497.5" r="2.6" fill="#ffffff" filter="url(#hb3)"/>
<circle cx="282.9" cy="497.5" r="3" fill="#ffff60" filter="url(#hb3)"/>
<circle cx="282.9" cy="497.5" r="2.2" fill="#10f030" filter="url(#hb3)"/>
<use href="#rb4" transform="translate(321.6,499.3) scale(1.38)" fill="#00ff30" stroke="#00ff30" stroke-width="1.5" filter="url(#hb0)"/>
<use href="#rb4" transform="translate(321.6,499.3) scale(1.22)" fill="#b0ff00" filter="url(#hb1)"/>
<use href="#rb4" transform="translate(321.6,499.3) scale(1.13)" fill="#ffff80" filter="url(#hb2)"/>
<use href="#rb4" transform="translate(321.6,499.3) scale(1.075)" fill="#ffc000" filter="url(#hb3)"/>
<use href="#rb4" transform="translate(321.6,499.3) scale(1.035)" fill="#ff7000" filter="url(#hb3)"/>
<use href="#rb4" transform="translate(321.6,499.3) scale(0.995)" fill="#ff0000"/>
<use href="#rb4" transform="translate(321.6,499.3) scale(0.975)" fill="none" stroke="#fff0f0" stroke-width="0.77"/>
<path d="M336.9,500.8 C337.2,502.9 336.4,506.1 335,507.7 C333.6,509.3 330.6,509.8 328.7,510.2 C326.8,510.7 325.3,510.3 323.4,510.4 C321.6,510.5 319.7,511.4 317.8,510.9 C315.9,510.5 313.2,509.3 312,507.6 C310.9,505.9 310.7,502.9 310.9,500.8 C311.2,498.7 312.4,496.6 313.5,494.8 C314.6,493.1 316,491.4 317.7,490.4 C319.3,489.5 321.6,489 323.4,489.2 C325.3,489.4 327,490.6 328.6,491.5 C330.2,492.5 331.8,493.4 333.2,495 C334.6,496.5 336.6,498.7 336.9,500.8Z" fill="none" stroke="#ffffff" stroke-width="0.65"/>
<path d="M332.6,498.2 C332,500 330.6,501.1 329.7,502.5 C328.8,503.9 328.3,505.3 327.1,506.4 C325.9,507.5 324.2,508.9 322.5,509.2 C320.9,509.4 318.8,508.6 317.3,507.6 C315.8,506.7 314.6,505.1 313.7,503.5 C312.8,501.9 311.9,500 311.9,498.2 C311.9,496.5 312.7,494.3 313.8,493 C314.9,491.7 316.8,491.2 318.3,490.6 C319.7,489.9 320.9,489.6 322.5,489.2 C324.2,488.8 326.3,487.8 328.1,488.2 C329.8,488.7 332.2,490.3 333,491.9 C333.7,493.6 333.1,496.5 332.6,498.2Z" fill="none" stroke="#ffffff" stroke-width="0.65"/>
<path d="M329.8,500.2 C329.8,501.7 329.5,503.6 328.8,504.9 C328,506.2 326.6,507.5 325.3,508 C324,508.5 322.2,508.3 320.9,508 C319.6,507.8 318.6,507.1 317.4,506.5 C316.2,505.9 314.7,505.5 313.7,504.5 C312.7,503.4 311.3,501.7 311.2,500.2 C311,498.6 311.9,496.5 312.9,495.3 C313.8,494.2 315.7,493.6 317,493.1 C318.4,492.7 319.6,492.6 320.9,492.5 C322.2,492.5 323.7,492.4 324.9,493 C326.2,493.5 327.5,494.5 328.4,495.7 C329.2,496.9 329.7,498.6 329.8,500.2Z" fill="none" stroke="#ffffff" stroke-width="0.65"/>
<path d="M329.9,497.4 C329.8,498.6 329.4,500 328.7,500.9 C328.1,501.8 326.9,502.5 326,503 C325,503.4 323.9,503.4 322.8,503.5 C321.7,503.6 320.6,503.7 319.5,503.4 C318.4,503 316.8,502.4 316.1,501.4 C315.3,500.4 315,498.6 315.2,497.4 C315.5,496.2 316.6,495 317.4,494.1 C318.2,493.3 319.1,492.8 320,492.3 C320.9,491.7 321.7,490.9 322.8,490.7 C323.9,490.4 325.4,490.4 326.5,490.9 C327.5,491.3 328.5,492.5 329.1,493.6 C329.7,494.7 329.9,496.2 329.9,497.4Z" fill="none" stroke="#ffffff" stroke-width="0.65"/>
<path d="M326.1,500.9 C326.3,501.8 326,503.2 325.4,504 C324.9,504.7 323.6,505.1 322.8,505.4 C321.9,505.7 321.1,505.7 320.3,505.7 C319.4,505.7 318.5,505.7 317.8,505.3 C317.1,504.9 316.4,504.2 315.9,503.5 C315.5,502.7 315.4,501.8 315.3,500.9 C315.2,500 315.1,498.9 315.5,498 C315.8,497.1 316.5,496 317.3,495.6 C318.1,495.2 319.4,495.4 320.3,495.7 C321.1,495.9 321.6,496.7 322.3,497.2 C323,497.7 323.6,497.9 324.3,498.5 C324.9,499.1 325.9,500 326.1,500.9Z" fill="none" stroke="#ffffff" stroke-width="0.65"/>
<path d="M324.1,499.9 C324.1,500.6 323.5,501.3 323.1,501.8 C322.7,502.3 322.2,502.6 321.7,502.9 C321.2,503.1 320.6,503.4 320.1,503.4 C319.5,503.4 318.9,503.2 318.4,502.9 C317.9,502.6 317.5,502.2 317.2,501.7 C316.8,501.2 316.4,500.6 316.3,499.9 C316.2,499.3 316.2,498.3 316.6,497.8 C316.9,497.3 317.7,496.9 318.3,496.8 C318.9,496.6 319.5,496.9 320.1,497 C320.6,497 321.1,497 321.6,497.1 C322.2,497.3 323,497.4 323.4,497.9 C323.8,498.4 324.1,499.3 324.1,499.9Z" fill="none" stroke="#ffffff" stroke-width="0.65"/>
<circle cx="318.3" cy="505.6" r="2.6" fill="none" stroke="#ffffff" stroke-width="0.6"/>
<circle cx="316.3" cy="496.2" r="1.9" fill="none" stroke="#ffffff" stroke-width="0.6"/>
<circle cx="316.6" cy="494.4" r="2" fill="none" stroke="#ffffff" stroke-width="0.6"/>
<circle cx="315.2" cy="500.7" r="1.8" fill="none" stroke="#ffffff" stroke-width="0.6"/>
<circle cx="317.9" cy="498" r="3.8" fill="#ffffff" filter="url(#hb3)"/>
<circle cx="317.9" cy="498" r="3" fill="#30f060" filter="url(#hb3)"/>
<circle cx="317.9" cy="498" r="2.4" fill="#00d0ff" filter="url(#hb3)"/>
<circle cx="317.9" cy="498" r="1.8" fill="#0000ff"/>
<circle cx="323.5" cy="505.4" r="3" fill="#ffff60" filter="url(#hb3)"/>
<circle cx="323.5" cy="505.4" r="2.2" fill="#10f030" filter="url(#hb3)"/>
<use href="#rb5" transform="translate(281.3,543.9) scale(1.38)" fill="#00ff30" stroke="#00ff30" stroke-width="1.5" filter="url(#hb0)"/>
<use href="#rb5" transform="translate(281.3,543.9) scale(1.22)" fill="#b0ff00" filter="url(#hb1)"/>
<use href="#rb5" transform="translate(281.3,543.9) scale(1.13)" fill="#ffff80" filter="url(#hb2)"/>
<use href="#rb5" transform="translate(281.3,543.9) scale(1.075)" fill="#ffc000" filter="url(#hb3)"/>
<use href="#rb5" transform="translate(281.3,543.9) scale(1.035)" fill="#ff7000" filter="url(#hb3)"/>
<use href="#rb5" transform="translate(281.3,543.9) scale(0.995)" fill="#ff0000"/>
<use href="#rb5" transform="translate(281.3,543.9) scale(0.975)" fill="none" stroke="#fff0f0" stroke-width="0.77"/>
<path d="M293,543.3 C292.7,545.2 292.5,546.8 291.9,548.6 C291.2,550.4 290.4,552.7 288.9,554 C287.4,555.3 284.9,556.3 282.8,556.4 C280.8,556.4 278.3,555.4 276.6,554.3 C274.8,553.1 273.1,551.3 272.2,549.5 C271.3,547.7 271,545.2 271.2,543.3 C271.4,541.4 272.7,539.5 273.7,538 C274.7,536.4 275.9,535.1 277.4,533.9 C279,532.6 280.8,530.8 282.8,530.3 C284.9,529.8 288,529.9 289.8,531 C291.6,532.1 292.9,535 293.5,537.1 C294,539.1 293.2,541.4 293,543.3Z" fill="none" stroke="#ffffff" stroke-width="0.65"/>
<path d="M292.2,545.7 C291.7,547.4 290.9,548.8 290.1,550.2 C289.3,551.6 288.6,553.3 287.4,554.3 C286.1,555.3 284.1,556.2 282.5,556.3 C280.8,556.4 278.8,555.7 277.2,554.9 C275.7,554.1 273.9,552.8 273,551.3 C272,549.7 271.1,547.4 271.3,545.7 C271.5,544 272.9,542 274.1,540.8 C275.3,539.6 276.9,539.2 278.3,538.4 C279.7,537.6 280.8,536.5 282.5,535.9 C284.1,535.4 286.7,534.6 288.4,535.3 C290.1,535.9 292,538 292.6,539.7 C293.3,541.5 292.6,544 292.2,545.7Z" fill="none" stroke="#ffffff" stroke-width="0.65"/>
<path d="M287.7,545 C287.6,546.3 287.7,547.6 287.3,548.9 C286.9,550.3 286.2,552.1 285.1,553 C284,553.9 282.1,554.5 280.5,554.5 C279,554.4 277.3,553.6 276.1,552.8 C274.9,551.9 273.7,550.6 273.1,549.3 C272.5,548 272.2,546.3 272.4,545 C272.5,543.6 273.3,542.3 274,541.1 C274.7,539.9 275.4,538.8 276.5,537.9 C277.6,536.9 279,535.5 280.5,535.2 C282.1,535 284.3,535.3 285.5,536.2 C286.7,537.2 287.4,539.3 287.8,540.7 C288.2,542.2 287.7,543.6 287.7,545Z" fill="none" stroke="#ffffff" stroke-width="0.65"/>
<path d="M287.1,542.6 C287.2,543.7 286.9,544.9 286.4,545.9 C285.9,546.9 285,547.9 284.1,548.6 C283.1,549.3 281.9,550.1 280.6,550.2 C279.4,550.3 277.7,550.1 276.8,549.4 C275.8,548.6 275.2,547.1 274.9,545.9 C274.6,544.8 274.9,543.7 275,542.6 C275,541.5 274.9,540.5 275.2,539.4 C275.5,538.2 275.9,536.6 276.8,535.8 C277.7,535 279.4,534.4 280.6,534.5 C281.9,534.7 283.2,535.7 284.1,536.5 C285,537.3 285.6,538.3 286.1,539.3 C286.6,540.4 287.1,541.5 287.1,542.6Z" fill="none" stroke="#ffffff" stroke-width="0.65"/>
<path d="M285.4,544.9 C285.2,545.8 284.8,546.4 284.4,547.1 C284.1,547.9 283.9,548.8 283.3,549.4 C282.6,550 281.6,550.7 280.7,550.8 C279.8,550.9 278.6,550.4 277.9,549.9 C277.1,549.3 276.5,548.4 276.1,547.6 C275.7,546.8 275.4,545.8 275.5,544.9 C275.5,544 276,543.1 276.4,542.4 C276.9,541.7 277.7,541.3 278.4,540.8 C279.1,540.3 279.8,539.8 280.7,539.6 C281.6,539.4 282.9,539.2 283.7,539.5 C284.6,539.9 285.5,541 285.8,541.9 C286.1,542.8 285.7,544 285.4,544.9Z" fill="none" stroke="#ffffff" stroke-width="0.65"/>
<path d="M283.4,544.5 C283.3,545.2 283.2,545.8 282.9,546.3 C282.6,546.8 282.1,547.2 281.6,547.5 C281.1,547.8 280.5,547.8 279.9,547.9 C279.3,547.9 278.7,548 278,547.8 C277.4,547.6 276.6,547.2 276.2,546.7 C275.9,546.1 275.8,545.2 276,544.5 C276.1,543.9 276.8,543.4 277.2,543 C277.6,542.5 278,542.3 278.4,541.9 C278.9,541.6 279.3,541 279.9,540.8 C280.5,540.6 281.4,540.6 281.9,540.9 C282.5,541.2 282.9,542 283.2,542.6 C283.4,543.2 283.4,543.9 283.4,544.5Z" fill="none" stroke="#ffffff" stroke-width="0.65"/>
<circle cx="278.1" cy="548.3" r="2.1" fill="none" stroke="#ffffff" stroke-width="0.6"/>
<circle cx="276.5" cy="548.2" r="2.6" fill="none" stroke="#ffffff" stroke-width="0.6"/>
<circle cx="286.2" cy="541.2" r="2.8" fill="none" stroke="#ffffff" stroke-width="0.6"/>
<circle cx="275.1" cy="538.6" r="2.6" fill="none" stroke="#ffffff" stroke-width="0.6"/>
<circle cx="283.4" cy="543.7" r="3" fill="#ffff60" filter="url(#hb3)"/>
<circle cx="283.4" cy="543.7" r="2.2" fill="#10f030" filter="url(#hb3)"/>
<use href="#rb6" transform="translate(323.5,544.5) scale(1.38)" fill="#00ff30" stroke="#00ff30" stroke-width="1.5" filter="url(#hb0)"/>
<use href="#rb6" transform="translate(323.5,544.5) scale(1.22)" fill="#b0ff00" filter="url(#hb1)"/>
<use href="#rb6" transform="translate(323.5,544.5) scale(1.13)" fill="#ffff80" filter="url(#hb2)"/>
<use href="#rb6" transform="translate(323.5,544.5) scale(1.075)" fill="#ffc000" filter="url(#hb3)"/>
<use href="#rb6" transform="translate(323.5,544.5) scale(1.035)" fill="#ff7000" filter="url(#hb3)"/>
<use href="#rb6" transform="translate(323.5,544.5) scale(0.995)" fill="#ff0000"/>
<use href="#rb6" transform="translate(323.5,544.5) scale(0.975)" fill="none" stroke="#fff0f0" stroke-width="0.77"/>
<path d="M334.2,546.1 C334.4,548 335.1,550.1 334.6,552.1 C334.1,554.1 332.8,556.8 331.1,558 C329.4,559.2 326.4,559.4 324.3,559.2 C322.3,558.9 320.2,557.5 318.6,556.3 C316.9,555 315.5,553.5 314.6,551.8 C313.7,550.1 313.2,548 313.2,546.1 C313.2,544.2 313.9,542.2 314.7,540.5 C315.5,538.7 316.6,536.7 318.2,535.4 C319.8,534 322.3,532.4 324.3,532.3 C326.4,532.2 329.3,533.4 330.8,534.8 C332.3,536.2 332.9,538.9 333.4,540.8 C334,542.7 334,544.2 334.2,546.1Z" fill="none" stroke="#ffffff" stroke-width="0.65"/>
<path d="M332.2,546.3 C332.1,548.1 331.6,550.1 330.6,551.6 C329.7,553.1 328.2,554.7 326.7,555.3 C325.2,556 323.2,555.9 321.6,555.7 C320,555.5 318.7,554.7 317.1,554.1 C315.6,553.4 313.7,552.9 312.4,551.6 C311.1,550.3 309.4,548.1 309.4,546.3 C309.3,544.4 310.7,542 312,540.7 C313.3,539.4 315.6,539.1 317.2,538.6 C318.8,538 320,537.7 321.6,537.4 C323.2,537.2 325.2,536.6 326.8,537.1 C328.4,537.6 330.3,539.1 331.2,540.6 C332.1,542.1 332.3,544.4 332.2,546.3Z" fill="none" stroke="#ffffff" stroke-width="0.65"/>
<path d="M332.3,542.7 C332.4,544.1 332.8,545.7 332.4,547.2 C331.9,548.6 331.1,550.7 329.8,551.6 C328.6,552.4 326.3,552.6 324.8,552.3 C323.3,551.9 322,550.4 321,549.4 C319.9,548.4 319.3,547.5 318.5,546.4 C317.7,545.3 316.6,544.1 316.3,542.7 C316,541.3 316.1,539.4 316.8,538 C317.4,536.7 318.9,535.5 320.2,534.7 C321.6,534 323.3,533.7 324.8,533.7 C326.3,533.8 328,534.3 329.1,535.2 C330.2,536 331,537.5 331.5,538.8 C332.1,540 332.1,541.3 332.3,542.7Z" fill="none" stroke="#ffffff" stroke-width="0.65"/>
<path d="M330.4,545.7 C330.3,546.8 330.3,547.7 329.9,548.8 C329.6,549.8 329.3,551.4 328.4,552.2 C327.5,553 325.9,553.5 324.7,553.5 C323.5,553.5 322.2,552.7 321.2,552 C320.2,551.3 319.3,550.2 318.8,549.2 C318.2,548.2 317.9,546.8 318,545.7 C318,544.6 318.7,543.5 319.3,542.5 C319.9,541.6 320.7,540.9 321.6,540.2 C322.5,539.5 323.5,538.5 324.7,538.2 C325.9,537.9 327.8,537.9 328.8,538.5 C329.9,539.2 330.6,540.9 330.9,542.1 C331.2,543.3 330.6,544.6 330.4,545.7Z" fill="none" stroke="#ffffff" stroke-width="0.65"/>
<path d="M327.2,546.4 C327,547.3 326.4,547.8 326,548.6 C325.6,549.3 325.3,550.1 324.7,550.7 C324.1,551.3 323.1,552.1 322.3,552.2 C321.4,552.3 320.2,551.9 319.4,551.4 C318.6,550.9 318,549.9 317.6,549.1 C317.2,548.3 316.9,547.3 317,546.4 C317,545.5 317.4,544.5 317.9,543.8 C318.4,543.2 319.2,542.8 319.9,542.3 C320.7,541.9 321.4,541.5 322.3,541.3 C323.1,541.1 324.4,540.8 325.2,541.1 C326.1,541.5 327.2,542.4 327.5,543.3 C327.8,544.2 327.5,545.5 327.2,546.4Z" fill="none" stroke="#ffffff" stroke-width="0.65"/>
<path d="M327.1,544.3 C327,544.9 326.4,545.7 326,546.1 C325.6,546.5 324.9,546.6 324.4,546.9 C323.9,547.1 323.5,547.4 323,547.6 C322.4,547.7 321.6,548 321,547.8 C320.4,547.6 319.7,546.9 319.4,546.4 C319.2,545.8 319.2,544.9 319.3,544.3 C319.4,543.7 319.7,543.1 320,542.6 C320.3,542.1 320.8,541.6 321.3,541.3 C321.7,541 322.4,540.9 323,540.9 C323.5,540.9 324.1,541 324.7,541.2 C325.3,541.5 326,541.8 326.4,542.3 C326.8,542.8 327.1,543.7 327.1,544.3Z" fill="none" stroke="#ffffff" stroke-width="0.65"/>
<circle cx="319.4" cy="538.5" r="2.5" fill="none" stroke="#ffffff" stroke-width="0.6"/>
<circle cx="322.4" cy="551" r="1.7" fill="none" stroke="#ffffff" stroke-width="0.6"/>
<circle cx="322.5" cy="551" r="1.6" fill="none" stroke="#ffffff" stroke-width="0.6"/>
<circle cx="319.1" cy="550.8" r="1.7" fill="none" stroke="#ffffff" stroke-width="0.6"/>
<circle cx="323.5" cy="544.5" r="1.6" fill="#ffffff" filter="url(#hb3)"/>
<use href="#rb7" transform="translate(281.3,591.6) scale(1.38)" fill="#00ff30" stroke="#00ff30" stroke-width="1.5" filter="url(#hb0)"/>
<use href="#rb7" transform="translate(281.3,591.6) scale(1.22)" fill="#b0ff00" filter="url(#hb1)"/>
<use href="#rb7" transform="translate(281.3,591.6) scale(1.13)" fill="#ffff80" filter="url(#hb2)"/>
<use href="#rb7" transform="translate(281.3,591.6) scale(1.075)" fill="#ffc000" filter="url(#hb3)"/>
<use href="#rb7" transform="translate(281.3,591.6) scale(1.035)" fill="#ff7000" filter="url(#hb3)"/>
<use href="#rb7" transform="translate(281.3,591.6) scale(0.995)" fill="#ff0000"/>
<use href="#rb7" transform="translate(281.3,591.6) scale(0.975)" fill="none" stroke="#fff0f0" stroke-width="0.77"/>
<path d="M293.6,591.9 C293.5,594 291.8,596.6 290.4,598 C289,599.5 286.8,599.9 285.1,600.6 C283.4,601.4 282.1,602.1 280.3,602.5 C278.5,602.8 276.1,603.5 274.3,602.8 C272.4,602.2 270.3,600.4 269.3,598.6 C268.3,596.8 268.1,594 268.3,591.9 C268.5,589.8 269.3,587.6 270.4,586 C271.5,584.3 273.2,582.8 274.8,582 C276.4,581.2 278.5,581.1 280.3,581.1 C282.1,581.2 283.8,581.5 285.6,582.3 C287.4,583 289.7,583.8 291.1,585.4 C292.4,587 293.7,589.8 293.6,591.9Z" fill="none" stroke="#ffffff" stroke-width="0.65"/>
<path d="M293.1,592.2 C293.4,594 293.5,596.4 292.8,598 C292,599.7 290.2,601.5 288.6,602.1 C287,602.7 284.8,602.1 283.2,601.7 C281.6,601.2 280.5,600.3 279.2,599.5 C277.8,598.8 276.2,598.4 275,597.2 C273.8,596 272.2,594 272,592.2 C271.8,590.5 272.7,588 273.7,586.5 C274.8,585.1 276.8,584.2 278.4,583.5 C279.9,582.9 281.6,582.6 283.2,582.6 C284.8,582.7 286.5,583 287.8,583.8 C289.2,584.6 290.4,586 291.3,587.4 C292.1,588.8 292.9,590.5 293.1,592.2Z" fill="none" stroke="#ffffff" stroke-width="0.65"/>
<path d="M289.7,590.8 C289.7,592.3 289.4,594 288.7,595.4 C288,596.7 286.9,598.3 285.7,598.9 C284.4,599.5 282.5,599.4 281.2,599 C279.9,598.7 279,597.6 277.8,597 C276.7,596.3 275.6,595.9 274.5,594.9 C273.4,593.9 271.8,592.3 271.5,590.8 C271.3,589.3 272,587 272.9,585.8 C273.9,584.7 276,584.3 277.4,583.9 C278.8,583.5 279.9,583.6 281.2,583.6 C282.5,583.5 284,583.1 285.2,583.6 C286.5,584 288,585.1 288.8,586.3 C289.5,587.5 289.7,589.3 289.7,590.8Z" fill="none" stroke="#ffffff" stroke-width="0.65"/>
<path d="M287.5,593.6 C287.8,594.8 287.5,596.8 286.7,597.7 C286,598.7 284.2,599.2 283.1,599.5 C281.9,599.7 280.9,599.5 279.9,599.5 C278.8,599.4 277.7,599.7 276.7,599.3 C275.7,598.9 274.5,598.1 273.9,597.2 C273.3,596.2 273.1,594.8 273.1,593.6 C273.1,592.4 273.3,591.1 273.9,590 C274.4,588.9 275.2,587.5 276.2,586.9 C277.2,586.4 278.8,586.4 279.9,586.7 C280.9,586.9 281.7,588 282.6,588.7 C283.4,589.3 284.1,589.7 284.9,590.5 C285.8,591.3 287.2,592.4 287.5,593.6Z" fill="none" stroke="#ffffff" stroke-width="0.65"/>
<path d="M286.7,590.6 C286.6,591.5 286.4,592.1 286.1,592.9 C285.8,593.6 285.5,594.7 284.9,595.2 C284.2,595.8 283.2,596.2 282.3,596.2 C281.5,596.2 280.5,595.8 279.7,595.3 C278.9,594.8 278.1,594.2 277.7,593.4 C277.2,592.6 276.9,591.5 277,590.6 C277.1,589.7 277.8,588.8 278.3,588.2 C278.9,587.6 279.6,587.3 280.2,586.8 C280.9,586.3 281.5,585.5 282.3,585.3 C283.2,585 284.6,584.7 285.4,585.1 C286.2,585.5 286.9,586.8 287.2,587.7 C287.4,588.6 286.9,589.7 286.7,590.6Z" fill="none" stroke="#ffffff" stroke-width="0.65"/>
<path d="M284.9,592.4 C285,593 284.9,593.7 284.6,594.2 C284.3,594.7 283.8,595.1 283.3,595.4 C282.8,595.7 282.3,595.9 281.7,596 C281.1,596.1 280.3,596.3 279.7,596 C279.1,595.7 278.5,595 278.3,594.4 C278.2,593.9 278.5,593 278.6,592.4 C278.8,591.9 279.1,591.5 279.3,591 C279.5,590.5 279.5,589.7 279.9,589.3 C280.3,588.8 281.1,588.2 281.7,588.1 C282.3,588.1 283.1,588.6 283.5,589 C284,589.5 284.2,590.2 284.5,590.8 C284.7,591.3 284.9,591.9 284.9,592.4Z" fill="none" stroke="#ffffff" stroke-width="0.65"/>
<circle cx="285.9" cy="588.4" r="1.9" fill="none" stroke="#ffffff" stroke-width="0.6"/>
<circle cx="283.8" cy="598" r="2.7" fill="none" stroke="#ffffff" stroke-width="0.6"/>
<circle cx="280.8" cy="586.3" r="2" fill="none" stroke="#ffffff" stroke-width="0.6"/>
<circle cx="285.9" cy="594.1" r="2.1" fill="none" stroke="#ffffff" stroke-width="0.6"/>
<circle cx="283.7" cy="593.4" r="3.8" fill="#ffffff" filter="url(#hb3)"/>
<circle cx="283.7" cy="593.4" r="3" fill="#30f060" filter="url(#hb3)"/>
<circle cx="283.7" cy="593.4" r="2.4" fill="#00d0ff" filter="url(#hb3)"/>
<circle cx="283.7" cy="593.4" r="1.8" fill="#0000ff"/>
<circle cx="278.1" cy="585.1" r="3" fill="#ffff60" filter="url(#hb3)"/>
<circle cx="278.1" cy="585.1" r="2.2" fill="#10f030" filter="url(#hb3)"/>
<use href="#rb8" transform="translate(321.6,591.6) scale(1.38)" fill="#00ff30" stroke="#00ff30" stroke-width="1.5" filter="url(#hb0)"/>
<use href="#rb8" transform="translate(321.6,591.6) scale(1.22)" fill="#b0ff00" filter="url(#hb1)"/>
<use href="#rb8" transform="translate(321.6,591.6) scale(1.13)" fill="#ffff80" filter="url(#hb2)"/>
<use href="#rb8" transform="translate(321.6,591.6) scale(1.075)" fill="#ffc000" filter="url(#hb3)"/>
<use href="#rb8" transform="translate(321.6,591.6) scale(1.035)" fill="#ff7000" filter="url(#hb3)"/>
<use href="#rb8" transform="translate(321.6,591.6) scale(0.995)" fill="#ff0000"/>
<use href="#rb8" transform="translate(321.6,591.6) scale(0.975)" fill="none" stroke="#fff0f0" stroke-width="0.77"/>
<path d="M332.7,592.9 C332.9,595 332.3,597.8 331.2,599.5 C330,601.2 327.5,602.4 325.7,602.9 C323.8,603.5 321.9,603 320.1,602.9 C318.3,602.8 316.7,602.9 314.9,602.3 C313.1,601.7 310.7,600.9 309.4,599.3 C308.1,597.8 307,595 307.1,592.9 C307.2,590.8 308.6,588.3 309.9,586.7 C311.1,585.1 313,583.9 314.8,583.1 C316.5,582.3 318.3,581.9 320.1,581.9 C321.9,581.8 323.9,582.3 325.5,583.1 C327.2,583.9 328.9,585.2 330.1,586.9 C331.3,588.5 332.5,590.8 332.7,592.9Z" fill="none" stroke="#ffffff" stroke-width="0.65"/>
<path d="M332.8,591.1 C333.4,592.8 334,595.6 333.3,597.3 C332.6,598.9 330.2,600.4 328.6,601 C326.9,601.5 324.8,600.9 323.1,600.7 C321.5,600.4 320,600.1 318.6,599.3 C317.2,598.6 315.5,597.6 314.7,596.2 C313.9,594.8 313.6,592.8 313.6,591.1 C313.6,589.4 314.1,587.7 314.7,586.1 C315.4,584.4 316.2,582.2 317.6,581.1 C319,580 321.5,579.2 323.1,579.5 C324.8,579.9 326.4,581.8 327.6,583.1 C328.7,584.4 328.9,585.8 329.8,587.1 C330.7,588.4 332.2,589.4 332.8,591.1Z" fill="none" stroke="#ffffff" stroke-width="0.65"/>
<path d="M329.1,590.4 C329.4,591.8 329.2,593.8 328.6,595.1 C327.9,596.5 326.4,597.7 325.1,598.4 C323.8,599 322.1,599.3 320.7,599.1 C319.3,599 317.8,598.4 316.7,597.6 C315.7,596.8 314.9,595.5 314.3,594.3 C313.7,593.1 313.3,591.8 313.1,590.4 C312.9,589 312.6,587.2 313.1,585.8 C313.5,584.3 314.6,582.4 315.9,581.7 C317.2,581 319.3,581 320.7,581.3 C322.1,581.7 323.3,583 324.3,583.9 C325.3,584.8 326.1,585.6 326.9,586.6 C327.7,587.7 328.8,589 329.1,590.4Z" fill="none" stroke="#ffffff" stroke-width="0.65"/>
<path d="M326.8,590.5 C326.6,591.6 325.6,592.6 324.9,593.5 C324.3,594.3 323.6,594.8 322.7,595.6 C321.9,596.3 321.1,597.4 319.9,597.7 C318.8,598.1 317,598.2 316,597.6 C314.9,597 314.1,595.4 313.8,594.2 C313.4,593 313.8,591.6 314,590.5 C314.2,589.3 314.3,588.3 314.8,587.3 C315.2,586.4 315.8,585.2 316.6,584.5 C317.5,583.8 318.8,583.4 319.9,583.4 C321.1,583.3 322.3,583.6 323.4,584.2 C324.4,584.7 325.7,585.6 326.2,586.7 C326.8,587.7 327,589.3 326.8,590.5Z" fill="none" stroke="#ffffff" stroke-width="0.65"/>
<path d="M325.9,593 C325.9,593.9 325.5,595.1 325,595.8 C324.5,596.5 323.5,596.9 322.7,597.2 C322,597.5 321.2,597.5 320.4,597.5 C319.6,597.5 318.8,597.7 318,597.5 C317.1,597.2 315.9,596.8 315.4,596 C314.8,595.3 314.6,593.9 314.7,593 C314.8,592.1 315.6,591.2 316.2,590.5 C316.8,589.8 317.5,589.4 318.2,589 C318.9,588.6 319.6,588.2 320.4,588 C321.2,587.9 322.2,588 323,588.3 C323.8,588.7 324.5,589.4 325,590.2 C325.5,591 325.9,592.1 325.9,593Z" fill="none" stroke="#ffffff" stroke-width="0.65"/>
<path d="M323.8,590.4 C323.9,591 323.9,591.8 323.7,592.4 C323.5,593 322.9,593.7 322.3,593.9 C321.8,594.2 320.9,594 320.4,593.9 C319.8,593.7 319.4,593.3 318.9,593 C318.5,592.7 318,592.4 317.6,592 C317.3,591.6 316.7,591 316.6,590.4 C316.5,589.7 316.7,588.9 317,588.3 C317.3,587.8 318,587.4 318.6,587.1 C319.1,586.9 319.8,586.8 320.4,586.9 C320.9,586.9 321.5,587.1 322,587.4 C322.4,587.7 322.8,588.2 323.1,588.7 C323.4,589.2 323.7,589.7 323.8,590.4Z" fill="none" stroke="#ffffff" stroke-width="0.65"/>
<circle cx="328.5" cy="588.1" r="1.6" fill="none" stroke="#ffffff" stroke-width="0.6"/>
<circle cx="318.1" cy="599.1" r="2" fill="none" stroke="#ffffff" stroke-width="0.6"/>
<circle cx="316.8" cy="586.4" r="2.3" fill="none" stroke="#ffffff" stroke-width="0.6"/>
<circle cx="328.2" cy="594.1" r="2.6" fill="none" stroke="#ffffff" stroke-width="0.6"/>
<circle cx="317.9" cy="593.8" r="3.8" fill="#ffffff" filter="url(#hb3)"/>
<circle cx="317.9" cy="593.8" r="3" fill="#30f060" filter="url(#hb3)"/>
<circle cx="317.9" cy="593.8" r="2.4" fill="#00d0ff" filter="url(#hb3)"/>
<circle cx="317.9" cy="593.8" r="1.8" fill="#0000ff"/>
<circle cx="324.3" cy="587.5" r="3" fill="#ffff60" filter="url(#hb3)"/>
<circle cx="324.3" cy="587.5" r="2.2" fill="#10f030" filter="url(#hb3)"/>
<path d="M289.5,432 L314.5,432 C315.5,440 311,445.7 307,445.6 C304.5,445.4 302.8,442.5 302,440.3 C301.2,442.5 299.5,445.4 297,445.6 C293,445.7 288.5,440 289.5,432 Z" fill="#00ffff" stroke="#00ffe8" stroke-width="3.6" filter="url(#hb2)"/>
<path d="M302,465.4 C308,466.6 314.8,473.6 314.8,478.6 C314.8,483.6 308,491.1 302,492 C296,491.1 289.2,483.6 289.2,478.6 C289.2,473.6 296,466.6 302,465.4 Z" fill="#00ffff" stroke="#00ffe8" stroke-width="3.6" filter="url(#hb2)"/>
<path d="M297,518 C297,508.5 307,508.5 307,518 C307.5,519 309,517.5 312.5,517.5 C318.2,517.5 318.2,529.5 312.5,529.5 C309,529.5 307.5,530 307,531 C307,538.5 297,538.5 297,531 C296.5,530 295,529.5 291.5,529.5 C285.2,529.5 285.2,517.5 291.5,517.5 C295,517.5 296.5,519 297,518 Z" fill="#00ffff" stroke="#00ffe8" stroke-width="3.6" filter="url(#hb2)"/>
<path d="M295.7,561.8 m-6.6,0 a6.6,6.6 0 1,0 13.2,0 a6.6,6.6 0 1,0 -13.2,0 M308.3,561.8 m-6.6,0 a6.6,6.6 0 1,0 13.2,0 a6.6,6.6 0 1,0 -13.2,0 M308.3,573.8 m-6.6,0 a6.6,6.6 0 1,0 13.2,0 a6.6,6.6 0 1,0 -13.2,0 M295.7,573.8 m-6.6,0 a6.6,6.6 0 1,0 13.2,0 a6.6,6.6 0 1,0 -13.2,0 M296,563.3 h12 v9 h-12 z M297.5,561.8 h9 v12 h-9 z" fill="#00ffff" stroke="#00ffe8" stroke-width="3.6" filter="url(#hb2)"/>
<path d="M289,615 C289.5,606 296,600.2 302,600.2 C308,600.2 314.5,606 315,615 Z" fill="#00ffff" stroke="#00ffe8" stroke-width="3.6" filter="url(#hb2)"/>
<path d="M289.5,432 L314.5,432 C315.5,440 311,445.7 307,445.6 C304.5,445.4 302.8,442.5 302,440.3 C301.2,442.5 299.5,445.4 297,445.6 C293,445.7 288.5,440 289.5,432 Z" fill="#0070ff" stroke="#0080ff" stroke-width="1.3" filter="url(#hb3)"/>
<path d="M302,465.4 C308,466.6 314.8,473.6 314.8,478.6 C314.8,483.6 308,491.1 302,492 C296,491.1 289.2,483.6 289.2,478.6 C289.2,473.6 296,466.6 302,465.4 Z" fill="#0070ff" stroke="#0080ff" stroke-width="1.3" filter="url(#hb3)"/>
<path d="M297,518 C297,508.5 307,508.5 307,518 C307.5,519 309,517.5 312.5,517.5 C318.2,517.5 318.2,529.5 312.5,529.5 C309,529.5 307.5,530 307,531 C307,538.5 297,538.5 297,531 C296.5,530 295,529.5 291.5,529.5 C285.2,529.5 285.2,517.5 291.5,517.5 C295,517.5 296.5,519 297,518 Z" fill="#0070ff" stroke="#0080ff" stroke-width="1.3" filter="url(#hb3)"/>
<path d="M295.7,561.8 m-6.6,0 a6.6,6.6 0 1,0 13.2,0 a6.6,6.6 0 1,0 -13.2,0 M308.3,561.8 m-6.6,0 a6.6,6.6 0 1,0 13.2,0 a6.6,6.6 0 1,0 -13.2,0 M308.3,573.8 m-6.6,0 a6.6,6.6 0 1,0 13.2,0 a6.6,6.6 0 1,0 -13.2,0 M295.7,573.8 m-6.6,0 a6.6,6.6 0 1,0 13.2,0 a6.6,6.6 0 1,0 -13.2,0 M296,563.3 h12 v9 h-12 z M297.5,561.8 h9 v12 h-9 z" fill="#0070ff" stroke="#0080ff" stroke-width="1.3" filter="url(#hb3)"/>
<path d="M289,615 C289.5,606 296,600.2 302,600.2 C308,600.2 314.5,606 315,615 Z" fill="#0070ff" stroke="#0080ff" stroke-width="1.3" filter="url(#hb3)"/>
<path d="M289.5,432 L314.5,432 C315.5,440 311,445.7 307,445.6 C304.5,445.4 302.8,442.5 302,440.3 C301.2,442.5 299.5,445.4 297,445.6 C293,445.7 288.5,440 289.5,432 Z" fill="#0000ff"/>
<path d="M302,465.4 C308,466.6 314.8,473.6 314.8,478.6 C314.8,483.6 308,491.1 302,492 C296,491.1 289.2,483.6 289.2,478.6 C289.2,473.6 296,466.6 302,465.4 Z" fill="#0000ff"/>
<path d="M297,518 C297,508.5 307,508.5 307,518 C307.5,519 309,517.5 312.5,517.5 C318.2,517.5 318.2,529.5 312.5,529.5 C309,529.5 307.5,530 307,531 C307,538.5 297,538.5 297,531 C296.5,530 295,529.5 291.5,529.5 C285.2,529.5 285.2,517.5 291.5,517.5 C295,517.5 296.5,519 297,518 Z" fill="#0000ff"/>
<path d="M295.7,561.8 m-6.6,0 a6.6,6.6 0 1,0 13.2,0 a6.6,6.6 0 1,0 -13.2,0 M308.3,561.8 m-6.6,0 a6.6,6.6 0 1,0 13.2,0 a6.6,6.6 0 1,0 -13.2,0 M308.3,573.8 m-6.6,0 a6.6,6.6 0 1,0 13.2,0 a6.6,6.6 0 1,0 -13.2,0 M295.7,573.8 m-6.6,0 a6.6,6.6 0 1,0 13.2,0 a6.6,6.6 0 1,0 -13.2,0 M296,563.3 h12 v9 h-12 z M297.5,561.8 h9 v12 h-9 z" fill="#0000ff"/>
<path d="M289,615 C289.5,606 296,600.2 302,600.2 C308,600.2 314.5,606 315,615 Z" fill="#0000ff"/>
<circle cx="290.5" cy="567.8" r="1.3" fill="#ffb000"/>
<circle cx="313.5" cy="567.8" r="1.3" fill="#ffb000"/>
</g>
<text x="302" y="484.9" font-size="14.6" font-weight="bold" text-anchor="middle" fill="#ffffff">Mn</text>
<text x="302" y="529.5" font-size="14.6" font-weight="bold" text-anchor="middle" fill="#ffffff">Fe</text>
<text x="302" y="573.2" font-size="14.6" font-weight="bold" text-anchor="middle" fill="#ffffff">Ni</text>
<g clip-path="url(#hcR)">
<rect x="345.6" y="430" width="80" height="186" fill="url(#hbg)"/>
<use href="#rb61" transform="translate(364.9,457.9) scale(1.38)" fill="#00ff30" stroke="#00ff30" stroke-width="1.5" filter="url(#hb0)"/>
<use href="#rb61" transform="translate(364.9,457.9) scale(1.22)" fill="#b0ff00" filter="url(#hb1)"/>
<use href="#rb61" transform="translate(364.9,457.9) scale(1.13)" fill="#ffff80" filter="url(#hb2)"/>
<use href="#rb61" transform="translate(364.9,457.9) scale(1.075)" fill="#ffc000" filter="url(#hb3)"/>
<use href="#rb61" transform="translate(364.9,457.9) scale(1.035)" fill="#ff7000" filter="url(#hb3)"/>
<use href="#rb61" transform="translate(364.9,457.9) scale(0.995)" fill="#ff0000"/>
<use href="#rb61" transform="translate(364.9,457.9) scale(0.975)" fill="none" stroke="#fff0f0" stroke-width="0.77"/>
<path d="M376.2,458.1 C375.5,460.1 373.9,461.3 372.9,462.9 C371.9,464.5 371.6,466.2 370.2,467.6 C368.9,469 366.9,470.9 365,471.2 C363.1,471.4 360.5,470.4 358.8,469.2 C357.2,468.1 355.9,466 355,464.1 C354,462.3 353.2,460.1 353.2,458.1 C353.2,456.1 354,453.6 355.1,452.1 C356.2,450.6 358.4,449.9 360,449.1 C361.6,448.3 363.1,447.8 365,447.4 C366.9,446.9 369.4,445.8 371.4,446.4 C373.4,447 376.1,449 376.9,450.9 C377.7,452.9 376.8,456.1 376.2,458.1Z" fill="none" stroke="#ffffff" stroke-width="0.65"/>
<path d="M372.3,459.5 C372.5,461.1 373.1,463.2 372.6,464.8 C372.1,466.4 370.6,468.2 369.1,469.1 C367.6,470 365.6,470.1 363.8,470 C362.1,470 360.2,469.7 358.7,468.8 C357.2,467.9 355.6,466.4 354.9,464.9 C354.3,463.3 354.6,461.1 354.9,459.5 C355.2,457.9 356,456.7 356.7,455.2 C357.3,453.7 357.5,451.7 358.7,450.3 C359.9,448.9 362.1,447.1 363.8,447 C365.6,446.9 368,448.5 369.2,449.8 C370.4,451.2 370.5,453.5 371.1,455.1 C371.6,456.7 372,457.9 372.3,459.5Z" fill="none" stroke="#ffffff" stroke-width="0.65"/>
<path d="M374.2,457.8 C373.7,459.3 372.2,460.3 371.3,461.4 C370.5,462.4 370,463.3 369,464.3 C368,465.2 366.8,466.6 365.4,466.9 C364.1,467.2 362.1,466.8 360.9,466 C359.7,465.2 358.8,463.6 358.1,462.2 C357.5,460.9 357.1,459.3 357.1,457.8 C357.1,456.4 357.4,454.6 358.2,453.4 C359,452.3 360.5,451.6 361.7,451.1 C362.9,450.6 364.1,450.5 365.4,450.3 C366.8,450.1 368.4,449.5 369.8,449.9 C371.3,450.3 373.4,451.3 374.1,452.6 C374.8,453.9 374.6,456.4 374.2,457.8Z" fill="none" stroke="#ffffff" stroke-width="0.65"/>
<path d="M373.3,458.7 C373.3,459.9 372.7,461.4 372.1,462.4 C371.4,463.4 370.3,464.2 369.2,464.7 C368.2,465.2 367,465.4 365.9,465.3 C364.9,465.2 363.8,464.7 362.9,464.2 C362,463.6 361.2,462.9 360.5,462 C359.8,461.1 359,459.9 358.8,458.7 C358.5,457.5 358.6,455.7 359.3,454.7 C359.9,453.7 361.4,452.8 362.5,452.5 C363.6,452.2 364.9,452.6 365.9,452.7 C367,452.9 367.8,453.1 368.8,453.5 C369.8,453.9 371.1,454.3 371.8,455.1 C372.6,456 373.3,457.5 373.3,458.7Z" fill="none" stroke="#ffffff" stroke-width="0.65"/>
<path d="M371.5,457.9 C371.5,458.8 371.4,459.7 371,460.6 C370.6,461.4 370,462.5 369.3,463 C368.5,463.4 367.3,463.5 366.4,463.3 C365.6,463 365,462.1 364.4,461.6 C363.7,461.1 363.3,460.7 362.7,460.1 C362.1,459.5 361,458.8 360.8,457.9 C360.5,456.9 360.7,455.4 361.2,454.7 C361.7,453.9 363,453.5 363.9,453.3 C364.8,453 365.6,453.3 366.4,453.3 C367.3,453.4 368.1,453.2 368.8,453.5 C369.6,453.9 370.5,454.4 370.9,455.2 C371.4,455.9 371.5,456.9 371.5,457.9Z" fill="none" stroke="#ffffff" stroke-width="0.65"/>
<path d="M366.8,458.7 C366.8,459.4 366.6,460.2 366.3,460.7 C365.9,461.1 365.2,461.4 364.7,461.6 C364.1,461.8 363.6,461.7 363.1,461.7 C362.5,461.8 362,462 361.4,461.9 C360.8,461.8 359.9,461.4 359.5,460.9 C359.2,460.4 359.1,459.4 359.3,458.7 C359.4,458.1 360,457.6 360.4,457.1 C360.8,456.7 361.2,456.4 361.6,456 C362,455.7 362.5,455.2 363.1,455.1 C363.6,455.1 364.4,455.2 364.9,455.5 C365.4,455.8 365.9,456.3 366.2,456.9 C366.5,457.4 366.8,458.1 366.8,458.7Z" fill="none" stroke="#ffffff" stroke-width="0.65"/>
<circle cx="358.2" cy="458.9" r="1.6" fill="none" stroke="#ffffff" stroke-width="0.6"/>
<circle cx="357.7" cy="459.2" r="2.7" fill="none" stroke="#ffffff" stroke-width="0.6"/>
<circle cx="368.4" cy="451.3" r="2.2" fill="none" stroke="#ffffff" stroke-width="0.6"/>
<circle cx="372.6" cy="457.2" r="2.7" fill="none" stroke="#ffffff" stroke-width="0.6"/>
<circle cx="369.3" cy="460.4" r="3.8" fill="#ffffff" filter="url(#hb3)"/>
<circle cx="369.3" cy="460.4" r="3" fill="#30f060" filter="url(#hb3)"/>
<circle cx="369.3" cy="460.4" r="2.4" fill="#00d0ff" filter="url(#hb3)"/>
<circle cx="369.3" cy="460.4" r="1.8" fill="#0000ff"/>
<circle cx="362.6" cy="452.9" r="3" fill="#ffff60" filter="url(#hb3)"/>
<circle cx="362.6" cy="452.9" r="2.2" fill="#10f030" filter="url(#hb3)"/>
<use href="#rb62" transform="translate(405.2,458.5) scale(1.38)" fill="#00ff30" stroke="#00ff30" stroke-width="1.5" filter="url(#hb0)"/>
<use href="#rb62" transform="translate(405.2,458.5) scale(1.22)" fill="#b0ff00" filter="url(#hb1)"/>
<use href="#rb62" transform="translate(405.2,458.5) scale(1.13)" fill="#ffff80" filter="url(#hb2)"/>
<use href="#rb62" transform="translate(405.2,458.5) scale(1.075)" fill="#ffc000" filter="url(#hb3)"/>
<use href="#rb62" transform="translate(405.2,458.5) scale(1.035)" fill="#ff7000" filter="url(#hb3)"/>
<use href="#rb62" transform="translate(405.2,458.5) scale(0.995)" fill="#ff0000"/>
<use href="#rb62" transform="translate(405.2,458.5) scale(0.975)" fill="none" stroke="#fff0f0" stroke-width="0.77"/>
<path d="M415,460.1 C415.3,462.1 414.9,464.7 414,466.5 C413.1,468.3 411.2,470 409.5,471 C407.7,472.1 405.4,472.8 403.4,472.7 C401.5,472.6 399.2,471.6 397.7,470.4 C396.3,469.2 395.4,467.1 394.7,465.4 C393.9,463.7 393.6,462.1 393.3,460.1 C393,458.2 392.3,455.8 392.9,453.8 C393.4,451.7 394.9,448.9 396.6,447.9 C398.4,446.8 401.5,446.9 403.4,447.5 C405.4,448 406.9,449.9 408.4,451.1 C409.8,452.3 411,453.4 412.1,454.9 C413.2,456.4 414.7,458.2 415,460.1Z" fill="none" stroke="#ffffff" stroke-width="0.65"/>
<path d="M413.2,457.3 C413.4,458.9 413.2,461 412.5,462.4 C411.7,463.8 410.2,465 408.8,465.9 C407.4,466.8 405.7,467.6 404,467.8 C402.3,468.1 399.9,468.3 398.4,467.5 C396.9,466.7 395.3,464.5 394.8,462.8 C394.4,461.1 395.3,458.9 395.7,457.3 C396.1,455.7 396.6,454.7 397.1,453.1 C397.6,451.6 397.7,449.2 398.8,447.9 C400,446.5 402.3,445 404,445 C405.7,445 407.9,446.7 409.2,447.9 C410.5,449.2 411,451.1 411.7,452.7 C412.3,454.3 413.1,455.7 413.2,457.3Z" fill="none" stroke="#ffffff" stroke-width="0.65"/>
<path d="M413.9,458.9 C413.8,460.4 413.2,462.2 412.4,463.3 C411.6,464.4 410.2,465.3 409,465.8 C407.8,466.3 406.5,466.4 405.2,466.5 C403.9,466.6 402.5,466.8 401.1,466.4 C399.7,466 397.8,465.2 397,463.9 C396.1,462.7 395.7,460.4 396,458.9 C396.2,457.4 397.6,456 398.5,454.9 C399.5,453.9 400.6,453.3 401.7,452.6 C402.8,451.9 403.9,451 405.2,450.7 C406.5,450.5 408.3,450.4 409.6,451 C410.8,451.6 412.2,453 412.9,454.3 C413.6,455.6 414,457.4 413.9,458.9Z" fill="none" stroke="#ffffff" stroke-width="0.65"/>
<path d="M413.5,457.7 C413.5,458.8 413.3,460.1 412.7,461 C412.2,462 411.2,462.8 410.3,463.3 C409.4,463.8 408.3,464 407.2,464.1 C406.1,464.2 404.8,464.4 403.6,464 C402.5,463.7 401,462.8 400.4,461.8 C399.8,460.7 399.9,458.8 400.2,457.7 C400.5,456.5 401.7,455.7 402.4,454.8 C403.1,454 403.5,453.3 404.3,452.6 C405.1,451.8 406.1,450.5 407.2,450.3 C408.3,450 410,450.1 411,450.8 C412,451.4 412.7,452.9 413.1,454.1 C413.5,455.2 413.6,456.5 413.5,457.7Z" fill="none" stroke="#ffffff" stroke-width="0.65"/>
<path d="M410.8,457.2 C410.9,458.2 410.5,459.5 410,460.2 C409.4,460.9 408.3,461.3 407.4,461.6 C406.6,461.8 405.8,461.7 405,461.7 C404.2,461.7 403.4,461.8 402.7,461.5 C401.9,461.2 400.9,460.8 400.4,460 C399.9,459.3 399.5,458.2 399.5,457.2 C399.5,456.3 399.9,455.2 400.4,454.5 C400.9,453.7 401.8,453 402.5,452.7 C403.3,452.3 404.2,452.3 405,452.4 C405.8,452.5 406.6,452.8 407.3,453.2 C408,453.5 408.8,453.9 409.4,454.6 C410,455.3 410.7,456.3 410.8,457.2Z" fill="none" stroke="#ffffff" stroke-width="0.65"/>
<path d="M408.6,457.8 C408.7,458.4 408.6,459.3 408.3,459.8 C408,460.4 407.2,460.8 406.7,461 C406.1,461.1 405.4,460.9 404.9,460.8 C404.3,460.7 403.9,460.6 403.4,460.5 C402.9,460.3 402.1,460.2 401.7,459.7 C401.3,459.3 400.9,458.4 400.9,457.8 C400.9,457.1 401.4,456.4 401.8,455.9 C402.2,455.4 402.8,455.1 403.3,454.9 C403.8,454.6 404.3,454.4 404.9,454.4 C405.4,454.4 406.1,454.5 406.5,454.8 C407,455 407.5,455.5 407.8,456 C408.1,456.5 408.5,457.1 408.6,457.8Z" fill="none" stroke="#ffffff" stroke-width="0.65"/>
<circle cx="409.3" cy="455.7" r="2.2" fill="none" stroke="#ffffff" stroke-width="0.6"/>
<circle cx="400.9" cy="452.4" r="1.9" fill="none" stroke="#ffffff" stroke-width="0.6"/>
<circle cx="408.9" cy="463.6" r="2.8" fill="none" stroke="#ffffff" stroke-width="0.6"/>
<circle cx="410.5" cy="452.7" r="2.7" fill="none" stroke="#ffffff" stroke-width="0.6"/>
<circle cx="402" cy="460.8" r="3.8" fill="#ffffff" filter="url(#hb3)"/>
<circle cx="402" cy="460.8" r="3" fill="#30f060" filter="url(#hb3)"/>
<circle cx="402" cy="460.8" r="2.4" fill="#00d0ff" filter="url(#hb3)"/>
<circle cx="402" cy="460.8" r="1.8" fill="#0000ff"/>
<circle cx="408.7" cy="453.7" r="3" fill="#ffff60" filter="url(#hb3)"/>
<circle cx="408.7" cy="453.7" r="2.2" fill="#10f030" filter="url(#hb3)"/>
<use href="#rb63" transform="translate(364.9,499.3) scale(1.38)" fill="#00ff30" stroke="#00ff30" stroke-width="1.5" filter="url(#hb0)"/>
<use href="#rb63" transform="translate(364.9,499.3) scale(1.22)" fill="#b0ff00" filter="url(#hb1)"/>
<use href="#rb63" transform="translate(364.9,499.3) scale(1.13)" fill="#ffff80" filter="url(#hb2)"/>
<use href="#rb63" transform="translate(364.9,499.3) scale(1.075)" fill="#ffc000" filter="url(#hb3)"/>
<use href="#rb63" transform="translate(364.9,499.3) scale(1.035)" fill="#ff7000" filter="url(#hb3)"/>
<use href="#rb63" transform="translate(364.9,499.3) scale(0.995)" fill="#ff0000"/>
<use href="#rb63" transform="translate(364.9,499.3) scale(0.975)" fill="none" stroke="#fff0f0" stroke-width="0.77"/>
<path d="M378,499.1 C377.6,501.2 375.8,503.3 374.4,504.7 C373,506.1 371.3,506.6 369.8,507.6 C368.2,508.6 367,510 365.1,510.6 C363.2,511.2 360.3,511.9 358.4,511.1 C356.5,510.3 354.5,507.9 353.8,505.9 C353,503.9 353.4,501.2 353.8,499.1 C354.1,497.1 354.9,495.3 355.8,493.6 C356.8,492 358,490.2 359.5,489.2 C361.1,488.2 363.2,487.6 365.1,487.5 C367,487.4 369.1,487.8 370.9,488.6 C372.8,489.4 375.1,490.7 376.3,492.4 C377.4,494.2 378.3,497.1 378,499.1Z" fill="none" stroke="#ffffff" stroke-width="0.65"/>
<path d="M375.2,499.3 C375.4,500.9 374.8,502.9 374,504.5 C373.2,506.1 372,507.7 370.5,508.7 C369,509.8 367,510.8 365.2,510.8 C363.5,510.7 361.4,509.5 360.2,508.3 C359,507.1 358.6,505.1 358,503.6 C357.4,502.1 356.9,500.9 356.6,499.3 C356.2,497.6 355.3,495.3 355.7,493.6 C356.2,491.8 357.7,489.4 359.3,488.6 C360.9,487.8 363.5,488.2 365.2,488.7 C367,489.2 368.3,490.4 369.6,491.4 C371,492.3 372.3,493.2 373.2,494.5 C374.2,495.8 375.1,497.6 375.2,499.3Z" fill="none" stroke="#ffffff" stroke-width="0.65"/>
<path d="M374.5,498.4 C374.5,499.8 374.1,501.4 373.5,502.6 C372.9,503.9 371.9,505.2 370.7,506.1 C369.6,507 368,508.1 366.5,508.2 C365,508.3 363,507.7 361.9,506.7 C360.8,505.7 360.3,503.7 359.9,502.4 C359.6,501 359.8,499.8 359.7,498.4 C359.6,497.1 359,495.6 359.4,494.2 C359.7,492.7 360.4,490.6 361.6,489.7 C362.8,488.8 365,488.6 366.5,488.8 C368,489.1 369.4,490.3 370.5,491.3 C371.6,492.2 372.5,493.2 373.2,494.4 C373.8,495.6 374.4,497.1 374.5,498.4Z" fill="none" stroke="#ffffff" stroke-width="0.65"/>
<path d="M369.9,498.8 C370,499.9 370.3,501 370,502.1 C369.6,503.2 368.9,504.7 368,505.4 C367.1,506.1 365.5,506.4 364.3,506.3 C363.1,506.2 361.8,505.6 360.9,505 C359.9,504.3 359,503.3 358.5,502.2 C358,501.2 357.9,499.9 358,498.8 C358.1,497.7 358.6,496.7 359.1,495.6 C359.6,494.6 360.1,493.5 360.9,492.7 C361.8,491.9 363.1,490.8 364.3,490.6 C365.5,490.5 367.2,491.1 368.1,492 C369,492.8 369.3,494.4 369.7,495.6 C370,496.7 369.9,497.7 369.9,498.8Z" fill="none" stroke="#ffffff" stroke-width="0.65"/>
<path d="M369.3,498 C369.5,498.9 369.2,500.4 368.7,501.1 C368.1,501.9 366.8,502.3 366,502.5 C365.1,502.8 364.3,502.7 363.4,502.7 C362.6,502.7 361.7,502.8 361,502.4 C360.3,502.1 359.5,501.4 359,500.7 C358.6,499.9 358.5,498.9 358.4,498 C358.4,497.1 358.4,496 358.7,495.2 C359.1,494.3 359.7,493.2 360.5,492.8 C361.3,492.4 362.6,492.5 363.4,492.7 C364.3,493 364.9,493.8 365.5,494.3 C366.2,494.8 366.8,495 367.4,495.7 C368,496.3 369.1,497.1 369.3,498Z" fill="none" stroke="#ffffff" stroke-width="0.65"/>
<path d="M366.7,497.6 C366.6,498.2 366.5,498.9 366.2,499.4 C365.9,499.9 365.3,500.4 364.8,500.6 C364.3,500.9 363.7,500.8 363.1,500.8 C362.6,500.8 362.1,500.7 361.5,500.5 C360.9,500.3 360.1,500.1 359.7,499.6 C359.3,499.1 358.9,498.2 359,497.6 C359.1,496.9 359.7,496.2 360.2,495.8 C360.6,495.4 361.2,495.3 361.7,495 C362.2,494.8 362.6,494.4 363.1,494.2 C363.7,494.1 364.5,493.9 365.1,494.1 C365.6,494.3 366.2,495 366.5,495.6 C366.7,496.2 366.7,496.9 366.7,497.6Z" fill="none" stroke="#ffffff" stroke-width="0.65"/>
<circle cx="369.6" cy="506" r="2.5" fill="none" stroke="#ffffff" stroke-width="0.6"/>
<circle cx="366" cy="494.3" r="2.2" fill="none" stroke="#ffffff" stroke-width="0.6"/>
<circle cx="360.5" cy="495.5" r="1.7" fill="none" stroke="#ffffff" stroke-width="0.6"/>
<circle cx="358" cy="498.1" r="1.7" fill="none" stroke="#ffffff" stroke-width="0.6"/>
<circle cx="366" cy="499.5" r="2.2" fill="#ffffff" filter="url(#hb3)"/>
<circle cx="368.5" cy="499.5" r="3" fill="#ffff60" filter="url(#hb3)"/>
<circle cx="368.5" cy="499.5" r="2.2" fill="#10f030" filter="url(#hb3)"/>
<use href="#rb64" transform="translate(405.2,499.3) scale(1.38)" fill="#00ff30" stroke="#00ff30" stroke-width="1.5" filter="url(#hb0)"/>
<use href="#rb64" transform="translate(405.2,499.3) scale(1.22)" fill="#b0ff00" filter="url(#hb1)"/>
<use href="#rb64" transform="translate(405.2,499.3) scale(1.13)" fill="#ffff80" filter="url(#hb2)"/>
<use href="#rb64" transform="translate(405.2,499.3) scale(1.075)" fill="#ffc000" filter="url(#hb3)"/>
<use href="#rb64" transform="translate(405.2,499.3) scale(1.035)" fill="#ff7000" filter="url(#hb3)"/>
<use href="#rb64" transform="translate(405.2,499.3) scale(0.995)" fill="#ff0000"/>
<use href="#rb64" transform="translate(405.2,499.3) scale(0.975)" fill="none" stroke="#fff0f0" stroke-width="0.77"/>
<path d="M414.8,498.5 C414.4,500.5 413.4,502.2 412.4,503.8 C411.5,505.4 410.5,507.2 409,508.3 C407.6,509.4 405.5,510.4 403.6,510.6 C401.7,510.8 399.4,510.3 397.5,509.4 C395.7,508.4 393.7,506.9 392.6,505.1 C391.6,503.2 390.9,500.5 391.2,498.5 C391.4,496.5 393,494.4 394.2,492.9 C395.5,491.4 397.2,490.8 398.7,489.8 C400.3,488.8 401.7,487.5 403.6,487 C405.5,486.4 408.3,485.8 410.2,486.6 C412.1,487.3 414.2,489.7 415,491.7 C415.8,493.7 415.2,496.5 414.8,498.5Z" fill="none" stroke="#ffffff" stroke-width="0.65"/>
<path d="M417.5,499.2 C417.2,501 416,502.5 415,504 C414.1,505.4 413.1,506.8 411.7,507.7 C410.4,508.6 408.6,509.2 407,509.2 C405.4,509.2 403.8,508.4 402.3,507.6 C400.8,506.8 399.3,505.9 398.1,504.4 C397,503 395.5,501 395.4,499.2 C395.3,497.3 396.4,494.8 397.6,493.5 C398.8,492.3 401.2,492 402.7,491.6 C404.3,491.1 405.4,491 407,490.7 C408.6,490.4 410.5,489.4 412.2,489.8 C413.9,490.2 416.3,491.5 417.2,493.1 C418,494.6 417.9,497.3 417.5,499.2Z" fill="none" stroke="#ffffff" stroke-width="0.65"/>
<path d="M413.5,497.8 C413.8,499.2 413.9,501.1 413.4,502.4 C412.8,503.7 411.3,505 410,505.7 C408.7,506.4 407.1,506.7 405.6,506.7 C404.1,506.7 402.4,506.5 401.2,505.8 C400,505 398.9,503.4 398.5,502.1 C398,500.7 398.5,499.2 398.6,497.8 C398.7,496.4 398.7,495.3 399.1,493.9 C399.5,492.4 399.7,490.3 400.8,489.2 C401.9,488.1 404.1,487.2 405.6,487.4 C407.1,487.6 408.7,489.4 409.7,490.5 C410.7,491.7 410.9,493 411.6,494.2 C412.2,495.4 413.2,496.4 413.5,497.8Z" fill="none" stroke="#ffffff" stroke-width="0.65"/>
<path d="M412,497.3 C411.9,498.5 411.4,499.8 410.8,500.9 C410.2,501.9 409.3,503 408.3,503.6 C407.4,504.1 405.9,504.2 404.9,504.1 C403.8,503.9 402.9,503.1 402,502.5 C401.1,501.9 400.2,501.5 399.3,500.6 C398.5,499.8 397.2,498.5 397,497.3 C396.7,496.1 397.2,494.2 398,493.2 C398.8,492.3 400.6,492 401.8,491.8 C402.9,491.5 403.8,491.7 404.9,491.7 C405.9,491.6 407.1,491.1 408.1,491.4 C409.2,491.7 410.7,492.5 411.3,493.5 C411.9,494.4 412.1,496.1 412,497.3Z" fill="none" stroke="#ffffff" stroke-width="0.65"/>
<path d="M412,498.1 C411.8,499 411.1,499.7 410.6,500.4 C410.1,501.1 409.6,501.7 409,502.2 C408.3,502.7 407.5,503.2 406.7,503.3 C405.8,503.4 404.8,503.3 404,502.9 C403.2,502.5 402.3,501.7 401.9,500.9 C401.4,500.1 401.1,499 401.2,498.1 C401.2,497.1 401.7,496.1 402.3,495.4 C402.8,494.8 403.7,494.4 404.4,494.1 C405.2,493.7 405.8,493.4 406.7,493.3 C407.5,493.1 408.6,492.8 409.4,493.1 C410.3,493.4 411.4,494.1 411.8,495 C412.3,495.8 412.2,497.1 412,498.1Z" fill="none" stroke="#ffffff" stroke-width="0.65"/>
<path d="M410.5,498.6 C410.4,499.2 409.9,499.9 409.5,500.3 C409.1,500.7 408.5,500.9 408,501.2 C407.6,501.5 407.1,501.8 406.6,501.9 C406,502.1 405.2,502.3 404.6,502 C404.1,501.8 403.4,501.2 403.2,500.6 C402.9,500 402.9,499.2 403,498.6 C403.1,497.9 403.4,497.3 403.7,496.8 C404,496.4 404.5,495.9 404.9,495.6 C405.4,495.3 406,495.2 406.6,495.2 C407.1,495.1 407.8,495.2 408.3,495.4 C408.9,495.6 409.6,496 410,496.5 C410.3,497.1 410.6,497.9 410.5,498.6Z" fill="none" stroke="#ffffff" stroke-width="0.65"/>
<circle cx="410" cy="503.4" r="2.7" fill="none" stroke="#ffffff" stroke-width="0.6"/>
<circle cx="403.3" cy="491.7" r="1.6" fill="none" stroke="#ffffff" stroke-width="0.6"/>
<circle cx="410.3" cy="502.5" r="2.5" fill="none" stroke="#ffffff" stroke-width="0.6"/>
<circle cx="404.2" cy="504.2" r="1.9" fill="none" stroke="#ffffff" stroke-width="0.6"/>
<circle cx="403.5" cy="497" r="3.8" fill="#ffffff" filter="url(#hb3)"/>
<circle cx="403.5" cy="497" r="3" fill="#30f060" filter="url(#hb3)"/>
<circle cx="403.5" cy="497" r="2.4" fill="#00d0ff" filter="url(#hb3)"/>
<circle cx="403.5" cy="497" r="1.8" fill="#0000ff"/>
<use href="#rb65" transform="translate(364.9,543.9) scale(1.38)" fill="#00ff30" stroke="#00ff30" stroke-width="1.5" filter="url(#hb0)"/>
<use href="#rb65" transform="translate(364.9,543.9) scale(1.22)" fill="#b0ff00" filter="url(#hb1)"/>
<use href="#rb65" transform="translate(364.9,543.9) scale(1.13)" fill="#ffff80" filter="url(#hb2)"/>
<use href="#rb65" transform="translate(364.9,543.9) scale(1.075)" fill="#ffc000" filter="url(#hb3)"/>
<use href="#rb65" transform="translate(364.9,543.9) scale(1.035)" fill="#ff7000" filter="url(#hb3)"/>
<use href="#rb65" transform="translate(364.9,543.9) scale(0.995)" fill="#ff0000"/>
<use href="#rb65" transform="translate(364.9,543.9) scale(0.975)" fill="none" stroke="#fff0f0" stroke-width="0.77"/>
<path d="M376.5,545.7 C376.1,547.8 373.9,549.9 372.5,551.3 C371,552.7 369.3,553.1 367.7,554.1 C366.1,555.1 364.9,556.7 363,557.3 C361.1,557.8 358.1,558.4 356.2,557.6 C354.3,556.8 352.4,554.4 351.6,552.4 C350.8,550.4 351.1,547.8 351.3,545.7 C351.6,543.7 352.1,541.6 353.1,540 C354.1,538.3 355.6,536.6 357.3,535.7 C358.9,534.8 361.1,534.7 363,534.6 C364.9,534.6 366.8,534.8 368.8,535.5 C370.7,536.3 373.4,537.2 374.7,538.9 C375.9,540.6 376.9,543.7 376.5,545.7Z" fill="none" stroke="#ffffff" stroke-width="0.65"/>
<path d="M376.7,542.2 C376.8,544 376.6,546 375.9,547.7 C375.1,549.4 373.7,551.4 372.2,552.2 C370.6,553 368.1,553 366.5,552.6 C364.8,552.2 363.5,550.6 362.2,549.6 C360.9,548.7 359.9,548 358.7,546.7 C357.6,545.5 355.6,544 355.2,542.2 C354.8,540.4 355,537.6 356,536.1 C357.1,534.6 359.5,533.6 361.3,533.1 C363,532.6 364.8,532.9 366.5,533 C368.1,533.1 369.8,533.2 371.2,533.9 C372.7,534.5 374.3,535.7 375.2,537.1 C376.2,538.4 376.6,540.4 376.7,542.2Z" fill="none" stroke="#ffffff" stroke-width="0.65"/>
<path d="M373.8,542.6 C373.8,544.1 372.7,546 371.7,547.2 C370.8,548.4 369.2,549.1 367.9,549.7 C366.6,550.3 365.2,550.8 363.8,550.8 C362.5,550.9 360.9,550.5 359.7,549.8 C358.6,549.1 357.7,547.9 356.9,546.7 C356.1,545.5 355.3,544.1 355,542.6 C354.8,541.1 354.6,538.9 355.3,537.6 C356,536.2 357.8,534.9 359.2,534.5 C360.6,534 362.5,534.8 363.8,535.1 C365.2,535.5 366.1,535.9 367.3,536.4 C368.6,536.9 370.4,537.1 371.5,538.1 C372.5,539.2 373.7,541.1 373.8,542.6Z" fill="none" stroke="#ffffff" stroke-width="0.65"/>
<path d="M372.6,544.6 C372.8,545.7 373.1,547.2 372.7,548.2 C372.3,549.3 371.2,550.5 370.2,551.1 C369.2,551.7 367.7,551.9 366.5,551.9 C365.3,551.8 363.9,551.5 362.9,550.9 C361.9,550.2 361,549.1 360.6,548.1 C360.1,547 360.3,545.7 360.4,544.6 C360.5,543.5 360.7,542.6 361.1,541.5 C361.5,540.4 361.8,538.9 362.7,538 C363.6,537.1 365.3,536.2 366.5,536.3 C367.7,536.3 369.2,537.5 370,538.4 C370.9,539.3 371.1,540.6 371.5,541.6 C371.9,542.7 372.4,543.5 372.6,544.6Z" fill="none" stroke="#ffffff" stroke-width="0.65"/>
<path d="M369.1,543.8 C369.1,544.7 369,545.6 368.6,546.4 C368.3,547.3 367.8,548.4 367.1,548.9 C366.3,549.5 365.1,550 364.2,549.9 C363.3,549.8 362.3,548.9 361.7,548.2 C361.1,547.6 360.9,546.7 360.5,546 C360.1,545.2 359.6,544.7 359.3,543.8 C359.1,543 358.7,541.7 359,540.8 C359.3,540 360.3,539 361.2,538.6 C362.1,538.3 363.3,538.4 364.2,538.6 C365.1,538.7 365.9,539.1 366.6,539.5 C367.3,540 368.1,540.6 368.5,541.3 C368.9,542 369.1,543 369.1,543.8Z" fill="none" stroke="#ffffff" stroke-width="0.65"/>
<path d="M370,542.7 C370,543.3 369.7,544.1 369.3,544.6 C368.9,545.1 368.4,545.6 367.8,545.9 C367.3,546.1 366.6,546.3 366,546.2 C365.5,546.2 364.9,545.8 364.4,545.5 C364,545.2 363.6,544.8 363.2,544.4 C362.8,543.9 362.3,543.3 362.2,542.7 C362,542.1 362.1,541.1 362.4,540.6 C362.7,540 363.6,539.6 364.2,539.5 C364.8,539.3 365.5,539.5 366,539.6 C366.6,539.7 367.1,539.7 367.6,539.9 C368.2,540.1 368.9,540.3 369.3,540.8 C369.7,541.2 370,542.1 370,542.7Z" fill="none" stroke="#ffffff" stroke-width="0.65"/>
<circle cx="361.4" cy="537.1" r="1.7" fill="none" stroke="#ffffff" stroke-width="0.6"/>
<circle cx="368.4" cy="536.4" r="1.6" fill="none" stroke="#ffffff" stroke-width="0.6"/>
<circle cx="358.9" cy="546.8" r="2.3" fill="none" stroke="#ffffff" stroke-width="0.6"/>
<circle cx="370.6" cy="548.2" r="2.6" fill="none" stroke="#ffffff" stroke-width="0.6"/>
<circle cx="366.6" cy="543.7" r="3" fill="#ffff60" filter="url(#hb3)"/>
<circle cx="366.6" cy="543.7" r="2.2" fill="#10f030" filter="url(#hb3)"/>
<use href="#rb66" transform="translate(407.1,544.5) scale(1.38)" fill="#00ff30" stroke="#00ff30" stroke-width="1.5" filter="url(#hb0)"/>
<use href="#rb66" transform="translate(407.1,544.5) scale(1.22)" fill="#b0ff00" filter="url(#hb1)"/>
<use href="#rb66" transform="translate(407.1,544.5) scale(1.13)" fill="#ffff80" filter="url(#hb2)"/>
<use href="#rb66" transform="translate(407.1,544.5) scale(1.075)" fill="#ffc000" filter="url(#hb3)"/>
<use href="#rb66" transform="translate(407.1,544.5) scale(1.035)" fill="#ff7000" filter="url(#hb3)"/>
<use href="#rb66" transform="translate(407.1,544.5) scale(0.995)" fill="#ff0000"/>
<use href="#rb66" transform="translate(407.1,544.5) scale(0.975)" fill="none" stroke="#fff0f0" stroke-width="0.77"/>
<path d="M418.8,544.9 C418.9,547 417.8,549.5 416.6,551.3 C415.5,553 413.7,554.7 411.9,555.6 C410.1,556.6 407.7,557.3 405.8,557.1 C403.9,556.9 401.8,555.7 400.4,554.5 C398.9,553.3 398,551.7 396.9,550.1 C395.8,548.5 394.3,547 393.8,544.9 C393.2,542.9 392.7,539.7 393.6,537.8 C394.5,535.9 397.2,534 399.2,533.4 C401.3,532.8 403.9,533.8 405.8,534.3 C407.7,534.7 409.1,535.4 410.8,536.1 C412.5,536.9 414.7,537.4 416.1,538.9 C417.4,540.4 418.7,542.9 418.8,544.9Z" fill="none" stroke="#ffffff" stroke-width="0.65"/>
<path d="M418.1,543.8 C417.9,545.6 416.5,547.4 415.4,548.8 C414.3,550.2 413,551.4 411.6,552.2 C410.1,553 408.4,553.7 406.8,553.7 C405.2,553.7 403.4,553.1 402,552.3 C400.5,551.6 399,550.4 397.9,549 C396.8,547.6 395.4,545.6 395.3,543.8 C395.1,542 395.8,539.4 397,538.1 C398.1,536.7 400.5,536.1 402.2,535.6 C403.8,535.2 405.2,535.5 406.8,535.4 C408.4,535.3 410.1,534.7 411.8,535.1 C413.5,535.5 415.9,536.4 417,537.9 C418,539.3 418.4,542 418.1,543.8Z" fill="none" stroke="#ffffff" stroke-width="0.65"/>
<path d="M414.7,545.5 C414.5,547 413.4,548.5 412.5,549.7 C411.5,550.9 410.4,551.8 409.2,552.5 C408,553.2 406.6,553.7 405.2,553.8 C403.9,553.8 402.4,553.2 401.2,552.6 C400,551.9 398.8,551 397.8,549.8 C396.9,548.6 395.7,547 395.6,545.5 C395.4,543.9 396,541.8 397,540.6 C397.9,539.5 399.9,538.9 401.3,538.6 C402.7,538.2 403.9,538.5 405.2,538.5 C406.6,538.4 407.9,537.9 409.4,538.2 C410.8,538.6 412.8,539.3 413.7,540.5 C414.6,541.7 414.9,543.9 414.7,545.5Z" fill="none" stroke="#ffffff" stroke-width="0.65"/>
<path d="M416.8,543.7 C417,544.9 416.5,546.7 415.7,547.7 C414.9,548.6 413.3,549.1 412.2,549.5 C411,549.8 410,549.8 408.9,549.8 C407.8,549.8 406.6,549.8 405.6,549.4 C404.6,549 403.4,548.2 402.8,547.2 C402.2,546.3 401.8,544.9 401.7,543.7 C401.6,542.4 401.8,541 402.4,539.9 C403,538.8 404.1,537.6 405.2,537.2 C406.2,536.7 407.8,536.9 408.9,537.1 C410,537.4 410.8,538.1 411.7,538.6 C412.7,539.2 413.7,539.5 414.6,540.3 C415.4,541.2 416.6,542.4 416.8,543.7Z" fill="none" stroke="#ffffff" stroke-width="0.65"/>
<path d="M413.7,546.2 C413.6,547.1 413,548.1 412.5,548.7 C412,549.4 411.3,549.7 410.6,550.2 C409.9,550.7 409.2,551.3 408.3,551.5 C407.4,551.7 406.1,552 405.2,551.7 C404.4,551.3 403.5,550.1 403.2,549.2 C402.9,548.3 403.3,547.1 403.6,546.2 C403.8,545.4 404.1,544.8 404.5,544 C404.9,543.3 405.1,542.3 405.7,541.7 C406.4,541.2 407.4,540.6 408.3,540.5 C409.2,540.4 410.3,540.9 411.1,541.4 C411.9,541.9 412.6,542.7 413,543.5 C413.4,544.3 413.8,545.4 413.7,546.2Z" fill="none" stroke="#ffffff" stroke-width="0.65"/>
<path d="M411.6,544.5 C411.6,545.1 411.2,545.7 410.9,546.2 C410.5,546.6 410.1,546.9 409.6,547.3 C409.1,547.6 408.7,548.1 408,548.2 C407.4,548.4 406.5,548.5 405.9,548.2 C405.4,547.9 404.8,547.1 404.6,546.5 C404.5,545.9 404.8,545.1 404.9,544.5 C405,543.9 405.2,543.5 405.4,543 C405.6,542.4 405.8,541.8 406.3,541.3 C406.7,540.9 407.4,540.6 408,540.5 C408.7,540.5 409.4,540.8 409.9,541.2 C410.5,541.5 411,542.1 411.2,542.6 C411.5,543.2 411.7,543.9 411.6,544.5Z" fill="none" stroke="#ffffff" stroke-width="0.65"/>
<circle cx="413.4" cy="548.9" r="2" fill="none" stroke="#ffffff" stroke-width="0.6"/>
<circle cx="412.5" cy="544.6" r="2.3" fill="none" stroke="#ffffff" stroke-width="0.6"/>
<circle cx="408.5" cy="551.4" r="1.7" fill="none" stroke="#ffffff" stroke-width="0.6"/>
<circle cx="401.6" cy="546.3" r="2.2" fill="none" stroke="#ffffff" stroke-width="0.6"/>
<circle cx="407.1" cy="544.5" r="1.6" fill="#ffffff" filter="url(#hb3)"/>
<use href="#rb67" transform="translate(364.9,591.6) scale(1.38)" fill="#00ff30" stroke="#00ff30" stroke-width="1.5" filter="url(#hb0)"/>
<use href="#rb67" transform="translate(364.9,591.6) scale(1.22)" fill="#b0ff00" filter="url(#hb1)"/>
<use href="#rb67" transform="translate(364.9,591.6) scale(1.13)" fill="#ffff80" filter="url(#hb2)"/>
<use href="#rb67" transform="translate(364.9,591.6) scale(1.075)" fill="#ffc000" filter="url(#hb3)"/>
<use href="#rb67" transform="translate(364.9,591.6) scale(1.035)" fill="#ff7000" filter="url(#hb3)"/>
<use href="#rb67" transform="translate(364.9,591.6) scale(0.995)" fill="#ff0000"/>
<use href="#rb67" transform="translate(364.9,591.6) scale(0.975)" fill="none" stroke="#fff0f0" stroke-width="0.77"/>
<path d="M375.1,590 C375.3,592 375.5,594.5 374.7,596.5 C373.9,598.5 372.1,600.9 370.3,601.7 C368.5,602.6 365.7,602.1 363.8,601.5 C362,601 360.7,599.3 359.2,598.3 C357.7,597.3 356.2,596.8 354.8,595.4 C353.4,594 351.3,592 350.9,590 C350.6,587.9 351.3,584.8 352.5,583.1 C353.7,581.4 356.2,580.4 358.1,579.7 C360,579 362,578.8 363.8,578.9 C365.7,579 367.7,579.2 369.3,580.1 C370.8,581 372.3,582.6 373.3,584.2 C374.3,585.9 374.8,587.9 375.1,590Z" fill="none" stroke="#ffffff" stroke-width="0.65"/>
<path d="M373.5,593.5 C373.6,595.1 373.5,596.8 372.9,598.5 C372.4,600.1 371.5,602.3 370.1,603.4 C368.7,604.5 366.3,605.3 364.6,605.1 C362.9,604.9 361,603.4 359.8,602.2 C358.6,601 358.1,599.3 357.4,597.8 C356.7,596.4 356,595.1 355.6,593.5 C355.3,591.8 355,589.7 355.6,588 C356.1,586.4 357.6,584.5 359.1,583.6 C360.6,582.7 362.9,582.5 364.6,582.7 C366.3,582.8 368.1,583.7 369.4,584.7 C370.8,585.7 371.8,587.2 372.5,588.7 C373.2,590.1 373.4,591.8 373.5,593.5Z" fill="none" stroke="#ffffff" stroke-width="0.65"/>
<path d="M374.3,592.5 C373.8,593.9 372.4,594.8 371.7,595.9 C370.9,597 370.6,598.1 369.6,599.1 C368.7,600.1 367.4,601.7 366,602 C364.6,602.3 362.6,601.7 361.4,600.8 C360.2,600 359.4,598.2 358.8,596.8 C358.2,595.4 357.9,593.9 357.9,592.5 C357.9,591.1 358.2,589.3 358.9,588.2 C359.6,587.1 361,586.3 362.2,585.7 C363.4,585.1 364.6,584.9 366,584.7 C367.4,584.4 369.1,583.9 370.5,584.3 C371.9,584.8 373.9,586 374.5,587.3 C375.2,588.7 374.8,591.1 374.3,592.5Z" fill="none" stroke="#ffffff" stroke-width="0.65"/>
<path d="M373.8,591.7 C373.8,592.9 372.8,594.4 372,595.2 C371.1,596 369.8,596.1 368.8,596.5 C367.8,596.9 367.2,597.4 366.2,597.7 C365.1,598.1 363.5,598.8 362.4,598.5 C361.3,598.1 359.9,596.9 359.4,595.8 C358.9,594.6 359.3,592.9 359.5,591.7 C359.8,590.5 360.4,589.5 361,588.6 C361.5,587.6 362.1,586.5 363,585.9 C363.8,585.3 365.1,584.9 366.2,584.9 C367.2,584.8 368.3,585.3 369.4,585.9 C370.4,586.4 371.5,587 372.3,588 C373,588.9 373.9,590.5 373.8,591.7Z" fill="none" stroke="#ffffff" stroke-width="0.65"/>
<path d="M370.9,592.1 C370.8,592.9 370.6,593.5 370.3,594.3 C370.1,595.1 370,596.3 369.4,597 C368.7,597.7 367.5,598.5 366.6,598.5 C365.7,598.4 364.6,597.5 364,596.8 C363.4,596.1 363.3,595 362.9,594.3 C362.6,593.5 362.2,592.9 362,592.1 C361.9,591.2 361.7,590.1 362,589.3 C362.4,588.5 363.2,587.7 364,587.3 C364.7,586.8 365.7,586.7 366.6,586.6 C367.5,586.6 368.6,586.7 369.3,587.1 C370.1,587.6 370.8,588.5 371.1,589.3 C371.4,590.1 371.1,591.2 370.9,592.1Z" fill="none" stroke="#ffffff" stroke-width="0.65"/>
<path d="M368.6,593.2 C368.6,593.9 368.4,594.6 368.1,595.2 C367.8,595.7 367.2,596.2 366.7,596.5 C366.1,596.7 365.4,596.7 364.9,596.6 C364.3,596.5 363.9,596.2 363.4,595.9 C362.9,595.6 362.4,595.4 362,594.9 C361.6,594.5 361.1,593.9 361,593.2 C360.9,592.6 361.1,591.7 361.5,591.2 C361.8,590.6 362.6,590.3 363.2,590.1 C363.7,590 364.3,590 364.9,590.1 C365.4,590.1 366,590.1 366.5,590.3 C367,590.6 367.6,590.9 367.9,591.4 C368.3,591.9 368.5,592.6 368.6,593.2Z" fill="none" stroke="#ffffff" stroke-width="0.65"/>
<circle cx="371.5" cy="594.2" r="1.6" fill="none" stroke="#ffffff" stroke-width="0.6"/>
<circle cx="362.5" cy="598.8" r="1.6" fill="none" stroke="#ffffff" stroke-width="0.6"/>
<circle cx="359.3" cy="590.8" r="1.6" fill="none" stroke="#ffffff" stroke-width="0.6"/>
<circle cx="368.6" cy="588.7" r="2.2" fill="none" stroke="#ffffff" stroke-width="0.6"/>
<circle cx="367.3" cy="593.4" r="3.8" fill="#ffffff" filter="url(#hb3)"/>
<circle cx="367.3" cy="593.4" r="3" fill="#30f060" filter="url(#hb3)"/>
<circle cx="367.3" cy="593.4" r="2.4" fill="#00d0ff" filter="url(#hb3)"/>
<circle cx="367.3" cy="593.4" r="1.8" fill="#0000ff"/>
<circle cx="361.7" cy="585.1" r="3" fill="#ffff60" filter="url(#hb3)"/>
<circle cx="361.7" cy="585.1" r="2.2" fill="#10f030" filter="url(#hb3)"/>
<use href="#rb68" transform="translate(405.2,591.6) scale(1.38)" fill="#00ff30" stroke="#00ff30" stroke-width="1.5" filter="url(#hb0)"/>
<use href="#rb68" transform="translate(405.2,591.6) scale(1.22)" fill="#b0ff00" filter="url(#hb1)"/>
<use href="#rb68" transform="translate(405.2,591.6) scale(1.13)" fill="#ffff80" filter="url(#hb2)"/>
<use href="#rb68" transform="translate(405.2,591.6) scale(1.075)" fill="#ffc000" filter="url(#hb3)"/>
<use href="#rb68" transform="translate(405.2,591.6) scale(1.035)" fill="#ff7000" filter="url(#hb3)"/>
<use href="#rb68" transform="translate(405.2,591.6) scale(0.995)" fill="#ff0000"/>
<use href="#rb68" transform="translate(405.2,591.6) scale(0.975)" fill="none" stroke="#fff0f0" stroke-width="0.77"/>
<path d="M415.9,591.7 C416.1,593.5 416.4,595.6 415.8,597.5 C415.2,599.3 414,601.7 412.4,602.9 C410.8,604 408.2,604.7 406.2,604.6 C404.2,604.5 401.9,603.6 400.2,602.4 C398.6,601.2 397.2,599.3 396.4,597.5 C395.7,595.7 395.7,593.5 395.8,591.7 C396,589.8 396.5,588.1 397.3,586.3 C398,584.5 398.8,582.4 400.3,581 C401.8,579.6 404.2,578 406.2,577.8 C408.2,577.7 410.9,579 412.4,580.4 C413.9,581.8 414.6,584.4 415.2,586.2 C415.8,588.1 415.8,589.8 415.9,591.7Z" fill="none" stroke="#ffffff" stroke-width="0.65"/>
<path d="M415.2,590.5 C414.9,592.2 413.3,593.8 412.2,595 C411.2,596.3 410.2,597.1 408.9,598.1 C407.6,599 406.3,600.4 404.7,600.8 C403.1,601.2 400.8,601.2 399.2,600.4 C397.7,599.6 396.2,597.7 395.5,596 C394.8,594.4 394.7,592.2 394.8,590.5 C395,588.7 395.7,586.9 396.6,585.6 C397.5,584.2 398.9,583.1 400.2,582.3 C401.6,581.6 403.1,581.2 404.7,581 C406.3,580.8 408.2,580.5 409.9,581.1 C411.5,581.7 413.7,583 414.6,584.6 C415.4,586.1 415.6,588.7 415.2,590.5Z" fill="none" stroke="#ffffff" stroke-width="0.65"/>
<path d="M413,593.1 C412.9,594.6 412,596.1 411.2,597.4 C410.4,598.7 409.4,599.9 408.2,600.7 C407,601.4 405.3,601.9 404,601.7 C402.7,601.6 401.4,600.5 400.3,599.7 C399.3,598.8 398.6,598 397.7,596.9 C396.8,595.8 395.3,594.6 394.9,593.1 C394.5,591.5 394.5,589.1 395.3,587.8 C396.1,586.6 398.3,585.8 399.8,585.5 C401.2,585.2 402.7,586 404,586.1 C405.3,586.3 406.3,586 407.6,586.4 C408.9,586.8 410.8,587.3 411.7,588.4 C412.6,589.5 413,591.5 413,593.1Z" fill="none" stroke="#ffffff" stroke-width="0.65"/>
<path d="M412.1,592.6 C412.2,593.8 412.1,595.3 411.5,596.4 C411,597.5 409.9,598.7 408.9,599.2 C407.8,599.7 406.3,599.6 405.2,599.4 C404.2,599.1 403.3,598.3 402.4,597.7 C401.6,597.1 400.8,596.6 400,595.8 C399.3,594.9 398.2,593.8 398,592.6 C397.8,591.4 398,589.7 398.6,588.6 C399.3,587.6 400.7,586.8 401.8,586.4 C402.9,586 404.2,586.2 405.2,586.3 C406.3,586.4 407.4,586.6 408.3,587.1 C409.2,587.6 410.2,588.4 410.8,589.3 C411.5,590.2 412,591.4 412.1,592.6Z" fill="none" stroke="#ffffff" stroke-width="0.65"/>
<path d="M410.9,593.2 C410.8,594.1 410.5,595.1 410,595.8 C409.6,596.5 408.7,597.1 408,597.5 C407.3,597.8 406.4,597.8 405.6,597.8 C404.8,597.8 404,597.9 403.2,597.6 C402.3,597.4 401.2,596.9 400.6,596.2 C400.1,595.5 399.7,594.1 399.9,593.2 C400,592.3 400.9,591.3 401.5,590.7 C402.1,590.1 402.9,589.8 403.5,589.4 C404.2,589 404.8,588.4 405.6,588.2 C406.4,588 407.6,587.9 408.4,588.2 C409.2,588.6 410,589.5 410.4,590.3 C410.8,591.1 410.9,592.3 410.9,593.2Z" fill="none" stroke="#ffffff" stroke-width="0.65"/>
<path d="M409.4,590.1 C409.5,590.7 409.3,591.4 409,591.9 C408.7,592.5 408.3,593.1 407.7,593.4 C407.2,593.7 406.5,594 405.9,593.9 C405.3,593.8 404.7,593.4 404.2,593 C403.8,592.6 403.6,592.1 403.4,591.6 C403.1,591.1 402.8,590.7 402.6,590.1 C402.5,589.5 402.2,588.6 402.5,588 C402.7,587.4 403.3,586.7 403.9,586.5 C404.5,586.2 405.3,586.4 405.9,586.6 C406.5,586.7 406.9,587 407.4,587.3 C407.8,587.6 408.3,587.9 408.7,588.4 C409,588.8 409.4,589.5 409.4,590.1Z" fill="none" stroke="#ffffff" stroke-width="0.65"/>
<circle cx="409.7" cy="587.3" r="1.9" fill="none" stroke="#ffffff" stroke-width="0.6"/>
<circle cx="401.7" cy="598.9" r="2" fill="none" stroke="#ffffff" stroke-width="0.6"/>
<circle cx="413.1" cy="590.2" r="1.8" fill="none" stroke="#ffffff" stroke-width="0.6"/>
<circle cx="410.5" cy="592.6" r="2.4" fill="none" stroke="#ffffff" stroke-width="0.6"/>
<circle cx="401.5" cy="593.8" r="3.8" fill="#ffffff" filter="url(#hb3)"/>
<circle cx="401.5" cy="593.8" r="3" fill="#30f060" filter="url(#hb3)"/>
<circle cx="401.5" cy="593.8" r="2.4" fill="#00d0ff" filter="url(#hb3)"/>
<circle cx="401.5" cy="593.8" r="1.8" fill="#0000ff"/>
<circle cx="407.9" cy="587.5" r="3" fill="#ffff60" filter="url(#hb3)"/>
<circle cx="407.9" cy="587.5" r="2.2" fill="#10f030" filter="url(#hb3)"/>
<path d="M373.1,432 L398.1,432 C399.1,440 394.6,445.7 390.6,445.6 C388.1,445.4 386.4,442.5 385.6,440.3 C384.8,442.5 383.1,445.4 380.6,445.6 C376.6,445.7 372.1,440 373.1,432 Z" fill="#00ffff" stroke="#00ffe8" stroke-width="3.6" filter="url(#hb2)"/>
<path d="M385.6,465.4 C391.6,466.6 398.4,473.6 398.4,478.6 C398.4,483.6 391.6,491.1 385.6,492 C379.6,491.1 372.8,483.6 372.8,478.6 C372.8,473.6 379.6,466.6 385.6,465.4 Z" fill="#00ffff" stroke="#00ffe8" stroke-width="3.6" filter="url(#hb2)"/>
<path d="M380.6,518 C380.6,508.5 390.6,508.5 390.6,518 C391.1,519 392.6,517.5 396.1,517.5 C401.8,517.5 401.8,529.5 396.1,529.5 C392.6,529.5 391.1,530 390.6,531 C390.6,538.5 380.6,538.5 380.6,531 C380.1,530 378.6,529.5 375.1,529.5 C368.8,529.5 368.8,517.5 375.1,517.5 C378.6,517.5 380.1,519 380.6,518 Z" fill="#00ffff" stroke="#00ffe8" stroke-width="3.6" filter="url(#hb2)"/>
<path d="M379.3,561.8 m-6.6,0 a6.6,6.6 0 1,0 13.2,0 a6.6,6.6 0 1,0 -13.2,0 M391.9,561.8 m-6.6,0 a6.6,6.6 0 1,0 13.2,0 a6.6,6.6 0 1,0 -13.2,0 M391.9,573.8 m-6.6,0 a6.6,6.6 0 1,0 13.2,0 a6.6,6.6 0 1,0 -13.2,0 M379.3,573.8 m-6.6,0 a6.6,6.6 0 1,0 13.2,0 a6.6,6.6 0 1,0 -13.2,0 M379.6,563.3 h12 v9 h-12 z M381.1,561.8 h9 v12 h-9 z" fill="#00ffff" stroke="#00ffe8" stroke-width="3.6" filter="url(#hb2)"/>
<path d="M372.6,615 C373.1,606 379.6,600.2 385.6,600.2 C391.6,600.2 398.1,606 398.6,615 Z" fill="#00ffff" stroke="#00ffe8" stroke-width="3.6" filter="url(#hb2)"/>
<path d="M373.1,432 L398.1,432 C399.1,440 394.6,445.7 390.6,445.6 C388.1,445.4 386.4,442.5 385.6,440.3 C384.8,442.5 383.1,445.4 380.6,445.6 C376.6,445.7 372.1,440 373.1,432 Z" fill="#0070ff" stroke="#0080ff" stroke-width="1.3" filter="url(#hb3)"/>
<path d="M385.6,465.4 C391.6,466.6 398.4,473.6 398.4,478.6 C398.4,483.6 391.6,491.1 385.6,492 C379.6,491.1 372.8,483.6 372.8,478.6 C372.8,473.6 379.6,466.6 385.6,465.4 Z" fill="#0070ff" stroke="#0080ff" stroke-width="1.3" filter="url(#hb3)"/>
<path d="M380.6,518 C380.6,508.5 390.6,508.5 390.6,518 C391.1,519 392.6,517.5 396.1,517.5 C401.8,517.5 401.8,529.5 396.1,529.5 C392.6,529.5 391.1,530 390.6,531 C390.6,538.5 380.6,538.5 380.6,531 C380.1,530 378.6,529.5 375.1,529.5 C368.8,529.5 368.8,517.5 375.1,517.5 C378.6,517.5 380.1,519 380.6,518 Z" fill="#0070ff" stroke="#0080ff" stroke-width="1.3" filter="url(#hb3)"/>
<path d="M379.3,561.8 m-6.6,0 a6.6,6.6 0 1,0 13.2,0 a6.6,6.6 0 1,0 -13.2,0 M391.9,561.8 m-6.6,0 a6.6,6.6 0 1,0 13.2,0 a6.6,6.6 0 1,0 -13.2,0 M391.9,573.8 m-6.6,0 a6.6,6.6 0 1,0 13.2,0 a6.6,6.6 0 1,0 -13.2,0 M379.3,573.8 m-6.6,0 a6.6,6.6 0 1,0 13.2,0 a6.6,6.6 0 1,0 -13.2,0 M379.6,563.3 h12 v9 h-12 z M381.1,561.8 h9 v12 h-9 z" fill="#0070ff" stroke="#0080ff" stroke-width="1.3" filter="url(#hb3)"/>
<path d="M372.6,615 C373.1,606 379.6,600.2 385.6,600.2 C391.6,600.2 398.1,606 398.6,615 Z" fill="#0070ff" stroke="#0080ff" stroke-width="1.3" filter="url(#hb3)"/>
<path d="M373.1,432 L398.1,432 C399.1,440 394.6,445.7 390.6,445.6 C388.1,445.4 386.4,442.5 385.6,440.3 C384.8,442.5 383.1,445.4 380.6,445.6 C376.6,445.7 372.1,440 373.1,432 Z" fill="#0000ff"/>
<path d="M385.6,465.4 C391.6,466.6 398.4,473.6 398.4,478.6 C398.4,483.6 391.6,491.1 385.6,492 C379.6,491.1 372.8,483.6 372.8,478.6 C372.8,473.6 379.6,466.6 385.6,465.4 Z" fill="#0000ff"/>
<path d="M380.6,518 C380.6,508.5 390.6,508.5 390.6,518 C391.1,519 392.6,517.5 396.1,517.5 C401.8,517.5 401.8,529.5 396.1,529.5 C392.6,529.5 391.1,530 390.6,531 C390.6,538.5 380.6,538.5 380.6,531 C380.1,530 378.6,529.5 375.1,529.5 C368.8,529.5 368.8,517.5 375.1,517.5 C378.6,517.5 380.1,519 380.6,518 Z" fill="#0000ff"/>
<path d="M379.3,561.8 m-6.6,0 a6.6,6.6 0 1,0 13.2,0 a6.6,6.6 0 1,0 -13.2,0 M391.9,561.8 m-6.6,0 a6.6,6.6 0 1,0 13.2,0 a6.6,6.6 0 1,0 -13.2,0 M391.9,573.8 m-6.6,0 a6.6,6.6 0 1,0 13.2,0 a6.6,6.6 0 1,0 -13.2,0 M379.3,573.8 m-6.6,0 a6.6,6.6 0 1,0 13.2,0 a6.6,6.6 0 1,0 -13.2,0 M379.6,563.3 h12 v9 h-12 z M381.1,561.8 h9 v12 h-9 z" fill="#0000ff"/>
<path d="M372.6,615 C373.1,606 379.6,600.2 385.6,600.2 C391.6,600.2 398.1,606 398.6,615 Z" fill="#0000ff"/>
<circle cx="374.1" cy="567.8" r="1.3" fill="#ffb000"/>
<circle cx="397.1" cy="567.8" r="1.3" fill="#ffb000"/>
</g>
<text x="385.6" y="484.9" font-size="14.6" font-weight="bold" text-anchor="middle" fill="#ffffff">Mn</text>
<text x="385.6" y="529.5" font-size="14.6" font-weight="bold" text-anchor="middle" fill="#ffffff">Ti</text>
<text x="385.6" y="573.2" font-size="14.6" font-weight="bold" text-anchor="middle" fill="#ffffff">Ni</text>
<rect x="431.6" y="433.9" width="7.3" height="178.7" fill="url(#hcb)"/>
<line x1="438.9" y1="451.8" x2="441" y2="451.8" stroke="#999" stroke-width="0.6"/>
<line x1="438.9" y1="469.6" x2="441" y2="469.6" stroke="#999" stroke-width="0.6"/>
<line x1="438.9" y1="487.5" x2="441" y2="487.5" stroke="#999" stroke-width="0.6"/>
<line x1="438.9" y1="505.4" x2="441" y2="505.4" stroke="#999" stroke-width="0.6"/>
<line x1="438.9" y1="523.2" x2="441" y2="523.2" stroke="#999" stroke-width="0.6"/>
<line x1="438.9" y1="541.1" x2="441" y2="541.1" stroke="#999" stroke-width="0.6"/>
<line x1="438.9" y1="559" x2="441" y2="559" stroke="#999" stroke-width="0.6"/>
<line x1="438.9" y1="576.9" x2="441" y2="576.9" stroke="#999" stroke-width="0.6"/>
<line x1="438.9" y1="594.7" x2="441" y2="594.7" stroke="#999" stroke-width="0.6"/>
<text transform="translate(443.7,440.0) scale(0.86,1)" font-size="15.6" font-weight="bold" fill="#ff0000">0.1</text>
<text transform="translate(444.3,618.6) scale(0.88,1)" font-size="16" font-weight="bold" fill="#0a0aff">-0.1</text>
<text x="476.6" y="434.3" font-size="17" font-weight="bold" fill="#000">i</text>
<g clip-path="url(#icL)" fill="none">
<line x1="529.5" y1="445.5" x2="529.5" y2="601.5" stroke="#cfcfcf" stroke-width="1"/>
<line x1="538.5" y1="445.5" x2="538.5" y2="601.5" stroke="#cfcfcf" stroke-width="1"/>
<line x1="567" y1="445.5" x2="567" y2="601.5" stroke="#cfcfcf" stroke-width="1"/>
<path d="M507.5,461.1 510.2,461.4 513,462.1 515.8,463.3 518.5,464.6 521.2,466 524,467.1 526.8,467.9 529.5,468.1 532.5,468.2 535.5,468.4 538.5,468.5 541.1,468.3 543.7,467.9 546.3,467.1 548.9,466.1 551.5,465 554,463.8 556.6,462.7 559.2,461.7 561.8,461 564.4,460.5 567,460.3 569.5,460.5 572,461.2 574.5,462.2 577,463.4 579.5,464.7 582,465.9 584.5,466.9 587,467.5 589.5,467.7 M507.5,463.1 510.2,463.3 513,464 515.8,465.1 518.5,466.4 521.2,467.6 524,468.7 526.8,469.4 529.5,469.7 532.5,469.8 535.5,470 538.5,470.1 541.1,469.9 543.7,469.5 546.3,468.7 548.9,467.8 551.5,466.7 554,465.6 556.6,464.5 559.2,463.6 561.8,462.9 564.4,462.4 567,462.3 569.5,462.5 572,463.1 574.5,464.1 577,465.3 579.5,466.6 582,467.8 584.5,468.8 587,469.5 589.5,469.7 M507.5,465 510.2,465.2 513,465.9 515.8,466.9 518.5,468.1 521.2,469.3 524,470.3 526.8,471 529.5,471.2 532.5,471.3 535.5,471.5 538.5,471.6 541.1,471.5 543.7,471 546.3,470.4 548.9,469.5 551.5,468.5 554,467.4 556.6,466.4 559.2,465.5 561.8,464.8 564.4,464.4 567,464.2 569.5,464.4 572,465.1 574.5,466.1 577,467.3 579.5,468.6 582,469.8 584.5,470.8 587,471.4 589.5,471.6 M507.5,466.9 510.2,467.2 513,467.8 515.8,468.8 518.5,469.9 521.2,471 524,471.9 526.8,472.6 529.5,472.8 532.5,472.9 535.5,473.1 538.5,473.2 541.1,473 543.7,472.6 546.3,472 548.9,471.1 551.5,470.2 554,469.2 556.6,468.2 559.2,467.4 561.8,466.7 564.4,466.3 567,466.2 569.5,466.4 572,467 574.5,468 577,469.2 579.5,470.5 582,471.7 584.5,472.7 587,473.4 589.5,473.6 M507.5,468.9 510.2,469.1 513,469.7 515.8,470.6 518.5,471.6 521.2,472.7 524,473.6 526.8,474.2 529.5,474.4 532.5,474.5 535.5,474.7 538.5,474.8 541.1,474.6 543.7,474.2 546.3,473.6 548.9,472.8 551.5,471.9 554,471 556.6,470.1 559.2,469.3 561.8,468.6 564.4,468.3 567,468.1 569.5,468.3 572,469 574.5,470 577,471.2 579.5,472.5 582,473.7 584.5,474.7 587,475.3 589.5,475.5 M507.5,467.3 510.2,467.5 513,467.8 515.8,468.3 518.5,468.9 521.2,469.5 524,470 526.8,470.3 529.5,470.5 532.5,470.5 535.5,470.5 538.5,470.5 541.1,470.4 543.7,470.4 546.3,470.3 548.9,470.2 551.5,470.1 554,470 556.6,469.9 559.2,469.8 561.8,469.7 564.4,469.7 567,469.7 569.5,469.7 572,469.6 574.5,469.5 577,469.4 579.5,469.2 582,469.1 584.5,469 587,468.9 589.5,468.9 M507.5,469.3 510.2,469.4 513,469.7 515.8,470.3 518.5,470.9 521.2,471.4 524,472 526.8,472.3 529.5,472.4 532.5,472.4 535.5,472.4 538.5,472.4 541.1,472.4 543.7,472.3 546.3,472.3 548.9,472.2 551.5,472.1 554,472 556.6,471.9 559.2,471.8 561.8,471.7 564.4,471.6 567,471.6 569.5,471.6 572,471.5 574.5,471.4 577,471.3 579.5,471.2 582,471 584.5,470.9 587,470.9 589.5,470.9 M507.5,471.2 510.2,471.4 513,471.7 515.8,472.2 518.5,472.8 521.2,473.4 524,473.9 526.8,474.2 529.5,474.4 532.5,474.4 535.5,474.4 538.5,474.4 541.1,474.3 543.7,474.3 546.3,474.2 548.9,474.1 551.5,474 554,473.9 556.6,473.8 559.2,473.7 561.8,473.6 564.4,473.6 567,473.6 569.5,473.6 572,473.5 574.5,473.4 577,473.3 579.5,473.1 582,473 584.5,472.9 587,472.8 589.5,472.8 M507.5,470.5 510.2,470.8 513,471.9 515.8,473.6 518.5,475.5 521.2,477.5 524,479.1 526.8,480.2 529.5,480.6 532.5,480.4 535.5,480 538.5,479.8 541.1,479.6 543.7,479 546.3,478.1 548.9,476.9 551.5,475.5 554,474 556.6,472.6 559.2,471.4 561.8,470.5 564.4,469.9 567,469.7 569.5,470 572,470.8 574.5,472 577,473.5 579.5,475.2 582,476.7 584.5,477.9 587,478.8 589.5,479 M507.5,472.2 510.2,472.6 513,473.6 515.8,475.1 518.5,476.9 521.2,478.7 524,480.3 526.8,481.3 529.5,481.7 532.5,481.5 535.5,481.1 538.5,480.9 541.1,480.7 543.7,480.1 546.3,479.2 548.9,478.1 551.5,476.8 554,475.5 556.6,474.2 559.2,473.1 561.8,472.2 564.4,471.6 567,471.4 569.5,471.7 572,472.5 574.5,473.6 577,475.1 579.5,476.6 582,478.1 584.5,479.2 587,480 589.5,480.3 M507.5,474 510.2,474.3 513,475.2 515.8,476.7 518.5,478.3 521.2,480 524,481.4 526.8,482.4 529.5,482.7 532.5,482.5 535.5,482.1 538.5,481.9 541.1,481.7 543.7,481.2 546.3,480.4 548.9,479.4 551.5,478.2 554,476.9 556.6,475.7 559.2,474.7 561.8,473.9 564.4,473.4 567,473.2 569.5,473.4 572,474.2 574.5,475.3 577,476.6 579.5,478.1 582,479.4 584.5,480.5 587,481.2 589.5,481.5 M507.5,475.7 510.2,476 513,476.9 515.8,478.2 518.5,479.7 521.2,481.3 524,482.6 526.8,483.5 529.5,483.8 532.5,483.6 535.5,483.2 538.5,483 541.1,482.8 543.7,482.3 546.3,481.6 548.9,480.6 551.5,479.5 554,478.4 556.6,477.3 559.2,476.3 561.8,475.6 564.4,475.1 567,474.9 569.5,475.2 572,475.9 574.5,476.9 577,478.2 579.5,479.5 582,480.8 584.5,481.8 587,482.5 589.5,482.7 M507.5,477.5 510.2,477.8 513,478.6 515.8,479.7 518.5,481.1 521.2,482.5 524,483.7 526.8,484.5 529.5,484.8 532.5,484.6 535.5,484.2 538.5,484 541.1,483.9 543.7,483.5 546.3,482.8 548.9,481.9 551.5,480.9 554,479.8 556.6,478.8 559.2,478 561.8,477.3 564.4,476.8 567,476.7 569.5,476.9 572,477.5 574.5,478.5 577,479.7 579.5,481 582,482.1 584.5,483.1 587,483.7 589.5,484 M507.5,482.2 510.2,482.2 513,482.4 515.8,482.8 518.5,483.1 521.2,483.5 524,483.8 526.8,484 529.5,484.1 532.5,484 535.5,483.8 538.5,483.7 541.1,483.7 543.7,483.6 546.3,483.4 548.9,483.2 551.5,482.9 554,482.6 556.6,482.3 559.2,482.1 561.8,481.9 564.4,481.8 567,481.8 569.5,481.8 572,482 574.5,482.3 577,482.6 579.5,482.9 582,483.2 584.5,483.5 587,483.7 589.5,483.7 M507.5,483.9 510.2,484 513,484.3 515.8,484.6 518.5,485.1 521.2,485.5 524,485.9 526.8,486.1 529.5,486.2 532.5,486.1 535.5,485.8 538.5,485.7 541.1,485.6 543.7,485.5 546.3,485.3 548.9,485 551.5,484.7 554,484.4 556.6,484.1 559.2,483.9 561.8,483.7 564.4,483.6 567,483.5 569.5,483.6 572,483.8 574.5,484.1 577,484.5 579.5,484.9 582,485.3 584.5,485.6 587,485.8 589.5,485.8 M507.5,485.7 510.2,485.8 513,486.1 515.8,486.5 518.5,487 521.2,487.5 524,487.9 526.8,488.2 529.5,488.3 532.5,488.1 535.5,487.8 538.5,487.6 541.1,487.5 543.7,487.4 546.3,487.2 548.9,486.9 551.5,486.6 554,486.3 556.6,486 559.2,485.7 561.8,485.5 564.4,485.3 567,485.3 569.5,485.4 572,485.6 574.5,485.9 577,486.4 579.5,486.8 582,487.3 584.5,487.6 587,487.9 589.5,487.9 M507.5,487.4 510.2,487.5 513,487.9 515.8,488.4 518.5,488.9 521.2,489.5 524,490 526.8,490.3 529.5,490.4 532.5,490.2 535.5,489.7 538.5,489.5 541.1,489.5 543.7,489.3 546.3,489.1 548.9,488.8 551.5,488.4 554,488.1 556.6,487.8 559.2,487.5 561.8,487.2 564.4,487.1 567,487 569.5,487.1 572,487.4 574.5,487.8 577,488.3 579.5,488.8 582,489.3 584.5,489.7 587,489.9 589.5,490 M507.5,489.2 510.2,489.3 513,489.7 515.8,490.2 518.5,490.9 521.2,491.5 524,492 526.8,492.4 529.5,492.5 532.5,492.3 535.5,491.7 538.5,491.4 541.1,491.4 543.7,491.2 546.3,491 548.9,490.7 551.5,490.3 554,489.9 556.6,489.6 559.2,489.2 561.8,489 564.4,488.8 567,488.8 569.5,488.9 572,489.2 574.5,489.6 577,490.2 579.5,490.8 582,491.3 584.5,491.8 587,492 589.5,492.1 M507.5,535.2 510.2,535.4 513,536 515.8,536.9 518.5,537.9 521.2,539 524,539.9 526.8,540.5 529.5,540.7 532.5,540.6 535.5,540.4 538.5,540.3 541.1,540.2 543.7,539.9 546.3,539.4 548.9,538.8 551.5,538.1 554,537.4 556.6,536.7 559.2,536.1 561.8,535.6 564.4,535.3 567,535.2 569.5,535.4 572,535.9 574.5,536.8 577,537.8 579.5,538.9 582,539.9 584.5,540.7 587,541.3 589.5,541.4 M507.5,536.8 510.2,537 513,537.5 515.8,538.3 518.5,539.3 521.2,540.3 524,541.1 526.8,541.6 529.5,541.8 532.5,541.7 535.5,541.5 538.5,541.4 541.1,541.3 543.7,541 546.3,540.6 548.9,540 551.5,539.3 554,538.5 556.6,537.9 559.2,537.2 561.8,536.8 564.4,536.5 567,536.4 569.5,536.6 572,537.1 574.5,537.9 577,538.9 579.5,540 582,541 584.5,541.9 587,542.4 589.5,542.6 M507.5,539.1 510.2,539.3 513,539.8 515.8,540.5 518.5,541.4 521.2,542.3 524,543.1 526.8,543.6 529.5,543.8 532.5,543.6 535.5,543.2 538.5,543 541.1,542.9 543.7,542.8 546.3,542.5 548.9,542.1 551.5,541.7 554,541.2 556.6,540.8 559.2,540.4 561.8,540.1 564.4,539.9 567,539.9 569.5,540 572,540.4 574.5,541 577,541.7 579.5,542.4 582,543.1 584.5,543.7 587,544 589.5,544.2 M507.5,541.3 510.2,541.5 513,542.2 515.8,543.3 518.5,544.6 521.2,545.9 524,547 526.8,547.7 529.5,548 532.5,547.7 535.5,547.2 538.5,547 541.1,546.9 543.7,546.7 546.3,546.3 548.9,545.7 551.5,545.1 554,544.5 556.6,543.9 559.2,543.4 561.8,543 564.4,542.7 567,542.6 569.5,542.7 572,542.9 574.5,543.3 577,543.7 579.5,544.2 582,544.6 584.5,545 587,545.2 589.5,545.3 M507.5,542.4 510.2,542.5 513,543 515.8,543.6 518.5,544.4 521.2,545.1 524,545.8 526.8,546.2 529.5,546.4 532.5,547.1 535.5,548.5 538.5,549.1 541.1,549 543.7,548.5 546.3,547.6 548.9,546.6 551.5,545.4 554,544.1 556.6,542.9 559.2,541.9 561.8,541.1 564.4,540.5 567,540.4 569.5,540.5 572,540.9 574.5,541.5 577,542.2 579.5,543 582,543.7 584.5,544.3 587,544.6 589.5,544.8 M507.5,544.3 510.2,544.4 513,544.8 515.8,545.3 518.5,545.9 521.2,546.5 524,547 526.8,547.4 529.5,547.5 532.5,548.2 535.5,549.5 538.5,550.2 541.1,550.1 543.7,549.8 546.3,549.4 548.9,548.8 551.5,548.2 554,547.5 556.6,546.9 559.2,546.4 561.8,545.9 564.4,545.7 567,545.6 569.5,545.6 572,545.6 574.5,545.7 577,545.8 579.5,545.9 582,546.1 584.5,546.1 587,546.2 589.5,546.2 M507.5,545.2 510.2,545.2 513,545 515.8,544.7 518.5,544.4 521.2,544 524,543.7 526.8,543.6 529.5,543.5 532.5,544.1 535.5,545.3 538.5,545.8 541.1,545.8 543.7,545.8 546.3,545.8 548.9,545.7 551.5,545.7 554,545.6 556.6,545.6 559.2,545.5 561.8,545.5 564.4,545.5 567,545.4 569.5,545.4 572,545.3 574.5,545.1 577,544.9 579.5,544.7 582,544.5 584.5,544.3 587,544.2 589.5,544.2 M507.5,546.4 510.2,546.2 513,545.9 515.8,545.4 518.5,544.7 521.2,544.1 524,543.6 526.8,543.2 529.5,543.1 532.5,543 535.5,542.8 538.5,542.6 541.1,542.7 543.7,542.8 546.3,543.1 548.9,543.4 551.5,543.7 554,544.1 556.6,544.5 559.2,544.8 561.8,545 564.4,545.2 567,545.2 569.5,545.2 572,545.1 574.5,545 577,544.9 579.5,544.7 582,544.6 584.5,544.5 587,544.4 589.5,544.4 M507.5,547.3 510.2,547.6 513,548.5 515.8,549.8 518.5,551.3 521.2,552.8 524,554.1 526.8,555 529.5,555.3 532.5,554.8 535.5,553.6 538.5,553.1 541.1,553 543.7,552.6 546.3,552 548.9,551.3 551.5,550.5 554,549.6 556.6,548.8 559.2,548.1 561.8,547.5 564.4,547.1 567,547 569.5,547.2 572,547.6 574.5,548.3 577,549.1 579.5,550 582,550.8 584.5,551.5 587,552 589.5,552.1 M507.5,549.7 510.2,549.9 513,550.7 515.8,551.9 518.5,553.2 521.2,554.6 524,555.7 526.8,556.5 529.5,556.8 532.5,557.1 535.5,557.7 538.5,558 541.1,557.7 543.7,557 546.3,555.8 548.9,554.2 551.5,552.5 554,550.7 556.6,549 559.2,547.4 561.8,546.3 564.4,545.5 567,545.2 569.5,545.5 572,546.3 574.5,547.4 577,548.8 579.5,550.3 582,551.8 584.5,552.9 587,553.7 589.5,553.9 M507.5,551 510.2,551 513,551.2 515.8,551.4 518.5,551.6 521.2,551.9 524,552.1 526.8,552.2 529.5,552.3 532.5,552.1 535.5,551.7 538.5,551.4 541.1,551.4 543.7,551.3 546.3,551.2 548.9,551 551.5,550.8 554,550.6 556.6,550.4 559.2,550.3 561.8,550.1 564.4,550.1 567,550 569.5,550.1 572,550.2 574.5,550.5 577,550.7 579.5,551 582,551.3 584.5,551.6 587,551.7 589.5,551.8 M507.5,551.9 510.2,552.2 513,553.1 515.8,554.3 518.5,555.8 521.2,557.3 524,558.6 526.8,559.4 529.5,559.7 532.5,560.4 535.5,561.8 538.5,562.5 541.1,562.3 543.7,561.6 546.3,560.7 548.9,559.5 551.5,558.1 554,556.6 556.6,555.2 559.2,554 561.8,553.1 564.4,552.5 567,552.3 569.5,552.4 572,552.8 574.5,553.3 577,554 579.5,554.8 582,555.5 584.5,556.1 587,556.5 589.5,556.6 M507.5,553.1 510.2,553.2 513,553.6 515.8,554.1 518.5,554.7 521.2,555.4 524,555.9 526.8,556.2 529.5,556.4 532.5,556.7 535.5,557.2 538.5,557.5 541.1,557.4 543.7,557 546.3,556.3 548.9,555.5 551.5,554.5 554,553.5 556.6,552.6 559.2,551.7 561.8,551.1 564.4,550.6 567,550.5 569.5,550.6 572,551 574.5,551.6 577,552.4 579.5,553.2 582,553.9 584.5,554.5 587,554.9 589.5,555.1 M507.5,554.8 510.2,554.9 513,555.5 515.8,556.2 518.5,557.2 521.2,558.1 524,558.9 526.8,559.4 529.5,559.6 532.5,559.1 535.5,558.2 538.5,557.8 541.1,557.6 543.7,557.2 546.3,556.6 548.9,555.9 551.5,555 554,554 556.6,553.2 559.2,552.4 561.8,551.8 564.4,551.4 567,551.3 569.5,551.4 572,552 574.5,552.9 577,553.9 579.5,555 582,556.1 584.5,556.9 587,557.5 589.5,557.7 M507.5,556.4 510.2,556.4 513,556.6 515.8,556.8 518.5,557.1 521.2,557.3 524,557.6 526.8,557.7 529.5,557.8 532.5,557.7 535.5,557.7 538.5,557.6 541.1,557.5 543.7,557.1 546.3,556.6 548.9,555.8 551.5,555 554,554.1 556.6,553.3 559.2,552.5 561.8,552 564.4,551.6 567,551.5 569.5,551.7 572,552.2 574.5,552.9 577,553.9 579.5,554.8 582,555.8 584.5,556.5 587,557 589.5,557.2 M507.5,557.2 510.2,557.4 513,557.9 515.8,558.7 518.5,559.7 521.2,560.6 524,561.4 526.8,562 529.5,562.1 532.5,561.4 535.5,559.9 538.5,559.2 541.1,559.1 543.7,559.1 546.3,559 548.9,558.9 551.5,558.7 554,558.6 556.6,558.5 559.2,558.4 561.8,558.3 564.4,558.2 567,558.2 569.5,558.2 572,558.4 574.5,558.7 577,559 579.5,559.3 582,559.7 584.5,559.9 587,560.1 589.5,560.2 M507.5,558.9 510.2,558.9 513,558.8 515.8,558.6 518.5,558.5 521.2,558.3 524,558.1 526.8,558.1 529.5,558 532.5,558.6 535.5,559.7 538.5,560.2 541.1,560.1 543.7,559.9 546.3,559.6 548.9,559.3 551.5,558.8 554,558.4 556.6,558 559.2,557.6 561.8,557.3 564.4,557.1 567,557 569.5,557.1 572,557.2 574.5,557.4 577,557.6 579.5,557.8 582,558 584.5,558.2 587,558.3 589.5,558.4 M507.5,560.7 510.2,560.7 513,560.7 515.8,560.8 518.5,560.8 521.2,560.9 524,560.9 526.8,560.9 529.5,560.9 532.5,560.5 535.5,559.7 538.5,559.3 541.1,559.3 543.7,559.2 546.3,559.1 548.9,559 551.5,558.8 554,558.7 556.6,558.5 559.2,558.4 561.8,558.3 564.4,558.2 567,558.2 569.5,558.3 572,558.5 574.5,558.8 577,559.3 579.5,559.7 582,560.2 584.5,560.5 587,560.8 589.5,560.8 M507.5,561.1 510.2,561.3 513,561.8 515.8,562.5 518.5,563.4 521.2,564.3 524,565.1 526.8,565.6 529.5,565.8 532.5,565.4 535.5,564.8 538.5,564.5 541.1,564.4 543.7,564 546.3,563.5 548.9,562.7 551.5,561.9 554,561 556.6,560.2 559.2,559.5 561.8,558.9 564.4,558.5 567,558.4 569.5,558.6 572,559 574.5,559.8 577,560.7 579.5,561.6 582,562.5 584.5,563.2 587,563.7 589.5,563.9 M507.5,562.8 510.2,562.9 513,563.2 515.8,563.7 518.5,564.2 521.2,564.8 524,565.3 526.8,565.6 529.5,565.7 532.5,565.2 535.5,564.1 538.5,563.6 541.1,563.4 543.7,563.1 546.3,562.5 548.9,561.8 551.5,560.9 554,560 556.6,559.2 559.2,558.4 561.8,557.9 564.4,557.5 567,557.4 569.5,557.6 572,558.2 574.5,559.2 577,560.3 579.5,561.6 582,562.7 584.5,563.7 587,564.3 589.5,564.5 M507.5,564.3 510.2,564.3 513,564.3 515.8,564.4 518.5,564.4 521.2,564.5 524,564.5 526.8,564.6 529.5,564.6 532.5,565.3 535.5,566.6 538.5,567.3 541.1,567.2 543.7,566.8 546.3,566.2 548.9,565.4 551.5,564.5 554,563.6 556.6,562.7 559.2,561.9 561.8,561.3 564.4,560.9 567,560.8 569.5,560.9 572,561.2 574.5,561.7 577,562.3 579.5,562.9 582,563.5 584.5,564 587,564.3 589.5,564.5 M507.5,565.4 510.2,565.3 513,564.9 515.8,564.3 518.5,563.5 521.2,562.8 524,562.2 526.8,561.8 529.5,561.6 532.5,561.1 535.5,560.1 538.5,559.6 541.1,559.7 543.7,560.1 546.3,560.6 548.9,561.2 551.5,562 554,562.8 556.6,563.6 559.2,564.2 561.8,564.7 564.4,565.1 567,565.2 569.5,565.1 572,564.9 574.5,564.7 577,564.3 579.5,564 582,563.7 584.5,563.4 587,563.2 589.5,563.2 M507.5,567.1 510.2,567.1 513,567.2 515.8,567.2 518.5,567.2 521.2,567.3 524,567.3 526.8,567.3 529.5,567.4 532.5,568.1 535.5,569.6 538.5,570.3 541.1,570.2 543.7,569.9 546.3,569.5 548.9,568.9 551.5,568.2 554,567.6 556.6,566.9 559.2,566.3 561.8,565.9 564.4,565.6 567,565.5 569.5,565.5 572,565.7 574.5,565.9 577,566.2 579.5,566.5 582,566.8 584.5,567.1 587,567.2 589.5,567.3 M507.5,568.7 510.2,569 513,569.8 515.8,570.9 518.5,572.3 521.2,573.7 524,574.8 526.8,575.6 529.5,575.9 532.5,576.5 535.5,577.9 538.5,578.6 541.1,578.3 543.7,577.5 546.3,576.2 548.9,574.5 551.5,572.6 554,570.7 556.6,568.8 559.2,567.1 561.8,565.8 564.4,565 567,564.7 569.5,564.9 572,565.7 574.5,566.8 577,568.1 579.5,569.6 582,570.9 584.5,572 587,572.8 589.5,573 M507.5,570.1 510.2,570.4 513,571 515.8,571.8 518.5,572.9 521.2,573.9 524,574.8 526.8,575.4 529.5,575.6 532.5,575.8 535.5,576.1 538.5,576.3 541.1,576.1 543.7,575.4 546.3,574.4 548.9,573.1 551.5,571.6 554,570 556.6,568.5 559.2,567.2 561.8,566.2 564.4,565.5 567,565.3 569.5,565.5 572,566.3 574.5,567.3 577,568.7 579.5,570.1 582,571.4 584.5,572.5 587,573.2 589.5,573.4 M507.5,571.6 510.2,571.7 513,572 515.8,572.5 518.5,573.1 521.2,573.6 524,574.1 526.8,574.4 529.5,574.5 532.5,574.5 535.5,574.3 538.5,574.2 541.1,574.1 543.7,573.6 546.3,572.9 548.9,572 551.5,571 554,569.9 556.6,568.9 559.2,567.9 561.8,567.2 564.4,566.8 567,566.6 569.5,566.8 572,567.4 574.5,568.3 577,569.4 579.5,570.6 582,571.7 584.5,572.6 587,573.2 589.5,573.4 M507.5,572.1 510.2,572 513,571.7 515.8,571.4 518.5,571 521.2,570.5 524,570.2 526.8,570 529.5,569.9 532.5,570.2 535.5,570.9 538.5,571.3 541.1,571.2 543.7,571.2 546.3,571.2 548.9,571.1 551.5,571.1 554,571 556.6,570.9 559.2,570.9 561.8,570.8 564.4,570.8 567,570.8 569.5,570.8 572,570.8 574.5,570.8 577,570.8 579.5,570.8 582,570.8 584.5,570.8 587,570.8 589.5,570.7 M507.5,574 510.2,573.9 513,573.6 515.8,573.2 518.5,572.7 521.2,572.3 524,571.9 526.8,571.6 529.5,571.5 532.5,570.8 535.5,569.4 538.5,568.7 541.1,568.8 543.7,569.1 546.3,569.7 548.9,570.4 551.5,571.3 554,572.1 556.6,573 559.2,573.7 561.8,574.3 564.4,574.6 567,574.7 569.5,574.7 572,574.5 574.5,574.2 577,573.8 579.5,573.4 582,573.1 584.5,572.8 587,572.6 589.5,572.5 M507.5,575.6 510.2,575.8 513,576.4 515.8,577.3 518.5,578.4 521.2,579.5 524,580.4 526.8,581 529.5,581.2 532.5,581.7 535.5,582.5 538.5,582.9 541.1,582.7 543.7,582.2 546.3,581.3 548.9,580.2 551.5,579 554,577.7 556.6,576.4 559.2,575.3 561.8,574.4 564.4,573.9 567,573.7 569.5,573.9 572,574.3 574.5,575 577,575.9 579.5,576.8 582,577.7 584.5,578.4 587,578.8 589.5,579 M507.5,576.4 510.2,576.6 513,577.2 515.8,578.1 518.5,579.1 521.2,580.1 524,581 526.8,581.5 529.5,581.7 532.5,582.5 535.5,584.1 538.5,584.8 541.1,584.6 543.7,584.1 546.3,583.2 548.9,582 551.5,580.7 554,579.3 556.6,578 559.2,576.8 561.8,575.9 564.4,575.3 567,575.1 569.5,575.3 572,575.6 574.5,576.2 577,577 579.5,577.8 582,578.5 584.5,579.1 587,579.5 589.5,579.6 M507.5,578.1 510.2,578.1 513,578.3 515.8,578.5 518.5,578.8 521.2,579.1 524,579.3 526.8,579.5 529.5,579.6 532.5,578.9 535.5,577.4 538.5,576.7 541.1,576.7 543.7,576.6 546.3,576.4 548.9,576.1 551.5,575.8 554,575.5 556.6,575.2 559.2,575 561.8,574.8 564.4,574.7 567,574.6 569.5,574.8 572,575.1 574.5,575.7 577,576.4 579.5,577.2 582,577.9 584.5,578.5 587,578.8 589.5,579 M507.5,579.3 510.2,579.3 513,579.4 515.8,579.5 518.5,579.7 521.2,579.9 524,580 526.8,580.1 529.5,580.1 532.5,579.8 535.5,579.3 538.5,579 541.1,579.1 543.7,579.2 546.3,579.3 548.9,579.5 551.5,579.8 554,580 556.6,580.3 559.2,580.5 561.8,580.6 564.4,580.7 567,580.8 569.5,580.8 572,580.7 574.5,580.5 577,580.4 579.5,580.2 582,580 584.5,579.9 587,579.8 589.5,579.8 M507.5,580.2 510.2,580.1 513,580 515.8,579.8 518.5,579.6 521.2,579.4 524,579.2 526.8,579.1 529.5,579 532.5,578.4 535.5,577.3 538.5,576.7 541.1,576.7 543.7,576.6 546.3,576.5 548.9,576.4 551.5,576.3 554,576.2 556.6,576.1 559.2,576 561.8,576 564.4,575.9 567,575.9 569.5,576 572,576.3 574.5,576.8 577,577.4 579.5,578 582,578.6 584.5,579.1 587,579.4 589.5,579.5 M507.5,582.1 510.2,582.3 513,582.7 515.8,583.2 518.5,583.9 521.2,584.6 524,585.2 526.8,585.6 529.5,585.7 532.5,586.3 535.5,587.6 538.5,588.2 541.1,588 543.7,587.5 546.3,586.6 548.9,585.5 551.5,584.3 554,583 556.6,581.8 559.2,580.7 561.8,579.8 564.4,579.3 567,579.1 569.5,579.3 572,579.7 574.5,580.4 577,581.3 579.5,582.2 582,583 584.5,583.7 587,584.1 589.5,584.3 M507.5,583.9 510.2,584.2 513,585 515.8,586.3 518.5,587.7 521.2,589.2 524,590.5 526.8,591.3 529.5,591.6 532.5,592.1 535.5,593 538.5,593.4 541.1,593.3 543.7,592.7 546.3,591.9 548.9,590.8 551.5,589.6 554,588.4 556.6,587.2 559.2,586.1 561.8,585.3 564.4,584.7 567,584.6 569.5,584.7 572,585 574.5,585.6 577,586.2 579.5,586.9 582,587.5 584.5,588.1 587,588.4 589.5,588.5 M507.5,584.9 510.2,585.2 513,586.1 515.8,587.4 518.5,588.9 521.2,590.4 524,591.7 526.8,592.5 529.5,592.8 532.5,593.6 535.5,595.2 538.5,596 541.1,595.8 543.7,595.1 546.3,594.2 548.9,593 551.5,591.6 554,590.1 556.6,588.7 559.2,587.5 561.8,586.5 564.4,585.9 567,585.7 569.5,585.8 572,586.2 574.5,586.7 577,587.3 579.5,588 582,588.7 584.5,589.2 587,589.6 589.5,589.7 M507.5,586.6 510.2,586.7 513,587.2 515.8,587.8 518.5,588.6 521.2,589.4 524,590 526.8,590.4 529.5,590.6 532.5,591.3 535.5,592.8 538.5,593.6 541.1,593.3 543.7,592.6 546.3,591.5 548.9,590.1 551.5,588.5 554,586.8 556.6,585.2 559.2,583.7 561.8,582.6 564.4,581.9 567,581.7 569.5,581.9 572,582.5 574.5,583.5 577,584.7 579.5,586 582,587.2 584.5,588.1 587,588.8 589.5,589 M507.5,587.3 510.2,587.6 513,588.3 515.8,589.4 518.5,590.7 521.2,592 524,593.1 526.8,593.8 529.5,594.1 532.5,594.4 535.5,595.2 538.5,595.6 541.1,595.4 543.7,594.9 546.3,594 548.9,593 551.5,591.7 554,590.4 556.6,589.2 559.2,588.1 561.8,587.3 564.4,586.7 567,586.6 569.5,586.7 572,587.1 574.5,587.8 577,588.5 579.5,589.4 582,590.2 584.5,590.8 587,591.2 589.5,591.4 M507.5,589 510.2,589.3 513,590 515.8,591.2 518.5,592.5 521.2,593.9 524,595 526.8,595.8 529.5,596 532.5,595.5 535.5,594.4 538.5,593.9 541.1,593.6 543.7,593 546.3,592 548.9,590.7 551.5,589.3 554,587.8 556.6,586.3 559.2,585 561.8,584 564.4,583.4 567,583.2 569.5,583.5 572,584.4 574.5,585.7 577,587.3 579.5,589.1 582,590.7 584.5,592 587,592.9 589.5,593.2 M507.5,590.2 510.2,590.3 513,590.6 515.8,591 518.5,591.5 521.2,592 524,592.4 526.8,592.7 529.5,592.8 532.5,593.4 535.5,594.7 538.5,595.4 541.1,595.3 543.7,595 546.3,594.7 548.9,594.2 551.5,593.7 554,593.1 556.6,592.5 559.2,592.1 561.8,591.7 564.4,591.5 567,591.4 569.5,591.4 572,591.4 574.5,591.5 577,591.5 579.5,591.6 582,591.7 584.5,591.7 587,591.7 589.5,591.8 M507.5,591.7 510.2,591.9 513,592.5 515.8,593.4 518.5,594.4 521.2,595.4 524,596.2 526.8,596.8 529.5,597 532.5,596.5 535.5,595.5 538.5,595 541.1,594.9 543.7,594.8 546.3,594.5 548.9,594.2 551.5,593.9 554,593.5 556.6,593.2 559.2,592.9 561.8,592.6 564.4,592.5 567,592.4 569.5,592.5 572,592.7 574.5,593 577,593.5 579.5,593.9 582,594.3 584.5,594.6 587,594.8 589.5,594.9 M507.5,593.5 510.2,593.4 513,593 515.8,592.5 518.5,591.8 521.2,591.2 524,590.7 526.8,590.3 529.5,590.2 532.5,590.1 535.5,590.1 538.5,590 541.1,590.1 543.7,590.4 546.3,590.8 548.9,591.3 551.5,591.8 554,592.5 556.6,593 559.2,593.5 561.8,593.9 564.4,594.2 567,594.3 569.5,594.2 572,594 574.5,593.6 577,593.1 579.5,592.7 582,592.2 584.5,591.8 587,591.6 589.5,591.5 M507.5,594.2 510.2,594.5 513,595.4 515.8,596.8 518.5,598.4 521.2,599.9 524,601.3 526.8,602.2 529.5,602.5 532.5,602.4 535.5,602.3 538.5,602.3 541.1,602 543.7,601.2 546.3,599.9 548.9,598.3 551.5,596.4 554,594.4 556.6,592.6 559.2,590.9 561.8,589.6 564.4,588.8 567,588.6 569.5,588.9 572,589.8 574.5,591.2 577,592.9 579.5,594.8 582,596.5 584.5,597.9 587,598.9 589.5,599.2 M507.5,595.2 510.2,595.2 513,595.2 515.8,595.2 518.5,595.2 521.2,595.1 524,595.1 526.8,595.1 529.5,595.1 532.5,595.5 535.5,596.2 538.5,596.6 541.1,596.6 543.7,596.4 546.3,596.2 548.9,595.9 551.5,595.6 554,595.3 556.6,595 559.2,594.7 561.8,594.5 564.4,594.4 567,594.3 569.5,594.3 572,594.4 574.5,594.5 577,594.7 579.5,594.8 582,594.9 584.5,595.1 587,595.1 589.5,595.2 M507.5,597.4 510.2,597.4 513,597.3 515.8,597.1 518.5,596.9 521.2,596.7 524,596.5 526.8,596.4 529.5,596.4 532.5,596.3 535.5,596.2 538.5,596.1 541.1,596.1 543.7,595.9 546.3,595.7 548.9,595.3 551.5,594.9 554,594.5 556.6,594.1 559.2,593.8 561.8,593.5 564.4,593.3 567,593.3 569.5,593.4 572,593.7 574.5,594.2 577,594.7 579.5,595.3 582,595.9 584.5,596.4 587,596.7 589.5,596.8 M507.5,598.6 510.2,598.8 513,599.4 515.8,600.4 518.5,601.5 521.2,602.6 524,603.5 526.8,604.2 529.5,604.4 532.5,603.9 535.5,602.9 538.5,602.4 541.1,602.2 543.7,601.7 546.3,600.8 548.9,599.6 551.5,598.3 554,597 556.6,595.6 559.2,594.5 561.8,593.6 564.4,593 567,592.8 569.5,593.1 572,593.9 574.5,595.1 577,596.7 579.5,598.3 582,599.8 584.5,601 587,601.8 589.5,602.1 M507.5,599.3 510.2,599.3 513,599.1 515.8,598.9 518.5,598.6 521.2,598.3 524,598.1 526.8,597.9 529.5,597.9 532.5,597.4 535.5,596.4 538.5,595.9 541.1,595.9 543.7,595.8 546.3,595.8 548.9,595.8 551.5,595.7 554,595.7 556.6,595.6 559.2,595.6 561.8,595.5 564.4,595.5 567,595.5 569.5,595.6 572,595.9 574.5,596.2 577,596.7 579.5,597.2 582,597.7 584.5,598.1 587,598.4 589.5,598.4 M507.5,601.4 510.2,601.5 513,601.7 515.8,602.1 518.5,602.5 521.2,602.9 524,603.2 526.8,603.5 529.5,603.5 532.5,603.8 535.5,604.2 538.5,604.5 541.1,604.4 543.7,604.3 546.3,604.2 548.9,604.1 551.5,603.9 554,603.7 556.6,603.5 559.2,603.4 561.8,603.3 564.4,603.2 567,603.2 569.5,603.1 572,603.1 574.5,603 577,603 579.5,602.9 582,602.8 584.5,602.8 587,602.7 589.5,602.7 M507.5,603 510.2,603.2 513,603.8 515.8,604.6 518.5,605.6 521.2,606.5 524,607.4 526.8,607.9 529.5,608.1 532.5,608.5 535.5,609.2 538.5,609.6 541.1,609.4 543.7,608.8 546.3,607.9 548.9,606.7 551.5,605.3 554,603.9 556.6,602.5 559.2,601.3 561.8,600.4 564.4,599.8 567,599.6 569.5,599.8 572,600.3 574.5,601.2 577,602.3 579.5,603.4 582,604.5 584.5,605.3 587,605.9 589.5,606.1 M507.5,576.1 510.2,576.5 513,577.8 515.8,579.6 518.5,581.8 521.2,583.9 524,585.8 526.8,587 529.5,587.4 532.5,587.6 535.5,588 538.5,588.1 541.1,587.9 543.7,587.3 546.3,586.4 548.9,585.1 551.5,583.7 554,582.3 556.6,580.9 559.2,579.6 561.8,578.7 564.4,578.1 567,577.9 569.5,578 572,578.4 574.5,579.1 577,579.9 579.5,580.8 582,581.6 584.5,582.3 587,582.7 589.5,582.9 M507.5,580.8 510.2,580.7 513,580.3 515.8,579.6 518.5,578.9 521.2,578.1 524,577.5 526.8,577.1 529.5,576.9 532.5,577.9 535.5,579.8 538.5,580.8 541.1,580.7 543.7,580.6 546.3,580.5 548.9,580.3 551.5,580.1 554,579.9 556.6,579.6 559.2,579.5 561.8,579.3 564.4,579.2 567,579.2 569.5,579.2 572,579.1 574.5,579 577,578.9 579.5,578.8 582,578.7 584.5,578.6 587,578.5 589.5,578.5 M507.5,582.6 510.2,582.7 513,582.8 515.8,582.9 518.5,583.1 521.2,583.2 524,583.4 526.8,583.5 529.5,583.5 532.5,584 535.5,585 538.5,585.5 541.1,585.4 543.7,585.1 546.3,584.7 548.9,584.1 551.5,583.4 554,582.6 556.6,582 559.2,581.3 561.8,580.9 564.4,580.6 567,580.5 569.5,580.6 572,580.8 574.5,581.1 577,581.6 579.5,582 582,582.5 584.5,582.8 587,583.1 589.5,583.2 M507.5,586.6 510.2,586.4 513,586 515.8,585.4 518.5,584.8 521.2,584.1 524,583.5 526.8,583.1 529.5,583 532.5,584.1 535.5,586.4 538.5,587.6 541.1,587.5 543.7,587.3 546.3,586.9 548.9,586.5 551.5,586 554,585.5 556.6,585 559.2,584.5 561.8,584.2 564.4,584 567,583.9 569.5,583.9 572,584 574.5,584 577,584.1 579.5,584.2 582,584.3 584.5,584.3 587,584.4 589.5,584.4 M507.5,590.8 510.2,591 513,591.7 515.8,592.7 518.5,593.9 521.2,595.1 524,596.2 526.8,596.8 529.5,597.1 532.5,596.3 535.5,594.7 538.5,593.9 541.1,593.8 543.7,593.5 546.3,593 548.9,592.4 551.5,591.7 554,590.9 556.6,590.2 559.2,589.6 561.8,589.1 564.4,588.8 567,588.7 569.5,588.9 572,589.4 574.5,590.2 577,591.1 579.5,592.2 582,593.1 584.5,593.9 587,594.4 589.5,594.6 M507.5,593.6 510.2,593.4 513,593.1 515.8,592.6 518.5,592 521.2,591.4 524,590.9 526.8,590.6 529.5,590.4 532.5,589.2 535.5,586.8 538.5,585.6 541.1,585.7 543.7,586.1 546.3,586.8 548.9,587.6 551.5,588.5 554,589.4 556.6,590.3 559.2,591.1 561.8,591.7 564.4,592.1 567,592.3 569.5,592.3 572,592.2 574.5,592.1 577,592 579.5,591.9 582,591.8 584.5,591.8 587,591.7 589.5,591.7 M507.5,596.9 510.2,597 513,597.2 515.8,597.5 518.5,597.9 521.2,598.2 524,598.5 526.8,598.7 529.5,598.8 532.5,598.8 535.5,598.7 538.5,598.6 541.1,598.5 543.7,598.2 546.3,597.6 548.9,596.9 551.5,596.1 554,595.3 556.6,594.5 559.2,593.8 561.8,593.2 564.4,592.9 567,592.7 569.5,592.9 572,593.4 574.5,594.1 577,594.9 579.5,595.9 582,596.7 584.5,597.4 587,597.9 589.5,598.1 M507.5,600.8 510.2,600.9 513,601 515.8,601.2 518.5,601.5 521.2,601.7 524,601.9 526.8,602.1 529.5,602.1 532.5,602.2 535.5,602.3 538.5,602.4 541.1,602.2 543.7,601.7 546.3,600.9 548.9,599.9 551.5,598.7 554,597.4 556.6,596.3 559.2,595.2 561.8,594.4 564.4,593.9 567,593.7 569.5,594 572,594.6 574.5,595.7 577,597 579.5,598.3 582,599.6 584.5,600.7 587,601.4 589.5,601.6" stroke="#e26a6f" stroke-width="0.7"/>
<ellipse cx="566" cy="577.3" rx="11" ry="5.6" fill="#fff"/>
<path d="M507.5,448.6 510.2,448.6 513,448.6 515.8,448.5 518.5,448.4 521.2,448.4 524,448.3 526.8,448.2 529.5,448.2 532.5,448.3 535.5,448.5 538.5,448.6 541.1,448.7 543.7,448.7 546.3,448.9 548.9,449.1 551.5,449.3 554,449.5 556.6,449.7 559.2,449.9 561.8,450.1 564.4,450.1 567,450.2 569.5,450.1 572,450 574.5,449.8 577,449.5 579.5,449.3 582,449 584.5,448.8 587,448.7 589.5,448.6 M507.5,448 510.2,448 513,448 515.8,447.9 518.5,447.8 521.2,447.8 524,447.7 526.8,447.7 529.5,447.6 532.5,447.7 535.5,447.9 538.5,448 541.1,448.1 543.7,448.1 546.3,448.3 548.9,448.4 551.5,448.6 554,448.8 556.6,449 559.2,449.2 561.8,449.3 564.4,449.4 567,449.4 569.5,449.4 572,449.2 574.5,449.1 577,448.8 579.5,448.6 582,448.4 584.5,448.2 587,448.1 589.5,448 M507.5,449.4 510.2,449.4 513,449.3 515.8,449.3 518.5,449.2 521.2,449.1 524,449.1 526.8,449 529.5,449 532.5,449.1 535.5,449.3 538.5,449.4 541.1,449.4 543.7,449.5 546.3,449.7 548.9,449.9 551.5,450.1 554,450.3 556.6,450.5 559.2,450.7 561.8,450.8 564.4,450.9 567,451 569.5,450.9 572,450.8 574.5,450.6 577,450.3 579.5,450 582,449.8 584.5,449.6 587,449.4 589.5,449.4 M507.5,449.8 510.2,449.7 513,449.6 515.8,449.4 518.5,449.2 521.2,449 524,448.8 526.8,448.7 529.5,448.6 532.5,448.3 535.5,447.7 538.5,447.4 541.1,447.5 543.7,447.8 546.3,448.1 548.9,448.6 551.5,449.1 554,449.7 556.6,450.2 559.2,450.7 561.8,451 564.4,451.3 567,451.4 569.5,451.3 572,451.2 574.5,451 577,450.7 579.5,450.4 582,450.2 584.5,450 587,449.8 589.5,449.8 M507.5,459.1 510.2,458.6 513,456.9 515.8,454.3 518.5,451.4 521.2,448.4 524,445.8 526.8,444.1 529.5,443.6 532.5,443.1 535.5,442.1 538.5,441.6 541.3,442.5 544,444.9 546.8,448.3 549.5,452.2 552.3,455.7 555,458.1 557.8,459 560.9,459 563.9,459.1 567,459.1 569.5,458.6 572,457.1 574.5,454.8 577,451.9 579.5,448.9 582,446 584.5,443.7 587,442.1 589.5,441.6 M507.5,459.7 510.2,459.1 513,457.4 515.8,454.9 518.5,451.8 521.2,448.8 524,446.3 526.8,444.5 529.5,443.9 532.5,443.4 535.5,442.2 538.5,441.6 541.3,442.5 544,445 546.8,448.6 549.5,452.6 552.3,456.2 555,458.7 557.8,459.5 560.9,459.5 563.9,459.5 567,459.5 569.5,459 572,457.4 574.5,455.1 577,452.1 579.5,449 582,446.1 584.5,443.7 587,442.1 589.5,441.6 M507.5,458.8 510.2,458.2 513,456.6 515.8,454.2 518.5,451.4 521.2,448.5 524,446.1 526.8,444.5 529.5,443.9 532.5,444.1 535.5,444.5 538.5,444.7 541,445.3 543.5,446.8 546,449.1 548.5,451.7 551,454.4 553.5,456.7 556,458.2 558.5,458.8 561.3,459 564.2,459.3 567,459.5 569.5,459 572,457.4 574.5,454.9 577,451.8 579.5,448.6 582,445.5 584.5,443 587,441.4 589.5,440.8 M507.5,450.6 510.2,450.2 513,449 515.8,447.2 518.5,445.1 521.2,443 524,441.2 526.8,440.1 529.5,439.6 532.5,440.1 535.5,441.1 538.5,441.6 541.1,441.7 543.7,442.1 546.3,442.6 548.9,443.3 551.5,444.1 554,444.9 556.6,445.7 559.2,446.4 561.8,447 564.4,447.3 567,447.4 569.5,447.3 572,446.8 574.5,446 577,445 579.5,444 582,443.1 584.5,442.3 587,441.8 589.5,441.6 M507.5,538.3 510.2,538.7 513,539.7 515.8,541.2 518.5,543 521.2,544.8 524,546.3 526.8,547.3 529.5,547.7 532.5,548 535.5,548.6 538.5,548.9 541.1,548.6 543.7,548 546.3,547 548.9,545.8 551.5,544.3 554,542.8 556.6,541.4 559.2,540.1 561.8,539.2 564.4,538.5 567,538.3 569.5,538.6 572,539.2 574.5,540.3 577,541.5 579.5,542.9 582,544.2 584.5,545.2 587,545.9 589.5,546.1 M507.5,539.5 510.2,539.8 513,540.9 515.8,542.4 518.5,544.2 521.2,546 524,547.5 526.8,548.5 529.5,548.9 532.5,549.1 535.5,549.7 538.5,550 541.1,549.8 543.7,549.2 546.3,548.2 548.9,546.9 551.5,545.5 554,544 556.6,542.6 559.2,541.3 561.8,540.3 564.4,539.7 567,539.5 569.5,539.7 572,540.4 574.5,541.4 577,542.7 579.5,544.1 582,545.3 584.5,546.4 587,547.1 589.5,547.3 M507.5,545.3 510.2,545.4 513,545.4 515.8,545.5 518.5,545.5 521.2,545.6 524,545.7 526.8,545.7 529.5,545.7 532.5,546 535.5,546.6 538.5,546.9 541.1,546.8 543.7,546.6 546.3,546.2 548.9,545.8 551.5,545.2 554,544.7 556.6,544.1 559.2,543.7 561.8,543.3 564.4,543.1 567,543 569.5,543.1 572,543.5 574.5,544.2 577,544.9 579.5,545.7 582,546.5 584.5,547.1 587,547.5 589.5,547.7 M507.5,549.6 510.2,549.9 513,550.5 515.8,551.6 518.5,552.8 521.2,553.9 524,555 526.8,555.6 529.5,555.9 532.5,555.8 535.5,555.6 538.5,555.5 541.1,555.4 543.7,555.1 546.3,554.7 548.9,554.1 551.5,553.5 554,552.8 556.6,552.2 559.2,551.6 561.8,551.2 564.4,550.9 567,550.8 569.5,550.8 572,550.8 574.5,550.7 577,550.6 579.5,550.6 582,550.5 584.5,550.5 587,550.4 589.5,550.4 M507.5,550.8 510.2,551 513,551.7 515.8,552.7 518.5,553.9 521.2,555.1 524,556.1 526.8,556.8 529.5,557 532.5,556.9 535.5,556.7 538.5,556.6 541.1,556.6 543.7,556.3 546.3,555.8 548.9,555.3 551.5,554.6 554,554 556.6,553.3 559.2,552.8 561.8,552.3 564.4,552.1 567,552 569.5,552 572,551.9 574.5,551.9 577,551.8 579.5,551.7 582,551.7 584.5,551.6 587,551.6 589.5,551.6 M507.5,559.4 510.2,559.7 513,560.6 515.8,562 518.5,563.7 521.2,565.3 524,566.7 526.8,567.6 529.5,568 532.5,567.6 535.5,566.8 538.5,566.4 541.1,566.3 543.7,565.9 546.3,565.3 548.9,564.5 551.5,563.6 554,562.6 556.6,561.7 559.2,560.9 561.8,560.3 564.4,559.9 567,559.8 569.5,559.8 572,560 574.5,560.3 577,560.6 579.5,560.9 582,561.2 584.5,561.5 587,561.7 589.5,561.7 M507.5,560.5 510.2,560.9 513,561.8 515.8,563.2 518.5,564.8 521.2,566.5 524,567.9 526.8,568.8 529.5,569.1 532.5,568.7 535.5,568 538.5,567.6 541.1,567.4 543.7,567 546.3,566.4 548.9,565.6 551.5,564.7 554,563.8 556.6,562.9 559.2,562.1 561.8,561.5 564.4,561.1 567,560.9 569.5,561 572,561.2 574.5,561.4 577,561.7 579.5,562.1 582,562.4 584.5,562.7 587,562.8 589.5,562.9 M507.5,570.3 510.2,570.7 513,572 515.8,573.9 518.5,576.1 521.2,578.4 524,580.3 526.8,581.6 529.5,582 532.5,580 535.5,576.1 538.5,574.2 541.2,574 544,573.4 546.8,572.6 549.5,571.9 552.2,571.3 555,571.1 558,571 561,570.9 564,570.7 567,570.7 569.8,570.8 572.5,571.1 575.2,571.4 578,571.5 580.9,573 583.8,576.7 586.6,580.5 589.5,582 M507.5,571.5 510.2,571.9 513,573.3 515.8,575.3 518.5,577.7 521.2,580.1 524,582.1 526.8,583.5 529.5,584 532.5,582 535.5,578.1 538.5,576.1 541,576 543.5,575.4 546,574.6 548.5,573.8 551,573 553.5,572.4 556,572.2 558.8,572.2 561.5,572.1 564.2,571.9 567,571.9 569.8,572 572.5,572.2 575.2,572.5 578,572.6 580.9,574.3 583.8,578.3 586.6,582.3 589.5,584 M507.5,582 510.2,582.3 513,583.1 515.8,584.4 518.5,585.9 521.2,587.4 524,588.7 526.8,589.5 529.5,589.8 532.5,587.9 535.5,584 538.5,582 541.2,582.1 544,582.2 546.8,582.4 549.5,582.6 552.2,582.7 555,582.8 558,583 561,583.6 564,584.1 567,584.3 569.8,584.1 572.5,583.6 575.2,583 578,582.8 580.9,582.4 583.8,581.4 586.6,580.4 589.5,580 M507.5,572.2 510.2,573.2 513,576 515.8,580.1 518.5,584.9 521.2,589.8 524,593.9 526.8,596.6 529.5,597.6 532.5,596.1 535.5,593.2 538.5,591.8 541,591.4 543.5,590.3 546,588.7 548.5,587 551,585.4 553.5,584.3 556,584 558.8,584.2 561.5,584.9 564.2,585.6 567,585.9 569.5,585.7 572,585 574.5,584 577,582.7 579.5,581.3 582,580 584.5,579 587,578.3 589.5,578.1 M507.5,580 510.2,579.8 513,579.2 515.8,578.2 518.5,577.1 521.2,576 524,575.1 526.8,574.4 529.5,574.2 532.5,575.2 535.5,577.1 538.5,578.1 541.1,578.2 543.7,578.7 546.3,579.3 548.9,580.2 551.5,581.1 554,582.1 556.6,583.1 559.2,583.9 561.8,584.6 564.4,585 567,585.1 569.5,584.8 572,583.8 574.5,582.4 577,580.6 579.5,578.7 582,576.9 584.5,575.5 587,574.5 589.5,574.2 M507.5,570.7 510.2,571.1 513,572.2 515.8,573.9 518.5,576 521.2,578 524,579.7 526.8,580.8 529.5,581.2 532.5,582.4 535.5,584.7 538.5,585.9 541.1,586 543.7,586.2 546.3,586.6 548.9,587 551.5,587.6 554,588.1 556.6,588.7 559.2,589.1 561.8,589.5 564.4,589.7 567,589.8 569.5,589.6 572,588.9 574.5,587.9 577,586.6 579.5,585.2 582,584 584.5,582.9 587,582.2 589.5,582 M507.5,571.9 510.2,572.3 513,573.5 515.8,575.2 518.5,577.3 521.2,579.4 524,581.2 526.8,582.4 529.5,582.8 532.5,584 535.5,586.6 538.5,587.9 541.1,587.9 543.7,588.2 546.3,588.5 548.9,589 551.5,589.5 554,590.1 556.6,590.6 559.2,591.1 561.8,591.4 564.4,591.7 567,591.8 569.5,591.5 572,590.8 574.5,589.8 577,588.5 579.5,587.2 582,585.9 584.5,584.9 587,584.2 589.5,584 M507.5,573.5 510.2,573.6 513,573.9 515.8,574.4 518.5,575 521.2,575.5 524,576 526.8,576.4 529.5,576.5 532.5,575.2 535.5,572.6 538.5,571.4 541.1,571.2 543.7,570.9 546.3,570.4 548.9,569.7 551.5,569 554,568.2 556.6,567.4 559.2,566.8 561.8,566.3 564.4,565.9 567,565.8 569.5,566.1 572,566.9 574.5,568.2 577,569.7 579.5,571.4 582,572.9 584.5,574.2 587,575 589.5,575.3 M507.5,575.3 510.2,575.5 513,576 515.8,576.7 518.5,577.6 521.2,578.5 524,579.2 526.8,579.7 529.5,579.9 532.5,580.7 535.5,582.4 538.5,583.2 541.1,583 543.7,582.7 546.3,582 548.9,581.3 551.5,580.3 554,579.4 556.6,578.5 559.2,577.7 561.8,577.1 564.4,576.7 567,576.6 569.5,576.6 572,576.7 574.5,576.9 577,577.2 579.5,577.5 582,577.7 584.5,577.9 587,578 589.5,578.1 M507.5,578.3 510.2,578.6 513,579.5 515.8,580.7 518.5,582.2 521.2,583.7 524,584.9 526.8,585.8 529.5,586.1 532.5,585.7 535.5,585 538.5,584.6 541.1,584.3 543.7,583.6 546.3,582.4 548.9,580.8 551.5,579.1 554,577.2 556.6,575.5 559.2,573.9 561.8,572.7 564.4,572 567,571.7 569.5,572 572,573 574.5,574.5 577,576.4 579.5,578.3 582,580.2 584.5,581.7 587,582.6 589.5,583 M507.5,579.2 510.2,579.3 513,579.5 515.8,579.9 518.5,580.3 521.2,580.8 524,581.2 526.8,581.4 529.5,581.5 532.5,581.1 535.5,580.2 538.5,579.7 541.1,579.6 543.7,579.3 546.3,578.7 548.9,578 551.5,577.1 554,576.3 556.6,575.5 559.2,574.8 561.8,574.2 564.4,573.8 567,573.7 569.5,573.9 572,574.5 574.5,575.4 577,576.5 579.5,577.7 582,578.9 584.5,579.8 587,580.4 589.5,580.6 M507.5,582.2 510.2,582.1 513,582 515.8,581.8 518.5,581.6 521.2,581.4 524,581.2 526.8,581 529.5,581 532.5,579.8 535.5,577.4 538.5,576.2 541.1,576.2 543.7,576.3 546.3,576.3 548.9,576.4 551.5,576.5 554,576.6 556.6,576.7 559.2,576.8 561.8,576.9 564.4,576.9 567,576.9 569.5,577.1 572,577.5 574.5,578.1 577,578.8 579.5,579.6 582,580.3 584.5,580.9 587,581.3 589.5,581.5 M507.5,583 510.2,583.1 513,583.3 515.8,583.7 518.5,584.2 521.2,584.6 524,585 526.8,585.3 529.5,585.4 532.5,586.3 535.5,588.2 538.5,589.1 541.1,588.9 543.7,588.2 546.3,587.1 548.9,585.8 551.5,584.2 554,582.6 556.6,581 559.2,579.6 561.8,578.6 564.4,577.9 567,577.6 569.5,577.8 572,578.4 574.5,579.3 577,580.4 579.5,581.6 582,582.7 584.5,583.6 587,584.2 589.5,584.4 M507.5,585.5 510.2,585.3 513,584.9 515.8,584.3 518.5,583.5 521.2,582.8 524,582.1 526.8,581.7 529.5,581.5 532.5,580.2 535.5,577.4 538.5,576 541.1,576.2 543.7,576.7 546.3,577.5 548.9,578.6 551.5,579.8 554,581 556.6,582.2 559.2,583.2 561.8,584 564.4,584.6 567,584.7 569.5,584.7 572,584.5 574.5,584.3 577,584.1 579.5,583.8 582,583.5 584.5,583.3 587,583.2 589.5,583.1 M507.5,587.2 510.2,586.9 513,586.2 515.8,585.1 518.5,583.8 521.2,582.5 524,581.4 526.8,580.7 529.5,580.4 532.5,579.8 535.5,578.4 538.5,577.8 541.1,578 543.7,578.7 546.3,579.7 548.9,581.1 551.5,582.6 554,584.2 556.6,585.8 559.2,587.1 561.8,588.2 564.4,588.9 567,589.1 569.5,588.9 572,588.4 574.5,587.6 577,586.6 579.5,585.6 582,584.6 584.5,583.8 587,583.3 589.5,583.1 M507.5,589.4 510.2,589.8 513,590.7 515.8,592.1 518.5,593.8 521.2,595.5 524,596.9 526.8,597.9 529.5,598.2 532.5,597 535.5,594.6 538.5,593.5 541.1,593.3 543.7,592.7 546.3,591.8 548.9,590.7 551.5,589.4 554,588 556.6,586.7 559.2,585.6 561.8,584.7 564.4,584.1 567,583.9 569.5,584.2 572,585.2 574.5,586.6 577,588.4 579.5,590.2 582,592 584.5,593.4 587,594.4 589.5,594.7 M507.5,591.2 510.2,591.1 513,590.6 515.8,589.9 518.5,589 521.2,588.2 524,587.5 526.8,587 529.5,586.8 532.5,585.4 535.5,582.6 538.5,581.2 541.1,581.3 543.7,581.7 546.3,582.3 548.9,583 551.5,583.9 554,584.8 556.6,585.6 559.2,586.4 561.8,587 564.4,587.3 567,587.5 569.5,587.5 572,587.6 574.5,587.7 577,587.9 579.5,588.1 582,588.3 584.5,588.5 587,588.6 589.5,588.6 M507.5,592.8 510.2,592.8 513,592.9 515.8,593.1 518.5,593.3 521.2,593.5 524,593.6 526.8,593.7 529.5,593.8 532.5,594.8 535.5,597 538.5,598.1 541.1,598 543.7,598 546.3,597.8 548.9,597.6 551.5,597.4 554,597.2 556.6,597 559.2,596.8 561.8,596.6 564.4,596.5 567,596.5 569.5,596.4 572,596.1 574.5,595.7 577,595.2 579.5,594.7 582,594.1 584.5,593.7 587,593.5 589.5,593.4 M507.5,593.6 510.2,593.6 513,593.5 515.8,593.3 518.5,593.1 521.2,593 524,592.8 526.8,592.7 529.5,592.7 532.5,592.6 535.5,592.4 538.5,592.3 541.1,592.2 543.7,591.9 546.3,591.4 548.9,590.7 551.5,589.9 554,589.1 556.6,588.3 559.2,587.6 561.8,587.1 564.4,586.7 567,586.6 569.5,586.8 572,587.4 574.5,588.2 577,589.3 579.5,590.4 582,591.4 584.5,592.3 587,592.9 589.5,593 M507.5,596.3 510.2,596.1 513,595.5 515.8,594.7 518.5,593.6 521.2,592.6 524,591.8 526.8,591.2 529.5,591 532.5,590 535.5,588.1 538.5,587.2 541.1,587.4 543.7,588 546.3,589 548.9,590.3 551.5,591.7 554,593.2 556.6,594.6 559.2,595.9 561.8,596.9 564.4,597.5 567,597.7 569.5,597.6 572,597.2 574.5,596.6 577,595.8 579.5,595 582,594.3 584.5,593.7 587,593.3 589.5,593.1 M507.5,598.4 510.2,598.6 513,599.3 515.8,600.3 518.5,601.4 521.2,602.6 524,603.5 526.8,604.2 529.5,604.4 532.5,605.2 535.5,606.7 538.5,607.4 541.1,607.2 543.7,606.5 546.3,605.4 548.9,603.9 551.5,602.3 554,600.6 556.6,599 559.2,597.5 561.8,596.4 564.4,595.7 567,595.5 569.5,595.7 572,596.2 574.5,597.1 577,598.2 579.5,599.3 582,600.4 584.5,601.2 587,601.8 589.5,602 M507.5,600.2 510.2,600.4 513,600.8 515.8,601.3 518.5,602 521.2,602.7 524,603.2 526.8,603.6 529.5,603.8 532.5,604.8 535.5,607 538.5,608.1 541.1,607.8 543.7,606.9 546.3,605.6 548.9,603.8 551.5,601.8 554,599.7 556.6,597.8 559.2,596 561.8,594.6 564.4,593.8 567,593.5 569.5,593.8 572,594.5 574.5,595.7 577,597.2 579.5,598.7 582,600.1 584.5,601.3 587,602.1 589.5,602.4 M507.5,601.9 510.2,602 513,602.3 515.8,602.8 518.5,603.3 521.2,603.8 524,604.3 526.8,604.6 529.5,604.7 532.5,604.4 535.5,604 538.5,603.7 541.1,603.5 543.7,603 546.3,602.3 548.9,601.2 551.5,600.1 554,598.9 556.6,597.7 559.2,596.7 561.8,595.9 564.4,595.4 567,595.2 569.5,595.5 572,596.2 574.5,597.3 577,598.7 579.5,600.1 582,601.5 584.5,602.6 587,603.3 589.5,603.6 M507.5,603.7 510.2,603.4 513,602.7 515.8,601.7 518.5,600.6 521.2,599.4 524,598.4 526.8,597.7 529.5,597.5 532.5,597.5 535.5,597.4 538.5,597.4 541.1,597.5 543.7,597.7 546.3,598.1 548.9,598.6 551.5,599.1 554,599.7 556.6,600.2 559.2,600.7 561.8,601 564.4,601.3 567,601.3 569.5,601.3 572,601.2 574.5,601 577,600.8 579.5,600.5 582,600.3 584.5,600.1 587,600 589.5,599.9" stroke="#3b7dbd" stroke-width="1"/>
</g>
<rect x="507.5" y="445.5" width="82" height="156" fill="none" stroke="#333" stroke-width="1"/>
<g clip-path="url(#icR)" fill="none">
<line x1="620.5" y1="445.5" x2="620.5" y2="601.5" stroke="#cfcfcf" stroke-width="1"/>
<line x1="629.5" y1="445.5" x2="629.5" y2="601.5" stroke="#cfcfcf" stroke-width="1"/>
<line x1="658.5" y1="445.5" x2="658.5" y2="601.5" stroke="#cfcfcf" stroke-width="1"/>
<path d="M598.7,468.5 601.4,468.7 604.2,469.3 606.9,470.1 609.6,471 612.3,472 615,472.8 617.8,473.4 620.5,473.6 623.5,473.4 626.5,473 629.5,472.8 632.1,472.7 634.8,472.4 637.4,471.9 640,471.3 642.7,470.6 645.3,469.9 648,469.2 650.6,468.6 653.2,468.1 655.9,467.8 658.5,467.7 661.3,468 664,468.6 666.8,469.5 669.5,470.7 672.3,471.8 675.1,472.7 677.8,473.4 680.6,473.6 M598.7,469.3 601.4,469.5 604.2,470 606.9,470.9 609.6,471.8 612.3,472.8 615,473.6 617.8,474.2 620.5,474.4 623.5,474.2 626.5,473.8 629.5,473.6 632.1,473.5 634.8,473.2 637.4,472.7 640,472.1 642.7,471.4 645.3,470.7 648,470 650.6,469.4 653.2,468.9 655.9,468.6 658.5,468.5 661.3,468.7 664,469.4 666.8,470.3 669.5,471.4 672.3,472.6 675.1,473.5 677.8,474.1 680.6,474.4 M598.7,470.5 601.4,470.7 604.2,471.3 606.9,472.1 609.6,473.2 612.3,474.2 615,475.1 617.8,475.7 620.5,475.9 623.5,475.6 626.5,475 629.5,474.8 632.1,474.6 634.8,474.3 637.4,473.9 640,473.3 642.7,472.6 645.3,471.9 648,471.2 650.6,470.6 653.2,470.1 655.9,469.8 658.5,469.7 661.3,469.9 664,470.6 666.8,471.6 669.5,472.8 672.3,474 675.1,475 677.8,475.7 680.6,475.9 M598.7,473.6 601.4,473.8 604.2,474.5 606.9,475.5 609.6,476.7 612.3,477.9 615,478.9 617.8,479.6 620.5,479.8 623.5,479.5 626.5,478.9 629.5,478.6 632.1,478.6 634.8,478.4 637.4,478 640,477.6 642.7,477.1 645.3,476.6 648,476.2 650.6,475.7 653.2,475.4 655.9,475.2 658.5,475.1 661.3,475.3 664,475.8 666.8,476.6 669.5,477.5 672.3,478.4 675.1,479.1 677.8,479.6 680.6,479.8 M598.7,474.8 601.4,475 604.2,475.6 606.9,476.6 609.6,477.7 612.3,478.8 615,479.7 617.8,480.4 620.5,480.6 623.5,480.4 626.5,480 629.5,479.8 632.1,479.8 634.8,479.6 637.4,479.3 640,478.9 642.7,478.5 645.3,478 648,477.6 650.6,477.2 653.2,476.9 655.9,476.8 658.5,476.7 661.3,476.8 664,477.3 666.8,477.9 669.5,478.6 672.3,479.4 675.1,480 677.8,480.5 680.6,480.6 M598.7,476.7 601.4,476.9 604.2,477.6 606.9,478.5 609.6,479.6 612.3,480.7 615,481.7 617.8,482.3 620.5,482.6 623.5,482.3 626.5,481.7 629.5,481.4 632.1,481.2 634.8,480.9 637.4,480.2 640,479.4 642.7,478.5 645.3,477.6 648,476.7 650.6,475.9 653.2,475.3 655.9,474.9 658.5,474.8 661.3,475 664,475.9 666.8,477.2 669.5,478.6 672.3,480.1 675.1,481.4 677.8,482.3 680.6,482.6 M598.7,479.8 601.4,480.1 604.2,480.8 606.9,481.9 609.6,483.1 612.3,484.4 615,485.5 617.8,486.2 620.5,486.4 623.5,486 626.5,485 629.5,484.5 632.1,484.4 634.8,484.2 637.4,483.8 640,483.4 642.7,482.8 645.3,482.3 648,481.7 650.6,481.3 653.2,480.9 655.9,480.7 658.5,480.6 661.3,480.8 664,481.3 666.8,482 669.5,482.9 672.3,483.8 675.1,484.6 677.8,485.1 680.6,485.3 M598.7,482.6 601.4,482.6 604.2,482.8 606.9,483.2 609.6,483.5 612.3,483.9 615,484.2 617.8,484.4 620.5,484.5 623.5,485.3 626.5,486.8 629.5,487.6 632.1,487.5 634.8,487.2 637.4,486.7 640,486.1 642.7,485.4 645.3,484.7 648,484 650.6,483.4 653.2,483 655.9,482.7 658.5,482.6 661.3,482.7 664,483.1 666.8,483.8 669.5,484.5 672.3,485.2 675.1,485.9 677.8,486.3 680.6,486.4 M598.7,485.3 601.4,485.5 604.2,486 606.9,486.8 609.6,487.8 612.3,488.8 615,489.6 617.8,490.2 620.5,490.4 623.5,490.6 626.5,491.2 629.5,491.5 632.1,491.4 634.8,491.1 637.4,490.6 640,490 642.7,489.3 645.3,488.6 648,487.9 650.6,487.3 653.2,486.9 655.9,486.6 658.5,486.4 661.3,486.6 664,487 666.8,487.7 669.5,488.4 672.3,489.1 675.1,489.8 677.8,490.2 680.6,490.4 M598.7,488.4 601.4,488.6 604.2,489.1 606.9,489.8 609.6,490.7 612.3,491.6 615,492.4 617.8,492.9 620.5,493.1 623.5,492.9 626.5,492.5 629.5,492.3 632.1,492.3 634.8,492.1 637.4,492 640,491.7 642.7,491.5 645.3,491.2 648,490.9 650.6,490.7 653.2,490.5 655.9,490.4 658.5,490.4 661.3,490.4 664,490.6 666.8,491 669.5,491.3 672.3,491.7 675.1,492 677.8,492.2 680.6,492.3 M598.7,491.5 601.4,491.7 604.2,492.2 606.9,493 609.6,493.9 612.3,494.8 615,495.5 617.8,496 620.5,496.2 623.5,496 626.5,495.6 629.5,495.4 632.1,495.4 634.8,495.3 637.4,495.2 640,495.1 642.7,494.9 645.3,494.8 648,494.6 650.6,494.5 653.2,494.3 655.9,494.3 658.5,494.2 661.3,494.4 664,494.6 666.8,495.1 669.5,495.6 672.3,496.1 675.1,496.6 677.8,496.9 680.6,497 M598.7,495.4 601.4,495.6 604.2,496 606.9,496.6 609.6,497.4 612.3,498.1 615,498.7 617.8,499.2 620.5,499.3 623.5,499.1 626.5,498.7 629.5,498.5 632.1,498.5 634.8,498.4 637.4,498.1 640,497.9 642.7,497.5 645.3,497.2 648,496.9 650.6,496.6 653.2,496.4 655.9,496.2 658.5,496.2 661.3,496.3 664,496.8 666.8,497.4 669.5,498.1 672.3,498.9 675.1,499.5 677.8,500 680.6,500.1 M598.7,498.5 601.4,498.7 604.2,499.1 606.9,499.6 609.6,500.3 612.3,501 615,501.5 617.8,501.9 620.5,502.1 623.5,501.6 626.5,500.6 629.5,500.1 632.1,500.1 634.8,499.9 637.4,499.7 640,499.4 642.7,499.1 645.3,498.8 648,498.4 650.6,498.2 653.2,497.9 655.9,497.8 658.5,497.8 661.3,498 664,498.6 666.8,499.4 669.5,500.5 672.3,501.5 675.1,502.4 677.8,503 680.6,503.2 M598.7,503.2 601.4,503.4 604.2,503.7 606.9,504.3 609.6,505 612.3,505.6 615,506.2 617.8,506.6 620.5,506.7 623.5,506.1 626.5,505 629.5,504.4 632.1,504.3 634.8,504 637.4,503.6 640,503.1 642.7,502.6 645.3,501.9 648,501.4 650.6,500.8 653.2,500.4 655.9,500.2 658.5,500.1 661.3,500.4 664,501.1 666.8,502.1 669.5,503.4 672.3,504.7 675.1,505.8 677.8,506.5 680.6,506.7 M598.7,535.2 601.4,535.5 604.2,536.3 606.9,537.6 609.6,539.1 612.3,540.6 615,541.9 617.8,542.7 620.5,543 623.5,542.8 626.5,542.4 629.5,542.2 632.1,542.1 634.8,541.6 637.4,540.9 640,539.9 642.7,538.9 645.3,537.8 648,536.7 650.6,535.8 653.2,535 655.9,534.6 658.5,534.4 661.3,534.7 664,535.7 666.8,537.1 669.5,538.7 672.3,540.4 675.1,541.7 677.8,542.7 680.6,543 M598.7,536.4 601.4,536.7 604.2,537.5 606.9,538.8 609.6,540.3 612.3,541.8 615,543 617.8,543.9 620.5,544.2 623.5,543.9 626.5,543.3 629.5,543 632.1,542.8 634.8,542.4 637.4,541.7 640,540.7 642.7,539.7 645.3,538.5 648,537.5 650.6,536.5 653.2,535.8 655.9,535.4 658.5,535.2 661.3,535.5 664,536.5 666.8,537.8 669.5,539.5 672.3,541.1 675.1,542.5 677.8,543.5 680.6,543.8 M598.7,537.3 601.4,537.3 604.2,537.3 606.9,537.2 609.6,537.2 612.3,537.1 615,537.1 617.8,537.1 620.5,537 623.5,536.2 626.5,534.5 629.5,533.6 632.1,533.6 634.8,533.8 637.4,534 640,534.4 642.7,534.7 645.3,535.1 648,535.5 650.6,535.8 653.2,536 655.9,536.2 658.5,536.2 661.3,536.3 664,536.4 666.8,536.5 669.5,536.7 672.3,536.9 675.1,537 677.8,537.1 680.6,537.2 M598.7,538.8 601.4,538.7 604.2,538.6 606.9,538.4 609.6,538.2 612.3,537.9 615,537.8 617.8,537.6 620.5,537.6 623.5,536.9 626.5,535.6 629.5,534.9 632.1,535 634.8,535.3 637.4,535.6 640,536.1 642.7,536.7 645.3,537.3 648,537.9 650.6,538.4 653.2,538.8 655.9,539 658.5,539.1 661.3,539.1 664,539 666.8,538.8 669.5,538.6 672.3,538.5 675.1,538.3 677.8,538.2 680.6,538.2 M598.7,540.6 601.4,540.8 604.2,541.4 606.9,542.3 609.6,543.4 612.3,544.5 615,545.4 617.8,546 620.5,546.2 623.5,547.1 626.5,548.7 629.5,549.6 632.1,549.4 634.8,548.8 637.4,547.9 640,546.7 642.7,545.3 645.3,543.9 648,542.6 650.6,541.4 653.2,540.5 655.9,539.9 658.5,539.7 661.3,539.8 664,540.2 666.8,540.8 669.5,541.5 672.3,542.2 675.1,542.8 677.8,543.2 680.6,543.4 M598.7,541.9 601.4,542 604.2,542.3 606.9,542.7 609.6,543.2 612.3,543.7 615,544.1 617.8,544.4 620.5,544.5 623.5,543.9 626.5,542.8 629.5,542.2 632.1,542.1 634.8,541.5 637.4,540.7 640,539.6 642.7,538.4 645.3,537.2 648,536 650.6,534.9 653.2,534.1 655.9,533.5 658.5,533.4 661.3,533.7 664,534.8 666.8,536.4 669.5,538.3 672.3,540.1 675.1,541.7 677.8,542.8 680.6,543.2 M598.7,543.1 601.4,543.2 604.2,543.4 606.9,543.7 609.6,544.1 612.3,544.4 615,544.7 617.8,544.9 620.5,545 623.5,544.7 626.5,544.1 629.5,543.8 632.1,543.8 634.8,543.7 637.4,543.7 640,543.7 642.7,543.6 645.3,543.5 648,543.5 650.6,543.4 653.2,543.4 655.9,543.4 658.5,543.4 661.3,543.4 664,543.5 666.8,543.6 669.5,543.7 672.3,543.8 675.1,544 677.8,544 680.6,544.1 M598.7,543.5 601.4,543.5 604.2,543.3 606.9,543.1 609.6,542.8 612.3,542.5 615,542.2 617.8,542.1 620.5,542 623.5,542.6 626.5,543.7 629.5,544.2 632.1,544 634.8,543.4 637.4,542.5 640,541.3 642.7,540 645.3,538.6 648,537.2 650.6,536 653.2,535.1 655.9,534.5 658.5,534.3 661.3,534.7 664,535.6 666.8,536.9 669.5,538.6 672.3,540.2 675.1,541.5 677.8,542.5 680.6,542.8 M598.7,545.4 601.4,545.6 604.2,546.1 606.9,546.9 609.6,547.9 612.3,548.9 615,549.7 617.8,550.2 620.5,550.4 623.5,549.5 626.5,547.6 629.5,546.6 632.1,546.4 634.8,545.9 637.4,545.1 640,544 642.7,542.7 645.3,541.5 648,540.2 650.6,539.1 653.2,538.3 655.9,537.8 658.5,537.6 661.3,538 664,539.1 666.8,540.8 669.5,542.7 672.3,544.7 675.1,546.4 677.8,547.5 680.6,547.9 M598.7,546.9 601.4,547.2 604.2,547.8 606.9,548.7 609.6,549.8 612.3,551 615,551.9 617.8,552.5 620.5,552.8 623.5,552.7 626.5,552.7 629.5,552.6 632.1,552.5 634.8,552 637.4,551.3 640,550.4 642.7,549.3 645.3,548.2 648,547.2 650.6,546.3 653.2,545.5 655.9,545.1 658.5,544.9 661.3,545.1 664,545.6 666.8,546.4 669.5,547.4 672.3,548.3 675.1,549.1 677.8,549.7 680.6,549.8 M598.7,548.2 601.4,548.5 604.2,549.3 606.9,550.5 609.6,551.9 612.3,553.3 615,554.5 617.8,555.3 620.5,555.5 623.5,555.1 626.5,554.2 629.5,553.8 632.1,553.7 634.8,553.5 637.4,553.1 640,552.7 642.7,552.1 645.3,551.6 648,551.1 650.6,550.6 653.2,550.2 655.9,550 658.5,549.9 661.3,550 664,550.2 666.8,550.5 669.5,550.9 672.3,551.3 675.1,551.6 677.8,551.8 680.6,551.9 M598.7,549.1 601.4,549.3 604.2,549.9 606.9,550.8 609.6,551.9 612.3,553 615,553.9 617.8,554.5 620.5,554.7 623.5,555.7 626.5,557.6 629.5,558.5 632.1,558.3 634.8,557.6 637.4,556.5 640,555.2 642.7,553.6 645.3,552 648,550.5 650.6,549.1 653.2,548 655.9,547.4 658.5,547.1 661.3,547.3 664,547.8 666.8,548.6 669.5,549.5 672.3,550.4 675.1,551.2 677.8,551.7 680.6,551.9 M598.7,550.3 601.4,550.4 604.2,551 606.9,551.7 609.6,552.6 612.3,553.5 615,554.3 617.8,554.8 620.5,555 623.5,555.8 626.5,557.5 629.5,558.4 632.1,558 634.8,557 637.4,555.3 640,553.2 642.7,550.8 645.3,548.3 648,545.9 650.6,543.7 653.2,542.1 655.9,541 658.5,540.7 661.3,541.1 664,542.4 666.8,544.4 669.5,546.7 672.3,548.9 675.1,550.9 677.8,552.2 680.6,552.6 M598.7,551.4 601.4,551.3 604.2,551.1 606.9,550.9 609.6,550.6 612.3,550.3 615,550 617.8,549.9 620.5,549.8 623.5,550.6 626.5,552.1 629.5,552.9 632.1,552.8 634.8,552.7 637.4,552.4 640,552.1 642.7,551.7 645.3,551.4 648,551 650.6,550.7 653.2,550.4 655.9,550.3 658.5,550.2 661.3,550.2 664,550.3 666.8,550.3 669.5,550.4 672.3,550.5 675.1,550.5 677.8,550.6 680.6,550.6 M598.7,553.5 601.4,553.6 604.2,553.7 606.9,553.9 609.6,554.1 612.3,554.3 615,554.4 617.8,554.5 620.5,554.6 623.5,555 626.5,555.9 629.5,556.4 632.1,556.3 634.8,556.2 637.4,556 640,555.7 642.7,555.3 645.3,555 648,554.7 650.6,554.4 653.2,554.1 655.9,554 658.5,554 661.3,554 664,554 666.8,554 669.5,554 672.3,554 675.1,554 677.8,554.1 680.6,554.1 M598.7,554.4 601.4,554.3 604.2,554.3 606.9,554.1 609.6,554 612.3,553.8 615,553.7 617.8,553.6 620.5,553.6 623.5,553 626.5,551.8 629.5,551.1 632.1,551.2 634.8,551.3 637.4,551.5 640,551.8 642.7,552.1 645.3,552.4 648,552.7 650.6,552.9 653.2,553.1 655.9,553.2 658.5,553.3 661.3,553.3 664,553.4 666.8,553.5 669.5,553.6 672.3,553.8 675.1,553.9 677.8,554 680.6,554 M598.7,556 601.4,555.9 604.2,555.8 606.9,555.7 609.6,555.5 612.3,555.4 615,555.2 617.8,555.2 620.5,555.1 623.5,555 626.5,554.7 629.5,554.6 632.1,554.5 634.8,554.2 637.4,553.7 640,553.2 642.7,552.5 645.3,551.8 648,551.1 650.6,550.6 653.2,550.1 655.9,549.8 658.5,549.7 661.3,549.9 664,550.6 666.8,551.5 669.5,552.6 672.3,553.7 675.1,554.7 677.8,555.3 680.6,555.5 M598.7,557.3 601.4,557.7 604.2,558.9 606.9,560.7 609.6,562.8 612.3,564.9 615,566.6 617.8,567.8 620.5,568.2 623.5,567.9 626.5,567.1 629.5,566.8 632.1,566.5 634.8,565.8 637.4,564.6 640,563.1 642.7,561.4 645.3,559.6 648,557.9 650.6,556.5 653.2,555.3 655.9,554.6 658.5,554.3 661.3,554.6 664,555.5 666.8,556.9 669.5,558.5 672.3,560.2 675.1,561.5 677.8,562.5 680.6,562.8 M598.7,558.6 601.4,558.6 604.2,558.5 606.9,558.3 609.6,558.1 612.3,557.9 615,557.7 617.8,557.6 620.5,557.5 623.5,557.3 626.5,556.7 629.5,556.5 632.1,556.4 634.8,556.1 637.4,555.6 640,554.9 642.7,554.2 645.3,553.5 648,552.7 650.6,552.1 653.2,551.6 655.9,551.3 658.5,551.2 661.3,551.5 664,552.2 666.8,553.3 669.5,554.6 672.3,556 675.1,557.1 677.8,557.8 680.6,558.1 M598.7,559.9 601.4,559.9 604.2,559.9 606.9,559.9 609.6,559.9 612.3,559.9 615,559.9 617.8,559.9 620.5,559.9 623.5,560.8 626.5,562.5 629.5,563.3 632.1,563.1 634.8,562.4 637.4,561.3 640,559.9 642.7,558.4 645.3,556.7 648,555.1 650.6,553.8 653.2,552.7 655.9,552 658.5,551.8 661.3,552.1 664,553 666.8,554.3 669.5,555.8 672.3,557.4 675.1,558.7 677.8,559.6 680.6,559.9 M598.7,560.8 601.4,561 604.2,561.8 606.9,562.9 609.6,564.3 612.3,565.6 615,566.8 617.8,567.6 620.5,567.8 623.5,567.7 626.5,567.5 629.5,567.4 632.1,567.1 634.8,566.2 637.4,564.7 640,562.9 642.7,560.7 645.3,558.5 648,556.4 650.6,554.6 653.2,553.1 655.9,552.2 658.5,551.9 661.3,552.3 664,553.7 666.8,555.7 669.5,558.1 672.3,560.5 675.1,562.5 677.8,563.8 680.6,564.3 M598.7,562.3 601.4,562.6 604.2,563.7 606.9,565.3 609.6,567.2 612.3,569.1 615,570.7 617.8,571.8 620.5,572.2 623.5,572.1 626.5,572 629.5,572 632.1,571.8 634.8,571.2 637.4,570.2 640,568.9 642.7,567.5 645.3,566 648,564.5 650.6,563.2 653.2,562.3 655.9,561.6 658.5,561.4 661.3,561.6 664,562.3 666.8,563.2 669.5,564.3 672.3,565.4 675.1,566.4 677.8,567 680.6,567.2 M598.7,563.7 601.4,564.1 604.2,565.1 606.9,566.7 609.6,568.5 612.3,570.3 615,571.8 617.8,572.9 620.5,573.2 623.5,574.1 626.5,575.9 629.5,576.7 632.1,576.5 634.8,575.7 637.4,574.4 640,572.8 642.7,571 645.3,569.1 648,567.2 650.6,565.6 653.2,564.4 655.9,563.6 658.5,563.3 661.3,563.5 664,564.1 666.8,564.9 669.5,565.9 672.3,566.9 675.1,567.7 677.8,568.3 680.6,568.5 M598.7,564.8 601.4,565.1 604.2,565.9 606.9,567.1 609.6,568.6 612.3,570 615,571.2 617.8,572 620.5,572.3 623.5,571.8 626.5,570.8 629.5,570.3 632.1,570.2 634.8,569.7 637.4,569.1 640,568.3 642.7,567.3 645.3,566.3 648,565.4 650.6,564.5 653.2,563.9 655.9,563.5 658.5,563.3 661.3,563.5 664,564.1 666.8,565 669.5,565.9 672.3,566.9 675.1,567.8 677.8,568.4 680.6,568.6 M598.7,565.9 601.4,566.2 604.2,567.2 606.9,568.7 609.6,570.5 612.3,572.3 615,573.8 617.8,574.8 620.5,575.1 623.5,575.4 626.5,576 629.5,576.3 632.1,576.1 634.8,575.6 637.4,574.8 640,573.8 642.7,572.6 645.3,571.3 648,570.1 650.6,569.1 653.2,568.3 655.9,567.8 658.5,567.6 661.3,567.7 664,568 666.8,568.5 669.5,569 672.3,569.6 675.1,570.1 677.8,570.4 680.6,570.5 M598.7,567.4 601.4,567.9 604.2,569.1 606.9,571 609.6,573.2 612.3,575.4 615,577.2 617.8,578.5 620.5,578.9 623.5,578.5 626.5,577.6 629.5,577.1 632.1,576.8 634.8,576 637.4,574.7 640,573 642.7,571 645.3,569 648,567.1 650.6,565.4 653.2,564.1 655.9,563.2 658.5,562.9 661.3,563.3 664,564.4 666.8,566.1 669.5,568.1 672.3,570 675.1,571.7 677.8,572.8 680.6,573.2 M598.7,568.8 601.4,569 604.2,569.6 606.9,570.4 609.6,571.4 612.3,572.4 615,573.2 617.8,573.8 620.5,574 623.5,573.2 626.5,571.5 629.5,570.6 632.1,570.6 634.8,570.5 637.4,570.4 640,570.3 642.7,570.1 645.3,570 648,569.8 650.6,569.7 653.2,569.6 655.9,569.5 658.5,569.5 661.3,569.6 664,569.8 666.8,570.1 669.5,570.4 672.3,570.8 675.1,571.1 677.8,571.3 680.6,571.4 M598.7,569.3 601.4,569.6 604.2,570.2 606.9,571.1 609.6,572.2 612.3,573.4 615,574.3 617.8,574.9 620.5,575.1 623.5,575.2 626.5,575.2 629.5,575.2 632.1,574.9 634.8,574.1 637.4,572.8 640,571.2 642.7,569.3 645.3,567.4 648,565.5 650.6,563.9 653.2,562.6 655.9,561.8 658.5,561.5 661.3,561.9 664,563.1 666.8,564.8 669.5,566.9 672.3,568.9 675.1,570.7 677.8,571.8 680.6,572.2 M598.7,571.1 601.4,571.3 604.2,571.8 606.9,572.6 609.6,573.5 612.3,574.4 615,575.2 617.8,575.7 620.5,575.9 623.5,575.5 626.5,574.8 629.5,574.4 632.1,574.2 634.8,573.4 637.4,572.2 640,570.7 642.7,568.9 645.3,567.1 648,565.3 650.6,563.8 653.2,562.6 655.9,561.8 658.5,561.6 661.3,562 664,563.3 666.8,565.3 669.5,567.6 672.3,569.8 675.1,571.8 677.8,573.1 680.6,573.5 M598.7,572.5 601.4,572.5 604.2,572.5 606.9,572.6 609.6,572.6 612.3,572.7 615,572.8 617.8,572.8 620.5,572.8 623.5,572.4 626.5,571.6 629.5,571.2 632.1,571.1 634.8,570.9 637.4,570.5 640,570 642.7,569.4 645.3,568.8 648,568.2 650.6,567.7 653.2,567.3 655.9,567.1 658.5,567 661.3,567.2 664,567.8 666.8,568.7 669.5,569.8 672.3,570.9 675.1,571.8 677.8,572.4 680.6,572.6 M598.7,573.7 601.4,574 604.2,574.7 606.9,575.8 609.6,577.2 612.3,578.5 615,579.6 617.8,580.4 620.5,580.6 623.5,581.5 626.5,583.3 629.5,584.1 632.1,583.9 634.8,583.3 637.4,582.4 640,581.2 642.7,579.8 645.3,578.4 648,577 650.6,575.8 653.2,574.9 655.9,574.3 658.5,574.1 661.3,574.2 664,574.6 666.8,575.1 669.5,575.6 672.3,576.2 675.1,576.7 677.8,577 680.6,577.2 M598.7,575.4 601.4,575.4 604.2,575.6 606.9,575.9 609.6,576.2 612.3,576.5 615,576.7 617.8,576.9 620.5,577 623.5,577.4 626.5,578.4 629.5,578.9 632.1,578.8 634.8,578.6 637.4,578.3 640,577.8 642.7,577.4 645.3,576.9 648,576.4 650.6,576 653.2,575.7 655.9,575.5 658.5,575.4 661.3,575.4 664,575.5 666.8,575.6 669.5,575.8 672.3,575.9 675.1,576 677.8,576.1 680.6,576.2 M598.7,576.6 601.4,576.6 604.2,576.7 606.9,576.7 609.6,576.7 612.3,576.8 615,576.8 617.8,576.8 620.5,576.9 623.5,576.1 626.5,574.7 629.5,574 632.1,573.9 634.8,573.7 637.4,573.4 640,573 642.7,572.6 645.3,572.1 648,571.7 650.6,571.3 653.2,571 655.9,570.8 658.5,570.7 661.3,571 664,571.6 666.8,572.6 669.5,573.7 672.3,574.9 675.1,575.9 677.8,576.5 680.6,576.7 M598.7,577.7 601.4,578 604.2,578.9 606.9,580.3 609.6,581.9 612.3,583.5 615,584.9 617.8,585.8 620.5,586.1 623.5,586.5 626.5,587.3 629.5,587.7 632.1,587.4 634.8,586.6 637.4,585.4 640,583.8 642.7,581.9 645.3,580 648,578.2 650.6,576.6 653.2,575.3 655.9,574.5 658.5,574.3 661.3,574.6 664,575.4 666.8,576.6 669.5,578.1 672.3,579.5 675.1,580.8 677.8,581.6 680.6,581.9 M598.7,579.1 601.4,579.3 604.2,579.9 606.9,580.9 609.6,581.9 612.3,583 615,583.9 617.8,584.5 620.5,584.7 623.5,585.2 626.5,586.1 629.5,586.6 632.1,586.2 634.8,585.3 637.4,583.7 640,581.7 642.7,579.4 645.3,577 648,574.7 650.6,572.7 653.2,571.2 655.9,570.2 658.5,569.8 661.3,570.3 664,571.6 666.8,573.6 669.5,575.9 672.3,578.2 675.1,580.2 677.8,581.5 680.6,581.9 M598.7,579.5 601.4,579.6 604.2,580.1 606.9,580.8 609.6,581.6 612.3,582.4 615,583.1 617.8,583.5 620.5,583.7 623.5,584.2 626.5,585.2 629.5,585.7 632.1,585.4 634.8,584.4 637.4,583 640,581.1 642.7,579 645.3,576.8 648,574.7 650.6,572.8 653.2,571.3 655.9,570.4 658.5,570.1 661.3,570.5 664,571.8 666.8,573.6 669.5,575.8 672.3,578 675.1,579.9 677.8,581.1 680.6,581.6 M598.7,581.5 601.4,581.8 604.2,582.5 606.9,583.6 609.6,584.9 612.3,586.2 615,587.4 617.8,588.1 620.5,588.4 623.5,589.3 626.5,591.3 629.5,592.2 632.1,592 634.8,591.2 637.4,590 640,588.4 642.7,586.6 645.3,584.7 648,582.9 650.6,581.3 653.2,580.1 655.9,579.3 658.5,579 661.3,579.2 664,579.9 666.8,580.8 669.5,582 672.3,583.1 675.1,584.1 677.8,584.7 680.6,584.9 M598.7,582.6 601.4,582.8 604.2,583.3 606.9,584.1 609.6,585 612.3,586 615,586.7 617.8,587.3 620.5,587.5 623.5,588 626.5,589.2 629.5,589.8 632.1,589.6 634.8,588.9 637.4,587.9 640,586.5 642.7,585 645.3,583.4 648,581.9 650.6,580.6 653.2,579.5 655.9,578.9 658.5,578.7 661.3,578.9 664,579.6 666.8,580.6 669.5,581.8 672.3,583.1 675.1,584.1 677.8,584.8 680.6,585 M598.7,584.5 601.4,584.8 604.2,585.6 606.9,586.9 609.6,588.5 612.3,590 615,591.4 617.8,592.2 620.5,592.5 623.5,593.3 626.5,594.9 629.5,595.7 632.1,595.5 634.8,594.6 637.4,593.3 640,591.6 642.7,589.7 645.3,587.7 648,585.8 650.6,584.1 653.2,582.8 655.9,582 658.5,581.7 661.3,582 664,582.7 666.8,583.8 669.5,585.1 672.3,586.4 675.1,587.5 677.8,588.2 680.6,588.5 M598.7,585.7 601.4,586.1 604.2,587.4 606.9,589.2 609.6,591.4 612.3,593.6 615,595.4 617.8,596.7 620.5,597.1 623.5,597.5 626.5,598.2 629.5,598.6 632.1,598.3 634.8,597.5 637.4,596.3 640,594.6 642.7,592.7 645.3,590.8 648,588.9 650.6,587.3 653.2,586 655.9,585.2 658.5,584.9 661.3,585.2 664,585.9 666.8,586.9 669.5,588.2 672.3,589.4 675.1,590.4 677.8,591.1 680.6,591.4 M598.7,586.3 601.4,586.5 604.2,587 606.9,587.7 609.6,588.6 612.3,589.4 615,590.2 617.8,590.7 620.5,590.8 623.5,590.3 626.5,589.4 629.5,588.9 632.1,588.7 634.8,588.2 637.4,587.4 640,586.5 642.7,585.3 645.3,584.1 648,583 650.6,582 653.2,581.3 655.9,580.8 658.5,580.6 661.3,580.9 664,581.8 666.8,583.1 669.5,584.6 672.3,586.1 675.1,587.4 677.8,588.3 680.6,588.6 M598.7,587.5 601.4,587.5 604.2,587.4 606.9,587.4 609.6,587.3 612.3,587.3 615,587.2 617.8,587.2 620.5,587.2 623.5,587.4 626.5,587.8 629.5,588 632.1,588 634.8,587.8 637.4,587.6 640,587.3 642.7,587 645.3,586.7 648,586.3 650.6,586 653.2,585.8 655.9,585.7 658.5,585.6 661.3,585.7 664,585.9 666.8,586.1 669.5,586.5 672.3,586.8 675.1,587.1 677.8,587.3 680.6,587.3 M598.7,588.5 601.4,588.8 604.2,589.9 606.9,591.4 609.6,593.3 612.3,595.1 615,596.7 617.8,597.7 620.5,598.1 623.5,597.7 626.5,596.8 629.5,596.4 632.1,596.1 634.8,595.3 637.4,594 640,592.4 642.7,590.6 645.3,588.7 648,586.8 650.6,585.2 653.2,583.9 655.9,583.2 658.5,582.9 661.3,583.3 664,584.4 666.8,586.1 669.5,588.1 672.3,590.1 675.1,591.8 677.8,592.9 680.6,593.3 M598.7,590.8 601.4,590.9 604.2,590.9 606.9,590.9 609.6,591 612.3,591 615,591.1 617.8,591.1 620.5,591.1 623.5,590.4 626.5,588.8 629.5,588.1 632.1,588 634.8,587.9 637.4,587.6 640,587.3 642.7,587 645.3,586.6 648,586.2 650.6,585.9 653.2,585.7 655.9,585.5 658.5,585.5 661.3,585.7 664,586.3 666.8,587.2 669.5,588.2 672.3,589.3 675.1,590.2 677.8,590.8 680.6,591 M598.7,591.3 601.4,591.3 604.2,591.4 606.9,591.5 609.6,591.6 612.3,591.7 615,591.8 617.8,591.9 620.5,591.9 623.5,592.6 626.5,594 629.5,594.7 632.1,594.6 634.8,594.1 637.4,593.4 640,592.5 642.7,591.5 645.3,590.4 648,589.4 650.6,588.5 653.2,587.7 655.9,587.3 658.5,587.1 661.3,587.3 664,587.8 666.8,588.5 669.5,589.4 672.3,590.2 675.1,591 677.8,591.5 680.6,591.6 M598.7,592.9 601.4,592.9 604.2,592.9 606.9,593 609.6,593 612.3,593.1 615,593.1 617.8,593.2 620.5,593.2 623.5,592.6 626.5,591.4 629.5,590.8 632.1,590.7 634.8,590.4 637.4,589.8 640,589.2 642.7,588.4 645.3,587.6 648,586.8 650.6,586.1 653.2,585.6 655.9,585.3 658.5,585.2 661.3,585.5 664,586.3 666.8,587.6 669.5,589.1 672.3,590.6 675.1,591.9 677.8,592.7 680.6,593 M598.7,594.1 601.4,594.1 604.2,594 606.9,593.9 609.6,593.8 612.3,593.7 615,593.7 617.8,593.6 620.5,593.6 623.5,593.2 626.5,592.5 629.5,592.2 632.1,592.1 634.8,591.8 637.4,591.4 640,590.9 642.7,590.3 645.3,589.7 648,589.1 650.6,588.6 653.2,588.2 655.9,588 658.5,587.9 661.3,588.1 664,588.8 666.8,589.7 669.5,590.9 672.3,592 675.1,593 677.8,593.6 680.6,593.8 M598.7,595.8 601.4,596.2 604.2,597.4 606.9,599.3 609.6,601.4 612.3,603.6 615,605.4 617.8,606.6 620.5,607 623.5,607.8 626.5,609.2 629.5,609.9 632.1,609.6 634.8,608.6 637.4,607.1 640,605.1 642.7,602.9 645.3,600.5 648,598.3 650.6,596.3 653.2,594.8 655.9,593.8 658.5,593.5 661.3,593.8 664,594.7 666.8,595.9 669.5,597.5 672.3,599 675.1,600.3 677.8,601.1 680.6,601.4 M598.7,597.2 601.4,597.2 604.2,597.2 606.9,597.3 609.6,597.3 612.3,597.4 615,597.5 617.8,597.5 620.5,597.5 623.5,597.4 626.5,597.2 629.5,597 632.1,596.9 634.8,596.6 637.4,596.1 640,595.5 642.7,594.8 645.3,594.1 648,593.3 650.6,592.7 653.2,592.2 655.9,591.9 658.5,591.8 661.3,592 664,592.6 666.8,593.5 669.5,594.6 672.3,595.6 675.1,596.5 677.8,597.1 680.6,597.3 M598.7,597.9 601.4,598 604.2,598.2 606.9,598.6 609.6,599.1 612.3,599.5 615,599.9 617.8,600.2 620.5,600.3 623.5,600.3 626.5,600.4 629.5,600.4 632.1,600.4 634.8,600.3 637.4,600.3 640,600.2 642.7,600.1 645.3,600 648,600 650.6,599.9 653.2,599.8 655.9,599.8 658.5,599.8 661.3,599.8 664,599.7 666.8,599.6 669.5,599.4 672.3,599.3 675.1,599.2 677.8,599.1 680.6,599.1 M598.7,599 601.4,599 604.2,599.2 606.9,599.4 609.6,599.7 612.3,600 615,600.2 617.8,600.4 620.5,600.5 623.5,600.4 626.5,600.4 629.5,600.4 632.1,600.3 634.8,600 637.4,599.4 640,598.7 642.7,598 645.3,597.1 648,596.3 650.6,595.7 653.2,595.1 655.9,594.8 658.5,594.7 661.3,594.8 664,595.4 666.8,596.2 669.5,597.2 672.3,598.2 675.1,599 677.8,599.5 680.6,599.7 M598.7,600.4 601.4,600.8 604.2,602 606.9,603.7 609.6,605.8 612.3,607.9 615,609.6 617.8,610.8 620.5,611.2 623.5,610.8 626.5,609.8 629.5,609.4 632.1,609.2 634.8,608.6 637.4,607.7 640,606.5 642.7,605.1 645.3,603.7 648,602.3 650.6,601.1 653.2,600.2 655.9,599.6 658.5,599.4 661.3,599.7 664,600.4 666.8,601.4 669.5,602.6 672.3,603.8 675.1,604.9 677.8,605.6 680.6,605.8 M598.7,602.4 601.4,602.7 604.2,603.6 606.9,604.9 609.6,606.4 612.3,608 615,609.3 617.8,610.2 620.5,610.5 623.5,610 626.5,609.1 629.5,608.7 632.1,608.5 634.8,608.1 637.4,607.5 640,606.7 642.7,605.8 645.3,604.8 648,603.9 650.6,603.1 653.2,602.5 655.9,602.1 658.5,601.9 661.3,602.1 664,602.6 666.8,603.3 669.5,604.2 672.3,605 675.1,605.8 677.8,606.3 680.6,606.4 M598.7,602.9 601.4,602.8 604.2,602.7 606.9,602.4 609.6,602.1 612.3,601.8 615,601.5 617.8,601.3 620.5,601.3 623.5,601.3 626.5,601.3 629.5,601.3 632.1,601.3 634.8,601.2 637.4,601.2 640,601 642.7,600.9 645.3,600.8 648,600.6 650.6,600.5 653.2,600.4 655.9,600.4 658.5,600.4 661.3,600.4 664,600.6 666.8,600.9 669.5,601.2 672.3,601.6 675.1,601.8 677.8,602 680.6,602.1" stroke="#e26a6f" stroke-width="0.7"/>
<path d="M598.7,448.2 601.4,448.1 604.2,447.8 606.9,447.4 609.6,446.9 612.3,446.3 615,445.9 617.8,445.6 620.5,445.5 623.5,445.5 626.5,445.5 629.5,445.5 632.1,445.6 634.8,445.8 637.4,446.2 640,446.6 642.7,447.2 645.3,447.7 648,448.3 650.6,448.7 653.2,449.1 655.9,449.3 658.5,449.4 661.3,449.3 664,449.1 666.8,448.8 669.5,448.4 672.3,448.1 675.1,447.7 677.8,447.5 680.6,447.4 M598.7,452.9 601.4,452.9 604.2,452.9 606.9,452.9 609.6,452.9 612.3,452.9 615,452.9 617.8,452.9 620.5,452.9 623.5,453 626.5,453.2 629.5,453.3 632.1,453.3 634.8,453.3 637.4,453.2 640,453.2 642.7,453.1 645.3,453.1 648,453 650.6,453 653.2,452.9 655.9,452.9 658.5,452.9 661.3,452.9 664,452.9 666.8,452.9 669.5,452.9 672.3,452.9 675.1,452.9 677.8,452.9 680.6,452.9 M598.7,459.1 601.4,459.1 604.2,459.1 606.9,459 609.6,459 612.3,458.9 615,458.8 617.8,458.8 620.5,458.8 623.5,458.7 626.5,458.5 629.5,458.4 632.1,458.4 634.8,458.4 637.4,458.5 640,458.6 642.7,458.7 645.3,458.8 648,458.9 650.6,459 653.2,459.1 655.9,459.1 658.5,459.1 661.3,459.1 664,459.1 666.8,459 669.5,459 672.3,458.9 675.1,458.8 677.8,458.8 680.6,458.8 M598.7,466.2 601.4,465.2 604.2,462.3 606.9,458 609.6,452.9 612.3,447.8 615,443.5 617.8,440.7 620.5,439.6 623.5,440.1 626.5,441.1 629.5,441.6 632.1,441.8 634.8,442.2 637.4,442.9 640,443.9 642.7,444.9 645.3,446.1 648,447.1 650.6,448.1 653.2,448.8 655.9,449.2 658.5,449.4 661.3,449.3 664,448.8 666.8,448.2 669.5,447.4 672.3,446.7 675.1,446.1 677.8,445.6 680.6,445.5 M598.7,467.3 601.4,466.7 604.2,464.9 606.9,462.3 609.6,459.1 612.3,456 615,453.4 617.8,451.6 620.5,451 623.5,450.6 626.5,449.8 629.5,449.4 632.1,449.5 634.8,449.7 637.4,450.1 640,450.5 642.7,451.1 645.3,451.6 648,452.2 650.6,452.6 653.2,453 655.9,453.2 658.5,453.3 661.3,453.2 664,453 666.8,452.7 669.5,452.3 672.3,452 675.1,451.6 677.8,451.4 680.6,451.4 M598.7,449.4 601.4,449.1 604.2,448.3 606.9,447 609.6,445.5 612.3,444 615,442.7 617.8,441.9 620.5,441.6 623.5,442.1 626.5,443.1 629.5,443.6 632.1,444.4 634.6,446.9 637.2,450.5 639.8,454.9 642.3,459.2 644.9,462.9 647.4,465.3 650,466.2 652.8,466.2 655.7,466.2 658.5,466.2 661.3,465.2 664,462.6 666.8,458.6 669.5,453.9 672.3,449.2 675.1,445.2 677.8,442.5 680.6,441.6 M598.7,451.4 601.4,451.3 604.2,451.1 606.9,450.7 609.6,450.4 612.3,450 615,449.7 617.8,449.5 620.5,449.4 623.5,450.3 626.5,452 629.5,452.9 632.2,453.4 634.9,454.9 637.6,457.1 640.2,459.7 642.9,462.3 645.6,464.6 648.3,466 651,466.6 653.5,466.7 656,466.9 658.5,466.9 661.3,466.2 664,464.1 666.8,460.9 669.5,457.2 672.3,453.5 675.1,450.3 677.8,448.2 680.6,447.4 M598.7,468.9 601.4,469.2 604.2,469.9 606.9,471.1 609.6,472.4 612.3,473.8 615,474.9 617.8,475.7 620.5,475.9 623.5,475.7 626.5,475.3 629.5,475.1 632.1,475.1 634.8,474.9 637.4,474.5 640,474.1 642.7,473.6 645.3,473.1 648,472.7 650.6,472.2 653.2,471.9 655.9,471.7 658.5,471.6 661.3,471.8 664,472.1 666.8,472.7 669.5,473.4 672.3,474.1 675.1,474.6 677.8,475 680.6,475.1 M598.7,469.7 601.4,469.9 604.2,470.7 606.9,471.8 609.6,473.2 612.3,474.5 615,475.7 617.8,476.4 620.5,476.7 623.5,476.5 626.5,476.1 629.5,475.9 632.1,475.8 634.8,475.6 637.4,475.3 640,474.9 642.7,474.4 645.3,473.9 648,473.4 650.6,473 653.2,472.7 655.9,472.5 658.5,472.4 661.3,472.5 664,472.9 666.8,473.5 669.5,474.2 672.3,474.8 675.1,475.4 677.8,475.8 680.6,475.9 M598.7,472 601.4,472 604.2,472 606.9,472 609.6,472 612.3,472 615,472 617.8,472 620.5,472 623.5,471.9 626.5,471.7 629.5,471.6 632.1,471.6 634.8,471.7 637.4,471.7 640,471.7 642.7,471.8 645.3,471.9 648,471.9 650.6,472 653.2,472 655.9,472 658.5,472 661.3,472 664,472 666.8,472 669.5,472 672.3,472 675.1,472 677.8,472 680.6,472 M598.7,540.7 601.4,540.5 604.2,540.1 606.9,539.6 609.6,538.9 612.3,538.2 615,537.7 617.8,537.3 620.5,537.1 623.5,537.3 626.5,537.7 629.5,537.9 632.1,538 634.8,538.3 637.4,538.8 640,539.4 642.7,540.1 645.3,540.8 648,541.5 650.6,542.1 653.2,542.6 655.9,542.9 658.5,543 661.3,542.7 664,541.9 666.8,540.6 669.5,539.1 672.3,537.6 675.1,536.3 677.8,535.5 680.6,535.2 M598.7,540.3 601.4,540.4 604.2,540.9 606.9,541.6 609.6,542.4 612.3,543.2 615,543.9 617.8,544.4 620.5,544.6 623.5,544.4 626.5,544 629.5,543.8 632.1,543.7 634.8,543.4 637.4,543 640,542.5 642.7,541.9 645.3,541.3 648,540.7 650.6,540.2 653.2,539.8 655.9,539.6 658.5,539.5 661.3,539.7 664,540.3 666.8,541.3 669.5,542.4 672.3,543.5 675.1,544.5 677.8,545.1 680.6,545.3 M598.7,546.9 601.4,547 604.2,547.2 606.9,547.5 609.6,547.9 612.3,548.2 615,548.6 617.8,548.8 620.5,548.9 623.5,548.6 626.5,548 629.5,547.7 632.1,547.7 634.8,547.6 637.4,547.5 640,547.5 642.7,547.3 645.3,547.2 648,547.1 650.6,547 653.2,547 655.9,546.9 658.5,546.9 661.3,547 664,547.2 666.8,547.5 669.5,547.9 672.3,548.2 675.1,548.6 677.8,548.8 680.6,548.9 M598.7,571.1 601.4,571.1 604.2,571.3 606.9,571.6 609.6,571.9 612.3,572.2 615,572.4 617.8,572.6 620.5,572.6 623.5,572.4 626.5,572.1 629.5,571.9 632.1,571.8 634.8,571.7 637.4,571.6 640,571.4 642.7,571.2 645.3,571 648,570.8 650.6,570.6 653.2,570.4 655.9,570.3 658.5,570.3 661.3,570.4 664,570.6 666.8,571 669.5,571.5 672.3,571.9 675.1,572.3 677.8,572.6 680.6,572.6 M598.7,573.5 601.4,573.4 604.2,573.2 606.9,572.9 609.6,572.6 612.3,572.3 615,572.1 617.8,571.9 620.5,571.8 623.5,571 626.5,569.5 629.5,568.7 632.1,568.7 634.8,568.8 637.4,568.9 640,569.1 642.7,569.3 645.3,569.5 648,569.7 650.6,569.9 653.2,570 655.9,570.1 658.5,570.1 661.3,570.2 664,570.5 666.8,570.9 669.5,571.3 672.3,571.8 675.1,572.1 677.8,572.4 680.6,572.5 M598.7,574.6 601.4,575 604.2,576.1 606.9,577.7 609.6,579.7 612.3,581.6 615,583.3 617.8,584.4 620.5,584.8 623.5,585.8 626.5,587.9 629.5,588.9 632.1,588.6 634.8,587.9 637.4,586.6 640,585 642.7,583.2 645.3,581.3 648,579.4 650.6,577.8 653.2,576.6 655.9,575.8 658.5,575.5 661.3,575.7 664,576.3 666.8,577.1 669.5,578.1 672.3,579.1 675.1,580 677.8,580.5 680.6,580.7 M598.7,575.8 601.4,576.1 604.2,576.7 606.9,577.6 609.6,578.7 612.3,579.8 615,580.8 617.8,581.4 620.5,581.6 623.5,581.4 626.5,581 629.5,580.8 632.1,580.8 634.8,580.7 637.4,580.6 640,580.5 642.7,580.3 645.3,580.1 648,580 650.6,579.8 653.2,579.7 655.9,579.6 658.5,579.6 661.3,579.6 664,579.6 666.8,579.5 669.5,579.5 672.3,579.4 675.1,579.4 677.8,579.3 680.6,579.3 M598.7,578.3 601.4,578.6 604.2,579.3 606.9,580.3 609.6,581.5 612.3,582.8 615,583.8 617.8,584.5 620.5,584.8 623.5,584.3 626.5,583.3 629.5,582.8 632.1,582.6 634.8,582.1 637.4,581.3 640,580.2 642.7,579.1 645.3,577.8 648,576.6 650.6,575.6 653.2,574.8 655.9,574.3 658.5,574.1 661.3,574.4 664,575.3 666.8,576.6 669.5,578.2 672.3,579.7 675.1,581 677.8,581.9 680.6,582.2 M598.7,578.8 601.4,579 604.2,579.6 606.9,580.6 609.6,581.8 612.3,582.9 615,583.9 617.8,584.6 620.5,584.8 623.5,584.7 626.5,584.6 629.5,584.6 632.1,584.4 634.8,584 637.4,583.3 640,582.4 642.7,581.4 645.3,580.4 648,579.4 650.6,578.5 653.2,577.8 655.9,577.4 658.5,577.2 661.3,577.4 664,578 666.8,578.8 669.5,579.8 672.3,580.8 675.1,581.6 677.8,582.2 680.6,582.4 M598.7,580.5 601.4,580.8 604.2,581.9 606.9,583.4 609.6,585.2 612.3,587 615,588.5 617.8,589.5 620.5,589.9 623.5,588.7 626.5,586.4 629.5,585.3 632.1,585.2 634.8,585 637.4,584.7 640,584.3 642.7,583.9 645.3,583.4 648,583 650.6,582.6 653.2,582.3 655.9,582.1 658.5,582.1 661.3,582.2 664,582.7 666.8,583.3 669.5,584.1 672.3,584.9 675.1,585.5 677.8,586 680.6,586.1 M598.7,581.1 601.4,580.8 604.2,580.1 606.9,579.1 609.6,577.8 612.3,576.6 615,575.5 617.8,574.8 620.5,574.5 623.5,576 626.5,578.8 629.5,580.2 632.1,580.2 634.8,580.1 637.4,580.1 640,580 642.7,579.9 645.3,579.9 648,579.8 650.6,579.7 653.2,579.7 655.9,579.6 658.5,579.6 661.3,579.5 664,579.3 666.8,578.9 669.5,578.4 672.3,577.9 675.1,577.5 677.8,577.3 680.6,577.2 M598.7,582.7 601.4,582.5 604.2,581.7 606.9,580.5 609.6,579.2 612.3,577.8 615,576.6 617.8,575.8 620.5,575.6 623.5,575.7 626.5,576 629.5,576.2 632.1,576.3 634.8,576.7 637.4,577.4 640,578.3 642.7,579.3 645.3,580.4 648,581.4 650.6,582.2 653.2,582.9 655.9,583.4 658.5,583.5 661.3,583.3 664,582.8 666.8,581.9 669.5,581 672.3,580 675.1,579.2 677.8,578.6 680.6,578.4 M598.7,585.1 601.4,584.8 604.2,584.1 606.9,583 609.6,581.7 612.3,580.4 615,579.4 617.8,578.6 620.5,578.4 623.5,579.2 626.5,580.9 629.5,581.8 632.1,581.8 634.8,581.8 637.4,581.8 640,581.9 642.7,581.9 645.3,582 648,582.1 650.6,582.1 653.2,582.2 655.9,582.2 658.5,582.2 661.3,582.2 664,582 666.8,581.8 669.5,581.6 672.3,581.4 675.1,581.2 677.8,581.1 680.6,581.1 M598.7,586.6 601.4,586.7 604.2,586.8 606.9,587.1 609.6,587.4 612.3,587.6 615,587.9 617.8,588 620.5,588.1 623.5,586.8 626.5,584.1 629.5,582.8 632.1,582.9 634.8,583.3 637.4,583.9 640,584.6 642.7,585.4 645.3,586.3 648,587.2 650.6,587.9 653.2,588.5 655.9,588.8 658.5,589 661.3,588.9 664,588.7 666.8,588.5 669.5,588.2 672.3,588 675.1,587.7 677.8,587.6 680.6,587.5 M598.7,587 601.4,587 604.2,587.2 606.9,587.5 609.6,587.9 612.3,588.2 615,588.5 617.8,588.7 620.5,588.7 623.5,587.6 626.5,585.3 629.5,584.2 632.1,584.2 634.8,584.1 637.4,583.9 640,583.8 642.7,583.5 645.3,583.3 648,583.1 650.6,582.9 653.2,582.8 655.9,582.7 658.5,582.6 661.3,582.8 664,583.4 666.8,584.3 669.5,585.3 672.3,586.4 675.1,587.2 677.8,587.8 680.6,588 M598.7,589.3 601.4,589.1 604.2,588.4 606.9,587.5 609.6,586.4 612.3,585.3 615,584.3 617.8,583.7 620.5,583.5 623.5,583.5 626.5,583.6 629.5,583.6 632.1,583.8 634.8,584.4 637.4,585.2 640,586.3 642.7,587.6 645.3,588.9 648,590.2 650.6,591.3 653.2,592.2 655.9,592.7 658.5,592.9 661.3,592.6 664,591.9 666.8,590.7 669.5,589.3 672.3,588 675.1,586.8 677.8,586.1 680.6,585.8 M598.7,591 601.4,591.1 604.2,591.4 606.9,591.7 609.6,592.1 612.3,592.5 615,592.8 617.8,593.1 620.5,593.2 623.5,593.3 626.5,593.6 629.5,593.7 632.1,593.7 634.8,593.5 637.4,593.3 640,593.1 642.7,592.7 645.3,592.4 648,592.1 650.6,591.8 653.2,591.6 655.9,591.5 658.5,591.4 661.3,591.4 664,591.5 666.8,591.7 669.5,591.9 672.3,592 675.1,592.2 677.8,592.3 680.6,592.3 M598.7,592.2 601.4,592.4 604.2,593 606.9,593.8 609.6,594.7 612.3,595.7 615,596.5 617.8,597 620.5,597.2 623.5,597.8 626.5,598.8 629.5,599.4 632.1,599.1 634.8,598.3 637.4,597.1 640,595.6 642.7,593.8 645.3,591.9 648,590.1 650.6,588.6 653.2,587.3 655.9,586.6 658.5,586.3 661.3,586.6 664,587.6 666.8,589.1 669.5,590.8 672.3,592.5 675.1,593.9 677.8,594.9 680.6,595.2 M598.7,593.9 601.4,593.7 604.2,593.4 606.9,592.9 609.6,592.4 612.3,591.8 615,591.3 617.8,591 620.5,590.9 623.5,589.9 626.5,587.9 629.5,586.9 632.1,587.1 634.8,587.7 637.4,588.6 640,589.7 642.7,591 645.3,592.3 648,593.6 650.6,594.7 653.2,595.6 655.9,596.2 658.5,596.3 661.3,596.2 664,595.7 666.8,595 669.5,594.2 672.3,593.4 675.1,592.7 677.8,592.3 680.6,592.1 M598.7,593.8 601.4,593.7 604.2,593.5 606.9,593.1 609.6,592.7 612.3,592.3 615,591.9 617.8,591.7 620.5,591.6 623.5,590.4 626.5,588.1 629.5,586.9 632.1,587.1 634.8,587.5 637.4,588.2 640,589.1 642.7,590.1 645.3,591.1 648,592.2 650.6,593 653.2,593.7 655.9,594.2 658.5,594.3 661.3,594.3 664,594.1 666.8,593.8 669.5,593.4 672.3,593.1 675.1,592.8 677.8,592.6 680.6,592.5 M598.7,596.1 601.4,596.2 604.2,596.7 606.9,597.3 609.6,598.1 612.3,598.9 615,599.5 617.8,600 620.5,600.1 623.5,598.7 626.5,595.7 629.5,594.3 632.1,594.3 634.8,594.2 637.4,594.1 640,593.9 642.7,593.8 645.3,593.6 648,593.4 650.6,593.3 653.2,593.2 655.9,593.1 658.5,593.1 661.3,593.3 664,593.9 666.8,594.8 669.5,595.8 672.3,596.8 675.1,597.7 677.8,598.3 680.6,598.5 M598.7,597.5 601.4,597.6 604.2,598 606.9,598.5 609.6,599.2 612.3,599.8 615,600.4 617.8,600.7 620.5,600.9 623.5,601.5 626.5,602.8 629.5,603.5 632.1,603.4 634.8,603.3 637.4,603 640,602.7 642.7,602.4 645.3,602 648,601.6 650.6,601.3 653.2,601.1 655.9,600.9 658.5,600.8 661.3,600.8 664,600.6 666.8,600.4 669.5,600.2 672.3,599.9 675.1,599.7 677.8,599.6 680.6,599.5 M598.7,599.3 601.4,599.1 604.2,598.6 606.9,597.9 609.6,597 612.3,596.1 615,595.4 617.8,594.9 620.5,594.7 623.5,595.4 626.5,596.6 629.5,597.2 632.1,597.1 634.8,596.9 637.4,596.4 640,595.8 642.7,595.1 645.3,594.4 648,593.7 650.6,593.1 653.2,592.7 655.9,592.4 658.5,592.3 661.3,592.4 664,592.9 666.8,593.6 669.5,594.4 672.3,595.2 675.1,595.9 677.8,596.4 680.6,596.6 M598.7,600.5 601.4,600.7 604.2,601.4 606.9,602.5 609.6,603.7 612.3,605 615,606.1 617.8,606.8 620.5,607 623.5,607 626.5,606.9 629.5,606.9 632.1,606.8 634.8,606.5 637.4,606.1 640,605.5 642.7,604.9 645.3,604.2 648,603.5 650.6,603 653.2,602.5 655.9,602.3 658.5,602.2 661.3,602.3 664,602.5 666.8,602.9 669.5,603.3 672.3,603.7 675.1,604.1 677.8,604.3 680.6,604.4 M598.7,601.7 601.4,601.4 604.2,600.7 606.9,599.6 609.6,598.2 612.3,596.9 615,595.8 617.8,595 620.5,594.8 623.5,593.6 626.5,591.4 629.5,590.3 632.1,590.4 634.8,590.7 637.4,591.3 640,592 642.7,592.8 645.3,593.6 648,594.4 650.6,595.1 653.2,595.6 655.9,596 658.5,596.1 661.3,596.2 664,596.3 666.8,596.5 669.5,596.8 672.3,597.1 675.1,597.3 677.8,597.5 680.6,597.5 M598.7,602.7 601.4,602.5 604.2,601.8 606.9,600.8 609.6,599.6 612.3,598.5 615,597.5 617.8,596.8 620.5,596.6 623.5,595.3 626.5,592.7 629.5,591.4 632.1,591.6 634.8,592.1 637.4,592.9 640,594 642.7,595.2 645.3,596.4 648,597.6 650.6,598.7 653.2,599.5 655.9,600 658.5,600.2 661.3,600.1 664,600 666.8,599.8 669.5,599.6 672.3,599.4 675.1,599.2 677.8,599.1 680.6,599 M598.7,604 601.4,604.4 604.2,605.5 606.9,607.3 609.6,609.3 612.3,611.4 615,613.1 617.8,614.3 620.5,614.7 623.5,614 626.5,612.7 629.5,612 632.1,611.8 634.8,611.2 637.4,610.4 640,609.2 642.7,608 645.3,606.6 648,605.3 650.6,604.2 653.2,603.3 655.9,602.8 658.5,602.6 661.3,602.9 664,603.7 666.8,605 669.5,606.5 672.3,608 675.1,609.3 677.8,610.1 680.6,610.4" stroke="#3b7dbd" stroke-width="1"/>
</g>
<rect x="598.7" y="445.5" width="81.9" height="156" fill="none" stroke="#333" stroke-width="1"/>
<line x1="504.2" y1="445.5" x2="507.5" y2="445.5" stroke="#333" stroke-width="1"/>
<text x="503" y="449.1" font-size="10.2" text-anchor="end" fill="#222">2</text>
<line x1="504.2" y1="484.5" x2="507.5" y2="484.5" stroke="#333" stroke-width="1"/>
<text x="503" y="488.1" font-size="10.2" text-anchor="end" fill="#222">1</text>
<line x1="504.2" y1="523.5" x2="507.5" y2="523.5" stroke="#333" stroke-width="1"/>
<text x="503" y="527.1" font-size="10.2" text-anchor="end" fill="#222">0</text>
<line x1="504.2" y1="562.5" x2="507.5" y2="562.5" stroke="#333" stroke-width="1"/>
<text x="503" y="566.1" font-size="10.2" text-anchor="end" fill="#222">-1</text>
<line x1="504.2" y1="601.5" x2="507.5" y2="601.5" stroke="#333" stroke-width="1"/>
<text x="503" y="605.1" font-size="10.2" text-anchor="end" fill="#222">-2</text>
<line x1="505.8" y1="465" x2="507.5" y2="465" stroke="#333" stroke-width="0.8"/>
<line x1="505.8" y1="504" x2="507.5" y2="504" stroke="#333" stroke-width="0.8"/>
<line x1="505.8" y1="543" x2="507.5" y2="543" stroke="#333" stroke-width="0.8"/>
<line x1="505.8" y1="582" x2="507.5" y2="582" stroke="#333" stroke-width="0.8"/>
<text transform="translate(486.3,522.75) rotate(-90)" font-size="13" text-anchor="middle" fill="#111"><tspan font-style="italic">E</tspan>-<tspan font-style="italic">E</tspan><tspan font-style="italic" font-size="8.5" dy="2.5">F</tspan><tspan dy="-2.5"> (eV)</tspan></text>
<text x="509.4" y="618.3" font-size="11" font-family="Liberation Serif" text-anchor="middle" fill="#222">Γ</text>
<text x="528.2" y="618.3" font-size="11" font-family="Liberation Serif" text-anchor="middle" fill="#222">M</text>
<text x="537.6" y="618.3" font-size="11" font-family="Liberation Serif" text-anchor="middle" fill="#222">L</text>
<text x="567" y="618.3" font-size="11" font-family="Liberation Serif" text-anchor="middle" fill="#222">Γ</text>
<text x="588.9" y="618.3" font-size="11" font-family="Liberation Serif" text-anchor="middle" fill="#222">A</text>
<text x="599.9" y="618.3" font-size="11" font-family="Liberation Serif" text-anchor="middle" fill="#222">Γ</text>
<text x="620.8" y="618.3" font-size="11" font-family="Liberation Serif" text-anchor="middle" fill="#222">M</text>
<text x="629.6" y="618.3" font-size="11" font-family="Liberation Serif" text-anchor="middle" fill="#222">L</text>
<text x="658.4" y="618.3" font-size="11" font-family="Liberation Serif" text-anchor="middle" fill="#222">Γ</text>
<text x="680.6" y="618.3" font-size="11" font-family="Liberation Serif" text-anchor="middle" fill="#222">A</text>
<text x="551.6" y="509.6" font-size="10" text-anchor="middle" fill="#111">Band gap</text>
<text x="551.5" y="521.7" font-size="10" text-anchor="middle" fill="#111">NFM 1.09 eV</text>
<line x1="517.6" y1="493" x2="517.6" y2="531" stroke="#111" stroke-width="0.9"/>
<polygon points="516,494 519.2,494 517.6,489.8" fill="#111" stroke="none" stroke-width="1"/>
<polygon points="516,530 519.2,530 517.6,534.2" fill="#111" stroke="none" stroke-width="1"/>
<text x="637" y="518.3" font-size="10" text-anchor="middle" fill="#111">Band gap</text>
<text x="637" y="530.3" font-size="10" text-anchor="middle" fill="#111">CFTS5 0.71 eV</text>
<line x1="674.3" y1="510" x2="674.3" y2="532" stroke="#111" stroke-width="0.9"/>
<polygon points="672.7,511 675.9,511 674.3,506.8" fill="#111" stroke="none" stroke-width="1"/>
<polygon points="672.7,531 675.9,531 674.3,535.2" fill="#111" stroke="none" stroke-width="1"/>
</svg>
</body></html>
